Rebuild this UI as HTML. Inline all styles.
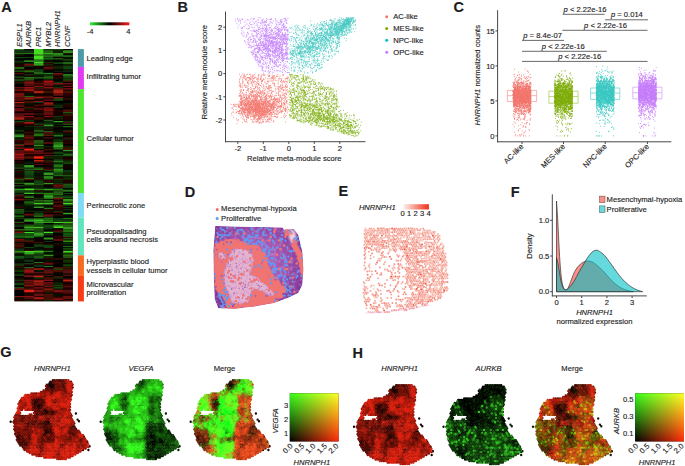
<!DOCTYPE html>
<html><head><meta charset="utf-8"><style>
html,body{margin:0;padding:0;background:#fff;}
svg{display:block;font-family:"Liberation Sans",sans-serif;font-size:7.6px;}
text{stroke:#222;stroke-width:.14px;fill:#1c1c1c}
</style></head><body>
<svg width="685" height="466" viewBox="0 0 685 466">
<text x="1.2" y="11.7" font-size="14.5" font-weight="bold">A</text>
<text x="177.6" y="11.7" font-size="14.5" font-weight="bold">B</text>
<text x="453.6" y="11.7" font-size="14.5" font-weight="bold">C</text>
<text x="184.8" y="196.6" font-size="14.5" font-weight="bold">D</text>
<text x="338.6" y="196.2" font-size="14.5" font-weight="bold">E</text>
<text x="510.8" y="196.6" font-size="14.5" font-weight="bold">F</text>
<text x="0.2" y="357.4" font-size="14.5" font-weight="bold">G</text>
<text x="352.4" y="358.2" font-size="14.5" font-weight="bold">H</text>
<rect x="14.5" y="49.1" width="58.3" height="252.1" fill="#000"/>
<path fill="#271" d="M14.5 49.1h9.77v1.31h-9.77zM24.22 52.88h9.77v1.31h-9.77zM24.22 76.82h9.77v1.31h-9.77zM53.37 99.5h9.77v1.31h-9.77zM33.93 134.78h9.77v1.31h-9.77zM53.37 134.78h9.77v1.31h-9.77zM53.37 143.6h9.77v1.31h-9.77zM53.37 165.02h9.77v2.57h-9.77zM33.93 168.8h9.77v1.31h-9.77zM53.37 170.06h9.77v1.31h-9.77zM24.22 171.32h9.77v1.31h-9.77zM53.37 171.32h9.77v1.31h-9.77zM53.37 175.1h9.77v1.31h-9.77zM24.22 177.62h9.77v1.31h-9.77zM43.65 177.62h9.77v1.31h-9.77zM24.22 183.92h9.77v1.31h-9.77zM14.5 185.18h9.77v1.31h-9.77zM24.22 187.7h9.77v1.31h-9.77zM33.93 188.96h9.77v1.31h-9.77zM53.37 188.96h9.77v1.31h-9.77zM33.93 192.74h9.77v1.31h-9.77zM53.37 194h9.77v1.31h-9.77zM63.08 196.52h9.77v1.31h-9.77zM43.65 197.78h9.77v1.31h-9.77zM43.65 207.86h9.77v1.31h-9.77zM14.5 210.38h9.77v1.31h-9.77zM63.08 217.94h9.77v1.31h-9.77zM43.65 219.2h9.77v2.57h-9.77zM43.65 225.5h9.77v1.31h-9.77zM33.93 229.28h9.77v1.31h-9.77zM24.22 235.58h9.77v1.31h-9.77zM33.93 235.58h9.77v1.31h-9.77zM43.65 250.7h9.77v1.31h-9.77zM33.93 262.04h9.77v1.31h-9.77zM43.65 265.82h9.77v1.31h-9.77zM53.37 268.34h9.77v1.31h-9.77zM14.5 283.46h9.77v1.31h-9.77z"/>
<path fill="#100" d="M24.22 49.1h9.77v1.31h-9.77zM24.22 54.14h9.77v1.31h-9.77zM53.37 56.66h9.77v1.31h-9.77zM33.93 65.48h9.77v1.31h-9.77zM33.93 66.74h9.77v2.57h-9.77zM14.5 71.78h9.77v1.31h-9.77zM24.22 73.04h9.77v1.31h-9.77zM53.37 75.56h9.77v1.31h-9.77zM14.5 78.08h9.77v1.31h-9.77zM43.65 79.34h9.77v1.31h-9.77zM63.08 84.38h9.77v1.31h-9.77zM14.5 85.64h9.77v1.31h-9.77zM63.08 86.9h9.77v1.31h-9.77zM43.65 89.42h9.77v1.31h-9.77zM33.93 93.2h9.77v2.57h-9.77zM43.65 93.2h9.77v2.57h-9.77zM63.08 99.5h9.77v1.31h-9.77zM14.5 107.06h9.77v1.31h-9.77zM63.08 107.06h9.77v1.31h-9.77zM33.93 109.58h9.77v1.31h-9.77zM24.22 112.1h9.77v1.31h-9.77zM53.37 112.1h9.77v1.31h-9.77zM53.37 113.36h9.77v1.31h-9.77zM24.22 114.62h9.77v1.31h-9.77zM33.93 114.62h9.77v1.31h-9.77zM43.65 117.14h9.77v2.57h-9.77zM63.08 119.66h9.77v1.31h-9.77zM33.93 120.92h9.77v1.31h-9.77zM14.5 124.7h9.77v1.31h-9.77zM24.22 129.74h9.77v1.31h-9.77zM43.65 138.56h9.77v1.31h-9.77zM43.65 139.82h9.77v2.57h-9.77zM24.22 144.86h9.77v1.31h-9.77zM63.08 144.86h9.77v1.31h-9.77zM43.65 151.16h9.77v1.31h-9.77zM63.08 151.16h9.77v1.31h-9.77zM43.65 153.68h9.77v1.31h-9.77zM63.08 156.2h9.77v2.57h-9.77zM43.65 158.72h9.77v1.31h-9.77zM14.5 159.98h9.77v1.31h-9.77zM14.5 162.5h9.77v1.31h-9.77zM43.65 165.02h9.77v2.57h-9.77zM63.08 165.02h9.77v2.57h-9.77zM63.08 167.54h9.77v1.31h-9.77zM14.5 168.8h9.77v1.31h-9.77zM14.5 176.36h9.77v1.31h-9.77zM14.5 183.92h9.77v1.31h-9.77zM43.65 186.44h9.77v1.31h-9.77zM43.65 191.48h9.77v1.31h-9.77zM53.37 200.3h9.77v1.31h-9.77zM14.5 202.82h9.77v1.31h-9.77zM53.37 202.82h9.77v1.31h-9.77zM63.08 207.86h9.77v1.31h-9.77zM63.08 215.42h9.77v1.31h-9.77zM24.22 216.68h9.77v1.31h-9.77zM24.22 222.98h9.77v1.31h-9.77zM14.5 226.76h9.77v1.31h-9.77zM43.65 230.54h9.77v1.31h-9.77zM14.5 238.1h9.77v1.31h-9.77zM24.22 243.14h9.77v1.31h-9.77zM53.37 251.96h9.77v1.31h-9.77zM53.37 254.48h9.77v1.31h-9.77zM24.22 258.26h9.77v1.31h-9.77zM63.08 258.26h9.77v1.31h-9.77zM14.5 262.04h9.77v1.31h-9.77zM53.37 262.04h9.77v1.31h-9.77zM53.37 263.3h9.77v1.31h-9.77zM53.37 272.12h9.77v1.31h-9.77zM33.93 273.38h9.77v1.31h-9.77zM63.08 277.16h9.77v1.31h-9.77zM24.22 278.42h9.77v1.31h-9.77zM33.93 278.42h9.77v1.31h-9.77zM53.37 278.42h9.77v1.31h-9.77zM43.65 280.94h9.77v1.31h-9.77zM14.5 298.58h9.77v1.31h-9.77zM63.08 298.58h9.77v1.31h-9.77z"/>
<path fill="#4d2" d="M33.93 49.1h9.77v1.31h-9.77zM33.93 50.36h9.77v2.57h-9.77zM33.93 52.88h9.77v1.31h-9.77zM33.93 55.4h9.77v1.31h-9.77zM33.93 56.66h9.77v1.31h-9.77zM33.93 57.92h9.77v1.31h-9.77zM33.93 61.7h9.77v1.31h-9.77zM33.93 64.22h9.77v1.31h-9.77zM24.22 188.96h9.77v1.31h-9.77zM24.22 196.52h9.77v1.31h-9.77zM63.08 202.82h9.77v1.31h-9.77zM53.37 221.72h9.77v1.31h-9.77zM53.37 226.76h9.77v1.31h-9.77zM24.22 231.8h9.77v1.31h-9.77zM43.65 231.8h9.77v1.31h-9.77zM24.22 250.7h9.77v1.31h-9.77zM63.08 250.7h9.77v1.31h-9.77zM24.22 253.22h9.77v1.31h-9.77z"/>
<path fill="#131" d="M43.65 49.1h9.77v1.31h-9.77zM14.5 50.36h9.77v2.57h-9.77zM24.22 50.36h9.77v2.57h-9.77zM53.37 59.18h9.77v1.31h-9.77zM53.37 61.7h9.77v1.31h-9.77zM53.37 70.52h9.77v1.31h-9.77zM14.5 75.56h9.77v1.31h-9.77zM33.93 78.08h9.77v1.31h-9.77zM53.37 81.86h9.77v1.31h-9.77zM53.37 86.9h9.77v1.31h-9.77zM33.93 98.24h9.77v1.31h-9.77zM33.93 102.02h9.77v1.31h-9.77zM53.37 107.06h9.77v1.31h-9.77zM53.37 115.88h9.77v1.31h-9.77zM24.22 119.66h9.77v1.31h-9.77zM63.08 120.92h9.77v1.31h-9.77zM43.65 122.18h9.77v1.31h-9.77zM33.93 125.96h9.77v1.31h-9.77zM43.65 125.96h9.77v1.31h-9.77zM14.5 129.74h9.77v1.31h-9.77zM53.37 133.52h9.77v1.31h-9.77zM53.37 138.56h9.77v1.31h-9.77zM63.08 138.56h9.77v1.31h-9.77zM53.37 151.16h9.77v1.31h-9.77zM63.08 152.42h9.77v1.31h-9.77zM53.37 158.72h9.77v1.31h-9.77zM24.22 170.06h9.77v1.31h-9.77zM63.08 170.06h9.77v1.31h-9.77zM63.08 171.32h9.77v1.31h-9.77zM24.22 175.1h9.77v1.31h-9.77zM24.22 176.36h9.77v1.31h-9.77zM33.93 176.36h9.77v1.31h-9.77zM43.65 178.88h9.77v1.31h-9.77zM53.37 182.66h9.77v1.31h-9.77zM14.5 187.7h9.77v1.31h-9.77zM33.93 187.7h9.77v1.31h-9.77zM43.65 187.7h9.77v1.31h-9.77zM53.37 187.7h9.77v1.31h-9.77zM14.5 194h9.77v1.31h-9.77zM33.93 197.78h9.77v1.31h-9.77zM24.22 199.04h9.77v1.31h-9.77zM43.65 204.08h9.77v1.31h-9.77zM63.08 206.6h9.77v1.31h-9.77zM63.08 209.12h9.77v1.31h-9.77zM33.93 210.38h9.77v1.31h-9.77zM43.65 216.68h9.77v1.31h-9.77zM53.37 217.94h9.77v1.31h-9.77zM63.08 219.2h9.77v2.57h-9.77zM14.5 224.24h9.77v1.31h-9.77zM43.65 228.02h9.77v1.31h-9.77zM43.65 233.06h9.77v2.57h-9.77zM43.65 240.62h9.77v1.31h-9.77zM33.93 245.66h9.77v1.31h-9.77zM14.5 248.18h9.77v1.31h-9.77zM14.5 249.44h9.77v1.31h-9.77zM33.93 249.44h9.77v1.31h-9.77zM63.08 249.44h9.77v1.31h-9.77zM24.22 255.74h9.77v2.57h-9.77zM24.22 259.52h9.77v2.57h-9.77zM14.5 263.3h9.77v1.31h-9.77zM33.93 265.82h9.77v1.31h-9.77zM14.5 279.68h9.77v1.31h-9.77zM14.5 282.2h9.77v1.31h-9.77z"/>
<path fill="#141" d="M53.37 49.1h9.77v1.31h-9.77zM14.5 56.66h9.77v1.31h-9.77zM24.22 56.66h9.77v1.31h-9.77zM43.65 56.66h9.77v1.31h-9.77zM43.65 59.18h9.77v1.31h-9.77zM14.5 60.44h9.77v1.31h-9.77zM53.37 62.96h9.77v1.31h-9.77zM43.65 64.22h9.77v1.31h-9.77zM24.22 65.48h9.77v1.31h-9.77zM63.08 65.48h9.77v1.31h-9.77zM63.08 66.74h9.77v2.57h-9.77zM33.93 69.26h9.77v1.31h-9.77zM33.93 70.52h9.77v1.31h-9.77zM63.08 70.52h9.77v1.31h-9.77zM24.22 74.3h9.77v1.31h-9.77zM14.5 76.82h9.77v1.31h-9.77zM63.08 76.82h9.77v1.31h-9.77zM43.65 78.08h9.77v1.31h-9.77zM53.37 104.54h9.77v1.31h-9.77zM14.5 120.92h9.77v1.31h-9.77zM43.65 123.44h9.77v1.31h-9.77zM53.37 123.44h9.77v1.31h-9.77zM53.37 136.04h9.77v1.31h-9.77zM14.5 138.56h9.77v1.31h-9.77zM14.5 143.6h9.77v1.31h-9.77zM53.37 148.64h9.77v1.31h-9.77zM53.37 154.94h9.77v1.31h-9.77zM53.37 159.98h9.77v1.31h-9.77zM63.08 161.24h9.77v1.31h-9.77zM24.22 162.5h9.77v1.31h-9.77zM24.22 167.54h9.77v1.31h-9.77zM53.37 167.54h9.77v1.31h-9.77zM43.65 170.06h9.77v1.31h-9.77zM33.93 171.32h9.77v1.31h-9.77zM24.22 172.58h9.77v2.57h-9.77zM53.37 172.58h9.77v2.57h-9.77zM33.93 180.14h9.77v2.57h-9.77zM33.93 182.66h9.77v1.31h-9.77zM14.5 190.22h9.77v1.31h-9.77zM24.22 191.48h9.77v1.31h-9.77zM33.93 191.48h9.77v1.31h-9.77zM63.08 192.74h9.77v1.31h-9.77zM24.22 195.26h9.77v1.31h-9.77zM63.08 195.26h9.77v1.31h-9.77zM43.65 201.56h9.77v1.31h-9.77zM24.22 202.82h9.77v1.31h-9.77zM24.22 210.38h9.77v1.31h-9.77zM53.37 210.38h9.77v1.31h-9.77zM14.5 211.64h9.77v1.31h-9.77zM14.5 212.9h9.77v1.31h-9.77zM33.93 212.9h9.77v1.31h-9.77zM33.93 214.16h9.77v1.31h-9.77zM24.22 217.94h9.77v1.31h-9.77zM53.37 219.2h9.77v2.57h-9.77zM24.22 224.24h9.77v1.31h-9.77zM43.65 224.24h9.77v1.31h-9.77zM14.5 225.5h9.77v1.31h-9.77zM33.93 225.5h9.77v1.31h-9.77zM14.5 233.06h9.77v2.57h-9.77zM43.65 236.84h9.77v1.31h-9.77zM24.22 239.36h9.77v1.31h-9.77zM63.08 243.14h9.77v1.31h-9.77zM43.65 244.4h9.77v1.31h-9.77zM43.65 245.66h9.77v1.31h-9.77zM24.22 246.92h9.77v1.31h-9.77zM43.65 246.92h9.77v1.31h-9.77zM24.22 254.48h9.77v1.31h-9.77zM33.93 254.48h9.77v1.31h-9.77zM14.5 258.26h9.77v1.31h-9.77zM33.93 258.26h9.77v1.31h-9.77zM33.93 264.56h9.77v1.31h-9.77zM14.5 274.64h9.77v1.31h-9.77zM33.93 277.16h9.77v1.31h-9.77zM53.37 277.16h9.77v1.31h-9.77zM53.37 284.72h9.77v1.31h-9.77z"/>
<path fill="#000" d="M63.08 49.1h9.77v1.31h-9.77zM63.08 54.14h9.77v1.31h-9.77zM14.5 55.4h9.77v1.31h-9.77zM24.22 55.4h9.77v1.31h-9.77zM24.22 57.92h9.77v1.31h-9.77zM14.5 59.18h9.77v1.31h-9.77zM43.65 60.44h9.77v1.31h-9.77zM53.37 60.44h9.77v1.31h-9.77zM24.22 61.7h9.77v1.31h-9.77zM53.37 64.22h9.77v1.31h-9.77zM24.22 66.74h9.77v2.57h-9.77zM14.5 69.26h9.77v1.31h-9.77zM53.37 69.26h9.77v1.31h-9.77zM43.65 70.52h9.77v1.31h-9.77zM53.37 71.78h9.77v1.31h-9.77zM63.08 73.04h9.77v1.31h-9.77zM14.5 74.3h9.77v1.31h-9.77zM33.93 75.56h9.77v1.31h-9.77zM33.93 79.34h9.77v1.31h-9.77zM53.37 79.34h9.77v1.31h-9.77zM63.08 81.86h9.77v1.31h-9.77zM14.5 84.38h9.77v1.31h-9.77zM53.37 95.72h9.77v1.31h-9.77zM63.08 96.98h9.77v1.31h-9.77zM24.22 99.5h9.77v1.31h-9.77zM33.93 99.5h9.77v1.31h-9.77zM43.65 100.76h9.77v1.31h-9.77zM53.37 100.76h9.77v1.31h-9.77zM63.08 100.76h9.77v1.31h-9.77zM53.37 102.02h9.77v1.31h-9.77zM63.08 102.02h9.77v1.31h-9.77zM33.93 103.28h9.77v1.31h-9.77zM43.65 105.8h9.77v1.31h-9.77zM53.37 108.32h9.77v1.31h-9.77zM63.08 108.32h9.77v1.31h-9.77zM14.5 112.1h9.77v1.31h-9.77zM33.93 112.1h9.77v1.31h-9.77zM33.93 115.88h9.77v1.31h-9.77zM33.93 119.66h9.77v1.31h-9.77zM53.37 119.66h9.77v1.31h-9.77zM53.37 122.18h9.77v1.31h-9.77zM53.37 124.7h9.77v1.31h-9.77zM63.08 124.7h9.77v1.31h-9.77zM14.5 125.96h9.77v1.31h-9.77zM53.37 127.22h9.77v2.57h-9.77zM63.08 127.22h9.77v2.57h-9.77zM53.37 131h9.77v1.31h-9.77zM24.22 133.52h9.77v1.31h-9.77zM43.65 136.04h9.77v1.31h-9.77zM63.08 136.04h9.77v1.31h-9.77zM43.65 143.6h9.77v1.31h-9.77zM63.08 143.6h9.77v1.31h-9.77zM43.65 144.86h9.77v1.31h-9.77zM24.22 146.12h9.77v1.31h-9.77zM43.65 147.38h9.77v1.31h-9.77zM33.93 148.64h9.77v1.31h-9.77zM53.37 149.9h9.77v1.31h-9.77zM24.22 154.94h9.77v1.31h-9.77zM24.22 158.72h9.77v1.31h-9.77zM24.22 159.98h9.77v1.31h-9.77zM33.93 162.5h9.77v1.31h-9.77zM24.22 163.76h9.77v1.31h-9.77zM33.93 165.02h9.77v2.57h-9.77zM63.08 168.8h9.77v1.31h-9.77zM43.65 175.1h9.77v1.31h-9.77zM24.22 180.14h9.77v2.57h-9.77zM43.65 185.18h9.77v1.31h-9.77zM14.5 186.44h9.77v1.31h-9.77zM63.08 191.48h9.77v1.31h-9.77zM24.22 194h9.77v1.31h-9.77zM63.08 194h9.77v1.31h-9.77zM33.93 195.26h9.77v1.31h-9.77zM14.5 201.56h9.77v1.31h-9.77zM63.08 205.34h9.77v1.31h-9.77zM33.93 207.86h9.77v1.31h-9.77zM24.22 209.12h9.77v1.31h-9.77zM33.93 209.12h9.77v1.31h-9.77zM63.08 210.38h9.77v1.31h-9.77zM24.22 211.64h9.77v1.31h-9.77zM43.65 212.9h9.77v1.31h-9.77zM53.37 212.9h9.77v1.31h-9.77zM63.08 214.16h9.77v1.31h-9.77zM53.37 216.68h9.77v1.31h-9.77zM14.5 219.2h9.77v2.57h-9.77zM24.22 221.72h9.77v1.31h-9.77zM43.65 222.98h9.77v1.31h-9.77zM14.5 228.02h9.77v1.31h-9.77zM53.37 233.06h9.77v2.57h-9.77zM43.65 235.58h9.77v1.31h-9.77zM24.22 238.1h9.77v1.31h-9.77zM33.93 238.1h9.77v1.31h-9.77zM43.65 239.36h9.77v1.31h-9.77zM33.93 240.62h9.77v1.31h-9.77zM53.37 240.62h9.77v1.31h-9.77zM43.65 241.88h9.77v1.31h-9.77zM53.37 241.88h9.77v1.31h-9.77zM24.22 244.4h9.77v1.31h-9.77zM24.22 245.66h9.77v1.31h-9.77zM53.37 245.66h9.77v1.31h-9.77zM53.37 246.92h9.77v1.31h-9.77zM53.37 248.18h9.77v1.31h-9.77zM53.37 249.44h9.77v1.31h-9.77zM53.37 250.7h9.77v1.31h-9.77zM14.5 254.48h9.77v1.31h-9.77zM53.37 255.74h9.77v2.57h-9.77zM33.93 259.52h9.77v2.57h-9.77zM53.37 259.52h9.77v2.57h-9.77zM24.22 262.04h9.77v1.31h-9.77zM63.08 263.3h9.77v1.31h-9.77zM53.37 264.56h9.77v1.31h-9.77zM24.22 265.82h9.77v1.31h-9.77zM53.37 265.82h9.77v1.31h-9.77zM33.93 267.08h9.77v1.31h-9.77zM43.65 267.08h9.77v1.31h-9.77zM14.5 268.34h9.77v1.31h-9.77zM14.5 272.12h9.77v1.31h-9.77zM24.22 273.38h9.77v1.31h-9.77zM53.37 274.64h9.77v1.31h-9.77zM14.5 275.9h9.77v1.31h-9.77zM43.65 275.9h9.77v1.31h-9.77zM63.08 275.9h9.77v1.31h-9.77zM24.22 277.16h9.77v1.31h-9.77zM53.37 280.94h9.77v1.31h-9.77zM63.08 282.2h9.77v1.31h-9.77zM14.5 285.98h9.77v1.31h-9.77zM14.5 289.76h9.77v2.57h-9.77zM14.5 292.28h9.77v1.31h-9.77zM14.5 293.54h9.77v2.57h-9.77z"/>
<path fill="#261" d="M43.65 50.36h9.77v2.57h-9.77zM14.5 52.88h9.77v1.31h-9.77zM43.65 54.14h9.77v1.31h-9.77zM53.37 55.4h9.77v1.31h-9.77zM43.65 57.92h9.77v1.31h-9.77zM63.08 61.7h9.77v1.31h-9.77zM63.08 62.96h9.77v1.31h-9.77zM14.5 66.74h9.77v2.57h-9.77zM14.5 70.52h9.77v1.31h-9.77zM33.93 71.78h9.77v1.31h-9.77zM33.93 73.04h9.77v1.31h-9.77zM63.08 75.56h9.77v1.31h-9.77zM43.65 76.82h9.77v1.31h-9.77zM63.08 79.34h9.77v1.31h-9.77zM24.22 95.72h9.77v1.31h-9.77zM63.08 112.1h9.77v1.31h-9.77zM63.08 123.44h9.77v1.31h-9.77zM63.08 125.96h9.77v1.31h-9.77zM14.5 133.52h9.77v1.31h-9.77zM33.93 147.38h9.77v1.31h-9.77zM53.37 152.42h9.77v1.31h-9.77zM63.08 153.68h9.77v1.31h-9.77zM33.93 167.54h9.77v1.31h-9.77zM63.08 185.18h9.77v1.31h-9.77zM14.5 191.48h9.77v1.31h-9.77zM43.65 194h9.77v1.31h-9.77zM63.08 204.08h9.77v1.31h-9.77zM43.65 217.94h9.77v1.31h-9.77zM33.93 224.24h9.77v1.31h-9.77zM63.08 224.24h9.77v1.31h-9.77zM63.08 225.5h9.77v1.31h-9.77zM24.22 228.02h9.77v1.31h-9.77zM33.93 231.8h9.77v1.31h-9.77zM14.5 235.58h9.77v1.31h-9.77zM63.08 235.58h9.77v1.31h-9.77zM24.22 236.84h9.77v1.31h-9.77zM63.08 238.1h9.77v1.31h-9.77zM63.08 245.66h9.77v1.31h-9.77zM14.5 251.96h9.77v1.31h-9.77zM63.08 264.56h9.77v1.31h-9.77zM24.22 267.08h9.77v1.31h-9.77zM14.5 287.24h9.77v1.31h-9.77z"/>
<path fill="#120" d="M53.37 50.36h9.77v2.57h-9.77zM63.08 52.88h9.77v1.31h-9.77zM14.5 54.14h9.77v1.31h-9.77zM14.5 61.7h9.77v1.31h-9.77zM24.22 62.96h9.77v1.31h-9.77zM63.08 64.22h9.77v1.31h-9.77zM53.37 65.48h9.77v1.31h-9.77zM53.37 66.74h9.77v2.57h-9.77zM63.08 69.26h9.77v1.31h-9.77zM24.22 71.78h9.77v1.31h-9.77zM53.37 84.38h9.77v1.31h-9.77zM33.93 86.9h9.77v1.31h-9.77zM63.08 103.28h9.77v1.31h-9.77zM53.37 105.8h9.77v1.31h-9.77zM24.22 108.32h9.77v1.31h-9.77zM63.08 113.36h9.77v1.31h-9.77zM53.37 117.14h9.77v2.57h-9.77zM24.22 120.92h9.77v1.31h-9.77zM24.22 125.96h9.77v1.31h-9.77zM53.37 125.96h9.77v1.31h-9.77zM33.93 127.22h9.77v2.57h-9.77zM43.65 127.22h9.77v2.57h-9.77zM63.08 129.74h9.77v1.31h-9.77zM14.5 131h9.77v1.31h-9.77zM53.37 132.26h9.77v1.31h-9.77zM63.08 133.52h9.77v1.31h-9.77zM33.93 136.04h9.77v1.31h-9.77zM33.93 143.6h9.77v1.31h-9.77zM43.65 146.12h9.77v1.31h-9.77zM63.08 146.12h9.77v1.31h-9.77zM43.65 156.2h9.77v2.57h-9.77zM53.37 156.2h9.77v2.57h-9.77zM43.65 159.98h9.77v1.31h-9.77zM63.08 159.98h9.77v1.31h-9.77zM14.5 163.76h9.77v1.31h-9.77zM14.5 165.02h9.77v2.57h-9.77zM14.5 170.06h9.77v1.31h-9.77zM63.08 172.58h9.77v2.57h-9.77zM33.93 178.88h9.77v1.31h-9.77zM63.08 178.88h9.77v1.31h-9.77zM14.5 180.14h9.77v2.57h-9.77zM53.37 180.14h9.77v2.57h-9.77zM63.08 182.66h9.77v1.31h-9.77zM43.65 183.92h9.77v1.31h-9.77zM33.93 185.18h9.77v1.31h-9.77zM63.08 188.96h9.77v1.31h-9.77zM43.65 190.22h9.77v1.31h-9.77zM63.08 197.78h9.77v1.31h-9.77zM33.93 199.04h9.77v1.31h-9.77zM24.22 200.3h9.77v1.31h-9.77zM33.93 201.56h9.77v1.31h-9.77zM14.5 205.34h9.77v1.31h-9.77zM43.65 206.6h9.77v1.31h-9.77zM43.65 210.38h9.77v1.31h-9.77zM33.93 211.64h9.77v1.31h-9.77zM63.08 211.64h9.77v1.31h-9.77zM14.5 216.68h9.77v1.31h-9.77zM53.37 222.98h9.77v1.31h-9.77zM53.37 231.8h9.77v1.31h-9.77zM63.08 239.36h9.77v1.31h-9.77zM53.37 243.14h9.77v1.31h-9.77zM43.65 249.44h9.77v1.31h-9.77zM14.5 253.22h9.77v1.31h-9.77zM63.08 253.22h9.77v1.31h-9.77zM43.65 255.74h9.77v2.57h-9.77zM63.08 262.04h9.77v1.31h-9.77zM63.08 265.82h9.77v1.31h-9.77zM14.5 267.08h9.77v1.31h-9.77zM63.08 268.34h9.77v1.31h-9.77zM14.5 278.42h9.77v1.31h-9.77zM53.37 282.2h9.77v1.31h-9.77zM53.37 283.46h9.77v1.31h-9.77zM53.37 285.98h9.77v1.31h-9.77zM24.22 299.84h9.77v1.41h-9.77zM43.65 299.84h9.77v1.41h-9.77z"/>
<path fill="#382" d="M63.08 50.36h9.77v2.57h-9.77zM53.37 52.88h9.77v1.31h-9.77zM43.65 55.4h9.77v1.31h-9.77zM14.5 134.78h9.77v1.31h-9.77zM33.93 144.86h9.77v1.31h-9.77zM53.37 191.48h9.77v1.31h-9.77zM53.37 196.52h9.77v1.31h-9.77z"/>
<path fill="#3a2" d="M43.65 52.88h9.77v1.31h-9.77zM53.37 54.14h9.77v1.31h-9.77zM63.08 55.4h9.77v1.31h-9.77zM33.93 59.18h9.77v1.31h-9.77zM63.08 74.3h9.77v1.31h-9.77zM53.37 120.92h9.77v1.31h-9.77zM53.37 146.12h9.77v1.31h-9.77zM43.65 176.36h9.77v1.31h-9.77zM43.65 188.96h9.77v1.31h-9.77zM43.65 195.26h9.77v1.31h-9.77zM43.65 196.52h9.77v1.31h-9.77zM63.08 212.9h9.77v1.31h-9.77zM24.22 226.76h9.77v1.31h-9.77zM24.22 251.96h9.77v1.31h-9.77z"/>
<path fill="#4b2" d="M33.93 54.14h9.77v1.31h-9.77zM63.08 200.3h9.77v1.31h-9.77zM43.65 202.82h9.77v1.31h-9.77zM63.08 221.72h9.77v1.31h-9.77zM33.93 226.76h9.77v1.31h-9.77zM33.93 250.7h9.77v1.31h-9.77zM43.65 254.48h9.77v1.31h-9.77z"/>
<path fill="#010" d="M63.08 56.66h9.77v1.31h-9.77zM14.5 57.92h9.77v1.31h-9.77zM63.08 57.92h9.77v1.31h-9.77zM24.22 59.18h9.77v1.31h-9.77zM63.08 60.44h9.77v1.31h-9.77zM14.5 62.96h9.77v1.31h-9.77zM43.65 71.78h9.77v1.31h-9.77zM63.08 71.78h9.77v1.31h-9.77zM43.65 74.3h9.77v1.31h-9.77zM53.37 78.08h9.77v1.31h-9.77zM14.5 80.6h9.77v1.31h-9.77zM53.37 80.6h9.77v1.31h-9.77zM14.5 83.12h9.77v1.31h-9.77zM53.37 85.64h9.77v1.31h-9.77zM24.22 93.2h9.77v2.57h-9.77zM14.5 103.28h9.77v1.31h-9.77zM24.22 103.28h9.77v1.31h-9.77zM53.37 103.28h9.77v1.31h-9.77zM24.22 104.54h9.77v1.31h-9.77zM14.5 119.66h9.77v1.31h-9.77zM33.93 122.18h9.77v1.31h-9.77zM14.5 127.22h9.77v2.57h-9.77zM24.22 127.22h9.77v2.57h-9.77zM53.37 129.74h9.77v1.31h-9.77zM14.5 132.26h9.77v1.31h-9.77zM33.93 132.26h9.77v1.31h-9.77zM63.08 134.78h9.77v1.31h-9.77zM14.5 137.3h9.77v1.31h-9.77zM33.93 137.3h9.77v1.31h-9.77zM53.37 137.3h9.77v1.31h-9.77zM14.5 146.12h9.77v1.31h-9.77zM14.5 148.64h9.77v1.31h-9.77zM53.37 153.68h9.77v1.31h-9.77zM24.22 161.24h9.77v1.31h-9.77zM63.08 163.76h9.77v1.31h-9.77zM43.65 171.32h9.77v1.31h-9.77zM14.5 172.58h9.77v2.57h-9.77zM33.93 172.58h9.77v2.57h-9.77zM33.93 175.1h9.77v1.31h-9.77zM53.37 176.36h9.77v1.31h-9.77zM63.08 176.36h9.77v1.31h-9.77zM24.22 186.44h9.77v1.31h-9.77zM63.08 187.7h9.77v1.31h-9.77zM14.5 192.74h9.77v1.31h-9.77zM33.93 196.52h9.77v1.31h-9.77zM43.65 199.04h9.77v1.31h-9.77zM14.5 204.08h9.77v1.31h-9.77zM24.22 205.34h9.77v1.31h-9.77zM33.93 205.34h9.77v1.31h-9.77zM43.65 205.34h9.77v1.31h-9.77zM24.22 206.6h9.77v1.31h-9.77zM14.5 207.86h9.77v1.31h-9.77zM24.22 207.86h9.77v1.31h-9.77zM14.5 214.16h9.77v1.31h-9.77zM24.22 215.42h9.77v1.31h-9.77zM53.37 215.42h9.77v1.31h-9.77zM33.93 216.68h9.77v1.31h-9.77zM63.08 216.68h9.77v1.31h-9.77zM53.37 228.02h9.77v1.31h-9.77zM43.65 229.28h9.77v1.31h-9.77zM24.22 230.54h9.77v1.31h-9.77zM33.93 236.84h9.77v1.31h-9.77zM14.5 241.88h9.77v1.31h-9.77zM33.93 243.14h9.77v1.31h-9.77zM63.08 244.4h9.77v1.31h-9.77zM33.93 246.92h9.77v1.31h-9.77zM63.08 246.92h9.77v1.31h-9.77zM24.22 248.18h9.77v1.31h-9.77zM33.93 248.18h9.77v1.31h-9.77zM43.65 251.96h9.77v1.31h-9.77zM43.65 253.22h9.77v1.31h-9.77zM53.37 253.22h9.77v1.31h-9.77zM14.5 259.52h9.77v2.57h-9.77zM43.65 259.52h9.77v2.57h-9.77zM43.65 264.56h9.77v1.31h-9.77zM33.93 269.6h9.77v2.57h-9.77zM43.65 273.38h9.77v1.31h-9.77zM53.37 273.38h9.77v1.31h-9.77zM63.08 273.38h9.77v1.31h-9.77zM53.37 279.68h9.77v1.31h-9.77zM14.5 284.72h9.77v1.31h-9.77zM43.65 287.24h9.77v1.31h-9.77zM53.37 288.5h9.77v1.31h-9.77zM43.65 292.28h9.77v1.31h-9.77zM53.37 293.54h9.77v2.57h-9.77zM14.5 297.32h9.77v1.31h-9.77z"/>
<path fill="#251" d="M53.37 57.92h9.77v1.31h-9.77zM63.08 59.18h9.77v1.31h-9.77zM43.65 75.56h9.77v1.31h-9.77zM33.93 76.82h9.77v1.31h-9.77zM24.22 78.08h9.77v1.31h-9.77zM14.5 79.34h9.77v1.31h-9.77zM24.22 79.34h9.77v1.31h-9.77zM53.37 98.24h9.77v1.31h-9.77zM43.65 119.66h9.77v1.31h-9.77zM33.93 123.44h9.77v1.31h-9.77zM33.93 129.74h9.77v1.31h-9.77zM33.93 131h9.77v1.31h-9.77zM43.65 131h9.77v1.31h-9.77zM33.93 139.82h9.77v2.57h-9.77zM33.93 142.34h9.77v1.31h-9.77zM63.08 154.94h9.77v1.31h-9.77zM63.08 162.5h9.77v1.31h-9.77zM14.5 167.54h9.77v1.31h-9.77zM24.22 168.8h9.77v1.31h-9.77zM63.08 175.1h9.77v1.31h-9.77zM14.5 182.66h9.77v1.31h-9.77zM33.93 183.92h9.77v1.31h-9.77zM63.08 183.92h9.77v1.31h-9.77zM63.08 186.44h9.77v1.31h-9.77zM24.22 190.22h9.77v1.31h-9.77zM53.37 190.22h9.77v1.31h-9.77zM53.37 192.74h9.77v1.31h-9.77zM63.08 201.56h9.77v1.31h-9.77zM14.5 209.12h9.77v1.31h-9.77zM33.93 217.94h9.77v1.31h-9.77zM14.5 221.72h9.77v1.31h-9.77zM63.08 222.98h9.77v1.31h-9.77zM53.37 224.24h9.77v1.31h-9.77zM33.93 228.02h9.77v1.31h-9.77zM63.08 229.28h9.77v1.31h-9.77zM33.93 230.54h9.77v1.31h-9.77zM33.93 244.4h9.77v1.31h-9.77zM63.08 248.18h9.77v1.31h-9.77zM33.93 253.22h9.77v1.31h-9.77zM33.93 255.74h9.77v2.57h-9.77zM63.08 255.74h9.77v2.57h-9.77zM24.22 263.3h9.77v1.31h-9.77zM14.5 264.56h9.77v1.31h-9.77zM53.37 287.24h9.77v1.31h-9.77z"/>
<path fill="#3b2" d="M24.22 60.44h9.77v1.31h-9.77zM33.93 219.2h9.77v2.57h-9.77zM63.08 230.54h9.77v1.31h-9.77z"/>
<path fill="#392" d="M33.93 60.44h9.77v1.31h-9.77zM33.93 62.96h9.77v1.31h-9.77zM43.65 124.7h9.77v1.31h-9.77zM14.5 136.04h9.77v1.31h-9.77zM53.37 144.86h9.77v1.31h-9.77zM63.08 149.9h9.77v1.31h-9.77zM53.37 161.24h9.77v1.31h-9.77zM24.22 165.02h9.77v2.57h-9.77zM53.37 168.8h9.77v1.31h-9.77zM43.65 172.58h9.77v2.57h-9.77zM24.22 182.66h9.77v1.31h-9.77zM43.65 182.66h9.77v1.31h-9.77zM14.5 188.96h9.77v1.31h-9.77zM63.08 190.22h9.77v1.31h-9.77zM63.08 199.04h9.77v1.31h-9.77zM43.65 200.3h9.77v1.31h-9.77zM33.93 206.6h9.77v1.31h-9.77zM24.22 219.2h9.77v2.57h-9.77zM33.93 221.72h9.77v1.31h-9.77zM43.65 221.72h9.77v1.31h-9.77zM63.08 226.76h9.77v1.31h-9.77zM63.08 228.02h9.77v1.31h-9.77zM24.22 229.28h9.77v1.31h-9.77zM33.93 233.06h9.77v2.57h-9.77zM43.65 238.1h9.77v1.31h-9.77z"/>
<path fill="#130" d="M43.65 61.7h9.77v1.31h-9.77zM33.93 74.3h9.77v1.31h-9.77zM63.08 78.08h9.77v1.31h-9.77zM43.65 133.52h9.77v1.31h-9.77zM53.37 139.82h9.77v2.57h-9.77zM33.93 146.12h9.77v1.31h-9.77zM63.08 177.62h9.77v1.31h-9.77zM53.37 178.88h9.77v1.31h-9.77zM24.22 185.18h9.77v1.31h-9.77zM33.93 186.44h9.77v1.31h-9.77zM53.37 195.26h9.77v1.31h-9.77zM24.22 204.08h9.77v1.31h-9.77zM33.93 204.08h9.77v1.31h-9.77zM14.5 217.94h9.77v1.31h-9.77zM43.65 226.76h9.77v1.31h-9.77zM63.08 231.8h9.77v1.31h-9.77zM63.08 259.52h9.77v2.57h-9.77zM14.5 269.6h9.77v2.57h-9.77zM14.5 273.38h9.77v1.31h-9.77z"/>
<path fill="#300" d="M43.65 62.96h9.77v1.31h-9.77zM14.5 65.48h9.77v1.31h-9.77zM43.65 65.48h9.77v1.31h-9.77zM24.22 69.26h9.77v1.31h-9.77zM53.37 76.82h9.77v1.31h-9.77zM33.93 81.86h9.77v1.31h-9.77zM43.65 85.64h9.77v1.31h-9.77zM24.22 90.68h9.77v2.57h-9.77zM63.08 93.2h9.77v2.57h-9.77zM63.08 104.54h9.77v1.31h-9.77zM14.5 110.84h9.77v1.31h-9.77zM24.22 110.84h9.77v1.31h-9.77zM43.65 114.62h9.77v1.31h-9.77zM24.22 117.14h9.77v2.57h-9.77zM14.5 123.44h9.77v1.31h-9.77zM33.93 124.7h9.77v1.31h-9.77zM24.22 138.56h9.77v1.31h-9.77zM14.5 139.82h9.77v2.57h-9.77zM63.08 142.34h9.77v1.31h-9.77zM24.22 153.68h9.77v1.31h-9.77zM33.93 154.94h9.77v1.31h-9.77zM63.08 158.72h9.77v1.31h-9.77zM14.5 161.24h9.77v1.31h-9.77zM43.65 163.76h9.77v1.31h-9.77zM43.65 167.54h9.77v1.31h-9.77zM14.5 171.32h9.77v1.31h-9.77zM53.37 177.62h9.77v1.31h-9.77zM43.65 180.14h9.77v2.57h-9.77zM14.5 197.78h9.77v1.31h-9.77zM53.37 204.08h9.77v1.31h-9.77zM14.5 206.6h9.77v1.31h-9.77zM53.37 206.6h9.77v1.31h-9.77zM53.37 207.86h9.77v1.31h-9.77zM43.65 209.12h9.77v1.31h-9.77zM43.65 211.64h9.77v1.31h-9.77zM53.37 235.58h9.77v1.31h-9.77zM63.08 236.84h9.77v1.31h-9.77zM14.5 246.92h9.77v1.31h-9.77zM24.22 249.44h9.77v1.31h-9.77zM43.65 258.26h9.77v1.31h-9.77zM43.65 262.04h9.77v1.31h-9.77zM33.93 263.3h9.77v1.31h-9.77zM14.5 265.82h9.77v1.31h-9.77zM43.65 268.34h9.77v1.31h-9.77zM63.08 283.46h9.77v1.31h-9.77zM63.08 284.72h9.77v1.31h-9.77zM24.22 287.24h9.77v1.31h-9.77zM63.08 287.24h9.77v1.31h-9.77zM33.93 288.5h9.77v1.31h-9.77zM24.22 292.28h9.77v1.31h-9.77zM53.37 292.28h9.77v1.31h-9.77zM14.5 299.84h9.77v1.41h-9.77z"/>
<path fill="#200" d="M14.5 64.22h9.77v1.31h-9.77zM43.65 69.26h9.77v1.31h-9.77zM24.22 75.56h9.77v1.31h-9.77zM33.93 80.6h9.77v1.31h-9.77zM33.93 84.38h9.77v1.31h-9.77zM24.22 85.64h9.77v1.31h-9.77zM33.93 89.42h9.77v1.31h-9.77zM63.08 89.42h9.77v1.31h-9.77zM14.5 90.68h9.77v2.57h-9.77zM63.08 95.72h9.77v1.31h-9.77zM43.65 98.24h9.77v1.31h-9.77zM14.5 100.76h9.77v1.31h-9.77zM24.22 105.8h9.77v1.31h-9.77zM33.93 105.8h9.77v1.31h-9.77zM63.08 105.8h9.77v1.31h-9.77zM33.93 107.06h9.77v1.31h-9.77zM24.22 109.58h9.77v1.31h-9.77zM53.37 109.58h9.77v1.31h-9.77zM33.93 110.84h9.77v1.31h-9.77zM53.37 110.84h9.77v1.31h-9.77zM53.37 114.62h9.77v1.31h-9.77zM63.08 115.88h9.77v1.31h-9.77zM63.08 117.14h9.77v2.57h-9.77zM24.22 123.44h9.77v1.31h-9.77zM24.22 124.7h9.77v1.31h-9.77zM43.65 129.74h9.77v1.31h-9.77zM24.22 131h9.77v1.31h-9.77zM63.08 132.26h9.77v1.31h-9.77zM33.93 138.56h9.77v1.31h-9.77zM63.08 139.82h9.77v2.57h-9.77zM14.5 142.34h9.77v1.31h-9.77zM43.65 149.9h9.77v1.31h-9.77zM33.93 153.68h9.77v1.31h-9.77zM33.93 158.72h9.77v1.31h-9.77zM43.65 162.5h9.77v1.31h-9.77zM33.93 170.06h9.77v1.31h-9.77zM14.5 175.1h9.77v1.31h-9.77zM33.93 177.62h9.77v1.31h-9.77zM63.08 180.14h9.77v2.57h-9.77zM33.93 194h9.77v1.31h-9.77zM14.5 196.52h9.77v1.31h-9.77zM24.22 197.78h9.77v1.31h-9.77zM14.5 200.3h9.77v1.31h-9.77zM53.37 209.12h9.77v1.31h-9.77zM24.22 212.9h9.77v1.31h-9.77zM14.5 222.98h9.77v1.31h-9.77zM53.37 229.28h9.77v1.31h-9.77zM53.37 236.84h9.77v1.31h-9.77zM53.37 238.1h9.77v1.31h-9.77zM33.93 239.36h9.77v1.31h-9.77zM24.22 241.88h9.77v1.31h-9.77zM43.65 243.14h9.77v1.31h-9.77zM53.37 244.4h9.77v1.31h-9.77zM43.65 248.18h9.77v1.31h-9.77zM24.22 264.56h9.77v1.31h-9.77zM14.5 277.16h9.77v1.31h-9.77zM14.5 280.94h9.77v1.31h-9.77zM33.93 285.98h9.77v1.31h-9.77zM63.08 288.5h9.77v1.31h-9.77zM33.93 292.28h9.77v1.31h-9.77zM24.22 293.54h9.77v2.57h-9.77zM63.08 293.54h9.77v2.57h-9.77zM33.93 296.06h9.77v1.31h-9.77zM53.37 296.06h9.77v1.31h-9.77zM24.22 298.58h9.77v1.31h-9.77zM33.93 299.84h9.77v1.41h-9.77zM53.37 299.84h9.77v1.41h-9.77z"/>
<path fill="#911" d="M24.22 64.22h9.77v1.31h-9.77zM24.22 86.9h9.77v1.31h-9.77zM43.65 109.58h9.77v1.31h-9.77zM14.5 147.38h9.77v1.31h-9.77zM14.5 156.2h9.77v2.57h-9.77zM14.5 239.36h9.77v1.31h-9.77zM24.22 269.6h9.77v2.57h-9.77zM33.93 287.24h9.77v1.31h-9.77z"/>
<path fill="#511" d="M43.65 66.74h9.77v2.57h-9.77zM33.93 88.16h9.77v1.31h-9.77zM14.5 105.8h9.77v1.31h-9.77zM43.65 107.06h9.77v1.31h-9.77zM63.08 109.58h9.77v1.31h-9.77zM43.65 112.1h9.77v1.31h-9.77zM14.5 114.62h9.77v1.31h-9.77zM63.08 122.18h9.77v1.31h-9.77zM63.08 131h9.77v1.31h-9.77zM43.65 137.3h9.77v1.31h-9.77zM24.22 147.38h9.77v1.31h-9.77zM14.5 149.9h9.77v1.31h-9.77zM43.65 154.94h9.77v1.31h-9.77zM14.5 158.72h9.77v1.31h-9.77zM43.65 161.24h9.77v1.31h-9.77zM33.93 163.76h9.77v1.31h-9.77zM53.37 186.44h9.77v1.31h-9.77zM14.5 243.14h9.77v1.31h-9.77zM43.65 269.6h9.77v2.57h-9.77zM63.08 269.6h9.77v2.57h-9.77zM33.93 272.12h9.77v1.31h-9.77zM63.08 272.12h9.77v1.31h-9.77zM24.22 274.64h9.77v1.31h-9.77zM63.08 274.64h9.77v1.31h-9.77zM63.08 278.42h9.77v1.31h-9.77zM63.08 285.98h9.77v1.31h-9.77zM63.08 289.76h9.77v2.57h-9.77zM43.65 297.32h9.77v1.31h-9.77z"/>
<path fill="#381" d="M24.22 70.52h9.77v1.31h-9.77zM33.93 133.52h9.77v1.31h-9.77zM53.37 147.38h9.77v1.31h-9.77zM33.93 200.3h9.77v1.31h-9.77zM33.93 215.42h9.77v1.31h-9.77zM24.22 225.5h9.77v1.31h-9.77zM14.5 229.28h9.77v1.31h-9.77zM63.08 240.62h9.77v1.31h-9.77zM14.5 250.7h9.77v1.31h-9.77zM63.08 251.96h9.77v1.31h-9.77zM63.08 254.48h9.77v1.31h-9.77z"/>
<path fill="#510" d="M14.5 73.04h9.77v1.31h-9.77zM53.37 74.3h9.77v1.31h-9.77zM33.93 83.12h9.77v1.31h-9.77zM33.93 104.54h9.77v1.31h-9.77zM24.22 156.2h9.77v2.57h-9.77zM24.22 178.88h9.77v1.31h-9.77z"/>
<path fill="#281" d="M43.65 73.04h9.77v1.31h-9.77zM53.37 142.34h9.77v1.31h-9.77zM43.65 192.74h9.77v1.31h-9.77zM24.22 201.56h9.77v1.31h-9.77zM14.5 215.42h9.77v1.31h-9.77zM33.93 251.96h9.77v1.31h-9.77z"/>
<path fill="#711" d="M53.37 73.04h9.77v1.31h-9.77zM43.65 81.86h9.77v1.31h-9.77zM43.65 83.12h9.77v1.31h-9.77zM24.22 84.38h9.77v1.31h-9.77zM43.65 84.38h9.77v1.31h-9.77zM63.08 85.64h9.77v1.31h-9.77zM53.37 88.16h9.77v1.31h-9.77zM14.5 95.72h9.77v1.31h-9.77zM24.22 96.98h9.77v1.31h-9.77zM14.5 99.5h9.77v1.31h-9.77zM43.65 99.5h9.77v1.31h-9.77zM43.65 102.02h9.77v1.31h-9.77zM24.22 113.36h9.77v1.31h-9.77zM43.65 113.36h9.77v1.31h-9.77zM14.5 115.88h9.77v1.31h-9.77zM43.65 115.88h9.77v1.31h-9.77zM43.65 132.26h9.77v1.31h-9.77zM14.5 151.16h9.77v1.31h-9.77zM24.22 152.42h9.77v1.31h-9.77zM14.5 154.94h9.77v1.31h-9.77zM53.37 197.78h9.77v1.31h-9.77zM14.5 199.04h9.77v1.31h-9.77zM14.5 231.8h9.77v1.31h-9.77zM53.37 239.36h9.77v1.31h-9.77zM24.22 272.12h9.77v1.31h-9.77zM24.22 275.9h9.77v1.31h-9.77zM24.22 279.68h9.77v1.31h-9.77zM33.93 289.76h9.77v2.57h-9.77zM53.37 289.76h9.77v2.57h-9.77z"/>
<path fill="#410" d="M24.22 80.6h9.77v1.31h-9.77zM63.08 80.6h9.77v1.31h-9.77zM43.65 88.16h9.77v1.31h-9.77zM43.65 90.68h9.77v2.57h-9.77zM63.08 90.68h9.77v2.57h-9.77zM33.93 95.72h9.77v1.31h-9.77zM43.65 95.72h9.77v1.31h-9.77zM14.5 96.98h9.77v1.31h-9.77zM63.08 98.24h9.77v1.31h-9.77zM24.22 100.76h9.77v1.31h-9.77zM24.22 102.02h9.77v1.31h-9.77zM24.22 107.06h9.77v1.31h-9.77zM43.65 110.84h9.77v1.31h-9.77zM63.08 110.84h9.77v1.31h-9.77zM33.93 113.36h9.77v1.31h-9.77zM63.08 114.62h9.77v1.31h-9.77zM33.93 117.14h9.77v2.57h-9.77zM14.5 122.18h9.77v1.31h-9.77zM24.22 132.26h9.77v1.31h-9.77zM24.22 134.78h9.77v1.31h-9.77zM24.22 136.04h9.77v1.31h-9.77zM63.08 137.3h9.77v1.31h-9.77zM24.22 139.82h9.77v2.57h-9.77zM63.08 147.38h9.77v1.31h-9.77zM43.65 148.64h9.77v1.31h-9.77zM63.08 148.64h9.77v1.31h-9.77zM24.22 151.16h9.77v1.31h-9.77zM43.65 168.8h9.77v1.31h-9.77zM14.5 177.62h9.77v1.31h-9.77zM53.37 183.92h9.77v1.31h-9.77zM53.37 211.64h9.77v1.31h-9.77zM14.5 230.54h9.77v1.31h-9.77zM14.5 240.62h9.77v1.31h-9.77zM24.22 240.62h9.77v1.31h-9.77zM33.93 241.88h9.77v1.31h-9.77zM14.5 244.4h9.77v1.31h-9.77zM14.5 245.66h9.77v1.31h-9.77zM53.37 258.26h9.77v1.31h-9.77zM53.37 267.08h9.77v1.31h-9.77zM63.08 267.08h9.77v1.31h-9.77zM53.37 269.6h9.77v2.57h-9.77zM43.65 274.64h9.77v1.31h-9.77zM53.37 275.9h9.77v1.31h-9.77zM43.65 277.16h9.77v1.31h-9.77zM43.65 278.42h9.77v1.31h-9.77zM24.22 280.94h9.77v1.31h-9.77zM24.22 283.46h9.77v1.31h-9.77zM43.65 284.72h9.77v1.31h-9.77zM24.22 285.98h9.77v1.31h-9.77zM43.65 289.76h9.77v2.57h-9.77zM43.65 293.54h9.77v2.57h-9.77zM43.65 296.06h9.77v1.31h-9.77zM53.37 297.32h9.77v1.31h-9.77zM33.93 298.58h9.77v1.31h-9.77zM43.65 298.58h9.77v1.31h-9.77zM63.08 299.84h9.77v1.41h-9.77z"/>
<path fill="#a11" d="M43.65 80.6h9.77v1.31h-9.77zM33.93 96.98h9.77v1.31h-9.77zM24.22 149.9h9.77v1.31h-9.77zM14.5 153.68h9.77v1.31h-9.77z"/>
<path fill="#310" d="M14.5 81.86h9.77v1.31h-9.77zM14.5 88.16h9.77v1.31h-9.77zM33.93 190.22h9.77v1.31h-9.77zM53.37 199.04h9.77v1.31h-9.77zM53.37 214.16h9.77v1.31h-9.77z"/>
<path fill="#811" d="M24.22 81.86h9.77v1.31h-9.77zM53.37 83.12h9.77v1.31h-9.77zM33.93 85.64h9.77v1.31h-9.77zM43.65 86.9h9.77v1.31h-9.77zM24.22 88.16h9.77v1.31h-9.77zM63.08 88.16h9.77v1.31h-9.77zM14.5 89.42h9.77v1.31h-9.77zM14.5 93.2h9.77v2.57h-9.77zM53.37 96.98h9.77v1.31h-9.77zM33.93 100.76h9.77v1.31h-9.77zM14.5 108.32h9.77v1.31h-9.77zM43.65 108.32h9.77v1.31h-9.77zM24.22 115.88h9.77v1.31h-9.77zM24.22 137.3h9.77v1.31h-9.77zM14.5 144.86h9.77v1.31h-9.77zM14.5 152.42h9.77v1.31h-9.77zM33.93 152.42h9.77v1.31h-9.77zM53.37 185.18h9.77v1.31h-9.77zM24.22 214.16h9.77v1.31h-9.77zM43.65 263.3h9.77v1.31h-9.77zM33.93 279.68h9.77v1.31h-9.77zM43.65 279.68h9.77v1.31h-9.77zM24.22 282.2h9.77v1.31h-9.77zM33.93 282.2h9.77v1.31h-9.77zM43.65 282.2h9.77v1.31h-9.77zM24.22 284.72h9.77v1.31h-9.77zM14.5 288.5h9.77v1.31h-9.77zM14.5 296.06h9.77v1.31h-9.77zM24.22 296.06h9.77v1.31h-9.77zM63.08 297.32h9.77v1.31h-9.77zM53.37 298.58h9.77v1.31h-9.77z"/>
<path fill="#611" d="M24.22 83.12h9.77v1.31h-9.77zM63.08 83.12h9.77v1.31h-9.77zM14.5 86.9h9.77v1.31h-9.77zM53.37 93.2h9.77v2.57h-9.77zM43.65 96.98h9.77v1.31h-9.77zM14.5 98.24h9.77v1.31h-9.77zM14.5 104.54h9.77v1.31h-9.77zM43.65 104.54h9.77v1.31h-9.77zM33.93 108.32h9.77v1.31h-9.77zM14.5 109.58h9.77v1.31h-9.77zM14.5 113.36h9.77v1.31h-9.77zM43.65 134.78h9.77v1.31h-9.77zM24.22 142.34h9.77v1.31h-9.77zM43.65 142.34h9.77v1.31h-9.77zM24.22 143.6h9.77v1.31h-9.77zM33.93 149.9h9.77v1.31h-9.77zM33.93 151.16h9.77v1.31h-9.77zM43.65 152.42h9.77v1.31h-9.77zM33.93 161.24h9.77v1.31h-9.77zM14.5 195.26h9.77v1.31h-9.77zM53.37 201.56h9.77v1.31h-9.77zM53.37 205.34h9.77v1.31h-9.77zM43.65 214.16h9.77v1.31h-9.77zM43.65 215.42h9.77v1.31h-9.77zM53.37 230.54h9.77v1.31h-9.77zM24.22 268.34h9.77v1.31h-9.77zM43.65 272.12h9.77v1.31h-9.77zM33.93 274.64h9.77v1.31h-9.77zM63.08 280.94h9.77v1.31h-9.77zM43.65 283.46h9.77v1.31h-9.77zM33.93 284.72h9.77v1.31h-9.77zM43.65 285.98h9.77v1.31h-9.77zM24.22 288.5h9.77v1.31h-9.77zM63.08 292.28h9.77v1.31h-9.77zM33.93 293.54h9.77v2.57h-9.77zM63.08 296.06h9.77v1.31h-9.77zM24.22 297.32h9.77v1.31h-9.77z"/>
<path fill="#c21" d="M24.22 89.42h9.77v1.31h-9.77zM33.93 297.32h9.77v1.31h-9.77z"/>
<path fill="#a21" d="M53.37 89.42h9.77v1.31h-9.77zM33.93 90.68h9.77v2.57h-9.77zM53.37 90.68h9.77v2.57h-9.77zM14.5 117.14h9.77v2.57h-9.77zM33.93 268.34h9.77v1.31h-9.77zM33.93 280.94h9.77v1.31h-9.77zM43.65 288.5h9.77v1.31h-9.77z"/>
<path fill="#b21" d="M24.22 98.24h9.77v1.31h-9.77zM14.5 102.02h9.77v1.31h-9.77zM43.65 103.28h9.77v1.31h-9.77zM33.93 159.98h9.77v1.31h-9.77zM33.93 275.9h9.77v1.31h-9.77zM63.08 279.68h9.77v1.31h-9.77zM33.93 283.46h9.77v1.31h-9.77z"/>
<path fill="#020" d="M43.65 120.92h9.77v1.31h-9.77zM53.37 162.5h9.77v1.31h-9.77zM63.08 241.88h9.77v1.31h-9.77z"/>
<path fill="#d21" d="M24.22 122.18h9.77v1.31h-9.77zM24.22 289.76h9.77v2.57h-9.77z"/>
<path fill="#e21" d="M24.22 148.64h9.77v1.31h-9.77zM33.93 156.2h9.77v2.57h-9.77z"/>
<path fill="#151" d="M53.37 163.76h9.77v1.31h-9.77zM14.5 178.88h9.77v1.31h-9.77zM33.93 222.98h9.77v1.31h-9.77zM24.22 233.06h9.77v2.57h-9.77zM63.08 233.06h9.77v2.57h-9.77zM14.5 236.84h9.77v1.31h-9.77zM14.5 255.74h9.77v2.57h-9.77z"/>
<path fill="#4c2" d="M24.22 192.74h9.77v1.31h-9.77zM33.93 202.82h9.77v1.31h-9.77zM53.37 225.5h9.77v1.31h-9.77z"/>
<text x="21.56" y="47.1" font-size="7.65" font-style="italic" transform="rotate(-90 21.56 47.1)">ESPL1</text>
<text x="31.27" y="47.1" font-size="7.65" font-style="italic" transform="rotate(-90 31.27 47.1)">AURKB</text>
<text x="40.99" y="47.1" font-size="7.65" font-style="italic" transform="rotate(-90 40.99 47.1)">PRC1</text>
<text x="50.71" y="47.1" font-size="7.65" font-style="italic" transform="rotate(-90 50.71 47.1)">MYBL2</text>
<text x="60.43" y="47.1" font-size="7.65" font-style="italic" transform="rotate(-90 60.43 47.1)">HNRNPH1</text>
<text x="70.14" y="47.1" font-size="7.65" font-style="italic" transform="rotate(-90 70.14 47.1)">CCNF</text>
<defs><linearGradient id="gk"><stop offset="0" stop-color="#2ef52e"/><stop offset=".5" stop-color="#000"/><stop offset="1" stop-color="#fa1e1e"/></linearGradient></defs>
<rect x="90" y="22.3" width="39.4" height="3" fill="url(#gk)"/>
<text x="90.2" y="33.6" text-anchor="middle">-4</text>
<text x="128.4" y="33.6" text-anchor="middle">4</text>
<rect x="77.9" y="49.1" width="6" height="17.82" fill="#4b9ba8"/>
<text x="86.6" y="60.5">Leading edge</text>
<rect x="77.9" y="66.9" width="6" height="22.22" fill="#e23cf2"/>
<text x="86.6" y="78.9">Infiltrating tumor</text>
<rect x="77.9" y="89.1" width="6" height="103.92" fill="#4ee431"/>
<text x="86.6" y="141.4">Cellular tumor</text>
<rect x="77.9" y="193" width="6" height="24.42" fill="#7fdaf5"/>
<text x="86.6" y="208.2">Perinecrotic zone</text>
<rect x="77.9" y="217.4" width="6" height="37.92" fill="#62e4bd"/>
<text x="86.6" y="233.8">Pseudopalisading</text>
<text x="86.6" y="242.4">cells around necrosis</text>
<rect x="77.9" y="255.3" width="6" height="20.62" fill="#f66a22"/>
<text x="86.6" y="264.2">Hyperplastic blood</text>
<text x="86.6" y="273.1">vessels in cellular tumor</text>
<rect x="77.9" y="275.9" width="6" height="25.52" fill="#f83c16"/>
<text x="86.6" y="286.8">Microvascular</text>
<text x="86.6" y="295.3">proliferation</text>
<path d="M225.5 11.5L225.5 142.2" stroke="#333" stroke-width="0.9"/>
<path d="M225 141.7L365.5 141.7" stroke="#333" stroke-width="0.9"/>
<path d="M223.3 120L225.5 120" stroke="#333" stroke-width="0.9"/>
<text x="222.3" y="122.7" text-anchor="end">-2</text>
<path d="M237.8 141.7L237.8 143.9" stroke="#333" stroke-width="0.9"/>
<text x="237.8" y="150.6" text-anchor="middle">-2</text>
<path d="M223.3 96.8L225.5 96.8" stroke="#333" stroke-width="0.9"/>
<text x="222.3" y="99.5" text-anchor="end">-1</text>
<path d="M263.3 141.7L263.3 143.9" stroke="#333" stroke-width="0.9"/>
<text x="263.3" y="150.6" text-anchor="middle">-1</text>
<path d="M223.3 73.6L225.5 73.6" stroke="#333" stroke-width="0.9"/>
<text x="222.3" y="76.3" text-anchor="end">0</text>
<path d="M288.8 141.7L288.8 143.9" stroke="#333" stroke-width="0.9"/>
<text x="288.8" y="150.6" text-anchor="middle">0</text>
<path d="M223.3 50.4L225.5 50.4" stroke="#333" stroke-width="0.9"/>
<text x="222.3" y="53.1" text-anchor="end">1</text>
<path d="M314.3 141.7L314.3 143.9" stroke="#333" stroke-width="0.9"/>
<text x="314.3" y="150.6" text-anchor="middle">1</text>
<path d="M223.3 27.2L225.5 27.2" stroke="#333" stroke-width="0.9"/>
<text x="222.3" y="29.9" text-anchor="end">2</text>
<path d="M339.8 141.7L339.8 143.9" stroke="#333" stroke-width="0.9"/>
<text x="339.8" y="150.6" text-anchor="middle">2</text>
<text x="294.3" y="160.8" text-anchor="middle">Relative meta-module score</text>
<text x="207.3" y="72.3" text-anchor="middle" transform="rotate(-90 207.3 72.3)">Relative meta-module score</text>
<path transform="scale(.1)" d="M2395 742h0m33 1h0m13-1h0m4 8h0m28-7h0m24 1h0m5-1h0m20 6h0m25-3h0m42-1h0m38 1h0m14-2h0m39 2h0m99-2h0m48 4h0m9 0h0m46 30h0m-2-8h0m-1 31h0m-1-31h0m0 15h0m-2 3h0m-12-7h0m0 4h0m-11 6h0m-1 18h0m-1-25h0m-17 24h0m-1-52h0m-12 26h0m-5 11h0m-2 13h0m-2 3h0m-3-21h0m-9-25h0m-2 19h0m-8 8h0m0-4h0m-9 16h0m-3-37h0m-10-6h0m-3 7h0m-3 41h0m-5-30h0m-5 24h0m-4-16h0m-2-31h0m-3 16h0m-2 19h0m-5-25h0m0 26h0m0-28h0m-3-1h0m0 41h0m-1-24h0m0-12h0m-3 36h0m0-31h0m-2 5h0m-4 9h0m-1-33h0m0 18h0m-8 6h0m-1 33h0m-2-20h0m-2-3h0m-9 22h0m-2-48h0m-5-7h0m-1 9h0m-1-4h0m0 31h0m-1-26h0m-5 2h0m-4 44h0m-4-22h0m-21-9h0m-7-24h0m-7 43h0m-3-46h0m-1 0h0m-1 45h0m-3-5h0m-9 13h0m-2 1h0m-2 0h0m-3-16h0m-1-37h0m-2 11h0m-1 39h0m-4-26h0m-3 9h0m-1 11h0m0-4h0m-1-31h0m-16 33h0m-2-8h0m-1-32h0m-3 20h0m0-14h0m-8 49h0m-3-26h0m-1 12h0m-3-2h0m-9-16h0m-1-5h0m-11 11h0m-3-9h0m-6-22h0m-4 37h0m-1-2h0m-1-21h0m-3 22h0m-1-28h0m-1 2h0m0 40h0m-2 2h0m-3-33h0m-2 9h0m-2-9h0m-6 23h0m-5-2h0m-1-31h0m-2 36h0m0-15h0m-5 25h0m0-23h0m-4-9h0m-1 15h0m-1-9h0m-1 0h0m-5-6h0m-1 27h0m-6-24h0m-3-3h0m-8 4h0m-2 12h0m-1-41h0m-4 54h0m-1-13h0m-6 5h0m0-31h0m-2 18h0m-7-22h0m-2 19h0m-3-17h0m-1 20h0m-2-26h0m-6 19h0m0-2h0m-6 27h0m-4-9h0m-9-32h0m-5 7h0m-4 12h0m-7 13h0m-3 8h0m-2 54h0m2-36h0m2 10h0m2 31h0m4-25h0m0 8h0m0 22h0m3-3h0m0 1h0m4-13h0m17-20h0m1 8h0m1 16h0m2-39h0m0-3h0m1 17h0m14 28h0m3-13h0m2 15h0m9 9h0m3-11h0m9 6h0m1-36h0m2 5h0m2-10h0m2-9h0m3 20h0m1 31h0m2-42h0m3 25h0m13-12h0m12-19h0m0 13h0m5 10h0m1-18h0m2 10h0m3 17h0m0 9h0m6 8h0m1-44h0m3-6h0m3 12h0m9 4h0m1-18h0m5 30h0m4 21h0m2 0h0m0-48h0m6 29h0m6 19h0m0-37h0m0 35h0m1-40h0m3 14h0m11 1h0m1 13h0m1-38h0m2 36h0m1-11h0m4 14h0m12 5h0m7-40h0m1 5h0m2 16h0m1 26h0m5-49h0m3-1h0m7 34h0m4 13h0m4 5h0m10-37h0m1-8h0m9 21h0m2 24h0m4 4h0m3-30h0m4 0h0m5-24h0m0 2h0m3 5h0m2 43h0m5-14h0m0-33h0m4 52h0m6-11h0m2-2h0m6-1h0m23-36h0m0 15h0m6 2h0m7-7h0m2 23h0m0-4h0m2 12h0m0-21h0m12 29h0m22-3h0m2-24h0m1-9h0m0-19h0m11 53h0m6 3h0m5-16h0m1 16h0m2-53h0m3 28h0m1-22h0m3 48h0m8-15h0m2 4h0m2-20h0m2-17h0m3-4h0m1-3h0m11 11h0m5-9h0m5 38h0m1 12h0m5 1h0m0-36h0m3 13h0m2-30h0m4 50h0m1-50h0m3 9h0m4 36h0m5 62h0m-1-2h0m-1-11h0m-7-12h0m-2-22h0m-2 2h0m-4 25h0m-5 5h0m-1 19h0m-5-37h0m-12-16h0m-1 1h0m-1 32h0m0 2h0m-1-11h0m-1 6h0m-8-10h0m-1-19h0m-4 1h0m-3 47h0m0-38h0m-3 9h0m-2-4h0m-11 22h0m0-24h0m-7-9h0m-1 33h0m-8-16h0m0 23h0m0-18h0m-2-29h0m-3 18h0m-1 29h0m-2 12h0m-2-51h0m-2 8h0m-17 10h0m-3-11h0m-5 22h0m-18 3h0m-6 5h0m0 3h0m-9-9h0m-2-32h0m-2 44h0m-2-20h0m-2-29h0m-5 34h0m-3-28h0m-4-8h0m-1 13h0m-3 16h0m-3 12h0m0-35h0m-5 4h0m-2 6h0m-1-8h0m-2 18h0m-2 23h0m-4-34h0m-3-3h0m-1 35h0m-10-42h0m-9 15h0m-1 10h0m-7 27h0m0-24h0m-3 21h0m-3-37h0m0-9h0m-2 38h0m-7-7h0m-5-9h0m-3 17h0m-1-40h0m-2 38h0m0 12h0m-12-14h0m-2 11h0m0-18h0m-1 14h0m-6-38h0m0 22h0m-2-11h0m-2-19h0m-2 54h0m-1-7h0m-5 4h0m-4-37h0m-1 29h0m-2 0h0m-1-19h0m0-18h0m-2-6h0m-9 52h0m-3-16h0m-4-6h0m-2-25h0m-2-4h0m-3-2h0m-2 49h0m-1-7h0m-3-30h0m-2 25h0m-4-9h0m-1-13h0m-4-5h0m-3 33h0m-3-7h0m-3 6h0m-1-7h0m-2 16h0m-1-15h0m-5-27h0m-2 38h0m0 2h0m0-1h0m-2 5h0m-3-32h0m-2 35h0m0-15h0m-1-17h0m0 22h0m-2-44h0m-17 8h0m-2 34h0m-3-30h0m-2 14h0m-2-2h0m0-4h0m0-11h0m-7 20h0m-2-29h0m-2 28h0m-6 18h0m-1 3h0m-8-51h0m-18 26h0m-1 5h0m-1-7h0m-2 8h0m-6-35h0m-5 51h0m-5-25h0m-5-25h0m-1 36h0m-1 0h0m-2-30h0m-2 50h0m-1-10h0m-4-18h0m-8 58h0m0 6h0m4-10h0m0-19h0m7 20h0m1-4h0m4 18h0m1 21h0m0-10h0m1-31h0m1 6h0m0 13h0m0-4h0m5 13h0m3-11h0m2 17h0m1-51h0m4-2h0m2 52h0m2 1h0m0-32h0m3-1h0m0 22h0m7-39h0m1 14h0m0 20h0m3 7h0m2 4h0m2-7h0m1-11h0m2-11h0m3 0h0m0 40h0m3-3h0m6-15h0m1-29h0m0 44h0m1-8h0m1-14h0m0 11h0m1-24h0m1 36h0m1-7h0m1 8h0m5 1h0m1 0h0m2-34h0m2 18h0m1 3h0m5-3h0m1-22h0m2 14h0m0 3h0m0 16h0m3 3h0m1-37h0m0 14h0m1-28h0m1 41h0m2-22h0m0 10h0m0 18h0m7 4h0m2-37h0m1 37h0m1-45h0m2 2h0m1-1h0m5 29h0m1-15h0m0 13h0m0-15h0m2 8h0m3-10h0m0-23h0m5 60h0m2-23h0m0-2h0m3-35h0m1 17h0m1 21h0m1-11h0m2 6h0m0 19h0m1-19h0m1-16h0m1 31h0m5 4h0m0-22h0m3 1h0m1-1h0m1-16h0m3 38h0m0-36h0m2 36h0m1-21h0m0 26h0m1-4h0m1-34h0m1 19h0m0 6h0m2-17h0m1 0h0m1-21h0m0 31h0m2 15h0m0-15h0m3 1h0m3-19h0m1 32h0m1-2h0m0-1h0m0-39h0m5 26h0m0-19h0m1-16h0m1 25h0m0 9h0m0-14h0m10-18h0m2 26h0m1 10h0m0-7h0m3 10h0m0-31h0m1 17h0m4-24h0m2 45h0m1-3h0m2-39h0m2 28h0m0 19h0m1-43h0m1 45h0m3-18h0m4-23h0m1 16h0m0 9h0m1-38h0m5 0h0m3 56h0m1-31h0m2 19h0m1-42h0m3 18h0m4-9h0m3 32h0m0-3h0m1-31h0m3-3h0m3 36h0m3 11h0m0-45h0m1 25h0m1 2h0m0 22h0m2-23h0m2 4h0m1-39h0m2 51h0m0-27h0m0 33h0m1-24h0m0-5h0m3 21h0m1-1h0m1-25h0m2-6h0m5-7h0m4 48h0m2-28h0m2-27h0m1 33h0m0 22h0m5-33h0m6 15h0m0 7h0m3-17h0m4-26h0m1 33h0m1 0h0m4-7h0m0-6h0m1 5h0m0-3h0m2-6h0m4 39h0m1-21h0m1 3h0m1-35h0m0 45h0m0-5h0m0-45h0m6 31h0m5-15h0m5 19h0m1 24h0m8-2h0m0-4h0m4 2h0m2-13h0m1 0h0m1-20h0m4 4h0m7-25h0m4 1h0m0 23h0m1 31h0m6 1h0m3-7h0m11-28h0m1-6h0m1-14h0m0 14h0m2 39h0m1 3h0m6-30h0m4 15h0m2 0h0m3-21h0m1 8h0m2 1h0m6 23h0m2-4h0m4-4h0m3-24h0m5-22h0m1 21h0m1 29h0m2-35h0m0 38h0m8-38h0m0 13h0m3 20h0m1-23h0m1-22h0m3 41h0m2-14h0m4-27h0m2 49h0m0-17h0m4 18h0m2-45h0m3 6h0m1-3h0m4 35h0m11-18h0m0 35h0m-1 46h0m-7-28h0m-4 21h0m-2-20h0m-2-8h0m-1 9h0m0 11h0m-11-28h0m-1 30h0m-1 16h0m-3-31h0m-2 23h0m-1 11h0m-2-7h0m-2-6h0m0-28h0m-3 21h0m-1 4h0m-7 2h0m-7-38h0m-4 52h0m0-1h0m-2-47h0m-1 11h0m0 10h0m-1 13h0m-1 3h0m-10-18h0m-4-13h0m-3 11h0m-1 22h0m0-32h0m-2-13h0m-1 21h0m-4-19h0m0 32h0m-3-2h0m-1-3h0m-4 6h0m-1-4h0m0-10h0m-2-11h0m-1 41h0m-1-43h0m-2 14h0m0-14h0m-5 34h0m-1-17h0m-3 25h0m0-21h0m-1-29h0m-1 9h0m0 14h0m-2-22h0m-2 56h0m-3-43h0m-1-11h0m-2-3h0m-1 7h0m0-7h0m-1 36h0m0-36h0m0 40h0m-2-21h0m0-12h0m0 49h0m-1-20h0m-1 5h0m-1 3h0m-1-27h0m-3 5h0m0 31h0m-3-4h0m0-23h0m-2-3h0m-1-21h0m-1 35h0m0-13h0m-1 22h0m-1-17h0m0-10h0m-1-16h0m0 40h0m-4 6h0m0 2h0m-1-8h0m0 10h0m-3 2h0m-1-23h0m0 1h0m-1-31h0m0 54h0m-1-2h0m0-43h0m-2 37h0m-1 9h0m0-8h0m-1-45h0m-1 53h0m-3-3h0m-2-1h0m-2-5h0m0-41h0m-1 40h0m-3-8h0m-2-39h0m-1 19h0m-1 32h0m-1-25h0m-1 25h0m0-36h0m-1-2h0m-1 42h0m-1-15h0m0-26h0m0 34h0m-1-3h0m-3-6h0m-2-19h0m0 11h0m-1 5h0m-2-18h0m-3 15h0m-1 6h0m-1 6h0m-1-13h0m-1-10h0m0 3h0m0 33h0m-2-25h0m0-4h0m-2-13h0m0 9h0m-1 31h0m-3-4h0m-1-3h0m-1-11h0m-1 11h0m-1-21h0m0 16h0m-2-40h0m0 39h0m-2-24h0m0-11h0m-2-10h0m-1 7h0m-1 40h0m0-25h0m-1 8h0m0 30h0m0-52h0m-1 48h0m-1-8h0m-2 10h0m-1-36h0m0 1h0m0-4h0m0 16h0m0 19h0m0-29h0m-1 3h0m0 19h0m-1-20h0m-1-1h0m0-23h0m-2 55h0m0-11h0m-2-17h0m0-6h0m0 16h0m-2-18h0m0-1h0m-2 11h0m0 12h0m0-41h0m-3 46h0m-1-18h0m0-25h0m-1 25h0m0 14h0m0-23h0m-2 36h0m0 1h0m-2-16h0m-2-13h0m0 6h0m0 4h0m-1 15h0m0-28h0m0 26h0m-1-20h0m0 19h0m0-43h0m-1 16h0m-1 30h0m-1 2h0m-5-12h0m-1-45h0m0 19h0m-1 8h0m0 20h0m0-37h0m-1 36h0m0 6h0m-2-24h0m0 18h0m0-45h0m-1 53h0m0-37h0m-1 2h0m-1 33h0m0-46h0m-3 34h0m-1 16h0m0-20h0m-3-25h0m0 36h0m0-5h0m-1-11h0m-2-26h0m-3 6h0m0 49h0m0-56h0m-1 20h0m0 23h0m0 6h0m-2-8h0m-1-24h0m-1-5h0m0 33h0m0 4h0m-2-19h0m-1 10h0m-1 5h0m0 6h0m0-7h0m-1 6h0m0-5h0m-2-28h0m0 9h0m0-4h0m0 25h0m-1-37h0m-1 23h0m-1-9h0m-3 30h0m-1-47h0m0 36h0m0 11h0m0-18h0m0-10h0m-1 27h0m-1-14h0m-1-26h0m-2 40h0m0-27h0m-1-28h0m-1 32h0m-1 7h0m0 19h0m0-28h0m0 16h0m-1 4h0m0-6h0m0 11h0m-1-3h0m-2 5h0m0-28h0m-1 22h0m-1-11h0m0-27h0m-1 0h0m0 27h0m-1-33h0m0 25h0m-1 18h0m0 4h0m0 0h0m0-30h0m0-8h0m-1 10h0m-2 25h0m0-48h0m-1 40h0m-1-24h0m0-11h0m-1-1h0m-1-5h0m0 25h0m-1-8h0m0-15h0m0 41h0m0-15h0m-1 19h0m0-30h0m0 27h0m-1-37h0m0 42h0m0-4h0m0 5h0m-1-48h0m0 40h0m0 9h0m-3-16h0m0 21h0m-1-11h0m0-43h0m-1 42h0m0-23h0m-1-14h0m0 48h0m-1-9h0m-2 2h0m-1-15h0m-1 18h0m0-53h0m0 17h0m-1 24h0m0 12h0m0-31h0m-1-3h0m0 30h0m-1-43h0m0 27h0m-1-16h0m0 1h0m0-2h0m-1 25h0m-1-16h0m0 7h0m0 22h0m-1-22h0m-1-12h0m-1 22h0m0-26h0m-1 40h0m-1-33h0m0 25h0m0 7h0m-3-45h0m-1 41h0m-1-18h0m0-9h0m0 2h0m-2-6h0m-1-4h0m0-4h0m-1 15h0m0-7h0m-1-10h0m0 8h0m-1 26h0m0-42h0m-2 50h0m0-38h0m-1-1h0m-1 32h0m-1-12h0m-2-14h0m0 14h0m-1 16h0m-1-18h0m0 18h0m0-12h0m-1 2h0m0 2h0m0-23h0m0 32h0m-2 7h0m0-5h0m-4-17h0m0 2h0m-1-30h0m-1 48h0m0-3h0m0-3h0m-1 2h0m0 1h0m0-1h0m0 4h0m-2-46h0m0 16h0m0 13h0m-1 20h0m0-23h0m-1-13h0m-1 31h0m-2-26h0m0 11h0m-3-20h0m-1 5h0m0 9h0m-1 1h0m-1 19h0m0 4h0m-1-48h0m0 19h0m0-16h0m-3 5h0m-1 7h0m0 12h0m-1 14h0m0-4h0m0-2h0m-3 4h0m-1-39h0m-1 34h0m0-29h0m-1 10h0m-2 3h0m0 12h0m-1-7h0m-1 22h0m-2 5h0m0-13h0m-1 0h0m-1 12h0m0-58h0m-1 22h0m-2 31h0m-2-46h0m-1 43h0m0-13h0m-1 1h0m0-29h0m0 9h0m-4-14h0m-1 22h0m0 19h0m-1-2h0m-1 14h0m-1-6h0m-1-33h0m-2-2h0m-1 11h0m0 21h0m-1-35h0m-1 22h0m-1-29h0m-1 26h0m-1 25h0m-2-8h0m-2-27h0m0-13h0m-2 35h0m-4 2h0m0-29h0m0 36h0m-3-18h0m-1 6h0m0 13h0m-1-42h0m-1 6h0m-2 8h0m-1 6h0m0 8h0m0-16h0m-1-13h0m-4 43h0m-3-18h0m-1-33h0m0 13h0m-1 21h0m0-14h0m0 23h0m-2 9h0m0-11h0m-1-25h0m0 35h0m-2 0h0m0-23h0m-1-32h0m0 38h0m-1-37h0m-2 37h0m0-3h0m-1 1h0m-1-34h0m0 25h0m0 14h0m-1 16h0m-1-19h0m-2-16h0m-3 19h0m-6 16h0m-1-34h0m-8 36h0m-2-8h0m-18 3h0m-8 5h0m-10-8h0m-8 5h0m-3 1h0m-22-3h0m0 36h0m13 2h0m4-10h0m5 24h0m6-38h0m4 3h0m12 2h0m5 34h0m2-29h0m16-15h0m5 15h0m1 3h0m1-7h0m2-9h0m3 22h0m3-4h0m1 31h0m0-1h0m1-38h0m4 41h0m1-51h0m2 26h0m1 20h0m0-16h0m2-31h0m1 30h0m1 0h0m1 26h0m1-2h0m0-28h0m3 4h0m0-32h0m1 8h0m3-9h0m0 31h0m0-27h0m2 41h0m1-1h0m0-9h0m1 8h0m1-24h0m0 24h0m1-12h0m1 19h0m1-15h0m1 17h0m1-40h0m1 14h0m0-10h0m2 34h0m2-7h0m1-18h0m2 9h0m0 9h0m3-3h0m0-31h0m2 38h0m1-2h0m0 9h0m1-33h0m1-21h0m0 54h0m1-53h0m1 2h0m0 13h0m0-17h0m1 41h0m0 19h0m2-9h0m0-11h0m0-37h0m1 5h0m0-5h0m1-2h0m0 45h0m2-9h0m1 1h0m0 11h0m0-14h0m1-1h0m2 22h0m0-35h0m1-16h0m0 15h0m1 33h0m0-43h0m0 21h0m1-27h0m0 28h0m1 11h0m0-35h0m0-5h0m1 10h0m0 16h0m2 29h0m0-11h0m1-4h0m1 1h0m0-28h0m1-12h0m0 32h0m1-1h0m0 8h0m1-38h0m2 20h0m1-3h0m2 32h0m1-53h0m0 59h0m1-14h0m1 1h0m0 5h0m0 7h0m1-33h0m0 18h0m2 5h0m0-35h0m0-5h0m1 15h0m0 27h0m0-15h0m0 5h0m2-11h0m1 10h0m1-36h0m1 34h0m1-14h0m1 30h0m0-10h0m1-21h0m0-11h0m1 18h0m1 13h0m0 5h0m0-12h0m1-27h0m0 0h0m0 3h0m3-5h0m0 36h0m0-9h0m1 12h0m0 11h0m1-21h0m0-9h0m0-1h0m1-1h0m2-20h0m1 7h0m0-8h0m1 17h0m0-15h0m0 40h0m1-16h0m0-10h0m0 3h0m1 20h0m0 13h0m1-29h0m4 21h0m0-26h0m1 1h0m0-13h0m1 2h0m0 8h0m1 30h0m0-15h0m1 17h0m0-24h0m0 25h0m0-31h0m1 13h0m1 4h0m0-3h0m0-22h0m0 17h0m2 1h0m0-1h0m1-11h0m1 11h0m1 10h0m0 3h0m2-29h0m0 14h0m1-22h0m0 50h0m0-10h0m0-27h0m1-8h0m0 20h0m1-4h0m1 12h0m0-33h0m0 18h0m1-10h0m0 29h0m4-21h0m0 25h0m1 5h0m0-8h0m0 9h0m0-53h0m1 39h0m1 3h0m1 5h0m1 11h0m1-47h0m0 23h0m1 19h0m1-36h0m0 37h0m0-43h0m2 48h0m0-53h0m1 32h0m1 13h0m0-25h0m0 22h0m1-30h0m1 30h0m0 9h0m0-21h0m1-10h0m0-26h0m1 27h0m1-2h0m1 14h0m1-21h0m0 28h0m0 8h0m1-3h0m1-37h0m0 18h0m1 4h0m0-34h0m0 49h0m2-22h0m0 13h0m0 16h0m0-56h0m1 49h0m0-31h0m0 27h0m1-42h0m0 27h0m0 26h0m0-11h0m0-44h0m0 33h0m1 3h0m1-23h0m1 36h0m0-47h0m1 15h0m1 35h0m0-32h0m0-10h0m0 0h0m0-1h0m1 28h0m0-18h0m0 29h0m0-39h0m0 2h0m1 14h0m0-1h0m0-21h0m1 38h0m1-6h0m0 8h0m0-10h0m1 21h0m1-32h0m1 22h0m1-19h0m0 8h0m1-27h0m0-3h0m1 49h0m1 0h0m0-8h0m0-8h0m0-2h0m1-29h0m1 44h0m0-7h0m1-34h0m0 41h0m0-15h0m1-19h0m0 11h0m0 11h0m1-11h0m2 5h0m0-30h0m1 33h0m0-28h0m0 14h0m0-15h0m0 9h0m1-2h0m0 23h0m1-6h0m0 3h0m1-22h0m0-5h0m0 26h0m0-31h0m1 21h0m2 16h0m0 3h0m1-38h0m0 3h0m0 46h0m0-34h0m1 30h0m0-40h0m0 2h0m1 39h0m0-25h0m0-3h0m1 7h0m2-3h0m1-25h0m0 9h0m2 42h0m0-1h0m0-33h0m1 36h0m0-31h0m1 5h0m1 17h0m0-10h0m0-5h0m0 17h0m1-13h0m0 10h0m0 8h0m1-43h0m0 15h0m0 16h0m1-16h0m0-11h0m0 18h0m0-25h0m0 9h0m0-4h0m1 18h0m0-7h0m0-15h0m1 9h0m1-13h0m0 28h0m2-7h0m1 31h0m0-16h0m1 6h0m0 9h0m1-38h0m1 40h0m1-39h0m0 16h0m2 5h0m1-8h0m0 1h0m0-33h0m1 41h0m0-2h0m3 14h0m1-46h0m0 22h0m1 14h0m0-16h0m0 25h0m0 1h0m3-3h0m0-7h0m1-16h0m0 6h0m0-23h0m1 32h0m0 4h0m1-2h0m0-41h0m0-1h0m1 25h0m0-22h0m0 46h0m0-37h0m1 22h0m1-4h0m0-3h0m1 1h0m1-10h0m0 8h0m0 1h0m0 9h0m1 5h0m1-39h0m1-1h0m0 53h0m1-39h0m3 25h0m0-20h0m3 33h0m1 3h0m1-18h0m1-16h0m0-3h0m0 23h0m1-20h0m0-2h0m1 33h0m0-21h0m0 10h0m1 6h0m0-38h0m0 20h0m0 19h0m0-27h0m0 2h0m1-2h0m2 25h0m0 4h0m0-48h0m1 1h0m0 42h0m2-11h0m2-20h0m1 36h0m1-48h0m2 16h0m0 8h0m1-19h0m1 23h0m0 11h0m1-10h0m1-1h0m1-19h0m0 7h0m0 22h0m0-42h0m2 35h0m0-23h0m2 20h0m0 13h0m2-9h0m1 21h0m0-43h0m0 28h0m0-32h0m1 42h0m1-2h0m0-2h0m0-20h0m1-5h0m0-11h0m1 40h0m0 3h0m1-15h0m0-14h0m2-4h0m3 15h0m1-21h0m0-16h0m1 46h0m0-1h0m0-39h0m0 52h0m2-51h0m1-5h0m1 40h0m0-32h0m0 25h0m1-23h0m1-2h0m2 3h0m2 30h0m1-36h0m1 39h0m1 5h0m1-35h0m2 3h0m0-6h0m2 22h0m0 23h0m1-9h0m1-26h0m0 26h0m2 6h0m1-33h0m0-16h0m0 50h0m1-49h0m0 25h0m1-9h0m0-11h0m3 23h0m1-8h0m0-14h0m0-11h0m1 26h0m0-14h0m1 0h0m0 40h0m0-31h0m1 16h0m2-7h0m1-21h0m2 15h0m0 28h0m0-48h0m0 33h0m0-17h0m3-13h0m0 32h0m1-29h0m1-5h0m3 47h0m1-38h0m2 22h0m0 8h0m1-5h0m0-23h0m0 8h0m0 5h0m1-9h0m3 5h0m2-7h0m0-18h0m1 1h0m0 34h0m1 10h0m0-10h0m0-12h0m1-10h0m1 44h0m2-34h0m2-3h0m3-16h0m1 17h0m0-1h0m1 0h0m3-23h0m2 58h0m3-51h0m4 42h0m0-43h0m3 42h0m0-14h0m3 14h0m3-30h0m3-2h0m3 15h0m0-18h0m0 7h0m1 15h0m5-18h0m1-2h0m1 0h0m1-3h0m1 44h0m2-55h0m2 23h0m1-10h0m6 14h0m1 16h0m0-30h0m2 45h0m1-52h0m2 2h0m1 5h0m2-7h0m0 29h0m1-15h0m2-11h0m1 2h0m0 43h0m1-33h0m4 38h0m0-43h0m0-9h0m3 1h0m7 40h0m6-22h0m3-5h0m1 10h0m0-31h0m4 41h0m2-2h0m5-40h0m1 54h0m1-18h0m2-24h0m3 44h0m1-8h0m0-15h0m1 11h0m0-15h0m1 28h0m9-11h0m2-17h0m8-17h0m1 14h0m0 33h0m5-14h0m-11 34h0m-12 28h0m-3-40h0m-2 47h0m-1-52h0m-6 39h0m-4-15h0m-8 23h0m-6-45h0m-4 0h0m-5 2h0m-3-5h0m-6 16h0m0-1h0m-3-12h0m-11 13h0m-4-4h0m-8 14h0m-4-16h0m-4 41h0m-1-44h0m-3-8h0m-1 35h0m-2-9h0m-3 32h0m-3-50h0m-4 21h0m0 4h0m-5 25h0m-5-4h0m-1-30h0m-1-1h0m-1 32h0m-3-19h0m-3 17h0m-1-43h0m-1 46h0m-2-45h0m-4 4h0m-2-7h0m-4 2h0m-1 20h0m-2 4h0m-4 22h0m-3-41h0m-2 5h0m-2 10h0m0 18h0m-1-34h0m-1 26h0m-1-25h0m0 40h0m-1-18h0m-3-14h0m-1-9h0m-2-4h0m0 21h0m-1-16h0m-3 13h0m-1-25h0m-1 0h0m-1 30h0m-1 3h0m0-11h0m0-25h0m-1 8h0m-4 50h0m0-13h0m-1-16h0m0 2h0m-2-29h0m-2 1h0m0 7h0m-3 12h0m-4-17h0m-1 9h0m-1 2h0m-3-16h0m-1 57h0m0-34h0m0 34h0m-1-51h0m0 42h0m0-40h0m-1 9h0m-1-7h0m0 13h0m0 16h0m0-3h0m0-34h0m-1 7h0m-2-7h0m0 8h0m-1 26h0m-1-15h0m-2-17h0m-2 7h0m-1 31h0m-1 11h0m0-34h0m-1-10h0m-1 30h0m0-6h0m0 2h0m-1-19h0m0 3h0m0-11h0m-1 44h0m-3-39h0m0-5h0m-1-6h0m0 28h0m0-2h0m-3-17h0m-2 33h0m0-15h0m-1-15h0m0 44h0m-1-19h0m-2-35h0m0-2h0m0 25h0m-1 13h0m0-38h0m-1 11h0m0 3h0m0 25h0m-1-41h0m0 2h0m0 18h0m-1-8h0m-1-3h0m0 22h0m-2-28h0m0 44h0m-1-34h0m-1 27h0m0-7h0m-1-23h0m0 13h0m-1-2h0m0-20h0m0 49h0m-1-44h0m-1 22h0m0 2h0m-1-10h0m0 23h0m0-35h0m-1 12h0m-1 16h0m-1-31h0m0 27h0m-1 13h0m-1-17h0m-1 2h0m0-25h0m-2 38h0m-1 10h0m-2-30h0m0-9h0m0 2h0m-1 24h0m0 18h0m0-51h0m0 12h0m-1 16h0m0 4h0m-1-37h0m-1 36h0m-1-37h0m0 24h0m-1 31h0m-2-26h0m0-25h0m-2 37h0m0-9h0m-1 14h0m-1-6h0m0-35h0m-1 41h0m0-10h0m-1 13h0m-1-31h0m0-18h0m0 28h0m0-19h0m0-4h0m-1 7h0m-1 16h0m0-18h0m-2 40h0m-1-44h0m0 35h0m-1-12h0m-1 0h0m0 24h0m-1-30h0m0-17h0m0-3h0m-1 26h0m-1 29h0m0-35h0m-1-11h0m-2 45h0m0-2h0m0-40h0m-1 38h0m-1-49h0m-1 12h0m0 26h0m0-39h0m0 39h0m-1-31h0m0 32h0m0-39h0m-2 18h0m0 1h0m-1-22h0m0 45h0m0-5h0m-1 14h0m-1-14h0m0-25h0m-1 13h0m0 0h0m-1-26h0m-1 9h0m0 2h0m-1-8h0m-1 33h0m-2-10h0m0-16h0m-2-1h0m-1 24h0m0-31h0m0 18h0m-2-16h0m-1 27h0m-1-16h0m0 20h0m0 13h0m-1-48h0m-1-3h0m0 44h0m-3-23h0m-1-8h0m0 2h0m-1 30h0m0-19h0m-1 4h0m0 10h0m-1-21h0m0 38h0m0-33h0m-1-6h0m-1 7h0m-1-22h0m0 13h0m0-14h0m-1 29h0m-1-13h0m-1 13h0m0 10h0m-1 1h0m0 9h0m0-48h0m-2-3h0m-4 54h0m-2-14h0m-1-31h0m-2-6h0m-1 43h0m0-43h0m-1 47h0m0-29h0m0 26h0m0-30h0m-1 17h0m0-32h0m-1 52h0m-2-40h0m-1 38h0m-2-43h0m0 33h0m-3-27h0m-1 8h0m-1-21h0m-1 49h0m-1-17h0m0-30h0m-3 49h0m-1-40h0m-3-13h0m-3 26h0m-1 7h0m-3 13h0m-1-25h0m0-9h0m-1 6h0m-1 38h0m-2-39h0m-2-12h0m0-6h0m-1 13h0m0 35h0m0-44h0m-1 30h0m-2-13h0m-1-3h0m-1-13h0m0 23h0m-1-27h0m-1 15h0m0-3h0m-1 2h0m0-4h0m-1 10h0m-1 5h0m0-11h0m0 21h0m-2 8h0m-2-41h0m0 7h0m0 38h0m-3-39h0m0 1h0m-2 15h0m-1-23h0m-1 41h0m0-25h0m-1 29h0m-1-19h0m0-19h0m-1 11h0m-1 32h0m-1-13h0m0 0h0m-3 3h0m-1-32h0m-2 7h0m-2 19h0m-4 17h0m-6-39h0m0 38h0m0-33h0m-2 31h0m-2-37h0m0 23h0m-1 9h0m-4-27h0m0-13h0m-1 14h0m-1 3h0m-3-9h0m0 21h0m-3-20h0m-1-1h0m-1-9h0m-1-3h0m-2 10h0m-2 45h0m-2-28h0m0-21h0m-3 25h0m-2 0h0m0-24h0m-3 41h0m-1-11h0m-1-20h0m-6-11h0m-1 8h0m-1 13h0m-1-6h0m-8 5h0m-4 13h0m-4-15h0m-2-17h0m-2-2h0m0 2h0m-1-3h0m-4 2h0m0 18h0m-3-18h0m0 18h0m-8-23h0m-7 11h0m-5-1h0m-4 8h0m-29-8h0m-2-1h0m-10 33h0m-6-21h0m23 39h0m29 17h0m7 13h0m9 8h0m2-13h0m27-26h0m13 52h0m6-34h0m10-9h0m0 18h0m7 2h0m1 13h0m10 5h0m6-4h0m3-17h0m0-20h0m0 22h0m2-26h0m0 4h0m2 45h0m6-49h0m3 10h0m5-2h0m2-10h0m1 6h0m20-5h0m3 25h0m2-4h0m10 27h0m3-10h0m7-16h0m4 30h0m4-50h0m0 9h0m1 36h0m0-21h0m1-18h0m3-4h0m0 0h0m3 11h0m3-15h0m0 18h0m6 22h0m1-38h0m5 48h0m2-26h0m0 18h0m6-24h0m2-2h0m1 20h0m1-18h0m0 21h0m3-21h0m0 26h0m2-4h0m2-27h0m3 16h0m0-12h0m0 0h0m2-4h0m2-10h0m1 2h0m0 9h0m2-14h0m1 52h0m2 6h0m1-37h0m0-1h0m3-1h0m1 31h0m2-37h0m0-11h0m2 7h0m1 30h0m4-21h0m0 34h0m1-49h0m5 10h0m3-12h0m5 0h0m2 38h0m1-15h0m3 28h0m2-8h0m3 2h0m3-19h0m1-25h0m1 6h0m6-8h0m3 6h0m4 17h0m7 14h0m2 15h0m4-53h0m4 41h0m2 3h0m5-20h0m2-24h0m0 38h0m2-16h0m5 18h0m3 7h0m0-29h0m0 0h0m5 2h0m3-8h0m4 15h0m0-5h0m1 32h0m0-46h0m1 2h0m9 9h0m4 13h0m4-21h0m14 21h0m0 13h0m6 2h0m29-43h0m9 2h0m34-3h0m32 1h0m13 43h0m-240 14h0m-32-1h0m-214 3h0" stroke="#f47c74" stroke-width="9.5" stroke-linecap="round" fill="none"/>
<path transform="scale(.1)" d="M2897 747h0m1 1h0m10-3h0m3 0h0m1-2h0m14 6h0m82-3h0m24-1h0m118 55h0m-21-5h0m-1 8h0m-10 6h0m-10-22h0m-16-6h0m-3-11h0m-2 13h0m-9-10h0m-3-10h0m-5 20h0m-1 1h0m-1 7h0m-1 7h0m-3-21h0m-1 23h0m-1-27h0m-1 28h0m-2-31h0m-3 18h0m-3 7h0m-1-34h0m-10 43h0m-4-22h0m-2 6h0m-1-26h0m0 13h0m-1 21h0m-1-12h0m-1 9h0m-1 6h0m0-33h0m-1 17h0m0-29h0m-3 48h0m-6-20h0m-7 4h0m-17 12h0m-1 4h0m-7-11h0m-1-29h0m-6 9h0m-1 25h0m-5-39h0m-2 1h0m-2 4h0m-3 3h0m-1 42h0m-2-52h0m-5 20h0m0 22h0m-3-1h0m-4-43h0m-3 32h0m-2-9h0m-2-19h0m-2 15h0m-2 7h0m-7 2h0m-6-29h0m-1 16h0m-1 2h0m-9 15h0m-1 10h0m-7-37h0m-2 13h0m-1 37h0m-1-39h0m-2-9h0m-7 46h0m-1-15h0m0 33h0m2-7h0m10 46h0m7-18h0m1-20h0m2 17h0m4-9h0m4 26h0m4-5h0m2 6h0m1-24h0m2-8h0m8 11h0m4-23h0m21 36h0m1-3h0m2 16h0m4-9h0m1-30h0m2 7h0m0 28h0m2 3h0m5-11h0m1-22h0m4 0h0m0-3h0m2 5h0m8 36h0m1-52h0m1 11h0m12-5h0m1-4h0m0 41h0m10-47h0m7 37h0m3-21h0m2-14h0m3 43h0m1 12h0m0-5h0m5-48h0m1-6h0m7 18h0m3 4h0m2 33h0m8-47h0m2 42h0m3-34h0m8-5h0m5 48h0m1-23h0m10-31h0m1 3h0m2 3h0m0 38h0m0 3h0m8-25h0m1-25h0m1 32h0m0-7h0m6-19h0m17 20h0m3-24h0m0 23h0m4-22h0m3 29h0m6-19h0m4 9h0m1 10h0m3-15h0m2 36h0m4-13h0m7 8h0m14-19h0m4-18h0m2 0h0m1 12h0m8 31h0m7-19h0m6 13h0m0-29h0m4 36h0m10-30h0m11 30h0m126 43h0m-1-2h0m-23 2h0m-4-20h0m-2 39h0m-6-33h0m-4 24h0m-5-23h0m0-13h0m-4 32h0m-7-20h0m-1-14h0m-1-2h0m-3 37h0m0 10h0m-1-31h0m-8-5h0m-1 29h0m-3-24h0m-3-23h0m-7 42h0m0-33h0m-6-10h0m-6 21h0m-3 31h0m0-46h0m-1 15h0m-3 35h0m-7-48h0m-3-1h0m-2 28h0m-3-31h0m-1 18h0m-1-4h0m-1 15h0m-7 21h0m-4-40h0m-1 8h0m-5-12h0m0-9h0m-4 7h0m-5 5h0m-1 3h0m-8 9h0m-1-14h0m-2 30h0m-2-41h0m-12 55h0m-2-48h0m0 8h0m-2 2h0m-2 14h0m-1-12h0m-3 14h0m-2-23h0m-13 4h0m-3 30h0m0-6h0m-4-5h0m0-24h0m-13-3h0m-1 36h0m-4 11h0m0 2h0m-4-54h0m-1 39h0m0 4h0m-8 5h0m-5-26h0m-17-2h0m-4-19h0m-3 3h0m0 45h0m-5-45h0m0 26h0m-6 5h0m-2-18h0m-2-15h0m-7-4h0m-3 56h0m-1-16h0m-10-4h0m-5-36h0m-1 50h0m-2-48h0m-5 50h0m-3 3h0m0-20h0m-1-25h0m-1 39h0m-2-6h0m-1-41h0m0 38h0m-1 4h0m-1-14h0m-2-3h0m-1 6h0m-1-5h0m-8 4h0m0-1h0m-1 6h0m-5-33h0m0 49h0m-1-35h0m-1 18h0m-2 20h0m-3-17h0m-2-7h0m0-13h0m-4 38h0m-4-41h0m0 7h0m-6 5h0m0-29h0m-7 43h0m-1 8h0m-10-40h0m-1 48h0m-1-31h0m-1-13h0m-3-6h0m-7 38h0m-1-5h0m0-40h0m-1 39h0m-9-4h0m-8-8h0m-5 13h0m-1 5h0m-1 7h0m0-44h0m-2 6h0m-2 15h0m-2-3h0m-4 25h0m0-33h0m0 31h0m-2-18h0m-4 21h0m-1-32h0m-8 26h0m-5-7h0m-2-19h0m-5 33h0m0-3h0m-5-15h0m-4-21h0m-1 26h0m1 29h0m5 30h0m0 2h0m2-32h0m1-8h0m1 39h0m1-39h0m8 50h0m1-33h0m2 0h0m0 31h0m2-34h0m1 21h0m0 17h0m8 2h0m5-4h0m2-3h0m4 9h0m5-41h0m2-8h0m2-7h0m5 25h0m0 17h0m0 14h0m5-14h0m1 0h0m4-3h0m4-6h0m2-5h0m2 12h0m1-17h0m1 21h0m1-5h0m6-7h0m0 16h0m2 1h0m0-5h0m1-39h0m0 42h0m2-32h0m1-12h0m4 30h0m6 4h0m2-38h0m1 25h0m3 15h0m1-7h0m2-4h0m5 25h0m1-44h0m1-6h0m2 53h0m6-30h0m0 7h0m6 12h0m3-21h0m4 20h0m2-48h0m2 51h0m1-33h0m0 17h0m3 20h0m0-39h0m1-14h0m0 2h0m2 21h0m1 18h0m5-21h0m0 8h0m3 0h0m0 27h0m0-50h0m0-7h0m2 31h0m2-16h0m3-10h0m0 13h0m3 16h0m2-19h0m5 32h0m7-38h0m9 51h0m2-51h0m6 41h0m2-17h0m6-33h0m1 34h0m11-28h0m1 30h0m8-10h0m2 28h0m0-12h0m2-38h0m2 36h0m2-3h0m6-7h0m2-16h0m2 17h0m1-28h0m2 46h0m12-34h0m2 10h0m6 30h0m4-32h0m0 32h0m1-7h0m17-29h0m0-16h0m1 4h0m4 42h0m2-26h0m2-10h0m7 24h0m1-23h0m4-1h0m0-7h0m3 7h0m8 5h0m5 15h0m0-27h0m5 7h0m13 33h0m4 6h0m6-23h0m3-6h0m0 19h0m0-7h0m1 16h0m1 3h0m7-43h0m3 4h0m0-8h0m0 2h0m0 38h0m1-15h0m0 16h0m6-12h0m7 14h0m3-3h0m10-31h0m1-11h0m1 45h0m1-33h0m5-14h0m0 31h0m9-4h0m6-20h0m1 18h0m1 28h0m4-53h0m3 51h0m8-35h0m0 13h0m3 5h0m1-9h0m0 21h0m1-16h0m3 7h0m0-4h0m0-7h0m4 13h0m0-19h0m0-6h0m5 7h0m3 33h0m2 2h0m6-26h0m2 25h0m2-48h0m4 21h0m4 23h0m9 43h0m-9-26h0m-3 46h0m0-51h0m0 21h0m-4-15h0m0-2h0m0 1h0m-1 33h0m-2 4h0m-2-17h0m-5 17h0m-4-41h0m-3 49h0m-4-48h0m-1 35h0m-4 3h0m-1 4h0m-1-38h0m-4-10h0m-1 39h0m-3-27h0m-2 42h0m-7-53h0m0 31h0m-1-17h0m-2 2h0m-4 20h0m-11 18h0m-4-28h0m-4 16h0m-2-43h0m-4 54h0m-1-8h0m-2-48h0m-5 5h0m-1 35h0m0-3h0m-1 19h0m0-2h0m-3-29h0m0 26h0m-4-5h0m-1-30h0m-5-9h0m-2 37h0m-2 4h0m-3 3h0m0-38h0m-3 8h0m-2 36h0m-3-12h0m-1-44h0m-9 55h0m-2-13h0m-7-28h0m-1-13h0m-2 41h0m-6-5h0m0 15h0m-1-29h0m0-10h0m-9 32h0m-2-16h0m-8-28h0m-1 20h0m0 4h0m-1-21h0m-2-3h0m-1 51h0m-2-52h0m-5 42h0m-15-11h0m0-5h0m-4 21h0m-2 9h0m-1-43h0m0 4h0m-1-8h0m-3 11h0m-2 28h0m-1 6h0m0-12h0m0-19h0m-1 5h0m-3 4h0m-6-31h0m0 3h0m-6-1h0m0 35h0m-2 19h0m-14-53h0m-4 44h0m-2-35h0m-4-11h0m0 46h0m-9-34h0m-2 3h0m-3 11h0m-1 14h0m-1 12h0m-3 0h0m-2-2h0m0-31h0m0-8h0m-1-13h0m-2 39h0m-1 14h0m-5-46h0m-8 8h0m-2 4h0m-1 27h0m0 13h0m-4-34h0m0 18h0m-3-31h0m-2-3h0m-1 39h0m-1 2h0m-1 7h0m-6-2h0m-3-16h0m0-32h0m0 45h0m-3-45h0m-6 34h0m-1 0h0m-4 0h0m-1-36h0m-1 25h0m-1-23h0m-4-1h0m-4 11h0m-1 23h0m-4 1h0m-2 14h0m-1-2h0m-3 3h0m-3-1h0m0-11h0m-3-11h0m-2-10h0m-12-10h0m-1 41h0m0-16h0m0-25h0m-1 35h0m0-14h0m-1-9h0m-9-17h0m-4 13h0m0-11h0m-2-7h0m0 1h0m0 38h0m-4-30h0m-2-3h0m-2 27h0m-5 12h0m0-9h0m-3-23h0m-2 30h0m-1-19h0m-2-4h0m0-9h0m-1 1h0m-1 12h0m-1-7h0m-1-1h0m-1-16h0m-1 53h0m-2-26h0m0-8h0m-1 33h0m-2-35h0m-1-3h0m-1 37h0m-1 0h0m-2-21h0m-1-24h0m-6 27h0m-5 10h0m-2 8h0m-2-13h0m0-20h0m-1-2h0m-2 38h0m0-47h0m-1 10h0m0 2h0m0 13h0m0-2h0m-2 7h0m-2-11h0m-6-1h0m0-8h0m-1-6h0m-1-10h0m-2 11h0m-3-2h0m0 35h0m0-38h0m-1 24h0m-10-29h0m0 48h0m-2-19h0m4 71h0m1-43h0m6 27h0m0 19h0m0 9h0m9-26h0m1-15h0m3-13h0m2 1h0m2 47h0m1-3h0m0 4h0m0-36h0m1 20h0m4 14h0m1-48h0m0 23h0m2-7h0m0 26h0m5 3h0m1 4h0m2-17h0m1 22h0m6-20h0m4-24h0m1-7h0m1 32h0m5-9h0m3 7h0m5-21h0m2 2h0m5 10h0m2 1h0m1-11h0m2 19h0m6 18h0m2 4h0m3-56h0m1 9h0m0 39h0m5 9h0m5-6h0m1-18h0m1-11h0m3-24h0m4 58h0m1-51h0m1 16h0m0 19h0m1-29h0m2-12h0m1 21h0m0 31h0m1-47h0m0 38h0m0 7h0m0-36h0m1 35h0m0-24h0m0-20h0m2 45h0m6-36h0m3-13h0m3 18h0m5-13h0m0-1h0m2 29h0m0 15h0m0-31h0m1 10h0m2-26h0m0 42h0m1 10h0m3-38h0m1-5h0m0 47h0m0-31h0m2 1h0m2 28h0m1-32h0m1-12h0m4-7h0m0 12h0m1 8h0m1-26h0m2 51h0m2-51h0m0 14h0m1 19h0m0 23h0m1-48h0m7 14h0m0-18h0m2 3h0m1 40h0m1-8h0m1 5h0m0-8h0m1-15h0m0 38h0m3-57h0m3 54h0m2-47h0m2 21h0m1-16h0m2 23h0m1 12h0m0-22h0m2-25h0m0 42h0m1-17h0m1 16h0m3-21h0m2 3h0m1 34h0m1-41h0m3 31h0m0-11h0m2-35h0m3 35h0m4-3h0m0-32h0m3-3h0m4 18h0m0 4h0m1 28h0m1 0h0m3-42h0m0 46h0m2-52h0m0 10h0m2 44h0m1 3h0m0-31h0m1-24h0m1 48h0m0 0h0m1-50h0m1 42h0m1 8h0m0-8h0m1-32h0m2-9h0m4 0h0m1 9h0m0 18h0m4-10h0m0 18h0m0-16h0m1-8h0m1 28h0m5-36h0m0 43h0m0-30h0m4 6h0m3-23h0m0 57h0m1-17h0m1-20h0m2 3h0m0-6h0m5 26h0m1-25h0m0 37h0m3-54h0m1 23h0m1-5h0m3 18h0m1 4h0m1 0h0m1 5h0m4-36h0m1 45h0m1-3h0m1-9h0m0-3h0m0-22h0m4 22h0m3 6h0m0-44h0m1 31h0m1-33h0m2 49h0m1-31h0m3-15h0m0 42h0m0-24h0m2 19h0m4-38h0m2 49h0m1-15h0m0 4h0m0-17h0m1 35h0m0-18h0m1-5h0m8 23h0m4-29h0m4 20h0m0 2h0m2-33h0m5 9h0m6 9h0m2-37h0m4 38h0m3-34h0m1 49h0m3-4h0m11-32h0m2 41h0m1-15h0m1 10h0m2 3h0m4-53h0m2 22h0m3 16h0m1-24h0m1 33h0m1-30h0m1 10h0m1 12h0m0 12h0m0-25h0m7 6h0m6-24h0m1 47h0m2-21h0m4-23h0m3-1h0m0-11h0m1 17h0m3 1h0m2-7h0m2 38h0m1 2h0m8-32h0m2 37h0m1-22h0m4 5h0m1-15h0m0 7h0m1-8h0m7 26h0m5-30h0m1 14h0m7-10h0m1 21h0m3-32h0m2 30h0m1-4h0m0-23h0m1 21h0m2-28h0m0-3h0m8 9h0m7 4h0m9-5h0m14 39h0m27-3h0m111 58h0m-6-16h0m-5 12h0m-22 0h0m-17-2h0m-23-31h0m-3 35h0m-2 6h0m-2-12h0m-6-16h0m-8 10h0m-2-6h0m-1 23h0m-29-2h0m-1-9h0m-6-8h0m-1 21h0m-2-30h0m0 13h0m-4 14h0m-7-30h0m-4-16h0m-9 0h0m-4 35h0m-2 7h0m-2-9h0m-6 19h0m-3-20h0m-2 0h0m-1-7h0m0 14h0m-6 6h0m-2-7h0m-2 3h0m0-9h0m-5-6h0m-1-19h0m-5-12h0m0 26h0m-1 0h0m-3 23h0m-3 2h0m-2-15h0m-1 3h0m-1 15h0m0-46h0m-4 3h0m-6-5h0m-1 49h0m-5-27h0m-3-27h0m-2 56h0m-2-18h0m-1-16h0m-1 31h0m-1-19h0m-2-24h0m0 32h0m-1 4h0m-1-17h0m0-5h0m-1 0h0m-1 8h0m-2-16h0m-3 30h0m-1 6h0m0-32h0m-3 27h0m-3-46h0m-1 0h0m-1 37h0m0-4h0m0-23h0m-2 25h0m-1 5h0m0-8h0m0 4h0m-1-11h0m-1 12h0m0-15h0m-1 16h0m-2-18h0m-3 0h0m-1 36h0m-1-53h0m0-2h0m-1 16h0m-2 0h0m0-17h0m-1 46h0m0-34h0m-1-4h0m-1 35h0m-6-44h0m-2 18h0m0-14h0m-4 52h0m-2-36h0m-2-20h0m0 6h0m-8 47h0m-1-18h0m0 10h0m-1-14h0m-1 5h0m-3 4h0m-2 15h0m-2-1h0m-1-21h0m0-3h0m-1 9h0m0 3h0m-1-16h0m-1-20h0m-1 32h0m-3-15h0m-2-14h0m-2-10h0m-5 44h0m-1-45h0m-1 41h0m-1 13h0m0-47h0m-3 11h0m-3 30h0m-2 9h0m0-37h0m-3 13h0m-1-10h0m0 36h0m-2-18h0m-1 19h0m-1-18h0m0-17h0m-1 26h0m0-32h0m-1 16h0m0-24h0m-2 12h0m-4 19h0m-1 11h0m-2-11h0m0-30h0m0 6h0m-2-15h0m-1 45h0m0-23h0m-1 32h0m-2 2h0m0-23h0m0 22h0m-1-5h0m0-27h0m0-7h0m-2 27h0m-2-25h0m-1 34h0m-2-11h0m-3-6h0m-1-21h0m-1 13h0m-5 30h0m0-42h0m-1 23h0m-1-19h0m-1 19h0m-6-14h0m0 17h0m-1-3h0m-2 19h0m0-7h0m-1-39h0m-1 4h0m-1 19h0m0-22h0m-2 11h0m0 7h0m-2-23h0m-1 50h0m-1-24h0m-3-32h0m0 21h0m-2 5h0m0-16h0m0 29h0m0-40h0m-2 43h0m-1-45h0m-2 46h0m-1-2h0m-2-25h0m-2 8h0m0-14h0m-1-14h0m-2 11h0m-1 23h0m-3 1h0m0-10h0m0-18h0m-1 21h0m-5 23h0m-3-41h0m-2 20h0m0 1h0m-3 10h0m-2-16h0m-1 26h0m0-19h0m-2 22h0m-3-49h0m-7 51h0m-1-12h0m-3-19h0m0 4h0m-5 1h0m-1 5h0m-1-22h0m-7 0h0m-3 39h0m-1-26h0m-6 1h0m-5-12h0m-1-4h0m-1 39h0m-6-19h0m-2-2h0m-2 14h0m-1-15h0m-2 25h0m-1-31h0m-1 13h0m-2 6h0m-1-28h0m-1 15h0m-2 2h0m-5-13h0m-10 34h0m0-4h0m-1-38h0m0 4h0m-1 29h0m-1 3h0m0-29h0m-1 14h0m-3-27h0m0 13h0m0-6h0m-1 27h0m-1-17h0m-3-6h0m-2 37h0m-5-13h0m-3 11h0m-9 2h0m-2-18h0m-6-23h0m-4 38h0m-2-39h0m-1 14h0m-2 10h0m0 14h0m-1-16h0m-2-25h0m-2 18h0m-1-17h0m-2-5h0m-1-2h0m-2 33h0m-3-11h0m-1 17h0m-3 12h0m-5-3h0m-6-5h0m0-16h0m-6-7h0m-1 10h0m-1-12h0m0 33h0m-1 8h0m-4-47h0m-5 16h0m-3-20h0m-3 15h0m-2 27h0m-3-47h0m-2 39h0m0-37h0m-6 39h0m-1 15h0m-3-15h0m-5 0h0m-2-10h0m-1-34h0m6 61h0m21 10h0m8 0h0m1-1h0m4-1h0m3-9h0m4 19h0m1-7h0m4-8h0m11-4h0m3 6h0m1-2h0m6 14h0m5 18h0m1 1h0m0 0h0m3-4h0m3-21h0m0 19h0m3 6h0m5-3h0m7 0h0m5-8h0m1 16h0m1-8h0m3 15h0m2-38h0m6 11h0m0 20h0m2 8h0m6-22h0m2-24h0m6 44h0m7-11h0m1-30h0m2 47h0m1-24h0m0 28h0m0-43h0m8 28h0m6-12h0m3-9h0m0 27h0m0-36h0m2-3h0m5-1h0m0 35h0m1-5h0m2-16h0m3-6h0m6 21h0m3 0h0m1-1h0m3-37h0m4 15h0m0-7h0m0 23h0m0 19h0m1 5h0m3-18h0m1-32h0m0 4h0m3 35h0m0-23h0m1 18h0m0 10h0m2-34h0m5 15h0m1-20h0m2 0h0m0 8h0m1 19h0m2-32h0m3 54h0m0-10h0m4-18h0m2-30h0m0 31h0m5 0h0m2-10h0m2 16h0m1-12h0m0-4h0m1-13h0m1 41h0m2-39h0m2 10h0m5-9h0m0-9h0m2 43h0m1-1h0m2 3h0m1-6h0m2-22h0m2-17h0m2 35h0m1-5h0m1 2h0m2 0h0m2 21h0m2-17h0m1-13h0m0 22h0m0 6h0m2-35h0m0-1h0m0 34h0m1-33h0m3 18h0m2-13h0m2 28h0m0-27h0m0 27h0m5-20h0m0-23h0m1 10h0m1 6h0m1 27h0m2-29h0m2 13h0m0 11h0m1 9h0m1-41h0m1 28h0m2-31h0m0 1h0m3 21h0m2-33h0m1 27h0m0-21h0m2 1h0m0 12h0m2 0h0m6 5h0m0-13h0m1-5h0m1 32h0m1-3h0m2-12h0m4-2h0m2-8h0m0-13h0m2 26h0m0-3h0m3-7h0m5 14h0m1-19h0m1 21h0m2 10h0m0-3h0m4-31h0m1-9h0m0 19h0m2-18h0m0 16h0m3 13h0m1 2h0m0-5h0m2 21h0m0-42h0m1 31h0m1-12h0m0 17h0m1-40h0m0 30h0m0-20h0m1 25h0m1 3h0m2 0h0m0 2h0m3-39h0m5 7h0m0 11h0m1-12h0m2 8h0m2-1h0m0 36h0m0-36h0m2 3h0m0 25h0m1 5h0m1-26h0m1 22h0m1-42h0m0 0h0m1 20h0m3 22h0m1-30h0m2-12h0m0 5h0m0 39h0m0-6h0m1-9h0m2-10h0m1 29h0m0-42h0m0 10h0m2 1h0m0 39h0m0-33h0m1 20h0m2-22h0m1 26h0m2-46h0m1 6h0m4 5h0m1 35h0m0-3h0m2-37h0m0-7h0m0 44h0m0-2h0m3-9h0m1 13h0m0-8h0m1-25h0m1 31h0m1 10h0m1-32h0m0 2h0m1 18h0m0-1h0m0-29h0m2 35h0m2-3h0m2-11h0m1-31h0m2 22h0m0-10h0m0 7h0m4 11h0m4-3h0m1-3h0m0 20h0m4-1h0m2-5h0m2-29h0m0-8h0m0 33h0m2-30h0m0 16h0m0 8h0m0-9h0m1 27h0m0-47h0m1 36h0m2-18h0m0-4h0m2 16h0m0-30h0m1 37h0m2-19h0m1 21h0m1-17h0m0 26h0m1 4h0m2-10h0m0-21h0m1 26h0m1-49h0m2 2h0m0 15h0m0 2h0m1-14h0m0-4h0m2 35h0m1-19h0m0 26h0m2 15h0m2-20h0m1-1h0m6-9h0m1-23h0m1 31h0m1-34h0m1 31h0m1 21h0m1-42h0m1 25h0m1-8h0m6 15h0m2-15h0m1-10h0m0 24h0m3-3h0m2-31h0m6-3h0m2 32h0m1-13h0m1-13h0m1 12h0m3 5h0m0-11h0m3 4h0m2 9h0m3-13h0m3 13h0m1-12h0m3 7h0m2 2h0m0-6h0m4 21h0m1-39h0m6 36h0m1-5h0m5 21h0m5-3h0m4-17h0m0-2h0m0 17h0m5-30h0m4-11h0m0 32h0m1 5h0m4-15h0m4-20h0m0 46h0m1-20h0m3-2h0m10 9h0m0-8h0m2 9h0m5-5h0m1-1h0m0-6h0m1 21h0m4-28h0m4-20h0m4 37h0m0 3h0m3 5h0m3-2h0m2-28h0m4 32h0m5-2h0m2 4h0m6-28h0m9 6h0m5 12h0m1-10h0m5-22h0m2 28h0m5-3h0m4 4h0m3 6h0m15-21h0m9 2h0m18-10h0m16 28h0m-6 36h0m-13 21h0m-7-31h0m-9 12h0m-7 3h0m-6-3h0m0-24h0m-5 3h0m-2 25h0m-3 14h0m0-40h0m-2 39h0m-4-8h0m-2 10h0m-4-15h0m-5 21h0m-3-41h0m-7 23h0m-3 11h0m-4-23h0m-1 2h0m-2-5h0m-1 3h0m-2-5h0m-1 21h0m-3 14h0m0-28h0m-2-7h0m-1 33h0m0-20h0m0-12h0m-1-5h0m0 30h0m-4 0h0m-3-21h0m-1 11h0m-6 0h0m-3 16h0m0-20h0m-1 7h0m0 17h0m-1 2h0m0-1h0m0-31h0m-2 35h0m-1-22h0m0-16h0m-1-10h0m-4-5h0m0 22h0m0 2h0m-1 7h0m-1 21h0m-1-54h0m0 10h0m0 41h0m-1-28h0m-1-7h0m-2 29h0m0-32h0m-6 0h0m-1-5h0m-1 38h0m0-35h0m-1 17h0m-4 6h0m-5-20h0m-2 36h0m-2-28h0m-1 2h0m0-18h0m-2 33h0m-2-41h0m-8 39h0m-1 5h0m0-40h0m0 25h0m-1 9h0m0-40h0m0 0h0m-2 47h0m-1-33h0m-3 21h0m-1 13h0m-2-28h0m-4 30h0m-1-4h0m-2-1h0m-2 12h0m-3-44h0m-1 1h0m-4 30h0m-2 11h0m-1-22h0m0 19h0m0-27h0m-1 25h0m-2-46h0m-1-2h0m-1 57h0m0-28h0m-1-30h0m-2 35h0m-1-6h0m0-17h0m-1-11h0m-3 27h0m-2 0h0m-1-17h0m-2 18h0m0 10h0m-5-37h0m0 16h0m-3 7h0m-3 1h0m-3-8h0m-3-15h0m-1 20h0m-3 24h0m-4 0h0m-2-25h0m-2 25h0m-1-26h0m0 0h0m-1-3h0m-1 39h0m0-47h0m0 26h0m-2-22h0m-4 27h0m-7-22h0m-1 9h0m-3-25h0m0 35h0m-1-14h0m-6-24h0m-1 27h0m-3 12h0m-7 10h0m0-48h0m-1 12h0m-5 15h0m-4 19h0m-1-46h0m-3 24h0m-5-4h0m-2 30h0m-5-44h0m-2 14h0m-3 27h0m-2-42h0m-2 37h0m0-2h0m-1-6h0m-2 20h0m-2-4h0m0-4h0m-2-13h0m-3-2h0m0-3h0m-1-28h0m-2 53h0m0-40h0m-2 29h0m-2-30h0m0-8h0m-9 29h0m-3-26h0m-3 5h0m0-1h0m-3 25h0m-3-25h0m-3 15h0m-7-7h0m-4 9h0m-4-24h0m-2-4h0m-7 5h0m0 25h0m-1 2h0m-2-9h0m-2-24h0m-2 39h0m-3-36h0m-4 32h0m-7 5h0m-2-18h0m-4-22h0m-2 23h0m-10 10h0m-2-12h0m-4-13h0m-7-7h0m-5 14h0m-1-14h0m-1 22h0m-11 2h0m-27-19h0m-7 13h0m-6-14h0m-8 9h0m202 47h0m2 8h0m13-2h0m7 1h0m4-5h0m1-1h0m4 9h0m17-11h0m16 5h0m5 17h0m7 0h0m11-14h0m0 1h0m3-9h0m2 4h0m1 6h0m2 17h0m11-1h0m2-8h0m2-9h0m1 19h0m2-5h0m0 3h0m1 12h0m1-14h0m9-7h0m2-7h0m1 35h0m0-11h0m4-16h0m3-14h0m0 40h0m0-6h0m1-19h0m1 6h0m0-17h0m1 29h0m1-21h0m5 32h0m2-36h0m1 9h0m2 3h0m4 5h0m2-17h0m3 31h0m5-13h0m0 6h0m1 9h0m2-4h0m5-6h0m0-23h0m6 46h0m1-7h0m4-13h0m2 13h0m1-23h0m0-16h0m1 12h0m1-4h0m2 21h0m3-23h0m4 35h0m1-53h0m1 32h0m1-18h0m3-14h0m2 22h0m2-7h0m2 6h0m3 17h0m1-10h0m1-18h0m1 15h0m1 12h0m2 4h0m3 1h0m2-10h0m0-13h0m2-3h0m1 5h0m3 4h0m2 15h0m4-3h0m4-3h0m1-15h0m4-2h0m3 29h0m1-15h0m3-1h0m1 15h0m5-9h0m6-19h0m6 15h0m3-16h0m0 20h0m2-1h0m6-32h0m3 25h0m0 16h0m1 6h0m8-14h0m13-19h0m-29 49h0m-17 1h0m-2-7h0m-9 10h0m-8 4h0m-9-12h0m-11 3h0m-11 1h0" stroke="#85b31a" stroke-width="9.5" stroke-linecap="round" fill="none"/>
<path transform="scale(.1)" d="M3554 198h0m-4 7h0m-10-28h0m-2 26h0m-5-2h0m-2-11h0m-1 19h0m0-21h0m0-13h0m-6 9h0m-3 6h0m0 19h0m0-33h0m0 4h0m-2 4h0m-2 12h0m-1-2h0m0-11h0m-1 15h0m-1 8h0m-3-22h0m0 24h0m-1-20h0m-3 21h0m-2-2h0m0-17h0m-1-11h0m-2 13h0m-3 3h0m-2 0h0m-3 6h0m-1 2h0m-2-27h0m0 5h0m0 6h0m-1 8h0m-1 10h0m-1 4h0m-3 1h0m-1-10h0m-1-16h0m0 4h0m-1 18h0m-1-27h0m-1 20h0m-1-11h0m0 9h0m-1-6h0m0 13h0m-1-11h0m-2 3h0m-2-9h0m-1 17h0m-2 5h0m0-9h0m-1-7h0m0-16h0m-2 31h0m0 0h0m0-11h0m-3-18h0m0-3h0m-1 7h0m-2 24h0m-4-15h0m0 14h0m-2-6h0m0 1h0m0 4h0m-2-4h0m-1 2h0m0 0h0m-2 1h0m0-8h0m-9 7h0m-1-9h0m-5 3h0m-1-9h0m-9 9h0m-8-15h0m-2 9h0m-5 14h0m-2-2h0m-11-26h0m0 18h0m-5 10h0m-2-3h0m-10 4h0m0-10h0m-27-6h0m-12 1h0m-9 17h0m-11-3h0m-5-3h0m-4 7h0m-5-6h0m-3 1h0m-2-11h0m-8 14h0m-27 0h0m-322 61h0m9-10h0m14-8h0m9 18h0m4-13h0m58 2h0m9-3h0m9 8h0m46-1h0m1-50h0m5 31h0m7 14h0m2-11h0m16 15h0m1 5h0m6-23h0m1 25h0m20 2h0m5-18h0m9-16h0m3 15h0m13 0h0m5 1h0m7-25h0m3 5h0m2 19h0m1-1h0m9-32h0m1 36h0m1-12h0m1-2h0m1 8h0m0 6h0m2-3h0m7 20h0m1-6h0m4 5h0m0-14h0m2-41h0m1 9h0m2 31h0m6-39h0m0 23h0m2 30h0m0-34h0m3 23h0m6-25h0m4 9h0m0-4h0m0 8h0m3-22h0m3 23h0m3 11h0m1 0h0m6-2h0m4-1h0m1-26h0m3 21h0m2 18h0m0 1h0m7-26h0m1 7h0m5 1h0m2 12h0m3-15h0m1 22h0m2-7h0m3-20h0m1-4h0m0 25h0m2-20h0m0-11h0m0 13h0m1-17h0m1 36h0m1-30h0m3-21h0m2 18h0m1 14h0m0 15h0m1-7h0m1-26h0m3 32h0m0-21h0m6-18h0m3 47h0m0-44h0m2 18h0m0 1h0m3-29h0m0 34h0m1 22h0m4-10h0m0-9h0m0-11h0m1 22h0m0 5h0m1-29h0m0 8h0m0 7h0m2 2h0m1-26h0m2 16h0m2 3h0m0-3h0m2 2h0m2 14h0m1-23h0m0 26h0m2-34h0m1 25h0m0-17h0m1-3h0m1-12h0m1 3h0m0 43h0m0-22h0m1-12h0m2 28h0m3 6h0m1-25h0m0-2h0m1 28h0m1-47h0m2 35h0m1-20h0m2-16h0m0-1h0m1 44h0m0-13h0m0 18h0m5-23h0m2 19h0m1-37h0m2-11h0m1 43h0m0 8h0m3-36h0m0-4h0m1 36h0m0-45h0m1 27h0m1-34h0m2 57h0m1-8h0m0-29h0m1 29h0m1-11h0m1-18h0m0 24h0m2 0h0m1 4h0m2-27h0m0 24h0m1-21h0m1 31h0m0-28h0m0 19h0m3 8h0m0 4h0m2-7h0m1-36h0m0 4h0m0 24h0m1-7h0m1 22h0m0-55h0m1 43h0m1-2h0m0-2h0m1-14h0m0 21h0m0-6h0m0-11h0m1 4h0m2 3h0m1 9h0m0-9h0m0-34h0m1 33h0m0 1h0m1 2h0m0-3h0m0 2h0m1 10h0m0-28h0m1 21h0m1-29h0m1 32h0m0 2h0m0-45h0m1 34h0m0-2h0m1-6h0m0 16h0m0 6h0m0-18h0m1 10h0m0-26h0m0 17h0m0-12h0m1 14h0m1 1h0m0-10h0m0 0h0m1 12h0m0-15h0m0 5h0m0-21h0m0 34h0m0-4h0m1-17h0m0 31h0m0-34h0m1 2h0m0 37h0m0-11h0m1 1h0m0-4h0m0-6h0m1-11h0m0-9h0m0 8h0m0-24h0m1 3h0m0 25h0m1-2h0m0 12h0m1-33h0m0 0h0m1 31h0m0 2h0m0-6h0m0 7h0m1-24h0m0 38h0m0-53h0m0 0h0m1 28h0m0 10h0m0 6h0m1-13h0m0 4h0m1 19h0m1-5h0m0-19h0m0-5h0m0 28h0m0-11h0m1-18h0m0 18h0m1-17h0m0 7h0m0 7h0m1-16h0m1 9h0m0 0h0m0-14h0m1 32h0m0-10h0m0-36h0m1 25h0m0-3h0m2 6h0m0 6h0m1-32h0m0 46h0m0-46h0m1 22h0m0-22h0m0 33h0m0-40h0m1 0h0m0 17h0m0 13h0m1-11h0m0 2h0m0-14h0m1 15h0m1-5h0m1-2h0m0-9h0m0 20h0m1 28h0m1-33h0m1 9h0m0-26h0m1 26h0m0-4h0m0 12h0m1-28h0m0-4h0m1 30h0m2-10h0m0-9h0m0-19h0m2 20h0m1-7h0m0 13h0m1-2h0m0-13h0m1-10h0m0 20h0m0-18h0m0 29h0m1-15h0m0-11h0m1 3h0m1 23h0m0-12h0m2-5h0m0 20h0m0-26h0m1 36h0m0-33h0m0 33h0m2-43h0m0 40h0m0 10h0m1-37h0m0 18h0m0 23h0m0-38h0m0 5h0m1-14h0m0-4h0m2 17h0m0-14h0m2 45h0m0-50h0m1 22h0m0-16h0m1 30h0m1 1h0m0-17h0m0-20h0m1 7h0m1 9h0m0 3h0m0 5h0m1-16h0m1-2h0m1 34h0m2-3h0m0 12h0m1-46h0m4 41h0m5-42h0m2 32h0m6-17h0m1 5h0m1 1h0m1-1h0m3-15h0m4 4h0m1-7h0m2-5h0m0 41h0m3-38h0m2-1h0m6 11h0m4 21h0m3 14h0m0-13h0m2-36h0m2 75h0m-10 30h0m-13-32h0m-5 9h0m-12 26h0m-6-28h0m-1-11h0m-1 45h0m-4-25h0m-1-26h0m-3 37h0m-4 3h0m-1-22h0m-1 13h0m-2-33h0m-2 17h0m-1 18h0m0 17h0m0 4h0m-2-25h0m-1-22h0m-1-4h0m-1 16h0m-7-21h0m-4 19h0m-1-20h0m-2 29h0m-1 22h0m-3-19h0m-3-3h0m0 12h0m0-32h0m-1-7h0m-1 10h0m-1-6h0m-1 22h0m-1 28h0m-2-20h0m-3-28h0m0 22h0m-6 28h0m0-47h0m0 1h0m-1 32h0m-3-44h0m-2 45h0m0 7h0m-2-46h0m-2 23h0m-1-16h0m-1 1h0m-2-12h0m0 11h0m-1-10h0m0 6h0m0 5h0m0-6h0m-1 3h0m-1 33h0m-1-34h0m0 35h0m0-16h0m-1 0h0m0-30h0m-1 17h0m-2-4h0m-3 11h0m0 22h0m0-41h0m0 30h0m-1-28h0m0 9h0m0 26h0m0 12h0m-1-25h0m-1-3h0m0 24h0m-1-31h0m-2 8h0m-1-2h0m0 26h0m-1-15h0m-1-24h0m0 1h0m-1 6h0m0-18h0m-1 1h0m0 56h0m0-27h0m0-18h0m-2 39h0m0-15h0m0-9h0m-1-8h0m0 24h0m-1-11h0m0-18h0m-1 26h0m-1-19h0m-1-8h0m0 11h0m0 14h0m-1-37h0m-1 35h0m-1-6h0m0-4h0m-1-1h0m0 5h0m-1-20h0m-1 45h0m-1-47h0m-1 8h0m-1 5h0m-1 31h0m-1-2h0m-1-34h0m0 9h0m-1 0h0m0 23h0m-1-34h0m0 27h0m0-3h0m-1 2h0m-1-32h0m-1 8h0m0 40h0m0-20h0m-2-15h0m0 4h0m0-18h0m-1 46h0m-1-34h0m0-14h0m-3 4h0m-1 37h0m0-40h0m-2 45h0m0-18h0m-1 13h0m-1-7h0m-1-10h0m0-6h0m-2 0h0m-1 18h0m0 10h0m0 6h0m-1-14h0m-1-33h0m0 16h0m0-27h0m-1 38h0m-1-1h0m0 0h0m-1-18h0m0 19h0m0-32h0m-1 27h0m-3 9h0m-1 12h0m0-21h0m0-18h0m0 44h0m0-4h0m-1-44h0m0 30h0m0-5h0m-1-8h0m0-21h0m0 12h0m0-11h0m-2 4h0m-1 37h0m-1-31h0m0 35h0m-1 7h0m-1-15h0m0 14h0m0-26h0m-1 12h0m0-29h0m-1 10h0m-2 1h0m-1 13h0m0 11h0m-1-43h0m0 13h0m-1-6h0m-2 34h0m-1-25h0m-1-20h0m-1 5h0m-2 39h0m-1-34h0m0 12h0m0 6h0m-1-15h0m-1 12h0m0-6h0m-1-9h0m-4 12h0m0-8h0m-1-3h0m-3 36h0m-1-8h0m0-12h0m0 10h0m0-38h0m-4 51h0m0-41h0m-1 23h0m-4-35h0m0 55h0m-3-49h0m-1 14h0m0-7h0m0 39h0m0-20h0m-1-27h0m0 50h0m0-7h0m-4-28h0m0-12h0m-2 47h0m0-51h0m0 39h0m-1-38h0m-1 36h0m0-27h0m-2 37h0m-1-27h0m-1 18h0m-1-18h0m-2 17h0m0-13h0m-1 13h0m-2-29h0m-1 18h0m-2-11h0m0 5h0m-2 31h0m-1-39h0m-1-3h0m0 13h0m-1-24h0m-3-1h0m-7 20h0m0 15h0m-1 15h0m-2-30h0m-3 12h0m0 4h0m-1 10h0m0-9h0m-2 20h0m0-7h0m0 1h0m-1-12h0m-2 12h0m-2-3h0m-3 10h0m-2-36h0m0-8h0m-1 10h0m-3 29h0m0-31h0m-4-1h0m-2 30h0m0 6h0m-1-47h0m0 34h0m-5 11h0m-2-36h0m-1 25h0m0-6h0m-4-13h0m-8 4h0m-4-16h0m-2 28h0m-1-19h0m0 10h0m-1-27h0m-5 8h0m0 38h0m0-29h0m-2 0h0m-1 32h0m-1-1h0m0-48h0m0-2h0m-2 51h0m-1-32h0m-2-6h0m0 12h0m-3-7h0m-5-9h0m-1-14h0m0 59h0m-1-43h0m-3 15h0m-6-4h0m-11 0h0m-3-26h0m-2 58h0m-2-56h0m-1 41h0m-1-19h0m-1-10h0m-7 39h0m-2-34h0m-2-2h0m-2-4h0m0 39h0m-1-21h0m-7 11h0m-2-11h0m0 11h0m-10-18h0m-5-15h0m-9 36h0m-4 13h0m-3-3h0m-3 1h0m-5-17h0m-11 4h0m-1-29h0m-3 36h0m-6-16h0m-1 13h0m0 9h0m-4-47h0m-3 36h0m-2-20h0m-3 30h0m-2-36h0m-11-10h0m-9-1h0m-2 28h0m-7 17h0m-1-47h0m-8 30h0m-1-36h0m-4 23h0m-4 20h0m-1 13h0m-2-27h0m-9 25h0m-7-21h0m-3-13h0m-3 8h0m-11-19h0m-6 27h0m-5-36h0m-5 28h0m-2-16h0m-9 37h0m-1-10h0m0-32h0m-1 47h0m-4-29h0m-21 2h0m-11-16h0m-5-9h0m-4 50h0m-8-40h0m-8-3h0m-2 43h0m13 45h0m5 19h0m2-1h0m4-19h0m0-3h0m10 4h0m6 7h0m1-43h0m4 4h0m4 40h0m4 10h0m12 0h0m2-38h0m3 31h0m1-41h0m4 37h0m1-29h0m2 35h0m13-26h0m2-5h0m2 25h0m1-23h0m12 27h0m11-17h0m9-25h0m0 46h0m15-22h0m2-12h0m6 4h0m2 35h0m1-42h0m11 24h0m1 18h0m0-53h0m1 53h0m0-4h0m1-3h0m1 6h0m3-6h0m1-8h0m6-14h0m0-22h0m4 18h0m2-3h0m0 17h0m0 19h0m1-16h0m7 5h0m1-25h0m1 29h0m1-18h0m13-28h0m1-3h0m2 51h0m1-24h0m0 24h0m1-1h0m1-1h0m2-25h0m1-26h0m0 41h0m0-32h0m0 6h0m3-8h0m6 39h0m0-28h0m2 0h0m0-14h0m2 53h0m2-49h0m1 45h0m1 1h0m0-46h0m2 40h0m1-10h0m2 14h0m0-19h0m3-9h0m0 19h0m3 4h0m4 0h0m1-6h0m0 11h0m2-11h0m3-17h0m1 6h0m1-23h0m2-1h0m1 16h0m1-10h0m0-7h0m3 50h0m1-40h0m1 42h0m3-11h0m1-11h0m1-17h0m1 40h0m3-32h0m0 11h0m3-24h0m0 11h0m0 26h0m1-21h0m3 4h0m2-7h0m3 15h0m2 9h0m2-36h0m0 2h0m2 11h0m1 27h0m0-34h0m1-14h0m0 48h0m2-48h0m1-2h0m3 20h0m0-19h0m1 39h0m2 9h0m1-8h0m0-40h0m0 39h0m1 5h0m0-16h0m1 1h0m3-9h0m2-3h0m2-1h0m2-18h0m2 16h0m1-7h0m1 14h0m0 32h0m1-53h0m1 23h0m1 20h0m2-2h0m2-24h0m0 31h0m1-8h0m0-44h0m1 40h0m5-34h0m0 48h0m1-29h0m0-5h0m1 33h0m2-16h0m1-4h0m1-13h0m1 18h0m1-7h0m0 27h0m1-26h0m0 0h0m2 2h0m2-17h0m1-4h0m3 23h0m1-1h0m1-27h0m0 38h0m0-36h0m3 29h0m1 14h0m0-10h0m2 1h0m0-38h0m2 20h0m1 15h0m0-13h0m2-4h0m0 29h0m0 0h0m1-4h0m0-29h0m1 35h0m0-3h0m5-17h0m0-32h0m1 41h0m0 6h0m0-36h0m1-5h0m1 46h0m1-7h0m4-47h0m1 9h0m0 10h0m2-15h0m4 21h0m0 1h0m0-17h0m3-2h0m2 11h0m3 7h0m0 14h0m1 2h0m0-31h0m3 13h0m0 22h0m4-42h0m0 5h0m0 14h0m2 23h0m0 11h0m2-6h0m1-40h0m1 10h0m0 3h0m0-10h0m2 37h0m0-18h0m0-24h0m3-9h0m0 30h0m0 23h0m1-40h0m1 26h0m1-3h0m0-12h0m2 3h0m1 7h0m0-25h0m1 15h0m1-23h0m3 16h0m0-17h0m1 1h0m5 21h0m0-12h0m1 9h0m0 6h0m1 16h0m0 13h0m1 4h0m0-37h0m2-19h0m1 8h0m0 12h0m1-8h0m2 5h0m4-1h0m1 3h0m1-17h0m1 22h0m1 29h0m4-54h0m0 15h0m2-16h0m2 30h0m4-19h0m2 6h0m2 7h0m1-18h0m5-4h0m0 11h0m0-2h0m2-7h0m0 23h0m1-17h0m1-4h0m2 8h0m0 32h0m0 11h0m1-35h0m0 23h0m2-9h0m0 14h0m1-22h0m3 17h0m0-1h0m0-5h0m0 8h0m1-36h0m1 1h0m0-13h0m1 17h0m1-14h0m1 19h0m0 37h0m1-50h0m0 11h0m1-1h0m0-14h0m1 39h0m0-1h0m0 1h0m3-17h0m1 18h0m1-2h0m2 14h0m0-2h0m1-16h0m2-33h0m1 47h0m4-35h0m2-4h0m8 21h0m2-17h0m4-4h0m2-1h0m0 18h0m5-23h0m1 1h0m0-6h0m2 25h0m5-2h0m8-5h0m0-9h0m8 39h0m1-28h0m1-8h0m3-2h0m6 0h0m3 6h0m3 36h0m1-34h0m12-18h0m1-2h0m-16 76h0m-65 16h0m0 0h0m-2-23h0m-1 49h0m-6-36h0m0 20h0m-2-37h0m-2 28h0m0 13h0m-1-39h0m-9 12h0m-1 18h0m0 10h0m0-2h0m-7-1h0m-3 7h0m-4-1h0m-2-22h0m0 2h0m-2 6h0m-2-17h0m-14 9h0m-3 6h0m0-35h0m-2 25h0m-1-14h0m-2 13h0m-4 6h0m-1-10h0m-5 39h0m-2-14h0m-5-2h0m-2-24h0m0 18h0m-3 3h0m0-26h0m-8-8h0m-6 45h0m0-25h0m-1-10h0m-2 18h0m-1-16h0m0 7h0m0 21h0m-2 3h0m-2-32h0m0-16h0m-1 9h0m-3-1h0m-1 13h0m-5-12h0m0 10h0m-1-16h0m-3 45h0m-1-29h0m-1 7h0m0-24h0m0 6h0m-1-7h0m-4 0h0m-1 46h0m-1-10h0m-2 6h0m0-31h0m-1-10h0m-6 55h0m0-49h0m-1 18h0m-1 1h0m0 19h0m-2 4h0m0-27h0m-2 11h0m0-15h0m-1-15h0m-1 51h0m0-38h0m-3 31h0m-3-39h0m-1-8h0m-2 33h0m-1-1h0m-3-12h0m-1-8h0m-4-6h0m-1 40h0m-3 8h0m0-46h0m-3 31h0m0 16h0m-1-3h0m-1-47h0m0 23h0m-1-12h0m0-11h0m-1 2h0m-1 33h0m-1-22h0m0-17h0m-1 19h0m-2-15h0m-2-1h0m-3 23h0m-2 3h0m-1-14h0m0 20h0m0 7h0m0 13h0m-1-9h0m-1-35h0m-1 4h0m-1-9h0m-3 12h0m-1-17h0m-5 51h0m-1-6h0m-2-22h0m-2 17h0m-4-19h0m0 7h0m-2 11h0m-1-18h0m0-21h0m-1 9h0m-1 20h0m-2-31h0m-1 4h0m-1-4h0m-1 5h0m0 17h0m-3 13h0m0-31h0m-3-1h0m0 6h0m-1 11h0m-1-7h0m0 27h0m-5 1h0m0-29h0m-1 2h0m0-4h0m-2-6h0m0 3h0m0-3h0m0 35h0m-1-19h0m-2 28h0m-1 6h0m0-47h0m-1 32h0m-4-37h0m0 33h0m-1-28h0m-1 8h0m0 30h0m-3-33h0m-1 22h0m-2 16h0m-1 6h0m-1-44h0m0 28h0m-3 2h0m-1 11h0m0-15h0m0 5h0m-1-4h0m0 2h0m-2-42h0m-2 6h0m-1 32h0m0-16h0m-1 11h0m0 11h0m-2 3h0m0 7h0m-4-51h0m-1 34h0m-1-37h0m-2 21h0m-1 17h0m-1 4h0m0-12h0m-4-30h0m0 19h0m-2 20h0m0-33h0m-2 19h0m0-23h0m-1 15h0m0-11h0m-2 13h0m-2 3h0m-2 22h0m-2-26h0m0 3h0m-2 34h0m0-30h0m-1 10h0m0-9h0m-1 2h0m-1-12h0m-2-12h0m-1 31h0m0 11h0m-2-33h0m-6 33h0m-1-6h0m-1-16h0m-1 17h0m-2-17h0m-2-4h0m-3-8h0m-2 14h0m-2-1h0m-2 23h0m0-12h0m-1 14h0m-2-43h0m0 48h0m-1 1h0m-1-36h0m-4 27h0m-1-41h0m-2 40h0m-1-29h0m-1 28h0m-4-18h0m-4 31h0m-3-1h0m-2-27h0m-1-3h0m-2-5h0m0 30h0m-1-8h0m-2 1h0m-3-17h0m-8 28h0m-2-37h0m-1-6h0m-2-1h0m-1 26h0m-4-28h0m-1 34h0m-2-16h0m-2 14h0m-1 14h0m-3-12h0m-4-33h0m-2-8h0m-2 33h0m-9 22h0m-2-46h0m-3 40h0m-6-2h0m-7-17h0m-2-4h0m-4 1h0m-2-11h0m-2-3h0m-3-11h0m-2 42h0m-2-28h0m-17 37h0m-1-30h0m-1-21h0m-17 9h0m-7 15h0m-6 24h0m-7-38h0m0-10h0m3 95h0m10 11h0m4-40h0m7 22h0m9 19h0m2-42h0m0 43h0m4-40h0m0-1h0m5 43h0m5-42h0m1 41h0m4-21h0m2 16h0m0-8h0m1-21h0m7-12h0m2 43h0m3-23h0m4-5h0m1 0h0m3 9h0m1 10h0m0-25h0m1 6h0m1 30h0m2-22h0m3 0h0m1-16h0m2 6h0m2-15h0m1 28h0m0 3h0m1-13h0m3-12h0m1 8h0m0-6h0m3 14h0m2-20h0m4 41h0m0-11h0m1 9h0m1-31h0m0 8h0m0 31h0m4-48h0m1 29h0m0-21h0m1 5h0m1 39h0m3-57h0m1 38h0m3 7h0m2-16h0m1-16h0m0-3h0m0 1h0m1 12h0m0-7h0m2 13h0m5-11h0m2 18h0m1 3h0m1-20h0m4 9h0m1-4h0m6-6h0m1-5h0m0-8h0m1 3h0m0-3h0m3-3h0m1 16h0m1-3h0m1 38h0m3-53h0m0 53h0m3-28h0m3 5h0m0-13h0m2-3h0m5 32h0m0-43h0m1 35h0m0-27h0m3 21h0m1-15h0m1 20h0m1-11h0m1 14h0m0-20h0m0 13h0m0-28h0m5-3h0m0 1h0m2 12h0m1 29h0m1-36h0m1 28h0m1 21h0m2-4h0m0-24h0m0-22h0m0 19h0m2-6h0m1-6h0m1 14h0m0 2h0m0-9h0m2 13h0m1-17h0m1 25h0m0 2h0m4-18h0m0 1h0m2 15h0m0-19h0m0-6h0m1 9h0m2 10h0m1-8h0m1 0h0m0-13h0m0 16h0m2-24h0m1-8h0m1 54h0m0-26h0m1-12h0m1-4h0m1 33h0m0 2h0m0-23h0m6 34h0m2-20h0m0-19h0m1 22h0m1-42h0m0 3h0m0 4h0m1-4h0m0 15h0m1 0h0m1 21h0m3 13h0m0 2h0m2-34h0m0-8h0m0 0h0m1-2h0m0 16h0m0-4h0m1-9h0m2 18h0m2 25h0m3-44h0m2 7h0m0 7h0m6-15h0m2 30h0m0-4h0m0 18h0m1-41h0m1 40h0m2-27h0m4-22h0m1 17h0m1 9h0m2-11h0m1 11h0m0-7h0m2 13h0m0 4h0m1 3h0m3-7h0m2-29h0m4 34h0m0-18h0m1 8h0m0 7h0m8-29h0m0 1h0m2 18h0m0-17h0m1-5h0m1 13h0m1-3h0m0 15h0m1-5h0m4 24h0m1-38h0m2 23h0m8-4h0m2-25h0m0 47h0m0-10h0m4-22h0m1 35h0m1-57h0m0 30h0m2-4h0m3 9h0m1-27h0m1 4h0m6-9h0m2 42h0m6 13h0m1-29h0m0 29h0m1-4h0m1-36h0m1-18h0m2 6h0m1-6h0m2 40h0m0-19h0m2 31h0m0-52h0m4 9h0m0 27h0m1 22h0m3-21h0m2-4h0m2-7h0m2 22h0m1-18h0m2-30h0m0 19h0m3-7h0m0-1h0m9-8h0m2 22h0m1 7h0m5-14h0m11-17h0m4 43h0m3-36h0m2 2h0m4 6h0m2 32h0m0-23h0m1-17h0m2 8h0m3 27h0m2-9h0m3 1h0m1 21h0m1-1h0m9-7h0m5-28h0m9 35h0m14-14h0m2-12h0m4 2h0m3-23h0m0 30h0m2-16h0m3-2h0m0-4h0m2-10h0m2 1h0m18 7h0m-9 47h0m-1 8h0m-11-7h0m-9 0h0m-8 27h0m-5-28h0m-3 28h0m-7 11h0m-17 15h0m-3-54h0m-1 2h0m-3 40h0m-12-25h0m-10 28h0m-6 7h0m-3-46h0m-2 19h0m0-23h0m-1 51h0m-1-41h0m-18-7h0m-3 43h0m-3-46h0m-8 28h0m-6 21h0m-6 6h0m-7-8h0m0-15h0m-2-3h0m-4-12h0m-13-18h0m-13 4h0m0 35h0m-1-17h0m-2 2h0m-3 27h0m-1-35h0m-5 34h0m-4-30h0m-5 13h0m-3-24h0m-4 13h0m-3-19h0m0 25h0m-1 5h0m-4 19h0m-1-35h0m-1-15h0m-6-5h0m-1 38h0m-3 9h0m-4 11h0m-1-2h0m0-42h0m-1 32h0m-1-8h0m-5-19h0m-2 28h0m-4 6h0m-2-49h0m-1 55h0m-4-35h0m-3 5h0m0 21h0m-1-31h0m-9 33h0m-3-20h0m-1 9h0m-2-38h0m-1 11h0m-1 26h0m-2-26h0m-1-14h0m-1 34h0m-1-23h0m-1-8h0m-3 6h0m-1-2h0m-2 22h0m-1-10h0m0-4h0m-2 20h0m-2-30h0m-1 54h0m-3-23h0m-1-30h0m-3 16h0m-2-3h0m-1-16h0m-3 11h0m-3 4h0m-1-4h0m-1-13h0m-1 52h0m-5-12h0m-4-29h0m-2 2h0m-1-14h0m0 6h0m0 13h0m-6 39h0m0-52h0m-1 25h0m-1 17h0m-2-36h0m0-9h0m-1 5h0m-2-6h0m-1 20h0m0-13h0m-6 46h0m0-51h0m-2 47h0m-2-12h0m0-17h0m-1 9h0m-1 23h0m-3-31h0m0-8h0m-1 28h0m-3 12h0m0-3h0m0-49h0m-4 4h0m-1 33h0m-2 20h0m-1-45h0m0 10h0m-1 24h0m-4-46h0m-2-1h0m0 16h0m0 36h0m0-1h0m-2-43h0m-1-4h0m0 43h0m-1-25h0m0-4h0m0 26h0m-1-10h0m-1-28h0m0 12h0m-2-7h0m-1 14h0m-2-24h0m0 33h0m-2-8h0m0-14h0m-1-6h0m-2 16h0m-1-1h0m0-1h0m-1-1h0m-3 26h0m-1-31h0m0 7h0m-2 4h0m-1-9h0m-3 19h0m-3-14h0m-4-20h0m-2 34h0m0-13h0m-4 24h0m-1-12h0m0-4h0m-3 17h0m-4-45h0m-1 20h0m-4 9h0m-3-4h0m0-15h0m0 5h0m-1 31h0m-1-47h0m-3 51h0m-6-53h0m-2 44h0m-2-21h0m0-15h0m0 43h0m-1-50h0m-1 19h0m-3 21h0m-1-3h0m-3-9h0m0 10h0m-2-39h0m-1 13h0m0 27h0m0-7h0m-2-13h0m-2-20h0m-2 33h0m-3-9h0m-1 8h0m-2 4h0m0 23h0m-1-35h0m-3-8h0m-3 0h0m-2-15h0m0 36h0m-1-29h0m0 8h0m-6 4h0m-3 61h0m9-8h0m2-1h0m2-2h0m6 34h0m0-38h0m1 13h0m1 32h0m5 8h0m4-35h0m3-18h0m0 38h0m4-37h0m8 47h0m8-32h0m4 31h0m16-53h0m1 50h0m3-9h0m0-23h0m1-11h0m1 24h0m1 27h0m8-18h0m0 7h0m3-10h0m6-23h0m1 34h0m9-19h0m1-10h0m9-19h0m1 24h0m0-20h0m0 19h0m1 32h0m1 0h0m2-18h0m3-13h0m1 0h0m1-2h0m10-15h0m1 27h0m1 22h0m5-17h0m4 9h0m1-38h0m5 29h0m1-8h0m2-30h0m4 49h0m3 5h0m3-11h0m5 4h0m6-43h0m1 40h0m9 13h0m0-14h0m3-44h0m4 42h0m1-15h0m4-6h0m2-19h0m2 42h0m3-44h0m19 12h0m3 24h0m10-9h0m2 9h0m2 16h0m1-49h0m6 44h0m2-30h0m1 14h0m1 2h0m9 6h0m6 16h0m2-18h0m7-21h0m3 10h0m1-27h0m1 44h0m1-10h0m3-5h0m9 7h0m22 17h0m2-19h0m3 19h0m6-35h0m10 0h0m1-11h0m1 32h0m7 17h0m9-38h0m19 9h0m8 8h0m3-5h0m5 0h0m11-30h0m23 15h0m-96 89h0m-3-31h0m-3 4h0m-2 25h0m-6 11h0m-6-2h0m-5-44h0m-2 13h0m-2 4h0m-1 33h0m0-33h0m-1 4h0m-3 31h0m-1-31h0m0-18h0m-3-4h0m-9 17h0m-1 21h0m0-35h0m-1 13h0m-1-3h0m-1 2h0m-12 8h0m-1-27h0m-7 25h0m-3 0h0m0-26h0m-2 22h0m-6 19h0m-4 7h0m-11 9h0m-4-47h0m-5-6h0m0 48h0m-8-4h0m0-29h0m-2 26h0m-1-22h0m-4 5h0m-4-13h0m0-4h0m-16 23h0m-3 9h0m-4-41h0m-4 15h0m-5-3h0m-3 18h0m-4-31h0m-2 25h0m-2-17h0m-8 14h0m-4 23h0m-7-46h0m0 44h0m-7-11h0m-2-4h0m0 25h0m-1-23h0m-1-6h0m-7-6h0m-19 27h0m-1-30h0m-2 26h0m-4-34h0m-1 45h0m-1-50h0m0 25h0m0 20h0m-2-36h0m-12 24h0m-19-28h0m-5 34h0m-1-1h0m-12-34h0m-5 30h0m-10-30h0m-7 46h0m-1-34h0m-2 24h0m-3-25h0m-14-13h0m-4 50h0m3 41h0m17-20h0m23 2h0m5-18h0m1 12h0m4 14h0m4-6h0m24 16h0m13-20h0m17-3h0m6 10h0m2-2h0m9-21h0m22 28h0m1 11h0m31-1h0m5 0h0m29-20h0m15 10h0m1 7h0m2 3h0m27-16h0m4-1h0m7-11h0m1 6h0m1-8h0" stroke="#4fcbc6" stroke-width="9.5" stroke-linecap="round" fill="none"/>
<path transform="scale(.1)" d="M2880 184h0m-11 14h0m-2 7h0m-12-7h0m0-12h0m-2-3h0m-11 8h0m-1-8h0m-19 12h0m-8 7h0m-10-5h0m-2 8h0m-43 3h0m-1-20h0m-5 1h0m-40 6h0m-1-11h0m-1 10h0m-8 3h0m-11-4h0m-21 2h0m-6-8h0m-1 20h0m-32-16h0m-4 19h0m-3-9h0m0 8h0m-10-6h0m-14-23h0m-11-3h0m-4 23h0m-12 0h0m-31-14h0m-5 8h0m-8-9h0m-20 4h0m-11 12h0m-19 1h0m-7-8h0m-46-2h0m-5 2h0m-2-2h0m-16 13h0m-6-12h0m-9 10h0m-12-18h0m-2 12h0m-23-6h0m1 22h0m16 24h0m19-24h0m3 39h0m11-33h0m3 13h0m32 34h0m5-43h0m6 46h0m3-19h0m7-39h0m12 29h0m16 14h0m10-21h0m3 32h0m4-42h0m3 23h0m8 1h0m9-36h0m7 32h0m10-16h0m4 10h0m9-20h0m8 37h0m1-40h0m8 16h0m3 13h0m5 15h0m1 11h0m5-43h0m16-5h0m2 36h0m3-25h0m6-2h0m4 1h0m4 19h0m9-28h0m1-2h0m0 39h0m1-20h0m3-12h0m11-4h0m3-10h0m1-2h0m0 44h0m1 1h0m1-24h0m1 15h0m1-2h0m2-32h0m5 8h0m1-4h0m2 42h0m5 10h0m0-8h0m1-36h0m6 21h0m10 9h0m3-12h0m10 8h0m2-15h0m1-17h0m4 1h0m13 6h0m0 32h0m8-27h0m8-20h0m22 52h0m5-26h0m1-16h0m3 28h0m3 0h0m5-37h0m9 50h0m1-14h0m0-22h0m6 0h0m7 20h0m4-14h0m4 10h0m1-27h0m6 11h0m3 2h0m3 31h0m0-34h0m0-9h0m5 34h0m4 1h0m3-32h0m3 51h0m3-35h0m0 11h0m1 22h0m1-5h0m1-15h0m1-9h0m6 29h0m3-55h0m2 40h0m0 10h0m8-51h0m6 12h0m5 11h0m1-5h0m11 62h0m-1 20h0m0-2h0m-1-12h0m0 23h0m-3-14h0m-5-12h0m-4 8h0m-1-29h0m-3 3h0m-2 27h0m-5-10h0m-2 31h0m-1-50h0m0 3h0m-6 25h0m-1-3h0m-2-9h0m-6-10h0m-1-6h0m-6 3h0m-3 13h0m-6 34h0m-3-28h0m0 6h0m-1 6h0m-3-30h0m0 27h0m-3-12h0m-5 2h0m-1 29h0m-2-8h0m-4-10h0m-1-21h0m-2 27h0m-6-9h0m0-17h0m-2 7h0m0 28h0m0-32h0m-1 16h0m0 10h0m0-3h0m-1 5h0m-1-24h0m-3 12h0m-4-29h0m-3 0h0m0 53h0m-1-35h0m-3 12h0m-1 17h0m0 0h0m-5-34h0m-2-8h0m-4 1h0m0-13h0m-7 47h0m-3-6h0m0-25h0m-1 37h0m-2-48h0m-6 55h0m-4-3h0m-3-38h0m-5 17h0m-6 2h0m-1-9h0m0 19h0m0-13h0m-5-4h0m0 10h0m-4-19h0m-4 14h0m-1 14h0m-5-44h0m-3 46h0m0-41h0m-1-7h0m-1 19h0m-3 34h0m-3-4h0m-7-19h0m-5-24h0m-1 49h0m-3-37h0m-2 21h0m-3-4h0m-1-14h0m-3-17h0m0 29h0m-4 21h0m-1-43h0m-1 25h0m0 12h0m-1-7h0m0-16h0m-1-7h0m0-7h0m-3 32h0m-1-29h0m-1 9h0m-5-20h0m-2 30h0m-6-12h0m-8-10h0m-1-1h0m0 44h0m-1-28h0m-3-27h0m0 39h0m-1-23h0m-5 22h0m-3-4h0m-6-20h0m-4-4h0m0 34h0m-5 11h0m-2-34h0m-2 27h0m-2-47h0m-1 20h0m-6-16h0m-4 21h0m0-3h0m-1 21h0m0-36h0m-9 28h0m-5 7h0m-3-16h0m-3 26h0m-2-23h0m-2 2h0m-7 9h0m-1 5h0m-8-6h0m0-37h0m-1 40h0m-1-10h0m-1 12h0m-2-26h0m-7 18h0m-2-3h0m-9-32h0m-2-4h0m-1 38h0m-16-1h0m-7-26h0m-10 4h0m-8 3h0m-2 34h0m-3 4h0m-10-43h0m-22 46h0m-9-11h0m-6-42h0m0 4h0m-7 22h0m-3-17h0m-6-10h0m-30 0h0m37 57h0m1 0h0m5 18h0m14 15h0m4-15h0m21 18h0m3-2h0m3-11h0m1-16h0m12 4h0m3 42h0m0-53h0m8 44h0m9 2h0m4-12h0m11-28h0m4 17h0m3-17h0m5 24h0m4 23h0m2-20h0m0-12h0m0 27h0m6 7h0m7 1h0m1-28h0m12-10h0m1 11h0m3-3h0m0-1h0m4-24h0m2 40h0m2-34h0m3 9h0m1-3h0m2 23h0m7-34h0m0 0h0m7 10h0m2 36h0m5-15h0m6 9h0m4-26h0m1 19h0m4-6h0m0 22h0m1-46h0m1 24h0m0-11h0m4 8h0m0-1h0m10 31h0m0-48h0m3 48h0m0-20h0m2-36h0m2 28h0m1-13h0m5 2h0m1 7h0m1-3h0m1 11h0m2 5h0m1-24h0m1 40h0m1-27h0m0 2h0m1 18h0m2-20h0m1 0h0m1-25h0m0 52h0m2-35h0m2 29h0m1-23h0m0-3h0m2-4h0m0 22h0m2-25h0m0 19h0m3-35h0m0 37h0m2-17h0m2 33h0m1-24h0m5 22h0m0-29h0m1 7h0m0-21h0m2 41h0m2-15h0m1-11h0m2 22h0m3-10h0m1-11h0m3 24h0m2-5h0m1-17h0m0-10h0m5 11h0m2-18h0m3 37h0m0 4h0m2 0h0m2-11h0m1-20h0m0-8h0m0 0h0m0 37h0m1-1h0m1 6h0m0-20h0m4-32h0m4 13h0m2 34h0m1-19h0m3 13h0m1 17h0m0-12h0m3-9h0m0 9h0m1-30h0m1 39h0m0-16h0m1 6h0m0 5h0m2-42h0m7 26h0m0 20h0m4-8h0m1-32h0m2 31h0m1 1h0m0-3h0m3 12h0m0-50h0m3 42h0m0-15h0m0-25h0m3 46h0m1-50h0m0 27h0m4-14h0m1 39h0m0-29h0m0 0h0m0-23h0m6 52h0m0-55h0m1 21h0m4 5h0m1 17h0m1-34h0m0 10h0m1-6h0m2 0h0m4 20h0m0 0h0m0-13h0m0 33h0m1 0h0m2-52h0m2 4h0m0 52h0m1-43h0m1 7h0m0-15h0m4 48h0m1-2h0m0-14h0m0-8h0m5-5h0m1 9h0m2 9h0m3 14h0m2-4h0m1-39h0m1 30h0m4-4h0m0-14h0m4 7h0m1-1h0m0-16h0m1-15h0m1 52h0m1-41h0m0-10h0m0 17h0m7 21h0m1 6h0m3-26h0m0 6h0m1-11h0m1 15h0m0 21h0m1 5h0m0-1h0m1-35h0m2 35h0m3-20h0m0-23h0m1 20h0m0-15h0m4 28h0m0-27h0m2 24h0m0 12h0m0-51h0m2 48h0m2-32h0m0 13h0m2 0h0m1-15h0m1-10h0m4 46h0m3-9h0m4 4h0m0-20h0m0-16h0m1 7h0m0 39h0m7-43h0m1 21h0m1 12h0m0-34h0m1-4h0m1 50h0m-4 39h0m-2-25h0m-1 43h0m-3-52h0m-1-6h0m-2 45h0m0-4h0m-2-38h0m-1 49h0m0 1h0m-2-27h0m0 5h0m0-10h0m-3 8h0m-1-25h0m-3 4h0m-4 9h0m-1 33h0m0-9h0m-1-37h0m-1 15h0m0 25h0m-2 1h0m-4 0h0m-1-6h0m-1-4h0m0 14h0m-3-44h0m-1 14h0m-1-15h0m0 3h0m-1 39h0m0-20h0m-2-5h0m-1 18h0m-4-2h0m0-34h0m-1 35h0m-1 10h0m-1-39h0m-1 4h0m0 35h0m-2 1h0m-1-37h0m-3 5h0m-1 11h0m-1 26h0m0-24h0m-1-24h0m-2 16h0m0 32h0m-4-50h0m-1 0h0m-2 30h0m-3 5h0m-1 1h0m0 19h0m-1-6h0m0-45h0m0 49h0m-1-15h0m-1-31h0m-1 25h0m-1 14h0m-5-17h0m-1-9h0m-2 24h0m-1-25h0m-2 13h0m-7-2h0m0 12h0m0 12h0m-2-28h0m-5-28h0m0 50h0m0-7h0m-1-14h0m-2-16h0m0 10h0m-1-9h0m-2 15h0m0 24h0m-1-11h0m0 8h0m0 6h0m-1-8h0m-3 1h0m-1-14h0m-1 9h0m-1 8h0m0-36h0m0 8h0m-1 15h0m0 2h0m-3-16h0m-4 30h0m0-55h0m-1-2h0m0 3h0m-5 32h0m-1-3h0m-2-7h0m-2 14h0m0-33h0m-3 20h0m-1 28h0m-3-4h0m-1-5h0m0 8h0m0-44h0m-2 26h0m0-10h0m-1 10h0m-1-8h0m-3-6h0m-1 24h0m0-9h0m-2 17h0m0-42h0m-4 21h0m0-5h0m-1 5h0m-1-11h0m0 25h0m-2-5h0m0-28h0m-1 5h0m-1 6h0m-1 1h0m-2 23h0m-2-7h0m-1-7h0m0 9h0m0-25h0m-2 14h0m-3 5h0m-1 10h0m-1-7h0m0 13h0m0-4h0m-1-40h0m-1 19h0m0-4h0m-4-12h0m0 6h0m-1-15h0m0 17h0m0-19h0m-1 8h0m-4 24h0m-3-9h0m-1 28h0m-1-5h0m-1-36h0m0 34h0m0-7h0m-3-26h0m-1 10h0m-1 37h0m-2-46h0m-1 9h0m-2 9h0m-1-23h0m-5 3h0m0 7h0m-2 26h0m0 12h0m-1-7h0m-1-1h0m-1-36h0m-1-9h0m-1 1h0m0 24h0m-2-16h0m-1 21h0m-1-6h0m-1 20h0m0 6h0m0 3h0m-5-17h0m-2 16h0m-1-54h0m-3 49h0m-2-34h0m-3 30h0m-2-5h0m-1-19h0m-1 35h0m-5-28h0m-1 6h0m0-1h0m-2-7h0m-1 22h0m0-12h0m-11 10h0m0-21h0m-2 32h0m-2 0h0m0-8h0m-1-8h0m-2-16h0m-2-7h0m-1-17h0m0 3h0m-1 32h0m0-3h0m-1 3h0m-3 4h0m-4-27h0m-2-11h0m-1 35h0m-3-29h0m-2-10h0m0 59h0m-3-9h0m0 1h0m-1-51h0m-10 23h0m-3 36h0m-5-6h0m-1-12h0m-4-9h0m-1-10h0m0-1h0m-6-18h0m-1 31h0m-1-2h0m0-18h0m-12 42h0m-1-39h0m-2 0h0m-1 6h0m0 8h0m-10 0h0m-7 6h0m-4-35h0m-1 3h0m-6 16h0m-3-16h0m-9 28h0m-3 25h0m-4-50h0m0 28h0m-2 21h0m-1-40h0m-5 26h0m-4-36h0m-5 20h0m-3 29h0m-12-20h0m-8-18h0m-2 2h0m37 66h0m10-26h0m3 21h0m4-20h0m0 19h0m10 11h0m0-28h0m4 19h0m3-4h0m3 1h0m5 39h0m5-43h0m2-3h0m7 47h0m2-6h0m1-4h0m2-16h0m0-22h0m4 32h0m0 6h0m2-13h0m4 4h0m1-34h0m2 25h0m6 2h0m2-29h0m1 30h0m3-12h0m4-11h0m1 28h0m2-9h0m1-25h0m1 11h0m2-8h0m1-3h0m2 36h0m1-41h0m1 28h0m1 21h0m1-3h0m1-18h0m1 26h0m5-30h0m0 11h0m1-30h0m0 18h0m1 2h0m0 11h0m0-9h0m0 15h0m0-1h0m1-33h0m0 49h0m1-11h0m3-16h0m0 1h0m5 17h0m2-41h0m1 34h0m0-36h0m1-1h0m1 52h0m0-4h0m6-3h0m0-42h0m3 20h0m5-21h0m1 17h0m2 0h0m2-21h0m0 40h0m2 2h0m1 3h0m2-30h0m0-11h0m1-5h0m2-1h0m0 44h0m0-14h0m1 24h0m1-8h0m0-29h0m2-1h0m0 22h0m1-23h0m0-8h0m2-4h0m3 47h0m0-29h0m1 16h0m3 1h0m0-12h0m1-5h0m1 13h0m1-27h0m0 24h0m1 13h0m4-27h0m1-12h0m0 27h0m5 17h0m0-11h0m1 12h0m1-35h0m0 15h0m0-16h0m2 10h0m0 27h0m0-8h0m2-15h0m1 6h0m3-17h0m1 21h0m0-5h0m3-1h0m0 26h0m1-37h0m0-19h0m2 1h0m0 45h0m2-30h0m0 32h0m2-38h0m0 6h0m2 26h0m1-7h0m0 7h0m0-39h0m1-1h0m0 51h0m3-20h0m2-34h0m3 56h0m1-51h0m0 46h0m0-1h0m3-22h0m0-12h0m2 43h0m1-58h0m0 45h0m5-29h0m1 41h0m2-53h0m4 30h0m1-11h0m1-14h0m3 41h0m1-38h0m1 25h0m2-6h0m0-32h0m1 15h0m0-9h0m0 9h0m2 39h0m2-39h0m1-13h0m2 35h0m2-9h0m2-21h0m1-6h0m4 51h0m1-50h0m1 47h0m0-29h0m0 27h0m4 3h0m0-46h0m2 24h0m1-11h0m1 32h0m1-5h0m0-22h0m1 12h0m1 22h0m2-14h0m1-5h0m0-31h0m1 42h0m1-20h0m1-24h0m0 40h0m0-21h0m2-12h0m2 22h0m1 23h0m3-37h0m2 10h0m1 25h0m3-2h0m0-24h0m0 9h0m1-7h0m0 3h0m3-29h0m2 12h0m0 20h0m1 1h0m2-26h0m1 45h0m3-9h0m1-5h0m1-28h0m0-4h0m0 12h0m2 8h0m0 26h0m1-23h0m0-18h0m1 24h0m1-38h0m2 3h0m1 23h0m2 19h0m2-25h0m0 22h0m4 16h0m1-39h0m3-6h0m1 18h0m1-6h0m0 3h0m1 16h0m2 13h0m0-4h0m1-1h0m0-18h0m0 6h0m2 17h0m0-56h0m2 26h0m0 16h0m1-10h0m0-33h0m0 18h0m5-7h0m3 41h0m0-8h0m1 10h0m8-13h0m14 8h0m0-7h0m0-26h0m2 26h0m5-26h0m0-2h0m4-6h0m3 45h0m0-15h0m0 20h0m2-33h0m1 5h0m0 18h0m4-10h0m5-15h0m3 15h0m-1 53h0m-6-22h0m0 40h0m-1-22h0m-1-2h0m-1-8h0m-4 10h0m-5-11h0m-2 26h0m0-22h0m0 21h0m-1-30h0m0-5h0m0 13h0m-1 5h0m-1 9h0m0 2h0m0-7h0m-2-13h0m-5 5h0m-1 17h0m-2 12h0m-6-1h0m-2-24h0m-1 12h0m-2-16h0m-2 30h0m0-20h0m-7 3h0m0-17h0m-2 35h0m0-11h0m0-7h0m-4 2h0m0 15h0m0-38h0m-1 28h0m-2-24h0m0 24h0m-1-12h0m-1-22h0m-1 13h0m-1-17h0m-1 6h0m0 38h0m-1-27h0m-1 21h0m-1 17h0m-1-48h0m-3 7h0m-2-8h0m-1 16h0m-1-1h0m-6-9h0m0 28h0m-2 11h0m-2-44h0m0 24h0m-1 21h0m-1-27h0m0-3h0m0 26h0m-7-43h0m-3 41h0m0-8h0m-1-40h0m-1 42h0m-1-12h0m0 6h0m0 1h0m-2 5h0m-1-20h0m-4-24h0m-1 50h0m0-42h0m-1 5h0m-2 5h0m-1 31h0m-1-4h0m-6 4h0m-2-2h0m-1-42h0m0-2h0m-1 30h0m0-13h0m-1 31h0m-3-42h0m-1-6h0m0 8h0m0 5h0m-1-10h0m-4-4h0m-1 23h0m0 34h0m-1-20h0m-6-17h0m0-2h0m0 38h0m-1-42h0m-1 31h0m0-42h0m-4 1h0m-1 40h0m-1-24h0m-1 31h0m-4-6h0m0-39h0m-1-4h0m0 6h0m-1 6h0m0-2h0m-1 22h0m-2-4h0m-10-26h0m-2 45h0m-1-48h0m-4 43h0m-1 5h0m0-15h0m-3-9h0m0 23h0m-2-16h0m-7-26h0m-1 46h0m0-52h0m0 45h0m0 3h0m0-18h0m-1 4h0m-1-11h0m-3 13h0m-1-2h0m0-26h0m-1-8h0m-3 16h0m-1-12h0m-2 39h0m0-17h0m-1-12h0m-2 34h0m0 8h0m-4-9h0m-2 0h0m-1-14h0m-2-9h0m-2-24h0m-4 7h0m-1 48h0m-1-54h0m-2 24h0m-2 18h0m-4 1h0m0-20h0m-5-4h0m-10-4h0m-3 31h0m0-34h0m-4-13h0m-2 21h0m-3-18h0m-1 50h0m-3-34h0m-8 37h0m-2-29h0m-4 19h0m-2-2h0m-5-13h0m-3-32h0m-6 8h0m-1 7h0m-2 6h0m0-9h0m-5-8h0m0 0h0m-3 52h0m-1-39h0m-2-10h0m-1 4h0m-2 39h0m-5-14h0m-2 16h0m0-9h0m0-26h0m-5 28h0m0 13h0m0 0h0m-2-21h0m-1-3h0m-1-18h0m-2 37h0m0-45h0m0 44h0m-2-17h0m-11-11h0m0-6h0m-4 10h0m-1-20h0m-5 26h0m-5 3h0m-1-23h0m-2 12h0m-4-17h0m-2 6h0m-13-7h0m35 51h0m11 8h0m3 20h0m4-11h0m1 12h0m11 5h0m2-6h0m2-22h0m0 46h0m2-30h0m5 10h0m0-23h0m3 30h0m2 10h0m3-46h0m3 49h0m2-11h0m4-23h0m2 28h0m0-13h0m3 22h0m2 1h0m1-13h0m0 8h0m3-41h0m1 26h0m5-34h0m2 1h0m1 20h0m1-16h0m5-5h0m1 9h0m5 8h0m3-16h0m0 2h0m0 16h0m1 13h0m1 1h0m1 24h0m7-20h0m9-34h0m2 17h0m0-11h0m0 40h0m2-48h0m2 53h0m1-41h0m12 1h0m2 21h0m6-23h0m4-7h0m12 52h0m2-47h0m2-12h0m4 42h0m0-32h0m0 40h0m0-24h0m3-5h0m0 8h0m0-14h0m3 4h0m0 27h0m2-21h0m1 13h0m10-8h0m2-15h0m0 10h0m2 21h0m1 9h0m3-20h0m0 15h0m1-11h0m1 7h0m12-38h0m1 24h0m0 16h0m1 10h0m4-49h0m2 43h0m1-4h0m2 3h0m0-14h0m7-34h0m0 49h0m3-47h0m1 25h0m3 25h0m2-34h0m0 10h0m1-2h0m0 27h0m0-22h0m8 6h0m2-24h0m3 9h0m1 27h0m1-46h0m4 22h0m1 21h0m3-45h0m1-3h0m1 12h0m8-7h0m1 19h0m1 29h0m8 5h0m4-45h0m2 21h0m2-17h0m2-10h0m1 0h0m1 1h0m1 20h0m1 16h0m0-11h0m1-2h0m4 2h0m3 1h0m1-23h0m1 8h0m0 32h0m1-40h0m0 16h0m4-26h0m4 17h0m4 0h0m10 26h0m0-30h0m6 6h0m1-16h0m0 12h0m6-5h0m2-4h0m1 39h0m1 2h0m2-28h0m5-1h0m-2 80h0m-3 8h0m-15-20h0m0 20h0m-4-8h0m-2-11h0m-5-25h0m-3 34h0m-5 17h0m-1-34h0m-3 30h0m0-39h0m-5 18h0m-3-1h0m-7 13h0m-17-23h0m-2 1h0m-1 32h0m-8-34h0m-4 3h0m-10 7h0m-1 10h0m-1 0h0m-8-5h0m-5-14h0m-3 11h0m-3-24h0m-1 12h0m-2 13h0m-1-15h0m-10-11h0m-1 7h0m-2 22h0m-4-30h0m0 52h0m0-53h0m-2 35h0m-8-7h0m-13 12h0m0 0h0m-16-29h0m-1-12h0m-11 38h0m-2 14h0m-1-30h0m-1 0h0m-2 26h0m-1-1h0m-2-20h0m-9-29h0m-2 49h0m0-12h0m-6-26h0m-3 41h0m-1-18h0m-6-27h0m-14 4h0m-1 4h0m-8 26h0m-3 9h0m0-7h0m-3-2h0m-1 18h0m0-55h0m-1 15h0m-6 33h0m-6-23h0m0 4h0m-2 0h0m-8-31h0m-10 36h0m-1-20h0m-7 2h0m-3-11h0m39 64h0m9 4h0m0-7h0m7 31h0m5-19h0m16-1h0m0-2h0m22 10h0m7-13h0m6 12h0m1 13h0m1-3h0m12-12h0m2-26h0m16 2h0m1 3h0m5 35h0m1-9h0m15-14h0m14 2h0m10-5h0m6 5h0m11-6h0m14 8h0m0 3h0m21 4h0m3-20h0m1 26h0m13-27h0m8 7h0m8 11h0m17 12h0m1-24h0m2 23h0m9-1h0" stroke="#c684fb" stroke-width="9.5" stroke-linecap="round" fill="none"/>
<circle cx="386.7" cy="16.7" r="1.5" fill="#F8766D"/>
<text x="393.3" y="19.4">AC-like</text>
<circle cx="386.7" cy="28.53" r="1.5" fill="#7CAE00"/>
<text x="393.3" y="31.23">MES-like</text>
<circle cx="386.7" cy="40.36" r="1.5" fill="#00BFC4"/>
<text x="393.3" y="43.06">NPC-like</text>
<circle cx="386.7" cy="52.19" r="1.5" fill="#C77CFF"/>
<text x="393.3" y="54.89">OPC-like</text>
<path d="M497.6 10.2L497.6 142.3" stroke="#333" stroke-width="0.9"/>
<path d="M497.1 141.8L671.3 141.8" stroke="#333" stroke-width="0.9"/>
<path d="M495.4 135.9L497.6 135.9" stroke="#333" stroke-width="0.9"/>
<text x="494.6" y="138.6" text-anchor="end">0</text>
<path d="M495.4 100.9L497.6 100.9" stroke="#333" stroke-width="0.9"/>
<text x="494.6" y="103.6" text-anchor="end">5</text>
<path d="M495.4 65.9L497.6 65.9" stroke="#333" stroke-width="0.9"/>
<text x="494.6" y="68.6" text-anchor="end">10</text>
<path d="M495.4 30.9L497.6 30.9" stroke="#333" stroke-width="0.9"/>
<text x="494.6" y="33.6" text-anchor="end">15</text>
<path d="M522 141.8L522 144" stroke="#333" stroke-width="0.9"/>
<text x="524" y="147" text-anchor="end" transform="rotate(-45 524 147)">AC-like</text>
<path d="M563.5 141.8L563.5 144" stroke="#333" stroke-width="0.9"/>
<text x="565.5" y="147" text-anchor="end" transform="rotate(-45 565.5 147)">MES-like</text>
<path d="M605.2 141.8L605.2 144" stroke="#333" stroke-width="0.9"/>
<text x="607.2" y="147" text-anchor="end" transform="rotate(-45 607.2 147)">NPC-like</text>
<path d="M647.4 141.8L647.4 144" stroke="#333" stroke-width="0.9"/>
<text x="649.4" y="147" text-anchor="end" transform="rotate(-45 649.4 147)">OPC-like</text>
<text x="480.1" y="75.2" text-anchor="middle" transform="rotate(-90 480.1 75.2)"><tspan font-style="italic">HNRNPH1</tspan> normalized counts</text>
<path d="M507.4 90.4h29.2v11.2h-29.2zM507.4 95.65h29.2" fill="none" stroke="#f4a39c" stroke-width="0.8"/>
<path transform="scale(.1)" d="M5251 689h0m-111 57h0m2-2h0m2-52h0m42 29h0m9 26h0m43 2h0m33-40h0m7 3h0m7 10h0m16 22h0m8 33h0m-6-4h0m-12 4h0m0 21h0m-5-33h0m-3 41h0m-1 0h0m-4 1h0m-5-23h0m-3-17h0m-4 8h0m-3 23h0m-6-13h0m-3 0h0m-3-2h0m-3-16h0m-8 42h0m0-33h0m-23 20h0m-1-46h0m-1 11h0m0 25h0m-3 16h0m-6-19h0m-9-11h0m-2 26h0m-3-12h0m-4-10h0m-2 25h0m-3 4h0m-1-7h0m-2-48h0m-6 4h0m-3 48h0m-8-29h0m-10 12h0m-1 14h0m-1 0h0m-5-32h0m-16 99h0m1-40h0m0 31h0m3-7h0m1 1h0m1-15h0m2-15h0m1 28h0m1-20h0m0 22h0m2-23h0m1 3h0m0 16h0m1 18h0m1-43h0m4 5h0m2 22h0m0-5h0m0 2h0m3-1h0m1 17h0m0-10h0m2-40h0m1 55h0m1-8h0m0-15h0m1 17h0m4-41h0m0 8h0m5 29h0m1 7h0m0-46h0m0-1h0m1 0h0m1 27h0m2 6h0m0-7h0m0 25h0m1-35h0m0 5h0m0 19h0m1-3h0m1 7h0m0 5h0m0 1h0m1-45h0m0 25h0m1 7h0m0 14h0m1-3h0m0-40h0m2 44h0m1-46h0m0 37h0m1-32h0m0 2h0m3 18h0m3-12h0m1 3h0m0-1h0m1-8h0m1 21h0m2-18h0m0 34h0m5-11h0m0 12h0m1 0h0m0-31h0m2 25h0m1-39h0m1 46h0m0-5h0m1-39h0m0 41h0m1-22h0m3 20h0m0-6h0m2-30h0m3 14h0m0 4h0m0-15h0m0-11h0m4 2h0m0 44h0m1-34h0m1-1h0m0 1h0m1 5h0m0-14h0m0 26h0m4 20h0m1-7h0m0-8h0m4-20h0m1-10h0m2-12h0m1 29h0m1 26h0m0-13h0m1-17h0m2 26h0m1-15h0m0 15h0m0-29h0m1-4h0m3 35h0m2 0h0m1-4h0m1 2h0m4-47h0m2 25h0m0 26h0m0 2h0m3 1h0m1-3h0m1-48h0m0 33h0m2 0h0m0-4h0m2 20h0m0-16h0m1 12h0m1-21h0m0 17h0m0 4h0m0-8h0m1-20h0m1 12h0m1-38h0m1 52h0m0-45h0m1 39h0m2 7h0m0-19h0m1-9h0m1 20h0m2-19h0m1 5h0m1 27h0m1-27h0m0 28h0m0-5h0m2 5h0m1-4h0m2-1h0m0-1h0m0-3h0m6 1h0m1-12h0m2 11h0m1-2h0m1-17h0m1-14h0m1 36h0m1-40h0m3 46h0m1-34h0m2-8h0m1 39h0m2-34h0m1-3h0m0 32h0m1-15h0m1-6h0m0 86h0m-1-2h0m-1-45h0m0 32h0m0 1h0m-1-11h0m0 28h0m0-26h0m-1 15h0m-1-8h0m0-14h0m0 2h0m0-5h0m0-20h0m0 50h0m-1-9h0m0-11h0m-1-26h0m0 32h0m0 11h0m-1-18h0m-1 23h0m0-10h0m-1-43h0m0 48h0m0-19h0m-1-26h0m0 11h0m0 38h0m-1-40h0m0 34h0m0 1h0m-1 4h0m0-30h0m-1 28h0m0-6h0m-1-6h0m0-3h0m0 12h0m-1-38h0m0 33h0m0-7h0m0 5h0m-1-30h0m0 36h0m-1-46h0m0 45h0m0-22h0m0-14h0m-1 12h0m0 32h0m0-37h0m-1 12h0m-1-3h0m0 24h0m-2-32h0m0 28h0m0-19h0m0-22h0m-1 35h0m0-20h0m0 23h0m0-31h0m0 36h0m-1-42h0m-1 12h0m0 39h0m0-10h0m0 12h0m-1-58h0m0 18h0m-2 22h0m-1 3h0m0-42h0m-2 8h0m0 40h0m0-15h0m-1-2h0m0 26h0m-1-5h0m-1-6h0m-1-21h0m0-12h0m-1 29h0m0-3h0m0 7h0m-1-4h0m0-27h0m-1 1h0m0 18h0m0 11h0m-1 4h0m0-3h0m0-2h0m0 14h0m-1-40h0m-1 24h0m-1-32h0m0 8h0m0 38h0m-1-4h0m0-48h0m0 40h0m-1-27h0m0 26h0m-1 15h0m0-9h0m0-38h0m0 22h0m-1 1h0m0-12h0m0 19h0m0-1h0m-1 11h0m0 2h0m-1-4h0m0-44h0m0 35h0m-1-8h0m0-2h0m-1-1h0m0-1h0m-3-2h0m0 25h0m0-36h0m-1 13h0m-1 4h0m0 3h0m-1-22h0m0 36h0m0-1h0m0-23h0m-1-17h0m0 1h0m0 2h0m-2 36h0m0-28h0m0 10h0m0 26h0m0-11h0m-1-7h0m0-4h0m-1-4h0m0 23h0m0-7h0m-1-32h0m0 3h0m-1 10h0m0 16h0m-1-32h0m0 18h0m0 26h0m0-27h0m0 14h0m-2 15h0m0-23h0m-1-11h0m-1 7h0m0 26h0m-1-44h0m0 13h0m0 21h0m0-41h0m-1 18h0m0-14h0m-1 34h0m-1-4h0m-1-12h0m0 6h0m0-4h0m0 25h0m0-13h0m-1-2h0m0-2h0m0-21h0m0 38h0m-1-11h0m-1-33h0m0 43h0m-1-2h0m0 4h0m-1-8h0m-2-17h0m-1 6h0m0-17h0m0 18h0m0 10h0m-1 12h0m0-44h0m-1 10h0m-1-3h0m-1 4h0m0-13h0m-1 46h0m0-57h0m-2-1h0m0 52h0m0-9h0m0-18h0m0 3h0m-1 18h0m-1-37h0m0-6h0m0 10h0m-1 6h0m-1 28h0m0-1h0m0 8h0m0-16h0m-1-10h0m0 0h0m0 9h0m-2 9h0m-1 9h0m0-17h0m0 6h0m0 13h0m-1-43h0m0-4h0m0 40h0m-1-23h0m0-8h0m-1 33h0m-1-13h0m0 13h0m-1-14h0m-1-38h0m0 20h0m-1 14h0m0-31h0m0 52h0m-1-23h0m0-26h0m0 43h0m0-20h0m-1 24h0m-3-1h0m-1-52h0m-1 43h0m0-13h0m0-31h0m0 56h0m0-24h0m-1 8h0m0-1h0m0 10h0m0-44h0m0 14h0m-1-12h0m-2 22h0m-1-6h0m-1 19h0m0 16h0m0 0h0m0-49h0m-1 16h0m0-26h0m0 12h0m-1 29h0m0 7h0m0-23h0m0 31h0m0-10h0m0-6h0m0 17h0m0-27h0m-1-25h0m0 45h0m0-16h0m-1-19h0m0-8h0m0 42h0m0 3h0m-1-5h0m-1 8h0m-1-42h0m0-8h0m0 47h0m0-7h0m0-2h0m-1-12h0m0-6h0m-1 21h0m0 11h0m-1-19h0m-1-12h0m-1 8h0m-2-17h0m-1 36h0m0-16h0m0-22h0m0 30h0m-1 4h0m0-6h0m0 16h0m0-46h0m0 31h0m0 5h0m0 9h0m-1-35h0m0-15h0m0 7h0m0 16h0m0-8h0m-1-19h0m0 15h0m0 32h0m0 5h0m-1-3h0m0-16h0m0 14h0m-1-39h0m0-2h0m-2 28h0m0 20h0m0-57h0m-1 27h0m0-26h0m0 57h0m0-11h0m-1-8h0m0-7h0m-1 25h0m0-46h0m0 11h0m-1 13h0m0 10h0m-2-8h0m0-22h0m0 14h0m-2 1h0m0-12h0m-1 6h0m-1 31h0m-1-53h0m0 25h0m-1-1h0m0 15h0m-2-20h0m0 30h0m-1-14h0m0 22h0m-1-29h0m-1-27h0m-1 28h0m0-16h0m0 43h0m0-12h0m0-32h0m0 11h0m0 12h0m0-37h0m-1 14h0m0 34h0m-1-11h0m0-32h0m-1 6h0m0-6h0m0 22h0m-1 3h0m0 22h0m0-46h0m-1 31h0m0-6h0m0 9h0m-1-11h0m0-3h0m-1 4h0m0 4h0m0-10h0m0 11h0m-1-35h0m0 4h0m0 10h0m0 24h0m-1 2h0m0-34h0m0 41h0m0-11h0m-1-14h0m0 21h0m0-24h0m-1 29h0m0-36h0m0 43h0m0-11h0m0 12h0m-2-54h0m0 41h0m-1 10h0m0-23h0m0-26h0m-1 43h0m-1-1h0m0-5h0m0 7h0m0-45h0m-1 45h0m0-4h0m0-12h0m0 21h0m0-53h0m-1 56h0m-1 2h0m0-8h0m-1-18h0m-2 13h0m0 4h0m0-5h0m0-3h0m-1 4h0m0 62h0m0-27h0m0 36h0m1-39h0m0-3h0m1-1h0m0 1h0m0 33h0m1-1h0m0-9h0m0-11h0m1 28h0m0-14h0m1 14h0m0-27h0m0 22h0m0-18h0m0-27h0m0 0h0m1 21h0m0-7h0m0 17h0m0 15h0m0-27h0m0 1h0m0-20h0m1 30h0m0-11h0m0-10h0m1 11h0m0 19h0m0 11h0m0 2h0m0-57h0m1 19h0m0 10h0m0 29h0m0-50h0m1 2h0m0 44h0m0-14h0m0-22h0m1 3h0m0 17h0m0-17h0m0 16h0m0-25h0m1 31h0m0-34h0m1 20h0m1 17h0m0-32h0m0 30h0m1-44h0m2 1h0m1 38h0m0-25h0m1 1h0m0 1h0m0 42h0m0-7h0m0-45h0m1-2h0m0 10h0m0-7h0m0 9h0m0 1h0m0 33h0m1-43h0m0 53h0m1-53h0m0 34h0m0 13h0m1-24h0m0-11h0m1 33h0m0-36h0m0 30h0m0-42h0m0 30h0m0-11h0m1-22h0m0 47h0m0 9h0m1 1h0m0-1h0m0-21h0m0 11h0m1 5h0m0-9h0m0 13h0m1-49h0m1 24h0m0 3h0m0 23h0m0-8h0m0-23h0m0-12h0m1 32h0m0-27h0m0-18h0m1 8h0m0 42h0m0-22h0m0-3h0m0-17h0m1 35h0m0-3h0m0-39h0m1 0h0m1 23h0m1 3h0m0-18h0m0 31h0m0 4h0m0-20h0m1 22h0m0-2h0m1-40h0m0 45h0m1-6h0m0 10h0m0-23h0m0-2h0m0 28h0m0-38h0m1 8h0m0 16h0m0 9h0m0-50h0m2 18h0m0 3h0m0 13h0m2 7h0m0 13h0m0-20h0m0-18h0m1-3h0m0 13h0m0 11h0m1 5h0m0 1h0m1 7h0m1-26h0m0-23h0m0 34h0m0 3h0m1-28h0m0 19h0m0 15h0m0-3h0m1-34h0m1-1h0m0 26h0m1 0h0m0 2h0m0 3h0m0-32h0m1 5h0m0 23h0m0 5h0m1-39h0m0 36h0m0-11h0m1-14h0m0 22h0m0-17h0m0 4h0m1-13h0m1 34h0m0-19h0m0-4h0m1 5h0m0 14h0m0 17h0m1-46h0m1 13h0m0 13h0m0 19h0m1-14h0m0-1h0m0-23h0m0 24h0m0-25h0m1 41h0m0-42h0m0 37h0m1 8h0m0-31h0m0-23h0m1 50h0m1-7h0m1-1h0m1-11h0m0 15h0m0-10h0m1-28h0m0 37h0m0-27h0m0-19h0m1 11h0m0-12h0m1 14h0m1 16h0m0-5h0m0 11h0m2-10h0m0-15h0m0 29h0m0 4h0m1-39h0m1 35h0m0-7h0m0 22h0m0-15h0m1-14h0m0 10h0m0 16h0m1-34h0m0-5h0m1 22h0m0-9h0m1 14h0m0-34h0m1 38h0m0-33h0m0 4h0m0 31h0m1-1h0m0-28h0m0 9h0m0 4h0m0-23h0m1 33h0m0-2h0m1-32h0m0 18h0m1 22h0m1-5h0m1 7h0m0-22h0m0 11h0m1-12h0m0-9h0m0 17h0m0-1h0m0-13h0m0 24h0m1-39h0m0 25h0m1-10h0m0 26h0m1-23h0m0 32h0m1 1h0m0-46h0m0 47h0m0-27h0m0-24h0m0 9h0m0 2h0m0-9h0m1 9h0m0 17h0m0 14h0m0-44h0m0 39h0m1 7h0m0-16h0m0 18h0m0-51h0m0 23h0m1-11h0m0 19h0m1-33h0m1 54h0m1-49h0m0 41h0m1-3h0m1-18h0m0-17h0m0 24h0m1 5h0m0-19h0m1-1h0m1 25h0m0 1h0m1-39h0m0 27h0m0 10h0m0-7h0m1 8h0m0 9h0m0-16h0m1-6h0m0 8h0m1-17h0m0 12h0m0-13h0m0 35h0m1-2h0m1-2h0m0 1h0m0-48h0m0 16h0m1-16h0m0 8h0m0-10h0m1 26h0m0 19h0m0 0h0m0-36h0m1-10h0m1 32h0m1-27h0m0 42h0m0-4h0m0-12h0m0 12h0m1 11h0m1-51h0m0 41h0m0-9h0m0 5h0m0-11h0m1 0h0m0 4h0m0 13h0m0-9h0m0-25h0m0 16h0m0 8h0m0 22h0m0-33h0m1-14h0m0-7h0m0 1h0m0 32h0m2-34h0m0 25h0m0 26h0m1-24h0m0-27h0m0-1h0m1 16h0m0-5h0m0 0h0m1 39h0m0-13h0m2-12h0m0 29h0m0-53h0m0 43h0m0-42h0m2 29h0m1 26h0m0-11h0m0-42h0m1 15h0m0 18h0m1-23h0m0-4h0m0 13h0m0-13h0m0 20h0m1-26h0m1 46h0m1-3h0m0-7h0m0-25h0m0-3h0m0 1h0m0 6h0m0 31h0m1-33h0m1-8h0m0 44h0m0-25h0m1 2h0m0 2h0m0-33h0m0 43h0m0 11h0m0-33h0m1-9h0m0-7h0m0 25h0m0-1h0m0-22h0m0 3h0m1 21h0m1-14h0m0 21h0m1 7h0m0-4h0m0 16h0m0-47h0m1 33h0m0-16h0m0 22h0m1 0h0m0-12h0m1-29h0m0 44h0m0 0h0m0-24h0m0-1h0m0-20h0m1 22h0m0-23h0m0 39h0m0-46h0m1 47h0m0-3h0m1-22h0m0-12h0m0 19h0m1-13h0m0 20h0m0-9h0m1 26h0m0-31h0m0 15h0m1-30h0m0 36h0m0-20h0m1 27h0m0-22h0m0 11h0m0-10h0m0-1h0m1 14h0m0 14h0m0-36h0m0 23h0m0-39h0m1 17h0m0 15h0m0 1h0m0 18h0m1-21h0m0-28h0m1-5h0m0 11h0m0 6h0m1 28h0m0-25h0m0 32h0m0-33h0m1 38h0m0-53h0m2 26h0m0 3h0m0 23h0m1-1h0m0-8h0m0-3h0m1 11h0m0-20h0m2-30h0m1 20h0m0 23h0m0-38h0m1 16h0m0-13h0m1 35h0m2-22h0m0 22h0m0-12h0m0-38h0m0 10h0m0-7h0m1 8h0m0 13h0m0-6h0m1 10h0m0-8h0m1 12h0m0-10h0m0 23h0m0-9h0m1 18h0m0-42h0m0 20h0m0 4h0m0 9h0m1-22h0m0 11h0m0 20h0m0-11h0m0 7h0m0-43h0m1 25h0m0 14h0m0-41h0m1 30h0m0 21h0m0-34h0m0 12h0m1 16h0m0-7h0m1 0h0m0 4h0m0-36h0m1 3h0m0 35h0m2-26h0m1 31h0m0-4h0m0-44h0m0 5h0m0 11h0m0 13h0m0-21h0m2 45h0m0-21h0m0 23h0m0 39h0m-1 5h0m0-17h0m0-18h0m-1 14h0m-1 23h0m0-38h0m-1 25h0m0-8h0m0 19h0m-1-30h0m0 22h0m0 10h0m-2-26h0m0 18h0m0 8h0m-1-25h0m0 18h0m0-32h0m-1 40h0m0-41h0m-1 6h0m0-3h0m0 10h0m-1-7h0m0 43h0m0-13h0m0-33h0m-1 34h0m0 11h0m0 5h0m0-10h0m-1-19h0m0 26h0m0-24h0m0 6h0m-1 14h0m-1-3h0m-1-23h0m0 3h0m-1-17h0m0 35h0m0-37h0m0 5h0m0-2h0m-2 18h0m0-16h0m-1-6h0m0 30h0m0 19h0m-1-6h0m-1-15h0m-1-26h0m0 8h0m0 6h0m-1-23h0m0 36h0m-1-18h0m-1 19h0m0 0h0m-1 9h0m-1-43h0m0 2h0m-1 1h0m0 27h0m0-26h0m0 36h0m0-34h0m0 1h0m0 0h0m-1 0h0m0-12h0m0 30h0m0 1h0m-1-10h0m0 4h0m0 10h0m0-10h0m-1-20h0m-2 50h0m-1-55h0m-2 35h0m-1-32h0m-1-3h0m0 11h0m0 20h0m0-6h0m-1 7h0m0 0h0m-1 1h0m0 0h0m0 17h0m0-39h0m-3 34h0m0-23h0m-1-23h0m0 35h0m0-11h0m0 21h0m0-30h0m-1 3h0m0 5h0m0 11h0m0-25h0m-1 15h0m0 16h0m-1-10h0m-1 14h0m-1-5h0m0 10h0m-1-17h0m0 1h0m0-24h0m0-5h0m-1 33h0m0-32h0m0 34h0m-1 14h0m0-50h0m-1 24h0m0 7h0m0 7h0m0-5h0m-1-14h0m0-10h0m-1 1h0m0 10h0m-1 22h0m0-41h0m0 44h0m-1-32h0m-1-15h0m0 20h0m0 18h0m-1-37h0m0 29h0m0-20h0m0 9h0m-2-15h0m-1 45h0m-1-19h0m0-26h0m-1-5h0m0 15h0m0 10h0m0-9h0m-1 7h0m0-10h0m0 14h0m0-7h0m0 33h0m-1-23h0m-1-26h0m0 31h0m-1 20h0m0-47h0m0 19h0m0 24h0m-2-24h0m0 4h0m0 4h0m-1-15h0m-1-18h0m0 6h0m0 9h0m0 6h0m0-17h0m-1 16h0m0-14h0m0 27h0m-1-3h0m0-4h0m0 19h0m-1-3h0m0-6h0m0-8h0m-2-9h0m0 15h0m-1-10h0m0 10h0m0-6h0m-1 4h0m0 25h0m-1-6h0m-1-41h0m0-4h0m0 12h0m0 2h0m0 3h0m0-22h0m0 33h0m-1-1h0m0-15h0m0 29h0m0-41h0m-2 22h0m0 5h0m0-34h0m0 31h0m0-22h0m-1 37h0m0-41h0m-3 52h0m0-27h0m0 17h0m0-32h0m-1 2h0m0-5h0m-1 20h0m0-12h0m0-5h0m0-15h0m-1 45h0m0 11h0m0-18h0m-1 2h0m0-4h0m0-16h0m0-17h0m-1-1h0m0 16h0m0 1h0m-1 5h0m0-20h0m0 17h0m-1-15h0m0 28h0m0-22h0m0 27h0m0-2h0m-1 7h0m0-31h0m0 17h0m-1 10h0m0 9h0m0 6h0m0-33h0m-1 8h0m-1-24h0m0 12h0m-1-15h0m0 5h0m-1 43h0m0-40h0m-1 7h0m-1-14h0m-1 2h0m0-4h0m0 26h0m-1-5h0m0 19h0m0-25h0m-3 17h0m0-28h0m0-5h0m0 16h0m0 15h0m-1-17h0m0-10h0m0 35h0m0-16h0m-1 12h0m0-23h0m0-5h0m-1 23h0m-1-21h0m0 34h0m-1-20h0m0 25h0m0-11h0m-1-18h0m0-2h0m-1 4h0m0-21h0m0 19h0m0 32h0m0-20h0m-1-16h0m0-10h0m0 14h0m-1 15h0m0-32h0m-1 32h0m0-5h0m0-17h0m-1 28h0m0 13h0m-1-4h0m0-1h0m-1-11h0m-1-19h0m0 12h0m0-23h0m-3 36h0m0-3h0m-1-14h0m-1-10h0m0-14h0m0 45h0m-1-41h0m0 11h0m-2 7h0m0 22h0m0-28h0m-1 12h0m0-7h0m0-3h0m-1-15h0m-1 52h0m0-23h0m0 1h0m0 13h0m-1-36h0m-2-7h0m0 46h0m0-9h0m0 1h0m0-43h0m-1 21h0m0-22h0m-1 27h0m0-2h0m0 13h0m-1 7h0m0-22h0m0 19h0m-1-21h0m0 38h0m-3-54h0m0 41h0m0 12h0m0-3h0m-1-33h0m-1 33h0m0-42h0m0 4h0m-1-13h0m-1 50h0m0-20h0m0-32h0m0 46h0m0-38h0m0 44h0m0-5h0m-1-1h0m0-4h0m-1-22h0m0 1h0m-1 9h0m-1 9h0m0-40h0m-1 12h0m0 43h0m0-16h0m-1-21h0m0 35h0m0 3h0m0-44h0m-1 5h0m0-8h0m0 30h0m0-39h0m-1 28h0m-1 2h0m0-21h0m0 5h0m-1-3h0m0-5h0m0 16h0m0 14h0m-1-10h0m-1 21h0m0-23h0m0 8h0m0-21h0m0 39h0m-1-34h0m0 15h0m0-25h0m-1 28h0m0 10h0m-1-28h0m0 8h0m0 7h0m0-13h0m-2 26h0m0-23h0m0-2h0m0-10h0m0 14h0m-1 30h0m0-34h0m0-12h0m-1 26h0m0-17h0m-1-1h0m-1-4h0m0 39h0m0-3h0m0-26h0m-1 28h0m0-12h0m-2-7h0m0 13h0m0-30h0m-1-9h0m0 11h0m-1 25h0m0-41h0m-1 54h0m0-43h0m0 35h0m-1-29h0m0-1h0m-1 0h0m-1 18h0m0-29h0m0 16h0m1 56h0m1-17h0m1 15h0m2-8h0m0-1h0m2 44h0m0-41h0m1-8h0m2 11h0m1 32h0m1-27h0m2-13h0m1 40h0m0-42h0m2 38h0m1-15h0m0 4h0m1 25h0m0-13h0m0-32h0m3 0h0m0 23h0m1-27h0m0 0h0m1 51h0m1-23h0m2-28h0m0-3h0m4 6h0m0-3h0m1 29h0m0 23h0m1-56h0m0 13h0m1 17h0m1-17h0m1 31h0m1-32h0m1 36h0m1-43h0m1 22h0m2-12h0m0 35h0m0-36h0m2 17h0m1-20h0m1 2h0m3-7h0m1 40h0m0-4h0m2 0h0m0-38h0m0 11h0m0 39h0m2-22h0m1 9h0m3 14h0m1-7h0m1-32h0m2 14h0m1-28h0m0 12h0m1 43h0m1-40h0m0-6h0m1-5h0m0 1h0m0-4h0m0 28h0m1-5h0m1 17h0m0-41h0m1 18h0m1 6h0m1-27h0m2 11h0m2-11h0m0 54h0m1-34h0m1 33h0m0-13h0m3-34h0m0 14h0m1 11h0m0 21h0m0 5h0m1-2h0m0-46h0m3-4h0m1 37h0m1-41h0m1 9h0m0-1h0m1-1h0m2 12h0m2 19h0m3-16h0m1 10h0m2-12h0m0-16h0m4 26h0m1-20h0m0 7h0m0 40h0m1-48h0m3 7h0m0-12h0m1 25h0m0-28h0m0-3h0m2 24h0m0 9h0m0-13h0m0 34h0m1-27h0m1 27h0m0-27h0m1 23h0m1-19h0m1-22h0m1 25h0m2 24h0m0-6h0m2-49h0m1 1h0m2 11h0m1 2h0m1 19h0m1-13h0m0-19h0m1 1h0m3-1h0m0 54h0m1-30h0m1-12h0m0 1h0m2 23h0m0-32h0m1 23h0m1-6h0m0-22h0m2 11h0m1 14h0m2-28h0m1 55h0m0-31h0m1-18h0m0-2h0m1 18h0m1-10h0m0 35h0m1 0h0m1-22h0m1-15h0m0 19h0m4-10h0m0 5h0m1-21h0m0 31h0m0-9h0m0 30h0m3-10h0m0-41h0m0 37h0m0 13h0m2-46h0m0 1h0m1-8h0m1 8h0m0 42h0m0-36h0m1 40h0m0-46h0m0-6h0m0 30h0m0-28h0m0-1h0m2 43h0m0 10h0m0-9h0m1-12h0m1 16h0m1-23h0m0 6h0m1-34h0m1 53h0m1-49h0m0 34h0m1 7h0m0-19h0m1-5h0m0-19h0m0 8h0m2 28h0m1 0h0m0-26h0m0 10h0m1 10h0m2-24h0m0 23h0m-3 68h0m-1-5h0m-1-34h0m0 3h0m-6 27h0m-1-16h0m0-12h0m-2 7h0m0-4h0m-6-3h0m-3 17h0m-3-2h0m-2-15h0m-1 14h0m-15-15h0m-1 9h0m-4 8h0m-2 30h0m-2-45h0m-1 55h0m0-24h0m-5-32h0m-2 5h0m-2 18h0m-2 30h0m-2-13h0m0-37h0m-1 18h0m-2 5h0m-1-25h0m-2 26h0m0-21h0m-1 27h0m-6-14h0m0-11h0m-1 18h0m-7-5h0m-1-16h0m-1-5h0m0 26h0m-2-9h0m-3 12h0m-1-16h0m0-8h0m-3 24h0m-2-12h0m-6-19h0m-2 7h0m-2 18h0m-2 6h0m-1 22h0m-6-10h0m0-37h0m-1 20h0m-2-19h0m-1 35h0m-2 4h0m-5-19h0m-2-3h0m-4-2h0m-8-19h0m0 7h0m-5-9h0m-3 10h0m-1 3h0m-1 24h0m-5-36h0m0 4h0m-1 12h0m-3 18h0m-4-33h0m-3 53h0m-3-53h0m0 23h0m-5 14h0m8 21h0m2 48h0m4-35h0m1 8h0m3-13h0m15 19h0m11-4h0m4-13h0m3-7h0m6 4h0m0 25h0m9-27h0m9 13h0m4 9h0m12 28h0m10-38h0m1 1h0m7-1h0m4-13h0m1 22h0m3-15h0m18 47h0m4-26h0m2 21h0m26-26h0m8-16h0m1 17h0m-10 46h0m-4-9h0m-26-7h0m-6 40h0m0-30h0m-5 32h0m-3-5h0m-6-30h0m-15 21h0m0 2h0m-1 12h0m-23-23h0m-8 38h0m-13-29h0m-34-27h0m-9 37h0m-13-22h0m18 77h0m5 22h0m29-36h0m2-8h0m8 47h0m19-7h0m7 3h0m3-35h0m11 21h0m13-7h0m9-12h0m35-14h0m4 6h0m-2 56h0m-37 0h0m-19 0h0m-1 0h0m-32 0h0m-3 0h0m-23 0h0m-25 0h0" stroke="#f3766e" stroke-width="9.5" stroke-linecap="round" fill="none"/>
<path d="M548.9 91.17h29.2v12.04h-29.2zM548.9 96.49h29.2" fill="none" stroke="#afcf6c" stroke-width="0.8"/>
<path transform="scale(.1)" d="M5568 750h0m20-11h0m6-5h0m22-23h0m4 30h0m22-32h0m14-1h0m44 27h0m2-7h0m22 53h0m-13 20h0m-1-49h0m-2 48h0m-3-11h0m-3 13h0m-5-19h0m-3 0h0m-2-5h0m-1 29h0m-6-8h0m-9-8h0m-4-12h0m-1 14h0m-5-27h0m-3-10h0m-1 40h0m-15 14h0m-3-2h0m-12-46h0m-1 34h0m-6-9h0m-2 15h0m-7-50h0m0 35h0m-1 18h0m-1-10h0m-5-5h0m-6 19h0m-2-24h0m-1-19h0m-1-5h0m-3 11h0m-4 36h0m-1-16h0m-1 13h0m-4-6h0m-2-37h0m-2-5h0m0-2h0m-8 45h0m-17-33h0m-3 39h0m0-33h0m-2-1h0m-6 29h0m-1 67h0m2-7h0m0-27h0m0-5h0m0 15h0m1 9h0m1 3h0m0-41h0m1 29h0m3-1h0m0-12h0m2 9h0m0 14h0m1-1h0m1 6h0m3 8h0m2-51h0m2 42h0m3-11h0m0 7h0m2-41h0m5 55h0m0-19h0m0 21h0m0-50h0m2 27h0m0-1h0m0 19h0m1-50h0m1 28h0m1-25h0m1 50h0m0-11h0m3 4h0m0 1h0m1-13h0m0-1h0m0-35h0m1 3h0m0 18h0m1 34h0m1-4h0m2-45h0m0 22h0m0 28h0m1-11h0m0-12h0m1-5h0m1-9h0m0 19h0m1-20h0m0 24h0m1 3h0m3-26h0m0-18h0m1 35h0m0-18h0m1 38h0m0-2h0m1-32h0m0 28h0m1-10h0m1 2h0m0 7h0m1-47h0m0 18h0m1-2h0m0-1h0m1 39h0m0-12h0m0-18h0m0 14h0m2-17h0m1 0h0m1 24h0m5 4h0m0-6h0m1-5h0m0-1h0m3 9h0m0-10h0m1 11h0m0-34h0m2 7h0m2-1h0m3 9h0m1-6h0m1 20h0m0 5h0m1-24h0m1 4h0m2 26h0m1-17h0m0-24h0m2 15h0m0-13h0m2 6h0m0 17h0m1-32h0m0 20h0m0 17h0m1-11h0m0 23h0m1-26h0m0 20h0m0-1h0m2-28h0m1 2h0m1-25h0m2 56h0m0-28h0m1 8h0m0-28h0m1 10h0m1 13h0m1 22h0m1 2h0m0-44h0m1 38h0m1-23h0m0 32h0m1-7h0m1 1h0m1-5h0m0 9h0m2-1h0m1-2h0m0-43h0m0 12h0m1 33h0m0-54h0m0 39h0m1 9h0m2 10h0m0-6h0m0-6h0m2 3h0m3-14h0m2 22h0m1-18h0m2-19h0m0 8h0m1 24h0m1 4h0m2-15h0m0-2h0m0-10h0m0-10h0m1 29h0m5-9h0m0 7h0m1-1h0m0-8h0m2-1h0m0 18h0m1-17h0m0-4h0m1-1h0m0-17h0m1-15h0m0 44h0m0-19h0m1 21h0m1-4h0m0-20h0m0 16h0m2-10h0m0 29h0m1-45h0m2 5h0m0 8h0m1-24h0m0 10h0m0 28h0m5 10h0m1 2h0m1-18h0m0 23h0m1-17h0m4-12h0m2 28h0m0-50h0m1 20h0m2-13h0m1 25h0m0-32h0m1 52h0m1-35h0m1 35h0m1-4h0m0-8h0m0-3h0m0 9h0m1-51h0m3 43h0m0-34h0m0-9h0m0 54h0m1-42h0m1 86h0m-2-23h0m0 19h0m0-28h0m0-7h0m-1 52h0m0 1h0m0-4h0m-1-48h0m0 28h0m0 12h0m0 4h0m-1-5h0m0 15h0m-1-29h0m-1-6h0m0-13h0m-1 10h0m0-8h0m-2 29h0m0-38h0m0 47h0m-1-17h0m0-12h0m0 33h0m-1 6h0m0-44h0m0 23h0m0-36h0m0 3h0m-2 48h0m0-30h0m-1-21h0m0 21h0m0 22h0m-1 0h0m-1-22h0m0 23h0m-2-28h0m0 2h0m0-1h0m-1 13h0m-1 1h0m0 3h0m-2-20h0m0 43h0m0-34h0m0-4h0m-1 1h0m0 5h0m-2 3h0m-1 18h0m-1 1h0m0-3h0m-1-15h0m0-16h0m0-2h0m-1 18h0m0-18h0m0 4h0m-2 10h0m0-17h0m-1 31h0m0 6h0m-2-36h0m0 2h0m-1 5h0m0 10h0m-1 27h0m0-21h0m0-19h0m0 12h0m-1 33h0m0-1h0m-1-13h0m-1-35h0m-1 31h0m0 9h0m-1-16h0m-1 12h0m0-30h0m-1 41h0m-2-55h0m-1 28h0m0 23h0m-2-1h0m-1 0h0m0-43h0m-1 35h0m0 12h0m0-15h0m-1 6h0m0-4h0m0-16h0m0 24h0m-2-27h0m0 19h0m-2-23h0m0 27h0m-1-42h0m0 44h0m0-22h0m0-3h0m0 19h0m-1-14h0m0 19h0m0-8h0m-1-31h0m0 30h0m0 10h0m-1 6h0m-1-5h0m0-48h0m0 55h0m-1-23h0m-1-22h0m0 35h0m-1-24h0m0 7h0m0-7h0m-1 34h0m0-13h0m0 0h0m0-36h0m0 36h0m-1 6h0m0-27h0m0 19h0m-1-38h0m0 27h0m0-3h0m-1 3h0m0-5h0m0-3h0m0 11h0m-1 8h0m0-31h0m0 27h0m0 5h0m-1-36h0m-2 9h0m-1 30h0m0-43h0m0 54h0m0-22h0m-1-17h0m0 21h0m0 16h0m-1-45h0m0 33h0m-2-15h0m0 22h0m-1-14h0m0 12h0m0-43h0m0 49h0m0-8h0m0 2h0m-2-48h0m0 51h0m0-23h0m0 1h0m-1-7h0m0 21h0m0-5h0m-1-3h0m-2 9h0m-2-35h0m-1-3h0m-1 40h0m-1-32h0m0 45h0m-1-54h0m0 33h0m-1 17h0m0-20h0m0 4h0m-1-9h0m0 17h0m-1-17h0m0-9h0m0-19h0m-1 34h0m0 23h0m0-38h0m-3 11h0m0 8h0m0-37h0m-1 29h0m0-19h0m0 4h0m-1 33h0m0-48h0m0 46h0m-1-31h0m-1 18h0m0 11h0m-1-25h0m0-9h0m0 37h0m0-12h0m-2 11h0m0-45h0m-1 0h0m0 29h0m0 24h0m-1-8h0m-1-20h0m0 10h0m0-2h0m0-35h0m0 58h0m0-50h0m-1 37h0m-2 8h0m0-5h0m0-28h0m-2 19h0m0 7h0m-1-18h0m-1 7h0m0 4h0m0-11h0m-1 9h0m-1-9h0m0 23h0m0-31h0m-1-6h0m0 19h0m-1-6h0m-1 17h0m0-40h0m0 41h0m-1-16h0m0 0h0m-1 10h0m-3-21h0m-1-9h0m-1 0h0m-1 21h0m0 5h0m0 22h0m-1-9h0m0-13h0m-1 7h0m-1 17h0m0-58h0m0 37h0m0-10h0m-1 18h0m0 11h0m-1-55h0m-1 12h0m-1 22h0m0 6h0m0-29h0m-1 36h0m0-16h0m0-31h0m-1 9h0m-1 38h0m-1-26h0m0 5h0m-1-25h0m-1-1h0m0-2h0m-1 19h0m0 35h0m-1-30h0m0-23h0m0 2h0m-2 55h0m-1-37h0m0 29h0m0-27h0m-1 14h0m0 5h0m0-37h0m0 10h0m-1 33h0m-1-48h0m-2 53h0m0-7h0m0-10h0m-1 5h0m0 3h0m-1-23h0m0-5h0m-1 2h0m-1 41h0m0-33h0m0 8h0m-1 2h0m0 0h0m-1 17h0m0-50h0m0 25h0m-1-5h0m0 13h0m0-8h0m-1 20h0m0-8h0m0-20h0m0 20h0m-1-10h0m0-5h0m-1-10h0m0-12h0m-1-3h0m-1 9h0m0 5h0m-1-1h0m0 34h0m0 12h0m-1-7h0m0-32h0m-2 31h0m0-34h0m0-12h0m0 31h0m-1-32h0m0 54h0m-1-48h0m-2 17h0m0-23h0m-1 32h0m0 1h0m-2-22h0m0 27h0m0-28h0m-1 28h0m0-17h0m-1 6h0m0-5h0m-1-15h0m0 9h0m0 38h0m-1-28h0m0 10h0m0-36h0m-1 38h0m0 13h0m-2 55h0m0-14h0m0 12h0m0-41h0m1 33h0m1-39h0m0 20h0m0 8h0m1-5h0m0 11h0m0-6h0m1-6h0m0 13h0m1-33h0m0 45h0m0-6h0m1 8h0m0-14h0m0-35h0m1 1h0m0 45h0m0 8h0m1-30h0m0 21h0m0-13h0m0-17h0m1 18h0m0-18h0m1-9h0m0 1h0m0 42h0m0-9h0m0-33h0m1 5h0m1 37h0m0-35h0m0 4h0m1 7h0m0-24h0m0 46h0m0 3h0m0 6h0m1-23h0m0-3h0m0-4h0m0 15h0m1-13h0m0-8h0m0-13h0m0 43h0m1-45h0m0 32h0m0-3h0m0-2h0m0 4h0m1-10h0m0-6h0m0 11h0m1-26h0m0 12h0m0 37h0m1-1h0m0-7h0m1-22h0m0 10h0m1-14h0m0-1h0m1 20h0m0-32h0m1 3h0m0-2h0m0 31h0m0 9h0m1-40h0m1 46h0m0-28h0m0-7h0m1 26h0m0-20h0m1 0h0m2-25h0m0 36h0m0-9h0m0-19h0m0 28h0m0-36h0m1 56h0m1-8h0m0-44h0m1 0h0m0 11h0m0 24h0m0-25h0m1 29h0m0-34h0m1 18h0m0-3h0m1-18h0m0 18h0m0 5h0m0 11h0m1-1h0m1 10h0m0-42h0m0 35h0m0-10h0m1 6h0m0-36h0m1 39h0m0-3h0m0 0h0m1-6h0m0 4h0m2-19h0m1 9h0m1 16h0m0-6h0m0-11h0m0 22h0m1-33h0m0-1h0m0 41h0m0-33h0m1 28h0m0-17h0m1 16h0m0-18h0m0-9h0m0-18h0m0 1h0m0 44h0m1-4h0m0-20h0m0-19h0m0 29h0m0 11h0m0-19h0m1 31h0m1-10h0m1-4h0m1-35h0m0 50h0m1-18h0m0 0h0m0-21h0m0-21h0m1 1h0m0 14h0m0 13h0m0-6h0m1 29h0m0 0h0m0-9h0m0 16h0m1 1h0m0-5h0m1-9h0m0-9h0m0-6h0m1-6h0m0 10h0m0-20h0m1 43h0m0 2h0m0-51h0m0 23h0m1 12h0m0-14h0m0-28h0m1 26h0m0-26h0m1 21h0m0 17h0m0 11h0m0-10h0m0-25h0m0 24h0m0-24h0m1 10h0m0-12h0m1 18h0m0 24h0m0-40h0m1 42h0m0 2h0m0-43h0m1-6h0m0 17h0m0 25h0m1-11h0m0-8h0m1-24h0m1 44h0m0-38h0m1 36h0m0 4h0m0-8h0m1-8h0m0 7h0m0 8h0m1-20h0m0 2h0m0-6h0m2-2h0m0 25h0m1-8h0m0-13h0m0 22h0m0 2h0m2-9h0m0-29h0m0 41h0m3 0h0m0-32h0m0-13h0m0 2h0m0 16h0m0-19h0m0 41h0m1-11h0m0-42h0m0 56h0m0-49h0m0 48h0m0-14h0m1 9h0m1-24h0m0-10h0m0-8h0m1 5h0m1 41h0m0 4h0m0-13h0m1-11h0m1 2h0m0-8h0m1 8h0m0-28h0m0 39h0m1 2h0m0-21h0m1 11h0m0-40h0m0 31h0m1-9h0m0-17h0m1-5h0m0 42h0m0 13h0m0-1h0m0-47h0m0 21h0m1-26h0m1 16h0m0-7h0m1 37h0m0-24h0m0-18h0m0 48h0m1 6h0m1-41h0m1-4h0m0 42h0m1-52h0m0 45h0m0-33h0m2-4h0m0 25h0m1 17h0m1-5h0m0-29h0m0-13h0m3-3h0m0 53h0m0-54h0m0 45h0m1-21h0m0 24h0m0-39h0m0 29h0m0-10h0m2-27h0m0 21h0m1-16h0m0 13h0m0-1h0m0-14h0m0-6h0m0 47h0m1-27h0m0 0h0m1 24h0m0-46h0m0 35h0m0 15h0m0-44h0m1 16h0m0 27h0m0-24h0m0 21h0m0 11h0m1-33h0m0-1h0m0 24h0m1-3h0m0 7h0m0-38h0m1 12h0m0 34h0m0-53h0m1 22h0m0 5h0m0 23h0m0-27h0m1 8h0m0 11h0m0 8h0m1-17h0m0 6h0m1 13h0m0-40h0m1 23h0m0-1h0m1-26h0m0-9h0m1 42h0m1-11h0m1-17h0m0-17h0m1 54h0m0-2h0m0-8h0m0-32h0m1 43h0m0 0h0m1-56h0m0 52h0m0-39h0m0-13h0m0 58h0m1-59h0m1 27h0m0 21h0m0 5h0m2-9h0m1-14h0m0 20h0m0-31h0m1 13h0m1-31h0m0 21h0m0 19h0m0-27h0m1-10h0m0 13h0m0-3h0m0 41h0m1-25h0m0-3h0m0 5h0m0-31h0m0 44h0m1-32h0m0 44h0m0-19h0m1-11h0m0-10h0m1 25h0m0-8h0m1-32h0m0 8h0m0 16h0m1-4h0m0 29h0m0-5h0m1 12h0m0-19h0m0 15h0m0-8h0m0-19h0m1-1h0m0 1h0m0 15h0m0 4h0m0-5h0m1 15h0m1-8h0m0-5h0m0-17h0m1 6h0m0 23h0m1-31h0m0 24h0m0-6h0m0-33h0m1 3h0m0 36h0m0 3h0m0-35h0m1 21h0m0 1h0m0 7h0m0-29h0m1-4h0m0 41h0m1-52h0m0 3h0m1 29h0m0 10h0m0-32h0m0 31h0m1 6h0m0-17h0m0-21h0m0 28h0m0-38h0m0 26h0m0-24h0m1 53h0m0-44h0m0 18h0m0-4h0m1-13h0m0 5h0m0 14h0m0-19h0m1-9h0m0 56h0m0-39h0m0 1h0m0 0h0m0 15h0m0-17h0m0 4h0m1 18h0m0 3h0m0-31h0m1 22h0m0-31h0m1 9h0m0 24h0m0 20h0m0-28h0m1 25h0m0-34h0m0 3h0m1 26h0m1-27h0m0-7h0m0 6h0m1 25h0m0 12h0m0-48h0m0 49h0m1-39h0m0 35h0m1-49h0m0 46h0m1-32h0m0 35h0m0-47h0m0 32h0m1-16h0m0-19h0m0 6h0m1 7h0m0-15h0m1 34h0m0 8h0m1-22h0m0 3h0m0-10h0m1-8h0m1 14h0m0-15h0m0 36h0m1-37h0m0 20h0m0 7h0m2-24h0m0 47h0m0-4h0m0-1h0m0 1h0m0-48h0m0 9h0m0 36h0m0-38h0m1 45h0m0-54h0m0 38h0m0-19h0m1-8h0m0-8h0m0 19h0m0 13h0m1-30h0m0 30h0m0-20h0m0 15h0m1-28h0m0 43h0m0 51h0m-1 5h0m0-34h0m0 22h0m-1 10h0m-1-14h0m0 5h0m-1-15h0m-1 43h0m-1-59h0m0 0h0m0 54h0m0-31h0m0 26h0m0-40h0m-1 10h0m0 2h0m0-22h0m0 52h0m-1 0h0m0-48h0m-1 20h0m0 5h0m0-1h0m-1-5h0m0-20h0m0 42h0m0-16h0m-1 8h0m0-27h0m0 22h0m-1-18h0m0 12h0m0-4h0m0 9h0m-1-2h0m0-21h0m0-7h0m0 11h0m0-8h0m0 39h0m-1-36h0m0 11h0m-1 17h0m0-34h0m-1 43h0m0 1h0m0-6h0m-1-21h0m-3 5h0m0-1h0m0 13h0m-1-3h0m-1-15h0m0-15h0m-1 29h0m-1 7h0m0-8h0m0 25h0m-1-22h0m0 1h0m0 6h0m0-16h0m0 22h0m0-32h0m-1 33h0m0-47h0m0 52h0m-1-28h0m0-6h0m-1 27h0m0-15h0m0-13h0m-1-16h0m0 19h0m-1-10h0m0 7h0m0 18h0m-1-33h0m-1 14h0m0 28h0m0-39h0m0 18h0m-1-19h0m0 24h0m0-2h0m0 25h0m-2-33h0m0-16h0m0 19h0m-1 2h0m0-18h0m0 4h0m0 25h0m0 6h0m-1 18h0m-2-35h0m-1 22h0m0-39h0m-1 17h0m0 29h0m-1-31h0m0 22h0m0-28h0m0 17h0m0 12h0m0-28h0m0 19h0m-2 21h0m0-39h0m-1 14h0m0-26h0m-2 23h0m0 25h0m-1-33h0m0 15h0m-1-34h0m0 5h0m0 6h0m-1 17h0m0-1h0m-2 0h0m0 29h0m-1-29h0m0 7h0m-1 1h0m0-21h0m0 32h0m-2-12h0m-1-19h0m0-2h0m-1 43h0m0-26h0m0-10h0m-1 21h0m0-5h0m-1-14h0m-1 6h0m-2 7h0m0-17h0m0 3h0m0 15h0m0-13h0m0 6h0m-1 3h0m0 13h0m0-28h0m-1 35h0m-1-36h0m0-5h0m0 44h0m0-48h0m-1 16h0m0 23h0m0 11h0m0-48h0m-1 14h0m-1-17h0m0 11h0m0 8h0m0 13h0m-1-21h0m-1 22h0m0-23h0m0 22h0m0-34h0m-1 39h0m0 4h0m0-25h0m-1 10h0m0-1h0m0 16h0m0-43h0m0 21h0m-1 21h0m0-10h0m0-3h0m0-9h0m-1 16h0m0-34h0m0 36h0m0-9h0m0-15h0m-1-5h0m-1 15h0m0 25h0m0-43h0m0 14h0m-1 33h0m0-46h0m-1 36h0m-1-30h0m0 39h0m-1-25h0m0-1h0m0-14h0m0 15h0m-1 2h0m0-26h0m-2 31h0m-1-1h0m0-33h0m0 14h0m-2-11h0m0 24h0m-1-25h0m0 2h0m-1-7h0m0 8h0m0 32h0m0 18h0m0-33h0m-2-23h0m0 22h0m0 19h0m-1-29h0m0 24h0m0-11h0m-4 0h0m0-7h0m0 19h0m-1-1h0m0 12h0m-1 2h0m0-54h0m-1 30h0m0 17h0m0-27h0m0-7h0m-1-4h0m0 50h0m0-16h0m0 7h0m0-15h0m0-11h0m0-4h0m-1 10h0m0-7h0m0-19h0m0-1h0m0 28h0m-1-23h0m0 28h0m0-20h0m0 14h0m-1 26h0m0-40h0m-1-11h0m0 1h0m0 32h0m-1 2h0m0-4h0m0 13h0m0 1h0m-1-4h0m-1 13h0m-1-34h0m0-23h0m0-1h0m0 46h0m-1 10h0m0-45h0m0 10h0m-2-7h0m0 25h0m-1-27h0m0 26h0m0-6h0m-1 3h0m0-27h0m0 20h0m0 21h0m-1-26h0m0 19h0m0-15h0m0-17h0m0-5h0m-2 38h0m-1-6h0m0-11h0m0 5h0m0 9h0m0 3h0m0-14h0m-1 27h0m-1-8h0m-1-35h0m0 13h0m-1-1h0m0-14h0m0 16h0m0 26h0m-1-53h0m0 41h0m0-20h0m-1-4h0m0 27h0m0-30h0m-1 44h0m0-47h0m0 8h0m-1 25h0m0 13h0m0-33h0m0 2h0m-1-1h0m0 0h0m0 19h0m-1-15h0m-2 15h0m-1-5h0m-1-15h0m0-25h0m0 48h0m0 0h0m0-39h0m-1 38h0m0-36h0m0 47h0m-1-57h0m0 53h0m-1-25h0m0-5h0m-1-2h0m-1 34h0m0-40h0m0 28h0m-1-8h0m0 4h0m0 7h0m-1-26h0m-1 35h0m0-7h0m0-30h0m0-7h0m-1 1h0m0 14h0m0 30h0m0-7h0m0-21h0m-1-24h0m0 6h0m0 32h0m-1-20h0m-1 29h0m0-9h0m0-16h0m0 28h0m-2-42h0m-1 27h0m0-34h0m0 8h0m0-12h0m-1 33h0m0 15h0m0 8h0m0-43h0m-1-8h0m-1 5h0m0 45h0m0 0h0m-1-29h0m-1-14h0m0 14h0m-1 8h0m0-22h0m-1 5h0m0 41h0m0-42h0m-1 35h0m0-44h0m0 34h0m0-42h0m0 57h0m0-34h0m-1-16h0m-1 25h0m0-8h0m0 17h0m0-5h0m-2 22h0m-1-28h0m0 5h0m0 3h0m0 21h0m-1-5h0m0-21h0m-2-4h0m0 5h0m0-24h0m-1-5h0m0 2h0m0-6h0m-1 37h0m0-30h0m0 14h0m-1-19h0m0 37h0m0-31h0m-1 13h0m0 1h0m-1-11h0m-1 40h0m0-51h0m0 42h0m-1-12h0m-1-29h0m0 56h0m0-35h0m0-2h0m0-10h0m-1 10h0m0 22h0m0-7h0m0 20h0m-1-28h0m0 27h0m0-43h0m0 34h0m-1-21h0m0-6h0m0-1h0m-1 13h0m0-2h0m-1 13h0m0 14h0m0-44h0m-1 21h0m0-16h0m-1 16h0m0-1h0m0-29h0m0 20h0m-1 16h0m-1-21h0m0 17h0m-1-21h0m0 11h0m1 72h0m0-25h0m0-9h0m4 10h0m2 11h0m1-12h0m0 9h0m0 37h0m1-38h0m3-5h0m0-9h0m0 5h0m1 25h0m1 17h0m1-11h0m0 0h0m0-18h0m0-16h0m0 26h0m2-21h0m1-13h0m0 45h0m0 4h0m4-35h0m3 1h0m1 2h0m1 39h0m0-54h0m0 34h0m2-3h0m0 25h0m0-1h0m1-32h0m2 18h0m0 14h0m1-55h0m0 29h0m1-9h0m1-1h0m1-20h0m1 45h0m1-43h0m1 52h0m1-14h0m1-18h0m1-23h0m0 7h0m0 30h0m2-16h0m1-21h0m0 13h0m3 10h0m3-21h0m1 16h0m0 28h0m1-46h0m0 52h0m1-30h0m3-23h0m0 38h0m0-26h0m0 18h0m0-13h0m1-1h0m0-3h0m1 21h0m3-23h0m0 0h0m0 17h0m1-15h0m0 1h0m1 14h0m0-14h0m0 31h0m2 4h0m2-25h0m1 31h0m2-53h0m3 2h0m1 21h0m0-24h0m1 13h0m0 19h0m1-13h0m2 10h0m2 12h0m0 0h0m5 9h0m1-20h0m0 23h0m1-2h0m0-46h0m2 24h0m0-2h0m1-26h0m1 47h0m1-7h0m1-22h0m2-10h0m0 13h0m0 27h0m0-20h0m0-8h0m2-3h0m0 11h0m0-25h0m0 37h0m2-19h0m0 21h0m1-31h0m0 23h0m0 12h0m1 7h0m1-30h0m0-24h0m1 33h0m1 5h0m0 0h0m1-28h0m0 21h0m2 9h0m0-36h0m1 38h0m1-6h0m2 2h0m1 12h0m1-32h0m0-15h0m1 24h0m1 14h0m0-38h0m0 6h0m0 30h0m1-11h0m1-1h0m2-14h0m0 29h0m2-27h0m0 36h0m0-35h0m2-13h0m0 36h0m0-13h0m1-16h0m1 0h0m1 0h0m0 13h0m3-21h0m5 11h0m2 31h0m0-11h0m1 12h0m0 10h0m0-32h0m1-9h0m1 21h0m2-2h0m2-5h0m1-13h0m0 4h0m1 22h0m1 3h0m1 0h0m2-4h0m1-11h0m2 13h0m0-15h0m1 14h0m1-3h0m0-1h0m0-20h0m1-3h0m0-9h0m1 40h0m0-27h0m1 14h0m1-29h0m1 26h0m0-13h0m0 19h0m1-26h0m0 7h0m0-16h0m0 26h0m2-23h0m0 24h0m1-21h0m1 4h0m0 29h0m0-30h0m0 31h0m1-5h0m1 3h0m4-14h0m0 3h0m0 6h0m2-15h0m0 5h0m0-16h0m1 44h0m2-16h0m1 23h0m0-21h0m0-24h0m1 17h0m0-2h0m1-25h0m0 24h0m0 35h0m-1-1h0m0 29h0m-1 19h0m-1 1h0m-3-26h0m-1 4h0m-4 0h0m0-28h0m-2 3h0m0 52h0m-1-26h0m-2 21h0m-2-12h0m-3-18h0m-2 17h0m0-5h0m-1-10h0m-3 22h0m0 7h0m0 2h0m-2-29h0m0-1h0m-4-17h0m-2 6h0m-3 4h0m0 28h0m-6-39h0m-3 14h0m-1-14h0m-1-6h0m-2 20h0m0 16h0m-5-9h0m-2-14h0m-2 12h0m-1-17h0m-2-2h0m-4-1h0m-1-5h0m0 58h0m-1-46h0m-2-4h0m-1 2h0m-4-7h0m0 12h0m-1-7h0m0 6h0m-1 30h0m-1 7h0m-1-45h0m-3 33h0m-3-8h0m-1-22h0m-5 41h0m-3-47h0m-2 53h0m-2-20h0m-2-11h0m-1-15h0m-2 9h0m-1-10h0m0 31h0m0-15h0m-1-3h0m-4 4h0m-3 6h0m-1 19h0m-1 4h0m-1-23h0m-1-19h0m-1-11h0m-3 1h0m-4 30h0m-6-17h0m-9 41h0m-1-19h0m-2-35h0m-1-1h0m0 13h0m-2 36h0m-1-16h0m-3-28h0m-3 5h0m-1-4h0m-2 2h0m-1 6h0m-5 32h0m-3-15h0m0 19h0m-2-25h0m-1 7h0m-3-26h0m0-7h0m-2 31h0m0-29h0m-1 17h0m-1 9h0m-2-5h0m8 52h0m8 24h0m3 20h0m7-2h0m2-24h0m9 15h0m3-45h0m0 42h0m10-15h0m8-26h0m6-4h0m5 15h0m0 35h0m3-34h0m4 18h0m4-32h0m2 17h0m4-12h0m14 2h0m6 10h0m7-1h0m25-9h0m22 6h0m5-1h0m2-13h0m4 60h0m-5 54h0m-8-43h0m-9-1h0m-2-6h0m-5 0h0m-5 54h0m-5-1h0m-6-58h0m-1 16h0m-5 32h0m-9-39h0m-1 33h0m-30-31h0m-1 11h0m-7-17h0m-41 33h0m-18-9h0m16 37h0m27 19h0m8 7h0m6-21h0m7 12h0m44-16h0m16 11h0m22 11h0m-27 39h0m-3 0h0m-29 0h0m-5 0h0m-41 0h0m-32 0h0" stroke="#7fae0c" stroke-width="9.5" stroke-linecap="round" fill="none"/>
<path d="M590.6 88.02h29.2v11.41h-29.2zM590.6 92.99h29.2" fill="none" stroke="#74d8da" stroke-width="0.8"/>
<path transform="scale(.1)" d="M6073 671h0m-45-10h0m-61 5h0m-3 64h0m0 3h0m12-11h0m4 15h0m12 2h0m5-23h0m7 30h0m7-22h0m7-26h0m7 14h0m5 22h0m19-25h0m10-2h0m11-14h0m6 24h0m6 4h0m9 7h0m7-11h0m16 11h0m5-14h0m6 16h0m14-21h0m3 98h0m-5-41h0m-1 34h0m0-27h0m-1 33h0m-1-11h0m-7-25h0m-4 29h0m0 7h0m0-3h0m-1-8h0m-3-40h0m-1 25h0m-3 5h0m-7 2h0m0-12h0m-2 24h0m-3-13h0m0-15h0m-2-6h0m0 12h0m-4 17h0m0 3h0m0 12h0m-1-2h0m-7 0h0m-11-20h0m0 23h0m-2-18h0m-2-39h0m-3 51h0m0-12h0m-4 17h0m-1-36h0m0 23h0m-1 1h0m0-3h0m-1-9h0m-2 10h0m-3-16h0m-2 29h0m-2-50h0m-4 50h0m-1 0h0m-5-27h0m0 15h0m-1-5h0m-1-4h0m-1 10h0m-1 2h0m0 6h0m0-43h0m-1 38h0m-1 7h0m-4-9h0m0 11h0m-3-28h0m-7-1h0m-2-8h0m-1-7h0m-3 1h0m-3 11h0m-2 13h0m0-3h0m-1 23h0m0-2h0m-1-1h0m0-1h0m0-52h0m-1 21h0m0-8h0m-3 1h0m-1-3h0m0 23h0m-4-14h0m0 32h0m-13-41h0m-3 38h0m-5-10h0m0-32h0m-1 22h0m0-27h0m-1 44h0m0 6h0m-1-29h0m-1 22h0m-3-7h0m-3-1h0m-2-14h0m-2-10h0m-2 41h0m-4-31h0m0 25h0m0 67h0m1-23h0m1 0h0m1-8h0m1 23h0m1-17h0m0 1h0m1 3h0m0 2h0m0 15h0m0-5h0m1-46h0m1 25h0m1-2h0m1-19h0m1 45h0m0-22h0m0 25h0m0-15h0m1 4h0m0 6h0m1-11h0m0-36h0m0 14h0m1 24h0m0-15h0m0 11h0m2 15h0m1-47h0m1-4h0m0 38h0m3 1h0m1-13h0m1 16h0m0-42h0m0 51h0m0-1h0m0 0h0m1-5h0m1-12h0m1 21h0m1-55h0m0 10h0m0 40h0m0-28h0m0 24h0m1-26h0m1 3h0m1 33h0m0-1h0m0-31h0m1-19h0m2 1h0m0 17h0m0-7h0m0 24h0m1-11h0m0 25h0m1-37h0m1 24h0m0 8h0m0-28h0m0 9h0m1 28h0m0-48h0m0 30h0m1 4h0m1 3h0m1-15h0m0 16h0m1 7h0m0-53h0m0 23h0m1 14h0m0-23h0m0-10h0m1 46h0m0-12h0m0-10h0m1-23h0m1-4h0m1 7h0m0 25h0m1-1h0m1-33h0m0 42h0m1-25h0m0 39h0m1-13h0m0-19h0m1 29h0m1-15h0m0 19h0m0 1h0m1-20h0m2-13h0m0-16h0m0 40h0m1-8h0m2-16h0m1-23h0m1-1h0m0 52h0m1-16h0m1-11h0m0-10h0m1 12h0m2 2h0m0-9h0m0-2h0m1 4h0m0-15h0m0-4h0m1 34h0m1 4h0m0 13h0m0-14h0m0-36h0m0 46h0m0-25h0m1 10h0m0 0h0m1 18h0m0-24h0m0-13h0m0 26h0m1 13h0m2-50h0m0 16h0m2 36h0m0-4h0m1-10h0m0 10h0m0-5h0m1-33h0m0-1h0m1 40h0m0-5h0m0-49h0m0 2h0m1 20h0m1-1h0m3 24h0m0 2h0m1 0h0m1 6h0m0-19h0m0-18h0m1 13h0m0-25h0m1 49h0m0 3h0m0-18h0m1-23h0m1 3h0m1-2h0m1-7h0m0 38h0m1 3h0m0-49h0m0 41h0m3 11h0m1 3h0m0-39h0m1 27h0m0 6h0m0-18h0m1 16h0m0-46h0m0 5h0m1 18h0m0 18h0m1-16h0m2-25h0m1 55h0m0-52h0m0 21h0m0 15h0m0 14h0m2-36h0m0 17h0m1 13h0m0-38h0m0 21h0m1 20h0m1-10h0m1-17h0m0 13h0m0-16h0m0 7h0m1 25h0m0-29h0m1 4h0m0-2h0m0 18h0m1-27h0m1 5h0m1 9h0m1-25h0m0 38h0m1-5h0m0-22h0m1 0h0m1-21h0m1 50h0m0-35h0m0 9h0m2 24h0m1-41h0m1 13h0m0 34h0m1 2h0m0 0h0m0-51h0m1 30h0m1-3h0m1 3h0m0 4h0m0 17h0m0-50h0m0 29h0m2-33h0m0 36h0m1 3h0m0 2h0m0 3h0m1-4h0m1-3h0m1-21h0m1 32h0m1-47h0m0 31h0m0-20h0m0 12h0m2-22h0m0 2h0m0 23h0m2 18h0m1-28h0m0 19h0m0 10h0m1 0h0m0 9h0m1-49h0m1 0h0m0 41h0m0 0h0m2 8h0m0-18h0m0 21h0m1-18h0m2 0h0m2-41h0m0 41h0m1-15h0m0 31h0m0-53h0m2 18h0m0 30h0m1-42h0m1 2h0m0 12h0m1-3h0m0 2h0m1-18h0m0 52h0m0-28h0m2-23h0m2 45h0m1-46h0m1 15h0m2 4h0m2-18h0m0 52h0m2-13h0m1-9h0m0 6h0m2 4h0m1-8h0m1 9h0m0 5h0m1-20h0m1 24h0m0-53h0m0 52h0m2-9h0m0 9h0m0 1h0m1-35h0m0-7h0m0 24h0m1 50h0m-1-22h0m0 51h0m0-25h0m0 13h0m-1-6h0m0-18h0m0 8h0m0 14h0m-1-38h0m0 4h0m0-9h0m0 50h0m0 6h0m0 3h0m-1-48h0m0 2h0m-1-10h0m0 13h0m-1 38h0m0 0h0m0-48h0m-1 33h0m0 12h0m0 3h0m-1-8h0m0-13h0m0 17h0m0 4h0m-1-44h0m0 40h0m-1-20h0m0 20h0m0-42h0m0 33h0m0-8h0m-1-8h0m0-6h0m0-9h0m0 26h0m-1-9h0m0 15h0m0-26h0m0 1h0m-1 9h0m0 25h0m0-38h0m0 14h0m-1-20h0m0 1h0m0 33h0m-1-23h0m-1 12h0m0 15h0m0-35h0m0-7h0m0 24h0m0-22h0m-1 2h0m0 8h0m0 37h0m0-13h0m-1 9h0m0 2h0m0 1h0m-1-8h0m0-10h0m0-22h0m-1 30h0m0-32h0m-1 48h0m-1-20h0m0-30h0m0 31h0m-1 3h0m0-7h0m0-8h0m-1-24h0m0 38h0m0-18h0m0-18h0m-1 41h0m0-8h0m0-27h0m-1 28h0m0 5h0m0-4h0m0 13h0m0-24h0m0 5h0m0 0h0m0-11h0m0 4h0m-1 27h0m0 3h0m-1-48h0m0 10h0m-1 10h0m-1 13h0m0-21h0m-1 6h0m0 1h0m0 10h0m0-10h0m-1 3h0m0 22h0m0-26h0m0-22h0m-1 36h0m0 13h0m0-38h0m-1-13h0m-1 48h0m0-4h0m-1 11h0m-1-21h0m0-31h0m0 52h0m0-1h0m0-24h0m-1-23h0m0 25h0m0 20h0m0-51h0m-1 24h0m-1 27h0m-1-27h0m0-15h0m0 46h0m0-6h0m-1-30h0m0 23h0m-2-14h0m0-28h0m0 43h0m0-17h0m0 14h0m-1-43h0m0 45h0m-1-18h0m0 13h0m-1-7h0m0-21h0m-1 39h0m0-21h0m-1 11h0m0-28h0m0 23h0m0 16h0m-1 0h0m0 0h0m0-19h0m-1-5h0m0-12h0m0-16h0m-1 23h0m0-14h0m0 17h0m-2 22h0m0-34h0m-1 33h0m0-19h0m0 10h0m-1 16h0m0-53h0m0 27h0m-2 15h0m0-3h0m-1-22h0m0-1h0m0 11h0m0 21h0m-1-43h0m0 14h0m-1 28h0m-1-7h0m0-39h0m0 55h0m-1-1h0m-2-47h0m-1 36h0m-2-2h0m0-26h0m0 38h0m-1 3h0m-1-52h0m0 34h0m0-27h0m-1 22h0m0 7h0m0-29h0m0 21h0m-2 5h0m0-34h0m-1 34h0m0-15h0m0 10h0m0-26h0m-1 45h0m0 1h0m-1-54h0m-1 55h0m-1-25h0m0-30h0m0 15h0m0 18h0m-1 12h0m0-12h0m0 23h0m0-23h0m-1-22h0m0 8h0m0 27h0m0-17h0m-1 5h0m0-30h0m0 46h0m-1-37h0m0 44h0m0-10h0m0-19h0m-1-28h0m-1 52h0m0-32h0m0-8h0m0 42h0m0-30h0m0 9h0m0-33h0m0 38h0m-1-33h0m-1 41h0m-1-8h0m0-20h0m0 20h0m0-5h0m0 18h0m-1-41h0m0-5h0m0 18h0m-1 8h0m0-27h0m-1 28h0m-1-17h0m0-8h0m-2 37h0m0-41h0m0 41h0m0-11h0m0 17h0m-1-24h0m-1 17h0m-1 4h0m0-18h0m0 19h0m0-3h0m0-33h0m-1 16h0m0 11h0m-1 12h0m0 1h0m0-40h0m0 33h0m-2 11h0m0-55h0m-1 51h0m0-6h0m-1 3h0m-1-24h0m0-13h0m0 15h0m0 24h0m0-15h0m-1-35h0m-1 11h0m-3 37h0m-1 5h0m0-48h0m0 10h0m0-9h0m-1 38h0m0-3h0m0-4h0m0-22h0m0-8h0m-1-3h0m0 34h0m0-29h0m0 28h0m0-17h0m-1 28h0m0 1h0m-1-4h0m0 8h0m0-43h0m-1-3h0m0 42h0m0-11h0m0-26h0m0 10h0m0 19h0m0-4h0m-1 17h0m0-38h0m-1 3h0m0-2h0m0 24h0m0-8h0m0-9h0m0 25h0m-1-18h0m0-29h0m0 12h0m0 31h0m-1-32h0m0 43h0m-1-33h0m-1 10h0m0 20h0m0 4h0m-1-19h0m0 14h0m-1-21h0m0-6h0m-1-22h0m0 45h0m0-43h0m-1 33h0m0 8h0m0-33h0m0 30h0m-1 3h0m0 2h0m0-36h0m0 17h0m-1 22h0m0-9h0m0-16h0m0 17h0m-2 13h0m-2-23h0m0 9h0m0-16h0m0 12h0m0 7h0m0-30h0m0 25h0m-1 17h0m0-28h0m-1 17h0m0-25h0m-1 24h0m0-24h0m-1-18h0m0 36h0m-1-40h0m0 32h0m-1 1h0m0 21h0m0-17h0m-1-12h0m-1 25h0m-1-49h0m0 24h0m-1-2h0m0-7h0m0-7h0m0 7h0m-1 24h0m0 18h0m0-15h0m-1-36h0m0 31h0m-1-32h0m-1 4h0m0 33h0m-1-43h0m0 31h0m0-5h0m0-26h0m-1 9h0m0 30h0m-1 17h0m-1-23h0m0-26h0m0 44h0m-1-36h0m0 19h0m0-7h0m0 3h0m-1-20h0m0 17h0m0 18h0m-1-17h0m0 24h0m0-7h0m0-43h0m0 14h0m0 13h0m-1 9h0m0-13h0m-1-21h0m0 24h0m0 21h0m0-13h0m-1 6h0m0-38h0m0 46h0m-1-48h0m-1 24h0m0 25h0m-1 3h0m0-46h0m0 28h0m0 18h0m-1-54h0m0 49h0m-1-11h0m0-27h0m0 31h0m0-10h0m-1 9h0m0 12h0m0-39h0m-1 36h0m0-17h0m0 22h0m-1-25h0m0-19h0m0 4h0m-1-9h0m0 13h0m0-15h0m-1 28h0m-1-32h0m0 32h0m0-2h0m0 27h0m0-43h0m-1-11h0m-1 42h0m0 8h0m0-10h0m0-26h0m0-11h0m-1 23h0m0-14h0m-1 34h0m0 5h0m-2-42h0m0 6h0m0 19h0m0-14h0m0 26h0m-1 3h0m0-27h0m0 13h0m0-31h0m0 51h0m0-39h0m-1 34h0m0-48h0m-1 13h0m-1 0h0m-1 15h0m0-28h0m0 30h0m0 17h0m0-30h0m-1-14h0m0 15h0m0 27h0m0-38h0m-1 4h0m0-7h0m0 48h0m-1-4h0m0-14h0m0-38h0m-1 49h0m0 0h0m0 33h0m0 0h0m1 20h0m1-1h0m0-40h0m0 28h0m0 21h0m1-37h0m1 35h0m0-47h0m0 38h0m0 17h0m0-36h0m0 32h0m1-23h0m0-10h0m0 19h0m1-32h0m0 37h0m0-3h0m1 18h0m0-44h0m0 39h0m1 4h0m0-48h0m0 9h0m0 1h0m1 7h0m0-6h0m0-17h0m1 32h0m0 19h0m0-6h0m0-47h0m0 51h0m0-46h0m0 34h0m1-22h0m0 19h0m0 17h0m0-11h0m2-22h0m1-19h0m0 14h0m0 31h0m1-37h0m1 35h0m1-2h0m0-21h0m0 5h0m1-3h0m0-7h0m1 35h0m0-27h0m0 21h0m1-15h0m0-10h0m0 16h0m0 5h0m1 2h0m0-19h0m0-2h0m0-19h0m1 8h0m0-4h0m0 20h0m1-22h0m0 2h0m0 19h0m0 16h0m0-28h0m1 15h0m0 24h0m1 2h0m0-50h0m1 15h0m1-9h0m0 13h0m1-1h0m0 10h0m0 13h0m0-45h0m2 19h0m0-6h0m0 9h0m1 24h0m1-20h0m1 18h0m0-14h0m0-24h0m2 20h0m1 17h0m1-26h0m1 25h0m0-25h0m0-12h0m0 21h0m0 0h0m1-14h0m0 5h0m0 19h0m1-25h0m0 12h0m0 31h0m1-31h0m0 32h0m1-14h0m0 15h0m1-21h0m0 8h0m0-38h0m0 1h0m0 11h0m0 34h0m1-12h0m0-23h0m0 28h0m1-23h0m0-14h0m0 29h0m0-37h0m1 9h0m1 28h0m1-2h0m0-13h0m0-4h0m0-8h0m1 14h0m0-7h0m1-7h0m0 16h0m1 27h0m0-36h0m0-17h0m1 6h0m0 29h0m0-36h0m0 6h0m1 31h0m0 13h0m1-50h0m0 49h0m1 7h0m1-16h0m0-26h0m1 13h0m2 18h0m0-38h0m0 42h0m0 6h0m0-1h0m0-7h0m0-41h0m1 45h0m1-7h0m1-34h0m0 14h0m0 32h0m1-1h0m0-18h0m0-3h0m0 18h0m0-8h0m1-15h0m0 12h0m0-12h0m1-20h0m0 7h0m0 16h0m1-30h0m0 14h0m1 36h0m0-20h0m0-28h0m0 13h0m1 1h0m1-13h0m0 44h0m0 3h0m1-44h0m0 7h0m0 24h0m1-20h0m1 24h0m0-42h0m0 44h0m0-42h0m1-3h0m0 57h0m0-35h0m1-21h0m0-1h0m1 20h0m0-9h0m0 8h0m0 19h0m0-3h0m0-35h0m0 31h0m0-11h0m1-4h0m0 8h0m0 1h0m0 15h0m1-39h0m0 0h0m0 47h0m1-17h0m0-25h0m1 3h0m1 2h0m0-11h0m1 15h0m0-9h0m0 24h0m0-20h0m1 47h0m0-4h0m0-22h0m0 8h0m0-35h0m1 52h0m0-2h0m0-17h0m0-23h0m0 40h0m1-51h0m0 27h0m0 2h0m1 0h0m1-23h0m1 20h0m0 18h0m0-44h0m0 41h0m1-32h0m0 26h0m0 7h0m0-1h0m0-20h0m1 16h0m0-33h0m0 4h0m0 28h0m0-31h0m1 41h0m1-16h0m0-33h0m1-1h0m0 5h0m0 16h0m0 37h0m0-22h0m0-36h0m0 26h0m1 6h0m0 22h0m2-52h0m0 33h0m0-22h0m1 32h0m0 12h0m1-6h0m0-42h0m0 24h0m1 19h0m1-50h0m0 16h0m0-11h0m0 22h0m0 5h0m1-16h0m0 16h0m0 7h0m0-11h0m1-25h0m1 37h0m2-9h0m0-13h0m1-1h0m0 23h0m0-38h0m0 16h0m0-16h0m1 17h0m0 13h0m1-28h0m0 9h0m0 1h0m1 40h0m0-42h0m1 34h0m0-20h0m0-19h0m0 48h0m1-15h0m0-7h0m0-10h0m0-7h0m1 0h0m0 5h0m0 22h0m1-7h0m0-22h0m1-3h0m0-4h0m0 5h0m1 7h0m0-17h0m1 6h0m1 18h0m0-15h0m2-5h0m0 11h0m1-13h0m0 32h0m0-15h0m0-2h0m1 33h0m0-37h0m0-1h0m0 5h0m1-3h0m0 28h0m0-4h0m1-42h0m0 19h0m1 29h0m0-22h0m0 14h0m0-14h0m0 17h0m1-18h0m0 28h0m1-38h0m0 41h0m0-37h0m1 20h0m1 8h0m0-16h0m1 0h0m1 17h0m0-47h0m1 13h0m0-1h0m1 6h0m0 39h0m0-29h0m0-29h0m1 46h0m0 3h0m0-26h0m1-1h0m0 1h0m1 12h0m0 2h0m1-12h0m1 30h0m0-30h0m1 13h0m1 9h0m0-10h0m1-22h0m0-7h0m0 34h0m0 13h0m1-17h0m0-33h0m1 34h0m0-18h0m0-5h0m0 20h0m1-23h0m0-14h0m0 3h0m0 55h0m0-23h0m1 17h0m1-14h0m1-9h0m0 6h0m0-22h0m1 8h0m0 31h0m0-35h0m0 33h0m1-40h0m0 33h0m0-9h0m1 25h0m0-29h0m0-16h0m1 9h0m0-17h0m0 42h0m0-40h0m0 2h0m1 35h0m0 12h0m1-10h0m0-3h0m0-31h0m0-11h0m1-1h0m0 13h0m0 15h0m0-22h0m1 16h0m0 15h0m1-2h0m0-15h0m0 20h0m1 1h0m0-2h0m0-11h0m0 28h0m0-50h0m1-7h0m1 51h0m1-14h0m0 23h0m0-11h0m0-31h0m1 24h0m0-3h0m0-3h0m0-2h0m1-18h0m0 11h0m0 5h0m0-21h0m1 30h0m0-16h0m0-13h0m0 9h0m0-5h0m1 0h0m0 19h0m0-31h0m1 28h0m0-8h0m0 1h0m0-24h0m0 32h0m1 18h0m0-29h0m0-17h0m0 28h0m0-10h0m1-11h0m0 7h0m0-10h0m1 32h0m0-12h0m1-25h0m0 50h0m0-39h0m0 18h0m0 26h0m0-19h0m1-5h0m0 18h0m0-48h0m1 42h0m0-9h0m1-22h0m0-6h0m0 8h0m0-12h0m2 21h0m0-3h0m0 9h0m2 0h0m0-19h0m0-3h0m1 40h0m0-35h0m1 30h0m0-4h0m1-15h0m1-14h0m0 46h0m1-9h0m0-3h0m0 12h0m0-40h0m1-1h0m0 21h0m0 32h0m-1 21h0m0 8h0m-1-25h0m0 30h0m-1 6h0m0-6h0m0-36h0m-1 0h0m-1 14h0m0-10h0m-1 7h0m-1 38h0m-1-13h0m-1-6h0m0-18h0m0-20h0m-1 15h0m0-13h0m-1 39h0m0-19h0m0 11h0m0 22h0m-1-46h0m0 16h0m0-16h0m-1 24h0m0 20h0m0-31h0m-2-14h0m-1-4h0m0 32h0m-3-1h0m0-14h0m-1 2h0m0-18h0m0-4h0m0 55h0m-1-57h0m0 11h0m-1-9h0m-2 1h0m0 6h0m0 42h0m0-35h0m-2 34h0m0-34h0m-1-11h0m0 16h0m0 8h0m0 22h0m0-33h0m-1-8h0m-1 31h0m-2-35h0m0 0h0m0 45h0m-1 8h0m0-15h0m0-44h0m-1 55h0m0-43h0m0 4h0m-1 38h0m0-35h0m-1 19h0m-2-26h0m0 40h0m0-31h0m0 14h0m0 21h0m0-49h0m-2 36h0m0-25h0m-1-9h0m0-8h0m0 19h0m-1-8h0m-2 14h0m-1-2h0m0-8h0m-1 9h0m0-17h0m-1 28h0m-1-2h0m0-22h0m-1 34h0m-1 3h0m0-13h0m0 3h0m-1 0h0m-1-20h0m0-7h0m-1-2h0m-1 24h0m-1 13h0m0-38h0m0 16h0m-1 11h0m0-33h0m0 40h0m-1-7h0m0-13h0m-1-5h0m0 12h0m-1-27h0m0 44h0m0-37h0m0 3h0m-1 19h0m-1-9h0m0 8h0m0-24h0m-1 52h0m0-52h0m0 24h0m0 26h0m0-20h0m-2-11h0m0-6h0m-2 20h0m0-36h0m-1 12h0m0 20h0m-2 22h0m0-40h0m0 1h0m0-7h0m-1 15h0m0-18h0m0 36h0m-1-5h0m-1 6h0m-1-20h0m0-7h0m-1 37h0m-1-32h0m-1 12h0m0-21h0m-1 18h0m-1 1h0m0-33h0m0 7h0m-2 18h0m0 20h0m0-32h0m-1 10h0m0-13h0m-1 26h0m0-1h0m-2-24h0m0 8h0m-1 28h0m-1-47h0m0 5h0m0-5h0m-2 5h0m0 9h0m-1-3h0m0 8h0m-1 40h0m-1-38h0m0 12h0m0-12h0m0-4h0m0 10h0m0 16h0m-1-40h0m-1 35h0m0-35h0m0 10h0m-1-12h0m0 0h0m-2 5h0m-1 8h0m0 26h0m-1-20h0m-1 24h0m0-43h0m-2 32h0m0-30h0m-1 34h0m0-6h0m-1-9h0m-1-18h0m-1-2h0m0 37h0m-1-38h0m0 54h0m0-14h0m0 1h0m0-39h0m-3 20h0m0-11h0m-1 42h0m-2 1h0m0-22h0m-1-15h0m-2 12h0m0-8h0m-1 10h0m-1-4h0m-1 18h0m0-47h0m-1 27h0m0 6h0m0-13h0m-1-13h0m-1 18h0m-1 8h0m0-15h0m-1 15h0m-1-20h0m0-12h0m-1 18h0m-1-6h0m-1 18h0m-1-24h0m-1 42h0m0-44h0m-1-2h0m-1 45h0m0-18h0m0 25h0m0-30h0m-1 15h0m0 19h0m0-17h0m-1 3h0m-1 3h0m0-1h0m0-20h0m-1-26h0m0 29h0m0 26h0m0-25h0m-1 15h0m0-4h0m-1-23h0m0 39h0m0-10h0m-1 0h0m-1-12h0m0 14h0m0 0h0m-1 3h0m0-37h0m0-6h0m-2 35h0m-1-35h0m0 16h0m-1-6h0m0 28h0m0 1h0m0-42h0m-1 23h0m0 0h0m-1-10h0m-1 7h0m0-25h0m-1 4h0m0 25h0m0-1h0m0-18h0m0 2h0m-1 6h0m0 34h0m-2 2h0m0-16h0m-1-37h0m0 54h0m0-50h0m-1 13h0m0-15h0m0 7h0m-1 3h0m0 29h0m-1-28h0m-1 0h0m-1 16h0m0 10h0m-2-17h0m-1 30h0m0-42h0m-1 12h0m0-6h0m0-12h0m0 30h0m-2 1h0m-2-32h0m-1 8h0m-2-12h0m0-1h0m0 1h0m0 7h0m-1 10h0m0 15h0m-1-23h0m0 15h0m0-25h0m0 42h0m-1-34h0m-1-8h0m0 6h0m0-2h0m-1 53h0m0-26h0m-1-19h0m0 10h0m0-11h0m-1 45h0m-1-32h0m0 18h0m-1-6h0m0 14h0m-1-43h0m0 43h0m0-45h0m-1 0h0m-2 37h0m3 49h0m0-29h0m1 14h0m2 11h0m2 9h0m1 15h0m0-38h0m3-9h0m1-1h0m0 42h0m1-16h0m5-26h0m1 23h0m2 29h0m2-51h0m4-3h0m0 44h0m0-34h0m2 7h0m0-8h0m0 49h0m3-39h0m1-14h0m1 3h0m2 12h0m2-13h0m0-6h0m1 42h0m3-39h0m1 13h0m0-13h0m0-4h0m0 15h0m0-5h0m2 16h0m0-7h0m0 14h0m1-2h0m1-28h0m2 44h0m1-17h0m1 19h0m2-8h0m0-29h0m1 28h0m3-15h0m2-19h0m0 32h0m0-40h0m1 32h0m1-22h0m0 1h0m0 3h0m3 3h0m3-13h0m4 13h0m3-10h0m2 4h0m5 16h0m1-11h0m0-7h0m0 35h0m1-37h0m1 15h0m5-7h0m0 8h0m1-7h0m0 21h0m5 21h0m2-8h0m2-36h0m1 12h0m1 20h0m0-19h0m2-8h0m0 40h0m1-34h0m1-12h0m1 1h0m1 0h0m1 23h0m7-17h0m1-19h0m1 6h0m3 41h0m1 8h0m1-6h0m3-17h0m1-16h0m2 24h0m2-33h0m3 49h0m1-22h0m0-7h0m2 21h0m1-34h0m2 38h0m1 4h0m8-53h0m2-3h0m3 30h0m0 0h0m1-10h0m6-14h0m1 39h0m1 13h0m4-52h0m0 11h0m0 37h0m0-7h0m2-41h0m1-3h0m1 42h0m2-5h0m1-32h0m0 22h0m1 11h0m3 17h0m2-28h0m-1 52h0m-9-17h0m-1 32h0m-13 15h0m-4-49h0m-20 38h0m-8 4h0m0-16h0m-4 10h0m-10-15h0m-6-9h0m-7 8h0m-5 1h0m-3 31h0m0-21h0m-2 16h0m-3-6h0m-3-30h0m-1 43h0m-2-39h0m-4 21h0m-6-6h0m0-33h0m-1 22h0m-3 20h0m-5-32h0m-1 5h0m-3-16h0m-5 25h0m-1 0h0m-2-14h0m-2-4h0m-5 8h0m0 4h0m-2 17h0m0 18h0m-4-20h0m-11-31h0m-2 57h0m-2-24h0m-7 2h0m-8-35h0m-3 50h0m0-31h0m22 46h0m10 28h0m9-3h0m24-3h0m5 2h0m15-1h0m3 18h0m0 9h0m3-43h0m17 13h0m1 28h0m6-27h0m0-8h0m9 15h0m2 22h0m8-10h0m1 1h0m5-46h0m35 108h0m-12-13h0m-9 7h0m-4-41h0m-60 4h0m-7 2h0m-4 25h0m-37-3h0m-13-26h0m-29-5h0m1 82h0m30 11h0m91-11h0m5 0h0m49-19h0m-3 65h0m-121 0h0m-21 0h0m-5 0h0m-14 0h0m-11 0h0" stroke="#3cc9c4" stroke-width="9.5" stroke-linecap="round" fill="none"/>
<path d="M632.8 87.18h29.2v11.62h-29.2zM632.8 92.71h29.2" fill="none" stroke="#d6a6fb" stroke-width="0.8"/>
<path transform="scale(.1)" d="M6562 677h0m-147 5h0m-19-8h0m-10 74h0m2-3h0m5-48h0m7 40h0m6-18h0m5 23h0m1-8h0m2 14h0m2-7h0m25-37h0m3 25h0m11 3h0m3 15h0m2-46h0m9 45h0m20-4h0m1-14h0m8-4h0m31 12h0m5-27h0m1-9h0m0 38h0m9-26h0m7-5h0m7 2h0m5 85h0m-4-11h0m0 8h0m0 5h0m-1-17h0m-1-28h0m-1 33h0m-3-33h0m-1 26h0m-1 15h0m0-4h0m-1-9h0m-1 5h0m-1-11h0m-2 20h0m0 3h0m-2 13h0m-2 0h0m-5 0h0m-1-12h0m-1-46h0m-1 53h0m0-36h0m0 30h0m-1-7h0m-2 8h0m-1-3h0m-2-21h0m0-5h0m-1 23h0m-1-10h0m0 10h0m-1-28h0m-1 10h0m0-14h0m-2 32h0m0 15h0m-3-58h0m-1 40h0m-1 6h0m0-15h0m-2-22h0m0 51h0m-3-7h0m-1-30h0m-1 28h0m-2-19h0m-1-1h0m-1 26h0m-1-49h0m-1 16h0m-2 29h0m0 2h0m-2-50h0m-1 55h0m-1-24h0m0-11h0m-2-5h0m-2 8h0m-5 32h0m-3-34h0m-1 21h0m-1-24h0m-3 32h0m-1-17h0m0 18h0m-2-1h0m-1-46h0m-1 50h0m-8-27h0m0 24h0m-3-3h0m-4-25h0m0 27h0m-2-9h0m-1-43h0m-1 14h0m0 40h0m-1-6h0m-1-1h0m0-31h0m-3 15h0m-1-24h0m-1 13h0m-5 27h0m-1-16h0m-1-8h0m-1-12h0m-6-3h0m-3 5h0m-3-4h0m-1-5h0m-1 16h0m0 14h0m-1-9h0m0 25h0m-3-23h0m-2 18h0m0 3h0m-2 8h0m0-57h0m0 46h0m-3 1h0m-3-6h0m-2-4h0m-3 0h0m0-10h0m-2 8h0m-1 21h0m0-52h0m-5 50h0m-3-29h0m-1 7h0m0 17h0m-3-2h0m0-16h0m-1-14h0m0-5h0m-1 39h0m0 7h0m0-37h0m-7 84h0m0-16h0m0-22h0m0 44h0m4-34h0m0 12h0m1-2h0m1-10h0m0 38h0m1-55h0m1 50h0m0-23h0m0-16h0m1 44h0m0-23h0m1-18h0m1 10h0m1 30h0m0-29h0m1 19h0m0-11h0m2-20h0m1 5h0m0 32h0m1-12h0m0 17h0m1-12h0m0-43h0m1 33h0m1 0h0m0-25h0m1 18h0m0 8h0m0 6h0m1 7h0m1-2h0m0 10h0m0 2h0m1-47h0m1 47h0m0-39h0m0 9h0m1 2h0m1 28h0m2-32h0m0 1h0m0 10h0m1-4h0m1 13h0m1 4h0m0-21h0m1 26h0m1 1h0m0-11h0m0-12h0m1-14h0m1 30h0m0 2h0m1-22h0m2-7h0m0 7h0m1-26h0m0 4h0m3 5h0m0 31h0m1-27h0m1 28h0m2 3h0m1 6h0m0-38h0m1 27h0m1 6h0m0 3h0m0-17h0m1 13h0m0-36h0m0 11h0m1 28h0m0-8h0m0-18h0m0 19h0m0-3h0m1-6h0m2-24h0m0 43h0m1 3h0m0-4h0m0-39h0m0 41h0m1-32h0m0 31h0m0 4h0m2-21h0m1-37h0m0 51h0m0-31h0m1 29h0m0-26h0m1 31h0m1 4h0m0-25h0m1-32h0m1 55h0m0-39h0m1 17h0m0-18h0m0 9h0m2-23h0m0 41h0m0-34h0m1 40h0m0-6h0m0 13h0m1 0h0m1-25h0m0 6h0m1 18h0m0-8h0m0 7h0m2-8h0m0 9h0m1-25h0m0 17h0m2-33h0m1 31h0m0 13h0m0-32h0m1 34h0m0-60h0m1 41h0m0-8h0m0 4h0m0 1h0m1-23h0m0 9h0m0 7h0m1 26h0m1-50h0m0 19h0m1 15h0m0-5h0m1 15h0m0-37h0m1 45h0m0-15h0m1-38h0m1 23h0m0 26h0m0-1h0m0-3h0m1-15h0m2-6h0m0-7h0m1 21h0m0 6h0m0-44h0m0 18h0m1 1h0m0-8h0m1 38h0m1-12h0m0 5h0m1 10h0m1-18h0m0-29h0m2 32h0m0-22h0m0 29h0m1-49h0m0 41h0m2 15h0m0-15h0m0 0h0m1-19h0m1 16h0m0 19h0m1-23h0m0 15h0m0-41h0m2-4h0m0 36h0m0-23h0m1 37h0m0-32h0m1-23h0m1 56h0m0-27h0m1-12h0m1 28h0m1 2h0m0-3h0m0 0h0m1 6h0m0-25h0m0 31h0m1-18h0m1 1h0m2 15h0m1 1h0m1 3h0m0-15h0m1-10h0m1-7h0m0-7h0m1-10h0m1 49h0m1-17h0m1-36h0m0 46h0m0-9h0m0-21h0m1 24h0m0-45h0m0 58h0m0-12h0m0-20h0m1-2h0m0 22h0m0 1h0m1 6h0m2 6h0m0-25h0m1-1h0m0-9h0m0-23h0m0 31h0m1 9h0m1 0h0m1 7h0m0-40h0m0 1h0m2 6h0m1-2h0m0-2h0m0 39h0m1 8h0m0-3h0m0-28h0m1-24h0m2 9h0m0 28h0m2 0h0m0 19h0m1-59h0m0 22h0m0 6h0m1-26h0m0 2h0m1 54h0m1-58h0m0 17h0m0 24h0m1 1h0m0-25h0m0 9h0m0 7h0m1 1h0m0-19h0m1 4h0m0-2h0m2 7h0m0 34h0m0 2h0m1-17h0m0 6h0m0-36h0m0 13h0m1 33h0m0-13h0m1 6h0m1-47h0m0 44h0m1-3h0m1-44h0m0 20h0m1-13h0m3 36h0m0-1h0m1 14h0m1-14h0m0 15h0m1-3h0m0-3h0m2-33h0m0 20h0m0-12h0m0 3h0m0 26h0m2-17h0m0 2h0m0-5h0m1 17h0m1-10h0m0-14h0m0-28h0m0 34h0m1-8h0m0 17h0m0-15h0m1 9h0m0-8h0m0-4h0m1 22h0m0-15h0m1-3h0m0-14h0m1 32h0m0-22h0m1-21h0m0 54h0m0 31h0m0-11h0m0 5h0m0 16h0m-2-8h0m-1 20h0m0-51h0m0 48h0m0-44h0m-1 29h0m0-4h0m0 3h0m-1-3h0m0-30h0m0 48h0m0-25h0m0 11h0m0-28h0m-2 48h0m0 0h0m0-22h0m-1-9h0m0-3h0m0 38h0m0-22h0m0 18h0m-1-25h0m0-24h0m-1 1h0m0 29h0m0-11h0m0-21h0m-1 30h0m0 20h0m-1 5h0m-1-42h0m0-16h0m0 31h0m0 23h0m0-40h0m0 20h0m-1-2h0m0 20h0m-1 2h0m0 0h0m-1 1h0m-2 4h0m0-39h0m0 13h0m-1 2h0m0 12h0m0 4h0m-1 5h0m0-32h0m0 6h0m0 3h0m0 1h0m-1 11h0m0 1h0m-1-2h0m0 10h0m-1-5h0m0-42h0m0 25h0m-1-15h0m0 28h0m0-12h0m0 7h0m0-36h0m-1 2h0m0 15h0m-2-20h0m-1 9h0m0 6h0m0 37h0m0-32h0m0 35h0m-1-46h0m0 38h0m0-25h0m0-5h0m-1-8h0m0 27h0m0 13h0m0-16h0m-1-30h0m0 5h0m-1 21h0m-1-18h0m-1-3h0m0 11h0m0-14h0m0 4h0m-1 48h0m0-45h0m0 21h0m-1 13h0m-1 8h0m0-11h0m-1-13h0m0 13h0m0-14h0m0-9h0m-1 13h0m0 13h0m-1-46h0m0 12h0m0 44h0m0-12h0m-1-44h0m0 53h0m0-52h0m0 5h0m-1 0h0m0 5h0m0 43h0m-1-14h0m0-18h0m0 31h0m0-41h0m-1 38h0m0-26h0m0 33h0m0-54h0m-1 25h0m0 9h0m0-24h0m0 27h0m0 15h0m-1-20h0m0-35h0m0 44h0m-1-45h0m-1 15h0m-1 41h0m0-56h0m0 18h0m-1 37h0m0-16h0m0-4h0m0 16h0m0 0h0m-1-39h0m0 1h0m0-13h0m0 2h0m0 17h0m0 6h0m-1 5h0m0 10h0m-1 15h0m0-3h0m0-11h0m0 3h0m-1-43h0m-1 17h0m-2 26h0m-1-29h0m0-15h0m0 26h0m-1-2h0m0 23h0m0-40h0m-1 40h0m-1-28h0m0-9h0m0 8h0m-1 27h0m0-4h0m-1 5h0m0-14h0m-1 2h0m-1-16h0m-2 4h0m0 21h0m0-15h0m0 22h0m-1-20h0m0-31h0m0 57h0m-1-8h0m0-35h0m-2 30h0m0-25h0m0 25h0m0-13h0m0-25h0m-1 21h0m0 14h0m0-28h0m0 38h0m-1 7h0m0-8h0m0-34h0m0 5h0m0 0h0m0 20h0m0-6h0m-1 0h0m0-4h0m-1-7h0m0 36h0m0-41h0m-1-5h0m0 33h0m0-21h0m-1 7h0m0-7h0m-1-10h0m-1-13h0m0 40h0m-1-29h0m-1-1h0m0 1h0m0-9h0m0 17h0m-2 14h0m0 13h0m-3-41h0m0 26h0m0-5h0m0-20h0m-1-1h0m-1 46h0m0-1h0m-1-30h0m0-21h0m-1 1h0m0 51h0m-1-13h0m0-14h0m-1 6h0m0-11h0m0 9h0m0-26h0m-1 47h0m0-41h0m0 12h0m-1 4h0m0 6h0m0-11h0m-1 31h0m0 7h0m0-23h0m0 8h0m0-38h0m-2 46h0m0-21h0m-1 0h0m-2-17h0m0-6h0m0 17h0m0 9h0m0 19h0m-1 6h0m0-11h0m-1 10h0m0-27h0m-1-29h0m0 10h0m0-8h0m-1 12h0m0 23h0m-1 11h0m-1-38h0m0 23h0m0 17h0m-1-30h0m0 13h0m0-13h0m-1 31h0m-1-30h0m0-11h0m0 9h0m0 25h0m-1-46h0m0 24h0m0 6h0m-1-12h0m0 20h0m0 14h0m0-10h0m-1-14h0m0 27h0m-1-22h0m0 13h0m0 13h0m-1-12h0m0 6h0m-2-37h0m0 8h0m0 2h0m0-13h0m-1 24h0m0-24h0m0-8h0m-1 48h0m0-22h0m0-7h0m-2 24h0m0-13h0m0-15h0m0 33h0m0-39h0m0 24h0m-1-36h0m0 44h0m0-15h0m0 10h0m-1 16h0m0-30h0m-1 17h0m-1-40h0m0 2h0m0-1h0m0 21h0m0-27h0m-1 55h0m-1-21h0m0 0h0m0 14h0m0 8h0m0-46h0m0-6h0m-1-1h0m0 45h0m0 1h0m0 9h0m-1-36h0m0 26h0m0-19h0m0 31h0m-1-48h0m0 31h0m0-35h0m-1 15h0m0 10h0m0-6h0m-1-9h0m-1 35h0m0-50h0m0 33h0m0-9h0m0-6h0m-1 34h0m0-40h0m0-13h0m0 56h0m-1-32h0m0-10h0m0 11h0m0-21h0m0 44h0m-1-15h0m0 24h0m-2-36h0m0-22h0m-1 42h0m0-20h0m-2 18h0m0 10h0m0-34h0m0 40h0m0-21h0m-4 10h0m0-27h0m0 7h0m-1-7h0m-2-2h0m0 16h0m0 18h0m0-48h0m-1 56h0m0-9h0m-1-19h0m0 6h0m0 5h0m0-27h0m-1-8h0m0 20h0m-1-21h0m0 10h0m0 37h0m0-23h0m-1-17h0m0 3h0m0 7h0m0-5h0m-1 33h0m0 1h0m0-39h0m0 9h0m-1-3h0m0 15h0m0-12h0m0 36h0m-1-53h0m0 42h0m-1 3h0m0 6h0m0-34h0m-1 21h0m0 15h0m-1 2h0m-1-11h0m-1-11h0m0-20h0m-1 14h0m0 5h0m0 2h0m0-14h0m-2 22h0m0-12h0m0 20h0m-1-12h0m0-41h0m-1 57h0m0-18h0m0-18h0m0-4h0m-1 15h0m0-18h0m0 25h0m-1-38h0m-1 22h0m-1 22h0m-1-6h0m0-16h0m-1-13h0m-1 23h0m-1-1h0m0-21h0m0 38h0m-1-42h0m0 24h0m0-25h0m-1 21h0m-1 13h0m0 1h0m0-29h0m0 16h0m-1 27h0m0-30h0m-1-7h0m-1 31h0m0 20h0m1 35h0m0-14h0m0-22h0m1-6h0m0 2h0m0 35h0m0-32h0m0-4h0m1 22h0m0 13h0m0-29h0m1 43h0m0-14h0m0-17h0m1 6h0m0 12h0m0-5h0m0-34h0m1 25h0m0-14h0m2 15h0m0 12h0m1-9h0m0-19h0m1 18h0m0-18h0m1 33h0m0 4h0m0 9h0m0-7h0m1 6h0m0-29h0m0-14h0m1 17h0m0-2h0m0-28h0m0 38h0m0-8h0m0-19h0m0 46h0m1-35h0m0-13h0m0-4h0m0 30h0m1-30h0m1 41h0m1-43h0m0 40h0m0-2h0m2-2h0m0-1h0m0-23h0m0-8h0m0 30h0m0-3h0m1-26h0m0-3h0m0 38h0m0 4h0m0-29h0m1 29h0m0-28h0m0-12h0m0 5h0m1-13h0m0 25h0m1 1h0m0-15h0m0 22h0m0-14h0m0 37h0m1-55h0m0 10h0m1 23h0m0-15h0m0 24h0m0-19h0m1-1h0m0 24h0m0-7h0m0 18h0m1-52h0m0 17h0m2 20h0m0-27h0m1 12h0m0 22h0m0-7h0m0-26h0m3 13h0m0 8h0m1 1h0m0 15h0m0-31h0m1-7h0m0 21h0m1-7h0m0 24h0m0-42h0m1 37h0m1 1h0m0-15h0m1-32h0m0 35h0m0 22h0m0-9h0m1-49h0m0 31h0m1-11h0m0 13h0m0-11h0m0-1h0m0 29h0m0-1h0m2 2h0m0-44h0m0 39h0m0-4h0m0-17h0m1 15h0m1 17h0m0-33h0m0-16h0m0-5h0m0 8h0m0 36h0m1-36h0m0 3h0m0-3h0m1 3h0m0 16h0m0-3h0m0-28h0m1 33h0m0 1h0m0-9h0m0-2h0m1-21h0m0 11h0m3 7h0m0 38h0m1-56h0m1 37h0m0-26h0m0 29h0m2 9h0m1-27h0m0 32h0m0-47h0m0 29h0m1 11h0m0-7h0m1-16h0m0 2h0m1-2h0m0-6h0m0 9h0m1 13h0m0-3h0m0-12h0m2-24h0m0 47h0m0-17h0m0 6h0m0-32h0m0 11h0m1 6h0m1 21h0m0-33h0m0-3h0m0-8h0m1 9h0m1 7h0m0-7h0m0 26h0m1 14h0m0-30h0m0 31h0m0-27h0m0 7h0m0-21h0m1-5h0m0-4h0m0 7h0m0 19h0m0 25h0m1-1h0m0-17h0m1-2h0m1 3h0m0-33h0m0 30h0m0-23h0m0 27h0m0-8h0m0-21h0m0 26h0m0 24h0m1 1h0m0-54h0m0 5h0m0 27h0m0-22h0m1-1h0m0 29h0m0-19h0m0 22h0m1-34h0m0 27h0m1-37h0m0 9h0m0 20h0m0 0h0m0-30h0m1 51h0m1-42h0m1 28h0m1 6h0m1-30h0m0-12h0m0 7h0m0 38h0m0-45h0m1 13h0m0 40h0m0-43h0m1-8h0m0 3h0m0-1h0m0 11h0m0-16h0m1 26h0m0-1h0m0 25h0m1-12h0m0-33h0m0 18h0m2-8h0m0 14h0m0 25h0m0-5h0m0-18h0m1 20h0m1 1h0m0-39h0m0 2h0m0-7h0m0-8h0m1 20h0m0-15h0m1 3h0m0 30h0m2-9h0m0 19h0m0-28h0m0-10h0m1-3h0m1 46h0m0-38h0m1 37h0m0 5h0m1-17h0m0-15h0m0 31h0m0-38h0m0 38h0m1-38h0m0-17h0m1 49h0m1-30h0m1 28h0m0 8h0m0-26h0m0-13h0m1 32h0m1-24h0m0-7h0m0 5h0m1-5h0m1 23h0m0-28h0m0 40h0m1-39h0m2 37h0m1-1h0m1-17h0m0 9h0m0 13h0m0-50h0m1 11h0m1 14h0m1-28h0m0 41h0m0-42h0m1 16h0m0 18h0m0 1h0m0-14h0m1 15h0m0 0h0m1-16h0m0-18h0m2 10h0m0-11h0m1 49h0m0-31h0m0 35h0m0-4h0m0-6h0m1-12h0m0-19h0m1-6h0m0-5h0m0 10h0m0 29h0m0 8h0m0 3h0m0-47h0m0 29h0m1 22h0m0 2h0m0-30h0m0-8h0m1 26h0m0-23h0m0-7h0m0 15h0m0-6h0m0-8h0m1 18h0m0-28h0m0 29h0m0-37h0m2 52h0m0-35h0m0 12h0m1 11h0m0-5h0m0-21h0m1 19h0m0-6h0m0-6h0m0 32h0m1 1h0m0 4h0m0-12h0m0 12h0m1-38h0m0 19h0m0 4h0m1 14h0m0-37h0m0 6h0m0 31h0m1-53h0m1 38h0m0 7h0m1-14h0m0 2h0m0-22h0m0 41h0m0-15h0m0-6h0m0-30h0m1-2h0m0 48h0m0-48h0m0 38h0m0-26h0m1 44h0m0-1h0m0-56h0m1 49h0m0-31h0m1-17h0m0 24h0m1 30h0m0-21h0m0-3h0m0-27h0m0 21h0m0 25h0m1-39h0m0 0h0m1-4h0m1 10h0m0 17h0m0-19h0m1 17h0m0-9h0m0 14h0m0 17h0m1 1h0m0-51h0m0 23h0m0 28h0m1 2h0m0-45h0m0 38h0m0-35h0m1 40h0m0-16h0m2-5h0m0-5h0m0-18h0m1-3h0m0 25h0m1 14h0m0-14h0m0 6h0m0-30h0m1 31h0m0-26h0m1 40h0m0-43h0m0 9h0m0 10h0m1-8h0m1 15h0m0 3h0m0-5h0m1 8h0m0 11h0m2-32h0m0 7h0m0 21h0m0 5h0m0-22h0m0 15h0m1-46h0m0 6h0m1 18h0m0 24h0m0-23h0m0 9h0m0 20h0m1-29h0m0-8h0m0 34h0m0-7h0m1-6h0m0-33h0m0-2h0m0 1h0m1 4h0m0-2h0m1 48h0m0-11h0m0-36h0m0 33h0m1-1h0m0-42h0m0 54h0m0-38h0m1-5h0m0 41h0m0-14h0m1-18h0m0 9h0m0-21h0m0 6h0m0 35h0m1-2h0m1-32h0m0-9h0m1 40h0m1-19h0m0-24h0m1 15h0m0-9h0m1-6h0m0 1h0m0 37h0m1-39h0m0 10h0m0 46h0m0-14h0m0-3h0m1-13h0m0-6h0m0 32h0m0-32h0m2-20h0m0 38h0m0-10h0m0 26h0m1-9h0m0 11h0m0-56h0m0 55h0m1-46h0m0 14h0m0 20h0m0-3h0m1-6h0m0-30h0m0 6h0m1-4h0m-1 59h0m-2 6h0m-1 13h0m0-26h0m0 13h0m-1-2h0m-2 36h0m0-25h0m-1-20h0m-1 14h0m-1 4h0m0-10h0m-1-1h0m0 43h0m-1-23h0m0-28h0m-1 56h0m0-30h0m0-21h0m0 7h0m-1 1h0m0 26h0m-2-9h0m0 16h0m-1-19h0m0 8h0m0-31h0m0 46h0m-1-41h0m0 47h0m0-17h0m-1 10h0m-1-15h0m0-20h0m-1 33h0m-1-8h0m-2-16h0m-1 12h0m-1-12h0m-1 28h0m-1-4h0m-1-44h0m-1-2h0m-1 39h0m-1-29h0m-2-10h0m0 29h0m0 11h0m-2-10h0m0 8h0m-1-9h0m0-31h0m0 46h0m-1-36h0m-1 36h0m0-29h0m0 36h0m-1-49h0m0 1h0m-1 1h0m-1 45h0m0-1h0m0-13h0m-1-19h0m-3 36h0m0-13h0m-1-39h0m-1 33h0m0-10h0m-1 4h0m-1 24h0m0 5h0m0-54h0m0 39h0m-1-35h0m-1 44h0m0-28h0m0-21h0m-1 39h0m0-41h0m-1 19h0m0-17h0m-1 9h0m0-13h0m0 9h0m-1 13h0m-1-9h0m0-9h0m-1 33h0m-1-6h0m-1 16h0m0-47h0m0 23h0m-1 13h0m-1-20h0m0 42h0m-1-38h0m-1-2h0m-2-11h0m0 14h0m-1 22h0m0 0h0m0-24h0m-1 11h0m0-9h0m-1 33h0m0-26h0m-3-17h0m0 37h0m-2-22h0m-1 21h0m0-24h0m0-23h0m0 35h0m-1-18h0m-2 15h0m0-18h0m-1-2h0m0 17h0m-1 21h0m-1-17h0m-1-13h0m0 6h0m-1 5h0m0 18h0m-1-3h0m-1-20h0m-1-25h0m0 1h0m-1 17h0m0-9h0m-1-6h0m0 25h0m-1-24h0m0 7h0m0 18h0m-1-20h0m0 28h0m0-20h0m-1-10h0m-1 12h0m0-11h0m-1 11h0m0-8h0m0-8h0m0 7h0m0-9h0m-1 8h0m-1-6h0m-2 53h0m0-50h0m0 7h0m-1-5h0m-1 48h0m0-20h0m0-10h0m-2 9h0m0 10h0m-1-37h0m0 25h0m-1 13h0m0-41h0m0 34h0m0-24h0m-1 17h0m-2 6h0m-2 13h0m0-42h0m-1 5h0m-2 18h0m0-33h0m-1 55h0m0-34h0m-1 26h0m-1-9h0m-1-20h0m-1-4h0m0 18h0m-1 1h0m0-8h0m-1-1h0m0-14h0m-2-4h0m-1-5h0m-1 23h0m0 26h0m-1-45h0m-2 27h0m0-28h0m0 15h0m0 17h0m0-29h0m-1 40h0m0-40h0m-1 48h0m0-27h0m0-28h0m0 19h0m0 27h0m0-28h0m-3-8h0m-1 3h0m0 1h0m-1-7h0m0 41h0m0-44h0m-1 26h0m0 7h0m-1-37h0m0 40h0m0-36h0m-1 3h0m-1 47h0m0-50h0m0 53h0m-1-44h0m0 41h0m0-55h0m-1 29h0m-1 8h0m-1 9h0m-1 6h0m-1 5h0m-1-11h0m0-4h0m-1 2h0m-1-40h0m-1-3h0m0 7h0m-1 4h0m-2-11h0m0 12h0m0 14h0m-1-13h0m0 23h0m-1-25h0m-2 10h0m-2 18h0m0-38h0m0 29h0m0-12h0m-1 7h0m0 4h0m-2-9h0m0 32h0m0-38h0m0 0h0m-1 11h0m-3 33h0m0-33h0m-1 17h0m-1-19h0m0 16h0m-2-37h0m-1 12h0m-1 15h0m0-13h0m0-13h0m-1-1h0m0 15h0m-2 19h0m0-10h0m0 30h0m-1-51h0m0-1h0m-1 40h0m0 8h0m0-47h0m0-4h0m-1 7h0m0-2h0m0-3h0m0 10h0m0 0h0m-1 13h0m-3-22h0m0 32h0m-1 21h0m-1-40h0m1 69h0m0 2h0m4-6h0m1-22h0m0 39h0m2 17h0m1-37h0m1 38h0m0-46h0m1 28h0m0-34h0m2 0h0m1-3h0m1 56h0m0-51h0m4 52h0m2-4h0m2-32h0m2 12h0m1-30h0m3 12h0m1-2h0m0 24h0m1 14h0m0-16h0m0-22h0m1 31h0m3 4h0m0 5h0m1-33h0m3 6h0m3-15h0m0 7h0m1 4h0m1-10h0m1 30h0m1-44h0m0-1h0m2 13h0m2-12h0m0 18h0m0 32h0m3-50h0m2 1h0m2 28h0m2-30h0m1 3h0m3 56h0m4-55h0m1 42h0m1 13h0m2-44h0m2 19h0m1-12h0m1 31h0m0-4h0m5-9h0m4-2h0m4-31h0m1 16h0m0 0h0m1-17h0m0 3h0m0 11h0m3 20h0m1-22h0m0 21h0m1-4h0m0 13h0m2-37h0m1 26h0m4 21h0m4-47h0m1-7h0m3 26h0m2-5h0m1-18h0m1-7h0m5 25h0m1 34h0m3-45h0m0-3h0m1 0h0m5 32h0m0 12h0m2-29h0m1-20h0m7 21h0m0-4h0m1 5h0m0 28h0m3-52h0m3 43h0m2-36h0m1-9h0m0 31h0m0 11h0m2-19h0m1-23h0m0 11h0m1-8h0m0 21h0m2-21h0m0 0h0m1 34h0m2-30h0m5 39h0m0-39h0m0 3h0m1 22h0m1-25h0m4 6h0m0 1h0m2-5h0m0-6h0m3 13h0m1-3h0m4 14h0m1-24h0m-10 55h0m-2 36h0m0 7h0m0-31h0m-1 44h0m-3-34h0m-1 14h0m-19-12h0m-3 30h0m0-47h0m-2 7h0m-5 1h0m-6-5h0m-1-5h0m-4 39h0m-5-13h0m-1-23h0m0-3h0m-1 11h0m-4 25h0m-3-15h0m-3-14h0m-4-1h0m-1-7h0m-1 4h0m-1 48h0m-18-14h0m-11-8h0m-8 14h0m-5-38h0m0 26h0m-2-5h0m0 11h0m-1-42h0m-2 23h0m0 14h0m-10-29h0m-6 10h0m-2 8h0m-3-21h0m-1 24h0m0 11h0m-2-21h0m-1 25h0m-1-25h0m-2 8h0m-6 15h0m-1-24h0m-3 27h0m0 0h0m-8-39h0m-1 38h0m0 10h0m16 12h0m6 13h0m5 23h0m26-34h0m8 17h0m1-8h0m14-8h0m13 11h0m4 36h0m5-53h0m2-1h0m7 21h0m1-10h0m9 6h0m26 6h0m1-20h0m16 36h0m-4 70h0m-55-32h0m-2 8h0m-28-12h0m-5 10h0m-9-10h0m-4-5h0m-5 7h0m-3 32h0m-9-20h0m-6 7h0m-5-6h0m-2 9h0m-6-34h0m-2 49h0m-5-15h0m-13-31h0m8 87h0m145 6h0m3-9h0m16 19h0m-4 18h0m-11 0h0m-20 0h0m-63 0h0m-23 0h0m0 0h0m-2 0h0m-3 0h0" stroke="#c77dfb" stroke-width="9.5" stroke-linecap="round" fill="none"/>
<path d="M562.7 14.3L604.6 14.3" stroke="#444" stroke-width="0.8"/>
<text x="585" y="11.9" text-anchor="middle"><tspan font-style="italic">p</tspan> < 2.22e-16</text>
<path d="M605.1 19.8L648 19.8" stroke="#444" stroke-width="0.8"/>
<text x="626.9" y="17.4" text-anchor="middle"><tspan font-style="italic">p</tspan> = 0.014</text>
<path d="M562.3 30.3L647.5 30.3" stroke="#444" stroke-width="0.8"/>
<text x="605.5" y="27.9" text-anchor="middle"><tspan font-style="italic">p</tspan> < 2.22e-16</text>
<path d="M522 40.4L564 40.4" stroke="#444" stroke-width="0.8"/>
<text x="542.6" y="38" text-anchor="middle"><tspan font-style="italic">p</tspan> = 8.4e-07</text>
<path d="M522 51.3L606.8 51.3" stroke="#444" stroke-width="0.8"/>
<text x="563.3" y="48.9" text-anchor="middle"><tspan font-style="italic">p</tspan> < 2.22e-16</text>
<path d="M522 61.4L647.5 61.4" stroke="#444" stroke-width="0.8"/>
<text x="579.7" y="59" text-anchor="middle"><tspan font-style="italic">p</tspan> < 2.22e-16</text>
<circle cx="217.2" cy="209.4" r="1.5" fill="#f06c6c"/>
<circle cx="217.2" cy="218.5" r="1.5" fill="#5b9bf2"/>
<text x="221.1" y="211.4">Mesenchymal-hypoxia</text>
<text x="221.1" y="221.3">Proliferative</text>
<defs><clipPath id="tD"><path d="M215.2 225.9L283 227.6L284 230L285.5 229.5L293.8 228.9L298.3 234.8L302.4 251.6L303.4 269.3L302.4 285.1L298.3 293L287.9 298L274 302.9L254.3 306.5L234.6 308.8L218.3 308.2L214.6 299L213.8 279.2L213.4 249.6Z"/></clipPath><filter id="nz" x="0" y="0" width="1" height="1"><feTurbulence type="fractalNoise" baseFrequency="0.3" numOctaves="3" seed="4"/><feColorMatrix values="0 0 0 0 0.93  0 0 0 0 0.7  0 0 0 0 0.92  0 0 0 -2.2 1.25"/></filter><filter id="nz2" x="0" y="0" width="1" height="1"><feTurbulence type="fractalNoise" baseFrequency="0.5" numOctaves="2" seed="9"/><feColorMatrix values="0 0 0 0 0.45  0 0 0 0 0.1  0 0 0 0 0.5  0 0 0 2.4 -1.2"/></filter><filter id="bl1"><feGaussianBlur stdDeviation="0.8"/></filter><filter id="nz3" x="0" y="0" width="1" height="1"><feTurbulence type="fractalNoise" baseFrequency="0.6" numOctaves="2" seed="2"/><feColorMatrix values="0 0 0 0 0.72  0 0 0 0 0.35  0 0 0 0 0.66  0 0 0 2.6 -1.15"/></filter><radialGradient id="pg" cx="0.45" cy="0.45" r="0.65"><stop offset="0.35" stop-color="#a95fb7"/><stop offset="1" stop-color="#7a2e92"/></radialGradient></defs>
<g clip-path="url(#tD)">
<path d="M215.2 225.9L283 227.6L284 230L285.5 229.5L293.8 228.9L298.3 234.8L302.4 251.6L303.4 269.3L302.4 285.1L298.3 293L287.9 298L274 302.9L254.3 306.5L234.6 308.8L218.3 308.2L214.6 299L213.8 279.2L213.4 249.6Z" fill="url(#pg)"/>
<rect x="212" y="224" width="93" height="88" filter="url(#nz)" opacity="0.35"/>
<rect x="212" y="224" width="93" height="88" filter="url(#nz2)" opacity="0.5"/>
<path d="M232 249L240 247.5L248 250L253 254L254 262L252 268L251 275L256 276L262 281L270 288L276 294L272 297L262 292L254 289L251 295L249 303L240 304.5L231 303L229 296L226 290L223.5 282L223.5 272L226 264L229 256ZM218 252L222 251.6L226 254L225.8 259.5L221 260L217.9 257Z" fill="#e4b5d0" filter="url(#bl1)"/>
<clipPath id="lD"><path d="M232 249L240 247.5L248 250L253 254L254 262L252 268L251 275L256 276L262 281L270 288L276 294L272 297L262 292L254 289L251 295L249 303L240 304.5L231 303L229 296L226 290L223.5 282L223.5 272L226 264L229 256ZM218 252L222 251.6L226 254L225.8 259.5L221 260L217.9 257Z"/></clipPath>
<rect x="212" y="224" width="93" height="88" filter="url(#nz3)" clip-path="url(#lD)" opacity="0.55"/>
<path d="M289 230L293.5 229.5L296 234L295.5 241L292 243.5L289 238Z" fill="#ecd0de" filter="url(#bl1)"/>
<path transform="scale(.1)" d="M2392 2485h0m-29-1h0m-15 1h0m-10 4h0m-103 47h0m72-14h0m12 6h0m5-32h0m12 28h0m6 3h0m0-27h0m0 11h0m26-16h0m14 43h0m7-16h0m1 23h0m6-24h0m9 8h0m19 12h0m3-35h0m5 36h0m3 5h0m20-53h0m28 16h0m11 19h0m20 0h0m16 17h0m-6 49h0m-10 14h0m-16-7h0m-6-10h0m-21 10h0m-1-9h0m-7 6h0m-9-19h0m-3-18h0m-10 33h0m-14-17h0m0 30h0m-4-32h0m-5 21h0m-17-1h0m-27-31h0m-15 25h0m-10-19h0m-9 13h0m-1-30h0m-6 7h0m-2 43h0m-3-8h0m-5-45h0m-4 11h0m-8 8h0m-11 37h0m-6-24h0m-6 21h0m-3-22h0m-42-23h0m-6 30h0m-1-2h0m21 74h0m1 2h0m4-18h0m8-21h0m0 31h0m2-10h0m8 10h0m4-19h0m0 33h0m8 0h0m2-2h0m8-22h0m8 20h0m2 3h0m11-29h0m22-13h0m17 8h0m6 25h0m19-1h0m5-11h0m0-30h0m5 26h0m3 14h0m8-22h0m13 33h0m4-42h0m1 39h0m0-55h0m0 18h0m6-5h0m2 23h0m20-27h0m5 12h0m18 0h0m3-8h0m4 32h0m0-40h0m5 4h0m18 20h0m1-29h0m6 16h0m2 29h0m23-33h0m-34 99h0m0-27h0m-3 20h0m-11-4h0m-4-20h0m-19 1h0m-2-16h0m-9 12h0m-12-8h0m-2 40h0m-27-21h0m-5 28h0m-1-42h0m-21 37h0m-5-30h0m-1 37h0m-10-41h0m-5-15h0m-11 0h0m-7 46h0m-27-16h0m-4-20h0m-6 16h0m-1-1h0m-4 10h0m-22 21h0m-9-58h0m-11 33h0m-2-16h0m-11-10h0m-6 43h0m-8 39h0m0 10h0m1-12h0m3-18h0m0 10h0m14 18h0m8-9h0m2-10h0m1 6h0m8 22h0m5-10h0m3 14h0m3-34h0m10 42h0m13-10h0m2 11h0m6-5h0m11-27h0m4 11h0m25-17h0m34-3h0m15 42h0m2-39h0m5 29h0m0 2h0m3-23h0m5-26h0m10 19h0m32 8h0m7 8h0m22-13h0m2-18h0m2 53h0m10-49h0m25 39h0m19-15h0m15 13h0m69 63h0m-16-24h0m-34-8h0m-11 28h0m-4 4h0m0-3h0m-7-2h0m-10-31h0m-4 14h0m-6-9h0m-8-17h0m-9 41h0m-3-20h0m-12 13h0m0 15h0m-2-46h0m-8-3h0m-11 34h0m0-1h0m-8 23h0m-13-58h0m-9 39h0m-6-21h0m-1 36h0m0-37h0m-7 39h0m-7-14h0m-5 4h0m-2-8h0m-11-10h0m-5 13h0m-2-4h0m-3-10h0m-7 27h0m0 5h0m-16-5h0m-4-9h0m-12-46h0m-19 30h0m-11 5h0m-12-6h0m-3 11h0m-5-18h0m-7 5h0m-31 5h0m-13-12h0m-8 38h0m-4-19h0m-12 13h0m-5-17h0m25 64h0m15-32h0m9-2h0m2 16h0m11-2h0m7 5h0m2 18h0m3-5h0m1 0h0m13 12h0m2-19h0m8-8h0m14-13h0m2 24h0m3-5h0m6-15h0m26 17h0m2 3h0m16-20h0m15 33h0m2-30h0m2 20h0m2-34h0m5 45h0m4-43h0m6 21h0m3-23h0m3 18h0m3 5h0m3-17h0m3 19h0m2 33h0m12-34h0m5-12h0m4-12h0m8 38h0m3-2h0m12-30h0m3 39h0m7-19h0m0-26h0m7 57h0m26-33h0m25-21h0m11-1h0m2 39h0m3-12h0m4-29h0m2 14h0m8 4h0m13-6h0m8 35h0m22 5h0m20-11h0m3 1h0m20 14h0m6-15h0m21 57h0m-6 4h0m-1-31h0m0 5h0m-3 16h0m-1-3h0m-5-4h0m-5-26h0m-15 26h0m-12-20h0m-13-5h0m-12-1h0m-9 7h0m-4-2h0m-117-4h0m-6 22h0m-2 0h0m-20 13h0m-5-17h0m-1-7h0m-10-5h0m-24 38h0m-3-39h0m-5 18h0m-4 6h0m-10 15h0m-5-23h0m-2-2h0m-13 7h0m-31-8h0m-6 7h0m-4-8h0m-3 38h0m-15-44h0m-2 11h0m-4 2h0m-1-4h0m-4 20h0m-13 17h0m-10-30h0m-6 12h0m-19-8h0m-3-25h0m14 62h0m12-9h0m14 37h0m20 5h0m3-1h0m9-2h0m6-31h0m25 47h0m7-47h0m2 29h0m6-13h0m7 32h0m4-11h0m14-37h0m32 6h0m12 12h0m18 9h0m2-4h0m-40 31h0m-7 2h0m-1 3h0m-83-3h0" stroke="#c886c4" stroke-width="10" stroke-linecap="round" fill="none" opacity="0.75"/>
<path transform="scale(.1)" d="M2392 2485h0m-157 51h0m72-14h0m17-26h0m18 31h0m0-27h0m0 11h0m82 30h0m11 6h0m59-18h0m20 0h0m-155 61h0m-10-19h0m-21 25h0m-85-37h0m-6 30h0m-1-2h0m22 76h0m12-39h0m14 12h0m10 31h0m8-22h0m60-11h0m6 25h0m91-28h0m49-21h0m-3 111h0m-62-2h0m-33-35h0m-21 37h0m-21-49h0m-45 30h0m-70-25h0m-13 80h0m3-8h0m38 17h0m37 18h0m11-27h0m29-6h0m34-3h0m22 32h0m81-43h0m2 53h0m122 27h0m-34-8h0m-32-4h0m-63 21h0m-8 23h0m-29-4h0m-21-16h0m-18-1h0m-10 17h0m-51-25h0m-23-1h0m-15-2h0m-73 8h0m40 32h0m31 35h0m3-5h0m16-7h0m61 3h0m33-17h0m2 20h0m7 11h0m10-22h0m9 0h0m3-17h0m37 30h0m91-34h0m5 27h0m6-15h0m21-2h0m50 29h0m29 0h0m11 51h0m-1-3h0m-192-29h0m-80 29h0m-91-7h0m-5-2h0m-52 11h0m-3-25h0m78 61h0m25 47h0m7-47h0m33 0h0m32 6h0m-15 50h0" stroke="#a0509e" stroke-width="11" stroke-linecap="round" fill="none" opacity="0.8"/>
<path transform="scale(.1)" d="M2752 2298h0m102 0h0m21-1h0m40 37h0m-30 16h0m-2-34h0m-11 18h0m-9-18h0m-1 35h0m-8-17h0m-1 33h0m-111-49h0m-299 17h0m-82 0h0m-186 34h0m31 52h0m22 1h0m21 0h0m9-17h0m20-2h0m9 19h0m13-19h0m21 0h0m9 18h0m9-16h0m10 16h0m11-15h0m10 18h0m12-21h0m11 18h0m17 1h0m24 2h0m193-18h0m61-1h0m20-35h0m84 35h0m142-2h0m10 20h0m21-1h0m10 55h0m-11-20h0m-8-15h0m-1 35h0m-11-18h0m-8 16h0m-3-33h0m-10 15h0m-81-1h0m-255 19h0m-20 1h0m-13-16h0m-9 17h0m-9-18h0m-10 16h0m-10-18h0m-11 19h0m-11-18h0m-11 18h0m-10-19h0m-9-17h0m-2 36h0m-8-18h0m-9-18h0m-3 34h0m-10-16h0m-10 18h0m0-37h0m-12 20h0m-7 17h0m-3-37h0m-8 20h0m-10 17h0m-1-35h0m-8 19h0m-12 16h0m-2-35h0m-9 15h0m-9 19h0m-3-33h0m-6 17h0m-10-18h0m-1 33h0m-11-14h0m-10 15h0m-1-36h0m-12 21h0m-8 17h0m-1-38h0m-9 20h0m-12 16h0m0-36h0m-9 18h0m-8 19h0m-11-19h0m-10-17h0m-4 36h0m-8-20h0m-9-16h0m-1 34h0m-12-18h0m-8-15h0m-2 36h0m-7-17h0m-11-18h0m-1 32h0m-11 19h0m2 38h0m9-19h0m11 18h0m11-19h0m0 34h0m10-51h0m10 19h0m7-18h0m11 16h0m11-16h0m10 18h0m12-18h0m0 33h0m7-17h0m11 18h0m2-34h0m11 16h0m8-17h0m1 33h0m12-18h0m7-16h0m126-1h0m39 3h0m20-3h0m3 36h0m9-16h0m20-1h0m10 19h0m1-38h0m9 19h0m1 35h0m9-16h0m1-38h0m9 21h0m3 33h0m6-17h0m13 19h0m0-37h0m8-18h0m1 35h0m9 19h0m3-36h0m7 18h0m12 19h0m9-18h0m13 18h0m122 0h0m32-56h0m141 2h0m10 15h0m12 21h0m1-38h0m9 54h0m0-36h0m10-16h0m1 35h0m10-18h0m1 34h0m8-17h0m11 17h0m8 53h0m-8-16h0m-10 20h0m0-37h0m-10 17h0m-11 17h0m0-36h0m-9 19h0m-61 2h0m-248-1h0m-11 16h0m-9-16h0m-11-19h0m0 36h0m-11-18h0m-8 16h0m0-33h0m-13 16h0m-7 19h0m-3-34h0m-7 17h0m-11 17h0m-2-35h0m-8 19h0m-11-21h0m-2 35h0m-10-17h0m-10-16h0m-32 19h0m-132-21h0m-51 18h0m-9 20h0m-10-18h0m-21-1h0m-10-19h0m-1 36h0m-19 3h0m-20 0h0m-20-37h0m-3 36h0m-21 1h0m-9-20h0m-10 17h0m-1-36h0m-9 20h0m-10-20h0m-2 36h0m0 71h0m3-34h0m7-18h0m2 35h0m10-16h0m9 18h0m1-37h0m9 19h0m1 33h0m12-53h0m0 37h0m7 16h0m1-34h0m12 16h0m11-16h0m8 17h0m1-36h0m10 19h0m10-19h0m19 1h0m167-1h0m59 37h0m31-18h0m10 18h0m2-35h0m9 51h0m1-36h0m8-15h0m3 36h0m8-20h0m9 19h0m2-35h0m10 17h0m11 17h0m1-34h0m21 34h0m7-18h0m11 20h0m0-35h0m13 15h0m9 18h0m1-34h0m10 51h0m214-50h0m73 15h0m28-17h0m3 34h0m7-15h0m10-20h0m2 35h0m9-15h0m1 34h0m0 37h0m-12 15h0m0-33h0m-7-18h0m-2 34h0m-132-16h0m-21 1h0m-62-1h0m-83 33h0m-8-16h0m-12 16h0m-1-34h0m-8 16h0m-12-15h0m0 34h0m-7-54h0m-1 37h0m-10-20h0m-1 36h0m-11-16h0m0-37h0m-8 53h0m-1-33h0m-9 16h0m-3-33h0m-9 53h0m-2-37h0m-9-19h0m-1 35h0m-8 19h0m-2-34h0m-10-17h0m-1 35h0m-7 17h0m-2-35h0m-9 16h0m-10-17h0m-1 35h0m-11-16h0m0-36h0m-9 18h0m-1 36h0m-51-20h0m-184 2h0m-9 16h0m-33-53h0m-11 18h0m-7 18h0m-2-36h0m-9 52h0m-1-35h0m-10 17h0m-12 17h0m0-31h0m-9 14h0m-8-14h0m-2 32h0m-12-16h0m0-35h0m-7 15h0m-2 38h0m-9-19h0m8 53h0m11-18h0m2 38h0m10-20h0m10 17h0m1-35h0m9 21h0m8-18h0m2 34h0m19-1h0m1-37h0m64 38h0m19-34h0m30 15h0m11 17h0m39 1h0m22-35h0m22 2h0m82-2h0m21 0h0m17 1h0m13 16h0m8-17h0m13 19h0m9 16h0m1-34h0m10 15h0m8 21h0m2-38h0m10 20h0m10 17h0m1-37h0m7 18h0m14-15h0m0 32h0m8-16h0m9-16h0m1 32h0m20-32h0m2 32h0m7-16h0m13 18h0m1-34h0m7 17h0m14 15h0m19 3h0m165-2h0m90-18h0m11-18h0m-194 92h0m-33 14h0m-8-15h0m-9 16h0m0-35h0m-12 18h0m-10-17h0m-1 35h0m-9-19h0m-9 17h0m-2-33h0m-9-17h0m-2 33h0m-8-18h0m-2 38h0m-10-18h0m0-37h0m-11 53h0m-1-36h0m-7 19h0m-3-34h0m-7 50h0m-1-32h0m-9-19h0m-3 35h0m-8-20h0m-9 19h0m-1-34h0m-11 16h0m-11-15h0m-12 15h0m-9-16h0m-39-1h0m-23-1h0m-8 18h0m-23 2h0m-113 19h0m-17-36h0m-52 15h0m-21 0h0m-72 19h0m-1-34h0m-8 17h0m0 33h0m-10-53h0m-4 38h0m-7-20h0m-1 36h0m-9-52h0m-2 36h0m-10 18h0m-1-36h0m-8 18h0m-1-37h0m-9 52h0m-1-34h0m-9-17h0m-1 34h0m-11 20h0m21 36h0m10 16h0m1-34h0m9 16h0m12-19h0m1 37h0m9-19h0m9-16h0m1 34h0m11-18h0m9-19h0m1 37h0m11-18h0m10 19h0m256-19h0m31 18h0m19 2h0m121-1h0m3-35h0m8 18h0m11-17h0m11 16h0m11 19h0m1-36h0m9 16h0m9-18h0m0 35h0m11-14h0m10 16h0m1-36h0m10 16h0m10-16h0m0 34h0m11-17h0m8 20h0m2-36h0m10 16h0m8-17h0m2 35h0m11-15h0m9 17h0m62-38h0m29 54h0m-103 0h0m-17 38h0m-2-39h0m-12 19h0m-8-18h0m0 35h0m-10-18h0m-10 20h0m-1-37h0m-11 20h0m-9-19h0m0 34h0m-19 0h0m-4-36h0m-92 19h0m-7 19h0m-13-18h0m-8-20h0m-2 37h0m-11-17h0m-9 16h0m-1-33h0m-7 16h0m-12-17h0m-2 36h0m-8-17h0m-11-20h0m-11 20h0m-7 15h0m-3-33h0m-9 17h0m-12 17h0m-79 0h0m-165-34h0m0 33h0m-12-18h0m-10-18h0m-10 19h0m-9-16h0m0 33h0m-12-18h0m-10-16h0m-9 17h0m-10-17h0m52 52h0m7 18h0m12 18h0m1-35h0m9 54h0m2-38h0m8-14h0m1 32h0m9 18h0m0-35h0m13 20h0m59-1h0m21-37h0m73 55h0m20-37h0m9-18h0m10 56h0m11-21h0m9 17h0m3-35h0m10 21h0m0-38h0m8 54h0m3-37h0m7-15h0m3 36h0m7-20h0m3 35h0m8-18h0m2-33h0m7 54h0m3-37h0m10-18h0m1 36h0m8 17h0m2-36h0m8-16h0m0 36h0m10 17h0m2-37h0m11 18h0m0-37h0m10 56h0m0-36h0m7-17h0m2 34h0m8-18h0m1 37h0m10-53h0m1 34h0m9 19h0m0-35h0m10 15h0m3-36h0m8 18h0m2 39h0m9-57h0m0 38h0m11 17h0m1-36h0m7-17h0m4 37h0m10 16h0m0-37h0m9 18h0m1-36h0m17 3h0m3 36h0m21-35h0m20-2h0m-165 72h0m-20 0h0m-22-1h0m-19-2h0m-22 3h0m-11 18h0m-9-18h0m-11 18h0m-8-21h0m-12 21h0m-10-19h0m-12 17h0m-7-18h0m-10 20h0m-10-17h0m-11 16h0m-9-19h0m-14 18h0m-8-16h0m-12 15h0m-11 18h0m-8-18h0m-11 19h0m-1-33h0m-8 16h0m-9-19h0m-3 37h0m-11-20h0m-7 20h0m-21-1h0m-3-36h0m-9 17h0m-10-16h0m-1 34h0m-10-15h0m-8 15h0m-1-32h0m-11 16h0m-29 16h0" stroke="#f07472" stroke-width="25.5" stroke-linecap="round" fill="none"/>
<path transform="scale(.1)" d="M2205 2282h0m14 15h0m17 2h0m34-20h0m79 1h0m33 20h0m21 0h0m18-2h0m93-19h0m9 20h0m62-2h0m30-15h0m62-2h0m11 18h0m20-1h0m267 73h0m-71-53h0m-63 0h0m-18 33h0m-83 1h0m-31-19h0m-51 21h0m-20-35h0m-2 34h0m-7-20h0m-54-14h0m-1 33h0m-8 19h0m-10-19h0m-30 17h0m0-35h0m-22 35h0m-9-17h0m-12 18h0m-50-51h0m-1 32h0m-9 18h0m-40-34h0m-11-19h0m-73 19h0m-9 19h0m-20 0h0m-22-36h0m-1 34h0m-20 2h0m-9 17h0m-13-20h0m-20 2h0m-10-20h0m-30 56h0m20 36h0m40-39h0m239 19h0m9-16h0m1 35h0m8-19h0m11-16h0m12 15h0m8 19h0m12-16h0m20-1h0m49 18h0m11-17h0m13 17h0m18-2h0m84-35h0m29 19h0m9 19h0m13-53h0m52 16h0m9 19h0m12-17h0m29 17h0m91-20h0m21-1h0m12 20h0m29 54h0m-132 17h0m-105 2h0m-39-1h0m-63-2h0m-8-18h0m-34-18h0m-6 17h0m-54-16h0m-22 0h0m-19 0h0m-42 2h0m-183-3h0m-165 72h0m135-16h0m236 17h0m123-1h0m9-15h0m9 14h0m10 17h0m1-34h0m32 52h0m1-36h0m7 19h0m2-33h0m21 0h0m112 54h0m64-36h0m17-2h0m22-1h0m82 72h0m-133-17h0m-23 34h0m-17-34h0m-13 16h0m-19 2h0m-52 17h0m-29-18h0m-21 0h0m-31-19h0m-2 39h0m-20-37h0m-20 35h0m-82 70h0m29-16h0m106-36h0m10 17h0m9 18h0m11-19h0m18 1h0m11 18h0m102-34h0m2 35h0m19-36h0m2 37h0m110 53h0m-8 15h0m-122 0h0m-13-17h0m-31-17h0m-7 17h0m-33-19h0m-9 19h0m-9-18h0m-3 37h0m-17-37h0m-3 37h0m-8-18h0m-105-34h0m-472 68h0m2 35h0m596 0h0m40 0h0m10-17h0m10-16h0m12 18h0m28 16h0m9-16h0m51 18h0m21-35h0m41 32h0m11-15h0m41-2h0m-92 56h0m-53-19h0m-6 51h0m-13-16h0m-8-20h0m-12-14h0m-123 35h0m0-37h0m-471 36h0m-19-37h0m20 107h0m11-18h0m604-15h0m8 18h0m12 15h0m19 2h0m1-36h0m11 18h0m28-20h0m-27 90h0m-3-37h0m-20 36h0m-20-34h0m-20 37h0m-82-37h0m-248 35h0m-244-34h0m-22 33h0m0-36h0m-19 36h0m-23 2h0m-8-19h0m-10 19h0m-33 51h0m44-32h0m10 17h0m10 17h0m8 15h0m32-16h0m1-35h0m11 16h0m8-14h0m473 32h0m-433 36h0m-30 20h0m-28-19h0m-23 1h0m-10 15h0m-9 18h0m-9-15h0" stroke="#5f9cf5" stroke-width="22" stroke-linecap="round" fill="none"/>
</g>
<text x="358.9" y="209.5" font-style="italic">HNRNPH1</text>
<defs><linearGradient id="ge"><stop offset="0" stop-color="#fdf0ec"/><stop offset="1" stop-color="#ef2f1a"/></linearGradient></defs>
<rect x="403.3" y="204.2" width="25.6" height="5.3" fill="url(#ge)"/>
<text x="402.7" y="216.3" text-anchor="middle">0</text>
<text x="409.2" y="216.3" text-anchor="middle">1</text>
<text x="415.7" y="216.3" text-anchor="middle">2</text>
<text x="422.2" y="216.3" text-anchor="middle">3</text>
<text x="428.7" y="216.3" text-anchor="middle">4</text>
<path transform="scale(.1)" d="M4156 2303h0m135 16h0m-22 40h0m-235-22h0m-101 4h0m-32-19h0m-32 15h0m-29-18h0m-94 22h0m87 36h0m121 34h0m143-35h0m20-1h0m70 16h0m33 17h0m21-32h0m17 0h0m0 37h0m97-19h0m60 36h0m12 14h0m-62 0h0m-43 38h0m-21 1h0m-31-19h0m-337-19h0m-39 38h0m-114 16h0m139 0h0m114 20h0m204-5h0m36-16h0m10 52h0m8-51h0m59 33h0m0-30h0m65-5h0m-43 106h0m-18-31h0m-72 13h0m-33-15h0m-511-1h0m197 91h0m159-2h0m24 2h0m258-18h0m80 35h0m-349-3h0m-63 1h0m218 88h0m31 18h0m152 55h0m-102 0h0m-257-15h0m-449 33h0m69 16h0m29 17h0m4-33h0m387 34h0m218-19h0m7 22h0m-8 52h0m-23-33h0m-37 34h0m-136 15h0m-397 18h0m511-1h0m-13 58h0m-123 0h0m-61-3h0m-315 87h0" stroke="#f9cec3" stroke-width="20" stroke-linecap="round" fill="none"/>
<path transform="scale(.1)" d="M3648 2305h0m7-19h0m33 15h0m21 2h0m31-15h0m28 18h0m114-18h0m10 18h0m7-19h0m146-4h0m30 23h0m132-17h0m55 17h0m19-1h0m100 32h0m-8 17h0m-23-35h0m-8 19h0m-29-14h0m-9 12h0m-65 3h0m-37-1h0m-11 16h0m-3-30h0m-10 13h0m-11 18h0m-12-17h0m-7 17h0m-2-34h0m-58 37h0m-13-22h0m-28 22h0m-63-39h0m0 37h0m-83 1h0m-113-20h0m-20 1h0m-43 1h0m-10 15h0m-28-17h0m-13 17h0m-20-35h0m22 71h0m92-15h0m12 15h0m18 0h0m12-14h0m2 36h0m37-38h0m35 16h0m101 35h0m10-15h0m9 16h0m0-33h0m9-16h0m25-5h0m29 19h0m39 1h0m13 19h0m42-38h0m16 38h0m22-1h0m9-19h0m13-18h0m108 54h0m45-1h0m27 58h0m-117-39h0m-53 20h0m-42-2h0m-31 17h0m-80 0h0m-86-32h0m-1 34h0m-7-20h0m-12-15h0m-10 14h0m-50-17h0m-23-1h0m-21 36h0m-56 3h0m-12-21h0m-10 19h0m-13-14h0m-10 15h0m-47-51h0m-31 18h0m-15 17h0m61 36h0m159 16h0m183 1h0m155 18h0m131-18h0m19-2h0m20 2h0m32-16h0m23 33h0m-21 34h0m-30-18h0m-11 53h0m-19-35h0m-15 17h0m-7 17h0m-25-34h0m-7 17h0m-12 18h0m-18-33h0m-24 0h0m-9 15h0m-20 0h0m-31-18h0m-20 39h0m-10-54h0m-18 1h0m-25-2h0m-11 53h0m-66-54h0m-44 39h0m-21-35h0m-131 15h0m-40 0h0m-126 73h0m318 16h0m49-21h0m36-13h0m182 1h0m13 16h0m19-4h0m8-16h0m3 37h0m27-21h0m30-12h0m22 31h0m9-18h0m33-16h0m23 2h0m-4 69h0m-27-19h0m-32 22h0m-22-5h0m-7-15h0m-62-2h0m-3 37h0m-73-15h0m-17-5h0m-4 36h0m-20-36h0m-58 35h0m-208-30h0m-7-18h0m-227-1h0m120 72h0m236 16h0m44 2h0m10-19h0m121 1h0m24 32h0m18 0h0m9-17h0m45-32h0m7 17h0m35-19h0m7 49h0m9-48h0m2 31h0m69 21h0m13-20h0m0-32h0m-64 105h0m-16-3h0m-14-16h0m-9 19h0m-7-17h0m-78-19h0m-9 16h0m-18 3h0m-52-18h0m-20-3h0m-3 38h0m-18-36h0m-104 37h0m-40-4h0m-378-13h0m0 68h0m18 1h0m9-20h0m11 17h0m134 19h0m219-19h0m61-35h0m29 22h0m30 18h0m70-22h0m2 39h0m18-1h0m31-19h0m64-38h0m18 1h0m14 22h0m7 16h0m24-1h0m1-36h0m11 20h0m18 0h0m52 15h0m-84 71h0m-17-33h0m-1 37h0m-12-22h0m-11 18h0m-20-37h0m-2 37h0m-20-34h0m-16 37h0m-22-3h0m-20-33h0m-72 14h0m-14 23h0m-521-23h0m-8 21h0m131 15h0m317 21h0m30 18h0m87-38h0m37 38h0m33-22h0m-104 39h0m-23 32h0m-40 1h0m-49 19h0m-59 3h0m-12-22h0m-14-15h0m-5 16h0m-105 1h0m-61 2h0m-43-36h0m-93 49h0m21 36h0m22 5h0m19-1h0m83 0h0m82 0h0" stroke="#f7bcb1" stroke-width="20" stroke-linecap="round" fill="none"/>
<path transform="scale(.1)" d="M3667 2302h0m29-16h0m19-1h0m13 18h0m73-18h0m10 20h0m18-1h0m9-21h0m11 18h0m14-12h0m70 12h0m18 2h0m12-18h0m13 16h0m7-14h0m20-3h0m9 18h0m52-17h0m35 20h0m11-22h0m9 18h0m6-17h0m14 21h0m7-16h0m24-1h0m29 14h0m32-17h0m9 16h0m61 3h0m94 54h0m-41 1h0m-35-19h0m-30 19h0m-7-21h0m-24 0h0m-6 22h0m-3-38h0m-22 0h0m-113 19h0m-16-1h0m-33-17h0m-7 15h0m-15-18h0m-18 3h0m-10 16h0m-12 17h0m-12-18h0m-27-19h0m-42 41h0m-30-19h0m-11 17h0m-28-21h0m-31-17h0m-14 18h0m-8-15h0m-24-4h0m-37 2h0m-20-1h0m-21 0h0m-42 34h0m-13-14h0m5 70h0m5 17h0m2-38h0m13-17h0m11 57h0m17-1h0m3-34h0m6-19h0m2 34h0m29-15h0m23-1h0m1 34h0m29-16h0m7 17h0m24-37h0m21 35h0m31-18h0m1-36h0m10 58h0m7-17h0m4-37h0m11 17h0m18 1h0m38-4h0m15-15h0m9 16h0m79 36h0m20-34h0m24 35h0m28-18h0m9-16h0m16 18h0m7-17h0m12-19h0m17-2h0m35 20h0m16 35h0m3-38h0m18 35h0m4-34h0m8-20h0m8 54h0m5-34h0m7-19h0m11 19h0m22-1h0m19 36h0m20-37h0m24 0h0m-5 72h0m-51-18h0m-7 22h0m-71-18h0m-15 14h0m-29 19h0m-32-51h0m-6 49h0m-12-16h0m-8-15h0m-23 34h0m-19 0h0m-20-36h0m-42 33h0m-1-34h0m-18 34h0m-4-33h0m-7 18h0m-72 16h0m-24 3h0m-8-20h0m-75 19h0m-20-1h0m-50-50h0m-31 51h0m-79-38h0m-9 20h0m-15-16h0m3 68h0m6 20h0m35-18h0m81-2h0m31-18h0m100-1h0m157 20h0m27 16h0m3-35h0m11 17h0m47 22h0m6-41h0m26 21h0m42 1h0m44 32h0m8-13h0m20-5h0m9-15h0m32-18h0m1 36h0m59-1h0m4-38h0m39 37h0m21 72h0m-10-19h0m-2-34h0m-18 37h0m-9-19h0m-1 35h0m-23-34h0m-9-18h0m-3 32h0m-38 1h0m-11 22h0m-30-17h0m-11 13h0m-20 1h0m-30-53h0m-24 36h0m-21-35h0m-50 53h0m-11-19h0m-11-15h0m-5-20h0m-14 21h0m0 32h0m-39-2h0m-11-16h0m-18-33h0m-31 54h0m-34-58h0m-8 56h0m-134-53h0m-18-1h0m0 33h0m-12 23h0m-10-21h0m-12 21h0m-72-54h0m-1 31h0m-51-13h0m-11 84h0m44 4h0m72-18h0m80 0h0m11-19h0m141 38h0m113-23h0m22 3h0m12-16h0m8 16h0m14 20h0m79-40h0m9 19h0m10 21h0m2-40h0m11 20h0m30 20h0m1-36h0m29 14h0m9 17h0m23 5h0m2-40h0m17 35h0m12-12h0m40 0h0m10 14h0m22-2h0m-11 55h0m-38-32h0m-16 49h0m-40-35h0m-8-15h0m-3 34h0m-9-20h0m-51-14h0m-12 17h0m-25 15h0m-1-37h0m-43 38h0m-18-36h0m-3 38h0m-12-20h0m-8 16h0m-1-35h0m-12 53h0m-7-51h0m-2 36h0m-30-17h0m-11 18h0m-21 0h0m-8-18h0m-95 18h0m-35-35h0m-43 34h0m-30-18h0m-23 0h0m-131 21h0m-24-4h0m-47-15h0m46 88h0m26-38h0m61 36h0m19-35h0m104 35h0m17-37h0m1 37h0m12-17h0m18-34h0m24 37h0m56-3h0m32-17h0m12-17h0m9 49h0m29-15h0m11 17h0m45-34h0m27 20h0m9 12h0m12-17h0m14 20h0m16-33h0m13-18h0m32 13h0m8 20h0m2-33h0m11 15h0m18 35h0m22-35h0m0 37h0m8-21h0m32 22h0m3-36h0m6 14h0m11-13h0m29-17h0m4 33h0m11-20h0m17 37h0m-17 37h0m-34-18h0m-31 18h0m-8-21h0m-62 0h0m-103 37h0m-11-16h0m-22-3h0m-31 22h0m-8-23h0m-24 1h0m-9-14h0m-1 33h0m-39 2h0m-48-18h0m-76-19h0m-20 2h0m-59-3h0m-183 2h0m-23 0h0m-21 31h0m3 38h0m58 39h0m10-55h0m60 37h0m11 16h0m62-38h0m55-18h0m29 57h0m110-17h0m85-38h0m32 55h0m10-55h0m10 53h0m16 0h0m4-36h0m27 21h0m32-20h0m10-20h0m23-1h0m17 38h0m51 17h0m10-54h0m33 52h0m11-15h0m34-17h0m10 15h0m10 18h0m-56 57h0m-6-17h0m-82-3h0m-65 0h0m-10 17h0m-8-16h0m-11 17h0m-20-38h0m-20 4h0m-32 19h0m-32 14h0m-9-16h0m-131-17h0m-74 18h0m-102-4h0m-29 18h0m-30-13h0m-73-19h0m-14 14h0m-29-13h0m9 50h0m13 17h0m29-17h0m12 17h0m51 17h0m58 2h0m1-33h0m12 19h0m53-20h0m39 0h0m74 17h0m28 19h0m63-38h0m18 2h0m2 36h0m19-35h0m42-3h0m2 35h0m16 0h0m46-35h0m20 0h0m11 19h0m7 18h0m23-37h0m42 36h0m50-17h0m-104 38h0m-12 15h0m-122 37h0m-19-4h0m-4-35h0m-16 40h0m-1-37h0m-8-16h0m-74 54h0m0-36h0m-121-1h0m-10-19h0m-6 33h0m-8 17h0m-1-33h0m-19 2h0m-18 35h0m-13-53h0m-49 50h0m-53-18h0m-12 17h0m54 21h0m10 14h0m8-16h0m73 22h0m69-19h0m42-1h0m24-3h0m59 2h0" stroke="#f6ab9e" stroke-width="20" stroke-linecap="round" fill="none"/>
<path transform="scale(.1)" d="M3749 2306h0m38-3h0m207 0h0m32-14h0m7 15h0m22-1h0m123-1h0m156 18h0m-61 3h0m-40 35h0m-11-18h0m-86-3h0m-9-15h0m-60 33h0m-44-1h0m-18-31h0m-29 18h0m-14 18h0m-18-5h0m-65-35h0m-20 38h0m-1-38h0m-26 20h0m-53 19h0m-18-2h0m-52-15h0m-14 14h0m-17-33h0m-14 15h0m-17 37h0m69 16h0m12-14h0m1 36h0m11 13h0m31-12h0m49 13h0m90-16h0m24 3h0m0-39h0m9 56h0m23-4h0m9-16h0m40 3h0m8 14h0m13-16h0m9 14h0m29-52h0m1 39h0m11 18h0m39-40h0m4 36h0m10-52h0m10 55h0m162-2h0m30-51h0m4 33h0m37-36h0m3 35h0m50 57h0m-28-19h0m-26 35h0m-10-16h0m-5 14h0m-26 1h0m-16-34h0m-13 19h0m-53 14h0m-57 4h0m-3-40h0m-48 22h0m-13-17h0m-11 15h0m-12-17h0m-19 33h0m-22-32h0m-27 17h0m-32 14h0m-9-15h0m-51-17h0m-30-16h0m-103 31h0m-11-15h0m-22 1h0m-22 1h0m-15-3h0m-23 0h0m-23 39h0m-1-41h0m-51 54h0m62 2h0m5 35h0m41-36h0m29 20h0m39 1h0m53 16h0m82-38h0m42-1h0m18 0h0m24 35h0m15-32h0m46 33h0m16-1h0m5-33h0m8 16h0m29-13h0m19 35h0m14-17h0m10 13h0m72-18h0m30-16h0m31 16h0m29 22h0m3-35h0m40 33h0m38 36h0m-31-18h0m-62 2h0m-38 1h0m-9 13h0m-64 39h0m-22 0h0m-17 0h0m-42 1h0m-2-40h0m-8 17h0m-12-17h0m-50-16h0m-10 19h0m-1 36h0m-10-21h0m-8-16h0m-40-2h0m-44-1h0m-1 41h0m-139-39h0m-196 18h0m1 39h0m244 34h0m52-18h0m62 0h0m70-21h0m12 19h0m30-20h0m43 5h0m10 18h0m16-1h0m32 16h0m3-33h0m201 34h0m33-16h0m-32 87h0m0-38h0m-7 19h0m-26 2h0m-17 1h0m-40-35h0m-4 31h0m-10-14h0m-21 0h0m-28 19h0m-9-20h0m-29 14h0m-97-16h0m-8 21h0m-14 13h0m-17-35h0m-3 36h0m-27-17h0m0-35h0m-75 17h0m-9-14h0m-68 48h0m-33-16h0m-84-36h0m-124 39h0m-17-35h0m21 101h0m27-12h0m107-36h0m170 53h0m13-54h0m70 52h0m13-16h0m6-18h0m21 32h0m23-31h0m11 17h0m10 16h0m11-17h0m21-35h0m9 49h0m48-48h0m44 0h0m60 33h0m80 3h0m12 17h0m41-35h0m-134 50h0m-22 35h0m-26-16h0m-35-21h0m-27 20h0m-31 15h0m-32-17h0m-31-17h0m-2 38h0m-26-20h0m-10-18h0m-26 0h0m-5 20h0m-86-1h0m-6 17h0m-125 3h0m-64-3h0m33 20h0m52 54h0m18-3h0m64-35h0m10-15h0m135 15h0m10 19h0m36-39h0m63 3h0m19-2h0m36 53h0m17 3h0m13-19h0m7-19h0m3 40h0m30-21h0m84-34h0m20 37h0m31-20h0m-34 51h0m-22 3h0m-30 15h0m-29-16h0m-44 38h0m-80-40h0m-8 19h0m-12 19h0m-81-36h0m-70 18h0m-25 0h0m-57-33h0m-209 30h0m-7-18h0m-24 36h0m-11-16h0m-67-16h0m-10 89h0m29-20h0m11 21h0m272 13h0m67-35h0m27-15h0m51 16h0m3 34h0m17-30h0m15-22h0m7 18h0m22 4h0m12-19h0m5 13h0m11 21h0m9 16h0m4-33h0m20 0h0m69-21h0m5 37h0m21-33h0m26 17h0m32-17h0m-140 70h0m-15-17h0m-7 15h0m-52 21h0m-10-18h0m-11-20h0m-23 37h0m-41 1h0m-8-20h0m-8 16h0m-15-17h0m-26 18h0m-22-2h0m-9-13h0m-72-21h0m-23 37h0m-39-34h0m-84 37h0m-17-2h0m-15 19h0m-7-54h0m-2 32h0m-70-13h0m-10-18h0m216 86h0m69-19h0" stroke="#f4998c" stroke-width="20" stroke-linecap="round" fill="none"/>
<path transform="scale(.1)" d="M3779 2285h0m39 0h0m54 16h0m215-15h0m-143 33h0m-23 4h0m-181 34h0m-71 53h0m77 2h0m3-37h0m80 32h0m20 4h0m14 18h0m193-20h0m113 17h0m257 56h0m-217-21h0m-267 1h0m-58 2h0m-22-3h0m-24 5h0m-119-4h0m-53 16h0m-20 2h0m-2 70h0m174-17h0m122-34h0m14 17h0m113 19h0m37-36h0m55 18h0m7 15h0m82 3h0m94 15h0m85-31h0m9 85h0m-214-52h0m-46 37h0m-82 0h0m-181 1h0m70 49h0m154 20h0m61-38h0m2 37h0m142-38h0m80 1h0m-193 54h0m-31 53h0m-41-36h0m-70-13h0m-32 13h0m-30-15h0m-269 34h0m-80 36h0m95-15h0m222 32h0m195-16h0m52 15h0m82 1h0m94 19h0m18-38h0m41 75h0m-38-2h0m-15 20h0m-5-19h0m-83-3h0m-95 20h0m-1-36h0m-591 106h0m150-53h0m145 37h0m113-19h0m51-14h0m81-3h0m52 17h0m70-20h0m31 56h0m42 3h0m13 15h0m-122-2h0m-85 37h0m-53-18h0m-89-20h0m-61 40h0m-81-40h0m-149 36h0m-88 58h0m296-21h0m41 3h0m70 14h0m146 0h0m74-14h0m20-1h0m29-17h0m59 1h0m-366 105h0m-194-55h0m-51 20h0m-64 34h0m60 37h0m276-21h0" stroke="#f28879" stroke-width="20" stroke-linecap="round" fill="none"/>
<path transform="scale(.1)" d="M3945 2287h0m-125 70h0m-133 55h0m257-19h0m-111 52h0m-144 34h0m210 88h0m-128 57h0m407 250h0m20 67h0m-12 92h0m-479 14h0" stroke="#f17766" stroke-width="20" stroke-linecap="round" fill="none"/>
<path transform="scale(.1)" d="M3921 2284h0m372 181h0m-73-20h0m43 71h0m-84 104h0m-224 144h0m303 73h0m23 178h0m-146 35h0m-294 55h0" stroke="#ef6554" stroke-width="20" stroke-linecap="round" fill="none"/>
<path transform="scale(.1)" d="M4330 2357h0m-224-37h0m-39 144h0m-22 32h0m360 93h0m-331-34h0m-162 211h0m296-20h0m-42 143h0m45 3h0m232 15h0" stroke="#ee5441" stroke-width="20" stroke-linecap="round" fill="none"/>
<path d="M365 313.2Q400 312 430 305" stroke="#f0a0e8" stroke-width="0.6" fill="none" opacity="0.7"/>
<path d="M556.5 201.02C556.63 202.81 557 207.69 557.26 211.73C557.51 215.78 557.72 219.59 558.01 225.3C558.31 231.01 558.64 239.22 559.02 246C559.4 252.79 559.86 260.52 560.28 266C560.7 271.47 561.08 275.46 561.54 278.85C562 282.24 562.38 284.46 563.05 286.34C563.72 288.23 564.77 289.77 565.57 290.13C566.37 290.49 567.04 289.77 567.84 288.49C568.64 287.2 569.23 285.21 570.36 282.42C571.49 279.62 573.17 274.56 574.64 271.71C576.11 268.85 577.58 266.95 579.18 265.28C580.78 263.62 582.75 262.43 584.22 261.71C585.69 261 586.53 260.88 588 261C589.47 261.12 591.15 261.36 593.04 262.43C594.93 263.5 597.45 265.76 599.34 267.42C601.23 269.09 602.7 270.64 604.38 272.42C606.06 274.21 607.74 276.35 609.42 278.13C611.1 279.92 612.78 281.64 614.46 283.13C616.14 284.62 617.82 285.99 619.5 287.06C621.18 288.13 622.86 288.9 624.54 289.56C626.22 290.21 628.11 290.63 629.58 290.99C631.05 291.34 632.73 291.58 633.36 291.7L633.36 291.7L556.5 291.7Z" fill="#F8766D" fill-opacity="0.82" stroke="#2a2a2a" stroke-width="0.65"/>
<path d="M556.5 257.78C556.71 258.56 557.34 260.46 557.76 262.43C558.18 264.39 558.6 267.07 559.02 269.57C559.44 272.06 559.86 275.1 560.28 277.42C560.7 279.74 561.04 281.7 561.54 283.49C562.04 285.27 562.76 287.09 563.3 288.13C563.85 289.17 564.19 289.52 564.82 289.7C565.45 289.88 566.16 289.76 567.08 289.2C568.01 288.64 569.18 287.71 570.36 286.34C571.54 284.98 572.67 283.43 574.14 280.99C575.61 278.55 577.5 274.68 579.18 271.71C580.86 268.73 582.54 265.88 584.22 263.14C585.9 260.4 587.79 257.25 589.26 255.29C590.73 253.32 591.91 252.19 593.04 251.36C594.17 250.53 595.01 250.31 596.06 250.29C597.11 250.26 597.95 250.38 599.34 251.22C600.73 252.05 602.7 253.54 604.38 255.29C606.06 257.04 607.74 259.45 609.42 261.71C611.1 263.97 612.78 266.53 614.46 268.85C616.14 271.17 617.82 273.55 619.5 275.63C621.18 277.72 622.86 279.68 624.54 281.35C626.22 283.01 627.9 284.38 629.58 285.63C631.26 286.88 632.94 287.98 634.62 288.84C636.3 289.71 638.32 290.37 639.66 290.84C641 291.32 642.18 291.56 642.68 291.7L642.68 291.7L556.5 291.7Z" fill="#00BFC4" fill-opacity="0.6" stroke="#2a2a2a" stroke-width="0.65"/>
<path d="M552.3 194.3L552.3 296.4" stroke="#333" stroke-width="0.9"/>
<path d="M551.9 295.9L646.8 295.9" stroke="#333" stroke-width="0.9"/>
<path d="M550.1 291.7L552.3 291.7" stroke="#333" stroke-width="0.9"/>
<text x="549.3" y="294.4" text-anchor="end">0.0</text>
<path d="M550.1 256L552.3 256" stroke="#333" stroke-width="0.9"/>
<text x="549.3" y="258.7" text-anchor="end">0.5</text>
<path d="M550.1 220.3L552.3 220.3" stroke="#333" stroke-width="0.9"/>
<text x="549.3" y="223" text-anchor="end">1.0</text>
<path d="M556.5 295.9L556.5 298.1" stroke="#333" stroke-width="0.9"/>
<text x="556.5" y="305" text-anchor="middle">0</text>
<path d="M581.7 295.9L581.7 298.1" stroke="#333" stroke-width="0.9"/>
<text x="581.7" y="305" text-anchor="middle">1</text>
<path d="M606.9 295.9L606.9 298.1" stroke="#333" stroke-width="0.9"/>
<text x="606.9" y="305" text-anchor="middle">2</text>
<path d="M632.1 295.9L632.1 298.1" stroke="#333" stroke-width="0.9"/>
<text x="632.1" y="305" text-anchor="middle">3</text>
<text x="594.5" y="314.6" text-anchor="middle" font-style="italic">HNRNPH1</text>
<text x="594.5" y="323.6" text-anchor="middle">normalized expression</text>
<text x="531.8" y="246" text-anchor="middle" transform="rotate(-90 531.8 246)">Density</text>
<rect x="599.4" y="196.1" width="5.6" height="6.6" fill="#F8766D" fill-opacity="0.82" stroke="#333" stroke-width="0.4"/>
<rect x="599.4" y="205.9" width="5.6" height="6.6" fill="#00BFC4" fill-opacity="0.6" stroke="#333" stroke-width="0.4"/>
<text x="606.6" y="202">Mesenchymal-hypoxia</text>
<text x="606.6" y="211.8">Proliferative</text>
<defs><g id="mH"><path transform="scale(.1)" d="M495 3831h0m0 29h0m17 0h0m9 15h0m-138 120h0m0 59h0m9 15h0m51 30h0m35 30h0m0 89h0m17 0h0m-60 15h0m34 89h0m17 0h0m250 15h0m-301 15h0m-207 30h0m-26 44h0" stroke="#000000" stroke-width="23.5" stroke-linecap="round" fill="none"/><path transform="scale(.1)" d="M503 3846h0m-146 163h0m0 209h0m370 45h0" stroke="#0c0100" stroke-width="23.5" stroke-linecap="round" fill="none"/><path transform="scale(.1)" d="M512 3831h0m17 29h0m9-14h0m-189 178h0m-9 15h0m-17 0h0m77 15h0m359 81h0m-290-21h0m-17 0h0m-86 29h0m-259 74h0m669-21h0m14 16h0m-46 51h0m-258-30h0m-206 0h0m223 59h0m-318 75h0m60 74h0m627-25h0m24 46h0m-12 38h0" stroke="#180301" stroke-width="23.5" stroke-linecap="round" fill="none"/><path transform="scale(.1)" d="M486 3846h0m35 0h0m17 29h0m-26 15h0m43 134h0m-189-29h0m-17 59h0m25 15h0m9 15h0m77 15h0m0 30h0m-154 29h0m309 120h0m-155-30h0m-51 30h0m-9-45h0m-60 15h0m-17 59h0m129-15h0m0 30h0m8-15h0m0 30h0m43-15h0m9-15h0m-267 45h0m-68 30h0m86 59h0" stroke="#250502" stroke-width="23.5" stroke-linecap="round" fill="none"/><path transform="scale(.1)" d="M598 3801h0m-69 0h0m-26 15h0m18 0h0m86 0h0m-104 59h0m-17 30h0m-34 60h0m-35 30h0m-8 44h0m-17 0h0m-18-30h0m-34 0h0m0 60h0m95-15h0m94 75h0m-8-15h0m-69 29h0m-26-14h0m-9 14h0m-129 75h0m78-45h0m129 75h0m-215 15h0m163 74h0m26-45h0m9 15h0m240 30h0m121 30h0m-155 30h0m-198-15h0m-266-15h0m-18 30h0m-17 0h0m35 29h0m610 75h0m-602-30h0" stroke="#310703" stroke-width="23.5" stroke-linecap="round" fill="none"/><path transform="scale(.1)" d="M478 3860h0m68 0h0m78-14h0m8 14h0m18 30h0m-129 15h0m0 30h0m34 60h0m-103 29h0m-26 15h0m-43-15h0m-9 15h0m-8-15h0m-9 15h0m-8 45h0m17-30h0m26 45h0m8-15h0m17-30h0m121 60h0m-17 29h0m-35-29h0m-51 29h0m-95 15h0m-138 0h0m18 60h0m223 0h0m17 0h0m241 60h0m-223-30h0m0 30h0m-9-45h0m-17 30h0m-9-15h0m-8 15h0m-9 15h0m-138-30h0m-111 74h0m318-15h0m17 30h0m17 0h0m164-15h0m68-30h0m43 105h0m-103-30h0m-232 15h0m-17-30h0m-26 45h0m-129-15h0m-60 15h0m-43-45h0m-26 15h0m43 74h0m17-29h0m0 29h0m17-29h0m9 14h0m0 30h0m17-30h0m267-14h0m-103 89h0" stroke="#3d0803" stroke-width="23.5" stroke-linecap="round" fill="none"/><path transform="scale(.1)" d="M546 3801h0m-77 45h0m86-30h0m43 44h0m52 60h0m-9-45h0m-86 30h0m-9-15h0m-60-15h0m-26 15h0m-25 105h0m0 29h0m-18 0h0m-25-15h0m-69 0h0m0 60h0m34 0h0m17 30h0m35-30h0m17 0h0m120 60h0m-34 0h0m-9-15h0m-60 15h0m-8-15h0m-52 0h0m0 29h0m-9-14h0m0 29h0m-120 0h0m-17 30h0m8-15h0m78 45h0m352-45h0m-206 90h0m-17-30h0m-129 15h0m-9-15h0m-129 45h0m9 44h0m249-15h0m43-15h0m215 15h0m0 30h0m-206 60h0m-17 0h0m-18-30h0m-43 15h0m-25 15h0m-104 0h0m-8-45h0m-26 45h0m-60-15h0m-17-30h0m8 74h0m17 30h0m18 0h0m51 0h0m164-44h0m17 0h0m43 14h0m129 15h0m-17 30h0m-198 15h0m0 30h0" stroke="#4a0a04" stroke-width="23.5" stroke-linecap="round" fill="none"/><path transform="scale(.1)" d="M581 3801h0m-52 30h0m26 15h0m60-15h0m26-15h0m9 15h0m-26 44h0m-52 0h0m-43 15h0m0 30h0m-51-30h0m-35 119h0m-17 0h0m-17 0h0m-9-14h0m-51 0h0m-18 0h0m26 104h0m9-15h0m51 0h0m35 0h0m26-15h0m0 30h0m17 30h0m-9 14h0m-69-29h0m-8 15h0m-9-15h0m-34 0h0m-17 0h0m-129 44h0m-35 0h0m26 45h0m9-15h0m8-15h0m69 0h0m9 45h0m17-30h0m17 30h0m112-15h0m26-15h0m8 15h0m9-15h0m223 90h0m-206 0h0m-9-15h0m-8 15h0m-35 0h0m-17 0h0m-26-45h0m-25 15h0m-9-15h0m-138 30h0m-94 74h0m34 0h0m60-45h0m9 15h0m9-15h0m17 0h0m8 45h0m69-30h0m0 30h0m78-45h0m43 45h0m43-15h0m189-30h0m17 30h0m9-15h0m8-15h0m17 30h0m9-15h0m-26 45h0m-17 0h0m-17 30h0m-164 15h0m-17-30h0m-17 30h0m-9-45h0m0 30h0m-8-15h0m-60 15h0m-9-15h0m-120 30h0m-9-45h0m-34 30h0m-43 15h0m-9-45h0m-9 15h0m-8 45h0m0 29h0m43-15h0m180-14h0m190 29h0m-207 30h0m-34 0h0m34 60h0" stroke="#560c05" stroke-width="23.5" stroke-linecap="round" fill="none"/><path transform="scale(.1)" d="M632 3801h0m-17 0h0m-51 0h0m-26 15h0m34 30h0m17-30h0m35 0h0m8 15h0m9 15h0m9 14h0m60-44h0m17 59h0m-69 30h0m-51-30h0m0 30h0m-18 0h0m-8-15h0m-26-15h0m-17 30h0m-26 15h0m-17 0h0m-26-45h0m0 30h0m-34 0h0m-69 30h0m26 45h0m17 0h0m284-45h0m-293 89h0m-86-29h0m0 29h0m-120 60h0m137 0h0m95 15h0m232-15h0m-155 59h0m-34 0h0m-112-14h0m0 29h0m-180 45h0m60 15h0m112-45h0m8 15h0m9 15h0m8 15h0m35 0h0m17 0h0m43-15h0m284 75h0m-9-45h0m-223 30h0m-18-30h0m-17 30h0m-60-15h0m-17 0h0m-26 15h0m-9-15h0m0 30h0m-25-45h0m-18 0h0m-68 0h0m0 30h0m-9 15h0m-9-45h0m-43 45h0m0 59h0m9-45h0m17 0h0m60 15h0m9 15h0m9 15h0m120 0h0m69 0h0m43-15h0m172 0h0m17-30h0m26 45h0m8 15h0m-68 30h0m-147-15h0m-17 30h0m-17-30h0m-34 0h0m-35 30h0m-137-30h0m-18 0h0m-8 15h0m-112 15h0m9 15h0m34 0h0m26 44h0m26-44h0m146 14h0m8 15h0m9-15h0m9 15h0m34-29h0m34 0h0m18 0h0m292 0h0m60 14h0m-585 60h0m-43-15h0" stroke="#620e06" stroke-width="23.5" stroke-linecap="round" fill="none"/><path transform="scale(.1)" d="M546 3831h0m18 0h0m0 29h0m17-29h0m0 29h0m26-14h0m8 14h0m52-29h0m-35 59h0m-8 15h0m-35-30h0m-17 30h0m-77-15h0m-35 30h0m-146 45h0m26 15h0m95-15h0m223 0h0m-120 59h0m-95 15h0m-112-15h0m-8 75h0m8-45h0m104 30h0m17-30h0m43 45h0m17 0h0m60 15h0m-8 15h0m-9-15h0m0 29h0m-17 0h0m-26 15h0m-52 0h0m-51 0h0m-9-15h0m-8-14h0m-155 29h0m-69 0h0m-26 45h0m9-15h0m77 15h0m17 0h0m9-15h0m60 15h0m17 0h0m18 0h0m25-15h0m129-15h0m95 45h0m138 60h0m-224-30h0m-95 15h0m-51 0h0m-17 0h0m-35 0h0m-8 15h0m-9-45h0m0 30h0m-26-15h0m0 30h0m-94-45h0m-35 59h0m9 15h0m8-15h0m69 30h0m9-15h0m0 30h0m17 0h0m17-30h0m9 15h0m34 0h0m207-30h0m163 15h0m0 30h0m34-30h0m78 15h0m26 75h0m-86-30h0m-18 30h0m-17 0h0m-34-30h0m0 30h0m-60-15h0m-69-30h0m0 30h0m-17-30h0m-52 0h0m-52 0h0m-77 15h0m-95 15h0m-8-15h0m-9-15h0m-17 30h0m69 30h0m0 29h0m8-15h0m18 0h0m68 0h0m18 0h0m86 0h0m8-14h0m129 44h0m181-44h0m8 14h0m9 15h0m-17 30h0m-17 0h0m-233 45h0m-111-45h0m-18 0h0m-154 0h0m-9 15h0m-17 0h0" stroke="#6f1007" stroke-width="23.5" stroke-linecap="round" fill="none"/><path transform="scale(.1)" d="M572 3816h0m17 30h0m78 74h0m-9-45h0m-17 30h0m-26-15h0m-17 0h0m-34 0h0m0 30h0m-61-15h0m-60 15h0m-94 15h0m8 45h0m17 0h0m43-15h0m86-30h0m26 74h0m-275 30h0m-52-30h0m18 90h0m51 0h0m69 0h0m69 0h0m94-15h0m26 15h0m17 0h0m61-15h0m17 0h0m8 15h0m-25 44h0m-9-14h0m-69 29h0m-103 0h0m-77-15h0m-78 15h0m-120 0h0m-17 60h0m17 0h0m8-15h0m9-15h0m0 30h0m26-45h0m0 30h0m8 15h0m52 0h0m9-15h0m17-30h0m0 30h0m8-15h0m9 15h0m9-15h0m77-15h0m0 30h0m34 0h0m35-30h0m8 15h0m9-15h0m120 0h0m147 75h0m-26 15h0m-69 0h0m-241 0h0m-8 15h0m-26-45h0m-60 15h0m-147-15h0m0 30h0m-17-30h0m0 30h0m17 59h0m18-30h0m8 15h0m9-15h0m51 30h0m26 15h0m35-30h0m60 15h0m69 0h0m103-30h0m206 30h0m9-15h0m26 15h0m34 60h0m-26 15h0m-43-15h0m-51-30h0m-18 30h0m-17-30h0m0 30h0m-8 15h0m-18 0h0m-8-15h0m-60-15h0m-43 15h0m-61 15h0m-17-30h0m-34 0h0m0 30h0m-35 0h0m-60-15h0m-43-15h0m-8-15h0m-104 0h0m138 60h0m17 29h0m78 15h0m8-44h0m9 44h0m198-44h0m25 44h0m18-30h0m8 15h0m112 15h0m69 0h0m17 30h0m-430 0h0m-9 15h0m-172 0h0m155 60h0" stroke="#7b1107" stroke-width="23.5" stroke-linecap="round" fill="none"/><path transform="scale(.1)" d="M650 3801h0m-190 59h0m138-29h0m34 89h0m-86 0h0m-94-15h0m-86 60h0m34 0h0m26 15h0m17-30h0m9-15h0m60 15h0m95-15h0m51 0h0m17 0h0m-111 74h0m-43-14h0m-69 0h0m-232 14h0m-18 60h0m35 0h0m8-15h0m18 0h0m17 30h0m180-15h0m9 15h0m26-15h0m26 15h0m43-15h0m17 30h0m34 0h0m52 0h0m26-45h0m-112 75h0m-86 29h0m-103 0h0m-78-15h0m-26 15h0m-111-15h0m8 45h0m0 30h0m17-30h0m9-15h0m120 0h0m61 45h0m8-15h0m26-15h0m103 0h0m9-15h0m34 30h0m9 15h0m8-15h0m129 45h0m-34 30h0m-163-45h0m-164 15h0m0 30h0m-17 0h0m-52 0h0m-34-30h0m-17 30h0m-43-45h0m-17 30h0m-9 15h0m-17-30h0m0 30h0m17 29h0m0 30h0m34-30h0m9 15h0m9-15h0m0 30h0m43-15h0m34-30h0m17 0h0m17 30h0m43 15h0m9-45h0m43 15h0m120 30h0m121 0h0m8-15h0m18-30h0m86 90h0m-9-15h0m-17 0h0m-17 30h0m-18-30h0m-8-15h0m-26 15h0m-34 0h0m-18 0h0m-8-15h0m-43 15h0m-9 15h0m-172 0h0m-17 0h0m-69-30h0m-43 45h0m17 59h0m9-15h0m86-29h0m43 44h0m17-30h0m17 0h0m129-14h0m52 0h0m17 0h0m17 0h0m0 29h0m18-29h0m17 0h0m34 0h0m9 14h0m26-14h0m8 44h0m35 0h0m8 15h0m-206 0h0m-241 0h0m-120 30h0m60 45h0m34 0h0m17 0h0m18 0h0m172 0h0m17 0h0m8-15h0m0 30h0" stroke="#871308" stroke-width="23.5" stroke-linecap="round" fill="none"/><path transform="scale(.1)" d="M667 3801h0m-241 119h0m-17 0h0m-172 60h0m163-45h0m9 15h0m51 0h0m35 0h0m34 0h0m95-15h0m8 15h0m9-15h0m69 30h0m8-15h0m-51 59h0m-26 15h0m-95-15h0m-326 60h0m94-15h0m0 30h0m172 0h0m112 15h0m43-15h0m77 74h0m-8-15h0m-78-14h0m0 29h0m-8-44h0m-9 44h0m-137 0h0m-35 0h0m-284-15h0m104 30h0m8 15h0m43-15h0m26 15h0m95 15h0m51-30h0m43 45h0m17-30h0m18 30h0m34-30h0m9-15h0m103 0h0m17 30h0m-17 30h0m-43 15h0m-9 15h0m-26 15h0m-51-30h0m-9 15h0m-241 0h0m-8 15h0m-86-30h0m-9-15h0m0 30h0m-26-15h0m121 89h0m26-45h0m34 30h0m17-30h0m0 30h0m9-15h0m0 30h0m8-45h0m112 15h0m60-15h0m18 0h0m8 15h0m155 30h0m17-30h0m43 75h0m-43-15h0m-26 15h0m-120-30h0m-26 15h0m-8-15h0m-9 15h0m-112-15h0m-34 30h0m-52-30h0m-8 15h0m-69 59h0m51 30h0m9-15h0m17 0h0m43 15h0m69-30h0m34 0h0m78-14h0m17 29h0m9 15h0m17-30h0m34 30h0m95-15h0m8 15h0m26-15h0m26 15h0m9-44h0m-18 59h0m-197 15h0m-52 30h0m-198-15h0m-103-30h0m-17 0h0m51 60h0m52 30h0m146 14h0m9-14h0m60-15h0m17 29h0m-26 15h0" stroke="#941509" stroke-width="23.5" stroke-linecap="round" fill="none"/><path transform="scale(.1)" d="M658 3816h0m17 30h0m18-30h0m25 44h0m9-14h0m-9 74h0m-51-30h0m-52 30h0m-137 0h0m-172 60h0m8-45h0m9 15h0m8-15h0m0 30h0m26-15h0m26 15h0m34-30h0m18 0h0m43 15h0m77-15h0m60 15h0m0 30h0m17 0h0m18 0h0m43-15h0m8-15h0m-103 59h0m-26-14h0m0 29h0m-266-15h0m0 30h0m-43-15h0m-18-29h0m0 29h0m-8 15h0m-26-15h0m-17 0h0m17 60h0m17-30h0m0 30h0m215-15h0m69 0h0m52 30h0m34-30h0m52 30h0m34 0h0m9-15h0m8 15h0m0 59h0m-8-44h0m-9 44h0m-26-44h0m-43 15h0m-26 14h0m-249-14h0m-146 14h0m-35 30h0m18 0h0m94 45h0m121-30h0m17 0h0m26-15h0m8 15h0m60 15h0m18-30h0m51 0h0m86 0h0m43 15h0m0 60h0m-8 15h0m-18-30h0m0 30h0m-25 15h0m-43-45h0m-9 45h0m-52-30h0m-17 0h0m0 30h0m-309-30h0m-9-15h0m-43 15h0m172 59h0m26-15h0m26 45h0m25-15h0m233 15h0m197 45h0m-8 15h0m-35-30h0m-8 15h0m-17-30h0m-52 30h0m-86 0h0m-52 0h0m-34-30h0m-189 0h0m0 30h0m-43 15h0m-69-30h0m52 89h0m25-15h0m26 15h0m95-15h0m69 0h0m68 0h0m9 15h0m103-30h0m17 30h0m9-44h0m0 29h0m34-29h0m18 29h0m43-15h0m8-14h0m26 14h0m-17 60h0m-60 15h0m-9 15h0m-43-45h0m-86 0h0m-43 15h0m-9 15h0m-34 0h0m-60 15h0m-26-15h0m-9-15h0m0 30h0m-34 0h0m-52-30h0m-43-15h0m-25 15h0m-35 0h0m78 45h0m68 30h0m18-30h0m8 15h0m129-15h0m138 30h0m-103 29h0" stroke="#a0170a" stroke-width="23.5" stroke-linecap="round" fill="none"/><path transform="scale(.1)" d="M658 3846h0m9 14h0m17 60h0m-9-15h0m-94 15h0m-293 30h0m0 30h0m35 0h0m17-30h0m86 0h0m17 30h0m60-15h0m61 15h0m34 0h0m26-15h0m17 0h0m9-15h0m17 0h0m8 15h0m18 30h0m-18 0h0m-17 29h0m-17-29h0m-9 14h0m-25 15h0m-18-29h0m-8 14h0m-35 30h0m-25-15h0m-61 15h0m-232-15h0m-8 15h0m-9-44h0m-26 44h0m60 45h0m9-15h0m301-15h0m26 15h0m8-15h0m26 15h0m86 0h0m-17 60h0m-60 14h0m-17-29h0m-26 44h0m-17 0h0m-241 0h0m-26-15h0m-95-14h0m-60 44h0m396 30h0m8 15h0m9-15h0m26-15h0m26 15h0m8-15h0m9-15h0m60 15h0m9-15h0m25 15h0m0 30h0m18 0h0m-9 15h0m-43 15h0m-60-15h0m-17 30h0m-18 0h0m-17-30h0m-8 15h0m-9 15h0m-17 0h0m-318 15h0m-9-15h0m-17 0h0m-9-15h0m164 74h0m25-15h0m207 30h0m26-15h0m8 15h0m9-45h0m0 30h0m43-15h0m8-15h0m112 45h0m17 0h0m26 15h0m-77 45h0m-138 0h0m-17 0h0m-17 0h0m-26-15h0m-172-30h0m-9 15h0m-43 15h0m-17 30h0m35 29h0m17-29h0m0 29h0m163-15h0m155 0h0m0 30h0m26-15h0m8-15h0m18 0h0m25 15h0m9-15h0m17 0h0m60 15h0m18 0h0m17 30h0m-69 0h0m-9 15h0m0 30h0m-17-30h0m0 30h0m-17-30h0m-17 30h0m-60-45h0m-9 45h0m-60-15h0m-43-15h0m0 30h0m-52-30h0m-8-15h0m-129 15h0m-52 0h0m-34 30h0m-18 0h0m-17 0h0m26 15h0m43 15h0m43-15h0m26 15h0m17 0h0m17 29h0m17 0h0m86 0h0m18 0h0m8-14h0m9 14h0m17 0h0m43-44h0m34 30h0m9 14h0m17-29h0" stroke="#ac180a" stroke-width="23.5" stroke-linecap="round" fill="none"/><path transform="scale(.1)" d="M675 3816h0m9 15h0m9 44h0m-9 15h0m-413 90h0m26-15h0m52 0h0m34-30h0m77 45h0m9-45h0m17 0h0m52 0h0m8 15h0m9 15h0m52 0h0m60 15h0m17-30h0m0 30h0m26-45h0m0 60h0m-43 44h0m-17-30h0m-26-14h0m-9 14h0m-26 15h0m-8 15h0m-43-44h0m-26 14h0m-17 0h0m-26-14h0m-198 44h0m-17-30h0m-60 45h0m17 0h0m77 45h0m18 0h0m197-45h0m52 30h0m17-30h0m60 15h0m35 89h0m-17-29h0m-9-15h0m0 29h0m-52-29h0m-17 29h0m-26 15h0m-34 30h0m0 30h0m9-15h0m43-15h0m146 15h0m-17 30h0m-43 15h0m-9-15h0m-17 30h0m-26-15h0m-43-15h0m-17 0h0m8 74h0m86 0h0m9-15h0m34 60h0m-103 0h0m-232 45h0m0 59h0m120 0h0m9-15h0m26 15h0m8-15h0m95-15h0m34 0h0m61 15h0m154-29h0m18 59h0m-69 30h0m-43-15h0m-52 30h0m-51 0h0m-18-30h0m-43-15h0m-17 30h0m-8 15h0m-52 0h0m-43-45h0m-17 0h0m-9 15h0m-60 15h0m-52 0h0m-51 0h0m137 30h0m35 0h0m103 0h0m0 30h0m52 0h0m17 0h0m8 14h0m61-14h0m68-30h0m-103 59h0m-34 0h0" stroke="#b91a0b" stroke-width="23.5" stroke-linecap="round" fill="none"/><path transform="scale(.1)" d="M684 3801h0m17 30h0m0 29h0m17-29h0m-8 44h0m-9 45h0m-103 0h0m-327 30h0m198 15h0m43 15h0m9-15h0m60-15h0m0 30h0m120 59h0m-26-15h0m-68-29h0m-78 44h0m-17 0h0m-34 0h0m-18-30h0m-163 15h0m-60-15h0m-35 30h0m0 60h0m78-45h0m17 30h0m172-30h0m52 0h0m8 15h0m9-15h0m8 15h0m61-15h0m43 15h0m17 0h0m17 0h0m17 60h0m-8 14h0m-18-29h0m0 29h0m-17 0h0m-60 15h0m-413-29h0m-8-15h0m240 59h0m138 0h0m77 45h0m9-45h0m9 45h0m17-30h0m0 30h0m8-15h0m26 15h0m-34 60h0m-327 59h0m52-30h0m197 15h0m9 15h0m34 0h0m9-15h0m17 0h0m198 75h0m-86 0h0m-447-30h0m0 89h0m8-44h0m155 29h0m26 15h0m17 0h0m9-15h0m8 15h0m18-30h0m8 15h0m9-15h0m155 30h0m103-30h0m-17 60h0m-9 15h0m-52-30h0m0 30h0m-17 0h0m-26 15h0m-8-15h0m-9-15h0m-17 0h0m-43 15h0m-26-15h0m0 30h0m-8-15h0m-35-30h0m-17 0h0m-9 15h0m-8-15h0m-17 30h0m-18 0h0m-8-15h0m-9 15h0m-8-15h0m0 30h0m-26-15h0m-9 15h0m-69 0h0m-17 0h0m-34 0h0m43 15h0m0 30h0m94-15h0m86 0h0m61-15h0m8 15h0m112 15h0m52-30h0m-207 59h0" stroke="#c51c0c" stroke-width="23.5" stroke-linecap="round" fill="none"/><path transform="scale(.1)" d="M684 3860h0m9-14h0m17 0h0m8 44h0m-8 15h0m-17 0h0m-18-30h0m-395 90h0m26-15h0m68 0h0m18 0h0m86 30h0m8-15h0m9 15h0m43-15h0m8 15h0m18-30h0m8 15h0m17-30h0m9 15h0m103 30h0m-77 44h0m-26 15h0m-34 0h0m-61-44h0m-34 29h0m-172-29h0m-9 14h0m-25-14h0m-9 104h0m34-30h0m9-15h0m292 30h0m78 45h0m-52 89h0m9-15h0m8-15h0m9 15h0m9-15h0m43 15h0m-35 30h0m-26 15h0m-17 0h0m-34 30h0m-17 0h0m-18 0h0m-215 14h0m224 30h0m9 15h0m34-30h0m60-15h0m-69 60h0m-232 15h0m0 30h0m-8-45h0m0 30h0m-9 44h0m9-14h0m8 14h0m121 30h0m86 0h0m8-44h0m43 14h0m138 30h0m120 0h0m-129 15h0m-17 30h0m-17-30h0m-17 30h0m-18 0h0m-8 15h0m-129-15h0m-146 15h0m-26-15h0m-9-15h0m-34 0h0m-9-15h0m-17 30h0m138 60h0m103-30h0m86 0h0m17 30h0m9-15h0m0 29h0m8-44h0m9 15h0m0 29h0m26-44h0m8 44h0m43-44h0m9 15h0m-112 44h0" stroke="#d11e0d" stroke-width="23.5" stroke-linecap="round" fill="none"/><path transform="scale(.1)" d="M701 3890h0m-481 90h0m25-15h0m9-15h0m0 30h0m9-15h0m266 15h0m43-45h0m17 30h0m112 44h0m-8 15h0m-9-15h0m0 30h0m-26-44h0m-8 44h0m-18 0h0m-17 0h0m-112-15h0m-8 15h0m-9-44h0m0 29h0m-8-15h0m-190 30h0m-8-44h0m0 29h0m-9-15h0m-43-14h0m-51 89h0m8-15h0m0 30h0m78-15h0m8-15h0m35 0h0m180-15h0m52 30h0m34 0h0m52-30h0m17 0h0m17 0h0m17 0h0m0 30h0m-25 74h0m-456-44h0m-26 15h0m232 44h0m258 30h0m26 15h0m-95 15h0m-34 59h0m9 15h0m8-15h0m0 30h0m9-15h0m69 0h0m172 60h0m-9-15h0m-17 0h0m-232 45h0m-233-45h0m224 60h0m0 29h0m26 15h0m86 0h0m77-15h0m138 0h0m-146 45h0m0 30h0m-18-30h0m-43-15h0m-8 15h0m-9-15h0m0 30h0m-26 15h0m-68-30h0m-35 30h0m-17-30h0m-9-15h0m-17 0h0m-137 0h0m0 30h0m-9 15h0m-26-15h0m0 30h0m138 30h0m17-30h0m0 30h0m9-15h0m0 29h0m8-44h0m0 30h0m9-15h0m0 29h0m8-44h0m0 30h0m9-15h0m0 29h0m9-44h0m0 30h0m8-15h0m103 0h0m26 15h0m17-30h0m9 15h0m26-15h0m8 15h0m9-15h0m9 15h0" stroke="#de200e" stroke-width="23.5" stroke-linecap="round" fill="none"/></g><g id="mV"><path transform="scale(.1)" d="M787 4307h0m17 30h0m-86 60h0m-77-45h0m-17 30h0m-9-15h0m-43 15h0m-370 15h0m-43-45h0m413 89h0m17 0h0m9-15h0m26-14h0m0 29h0m17-29h0m0 29h0m60-15h0m9-14h0m17 0h0m0 29h0m-103 60h0m26 74h0m17-29h0m0 29h0m8-14h0" stroke="#000000" stroke-width="23.5" stroke-linecap="round" fill="none"/><path transform="scale(.1)" d="M650 4278h0m-26-15h0m-9 15h0m-17 0h0m-430 59h0m421-45h0m18 30h0m8 15h0m9-15h0m77-15h0m112 45h0m-120 30h0m-43 15h0m-9-15h0m-9-15h0m-8-15h0m-17 0h0m0 30h0m-9-15h0m-26-15h0m-361 30h0m-9-15h0m405 45h0m8 14h0m17 0h0m0 30h0m18-30h0m8-14h0m26 14h0m34 0h0m18 30h0m-52 60h0m-60-45h0m-17 30h0m-9-15h0m0 89h0m9-14h0m8 14h0m78-14h0m17 0h0m-52 29h0" stroke="#020e01" stroke-width="23.5" stroke-linecap="round" fill="none"/><path transform="scale(.1)" d="M512 3831h0m247 304h0m-652 82h0m669-21h0m14 16h0m-54 36h0m-551 89h0m17 0h0m430-30h0m18 0h0m60-15h0m17 0h0m69 30h0m43 45h0m-17 0h0m-112 15h0m-9 15h0m-17 0h0m-26-15h0m-8-15h0m-430 30h0m-26-15h0m-17-30h0m0 30h0m8 44h0m396 0h0m0 30h0m26-15h0m43 15h0m8-15h0m9-15h0m26-14h0m43 14h0m8-14h0m26 44h0m9-15h0m93-25h0m24 46h0m-12 38h0m-191 1h0m-9-15h0m-17 30h0m-17 0h0m-9-45h0m-9 15h0m-17 0h0m-26-15h0m-8 45h0m-9-45h0m-318 15h0m327 89h0m17-29h0m34 29h0m18-29h0m8 15h0m43-15h0m9-15h0m17 30h0m9-15h0" stroke="#051c03" stroke-width="23.5" stroke-linecap="round" fill="none"/><path transform="scale(.1)" d="M503 3816h0m9 44h0m17-29h0m86 178h0m-266-14h0m361 268h0m-9 15h0m-8-45h0m0 30h0m-9-15h0m-26 15h0m-43-15h0m-26 15h0m-412 29h0m17 30h0m387-15h0m8 15h0m9-15h0m0 30h0m52 0h0m17-30h0m17 0h0m9-15h0m0 30h0m17 0h0m8-15h0m9 15h0m9-15h0m34 30h0m9-15h0m8 15h0m0 60h0m-26-45h0m-8 45h0m-9-15h0m-77 15h0m-35 0h0m-34 0h0m-9-45h0m-8 15h0m-17 0h0m-293 30h0m-77-45h0m-9 15h0m0 30h0m-17-30h0m0 30h0m77 15h0m319 14h0m8-14h0m43 44h0m60-44h0m0 29h0m78 15h0m8-15h0m9-15h0m17 30h0m9-44h0m43 44h0m-43 15h0m-9 15h0m-8-15h0m-18 0h0m-8 15h0m-17 0h0m-26 15h0m-9-15h0m-26 15h0m-34 0h0m-26 15h0m-17 0h0m-9-15h0m-8-15h0m-9 75h0m9-15h0m8 15h0m35 0h0m51-30h0m9 15h0m0 29h0m17 0h0m43-44h0m-155 59h0" stroke="#082a04" stroke-width="23.5" stroke-linecap="round" fill="none"/><path transform="scale(.1)" d="M521 3846h0m17-30h0m-181 164h0m327 0h0m-353 15h0m18 59h0m275 30h0m8 45h0m-17 0h0m-17 89h0m129 15h0m-9 15h0m0 30h0m-8-45h0m-9 15h0m-17 30h0m-9-45h0m-34 30h0m-9 15h0m-25-15h0m-18-30h0m-17 30h0m-8 15h0m-405 44h0m95 15h0m310-30h0m8 15h0m35-30h0m8 15h0m9-15h0m8 45h0m26-45h0m0 30h0m112-15h0m77 75h0m-8 15h0m-9-15h0m-8 15h0m-9-15h0m-17 0h0m-78-15h0m-34 0h0m-17 0h0m-9-15h0m-43 45h0m-26-15h0m-8 15h0m-17 0h0m-9-15h0m-301-15h0m-17 0h0m-9 15h0m-26 44h0m26-14h0m17 29h0m344-29h0m9 44h0m95-15h0m17 0h0m34 0h0m9-15h0m34 0h0m17 30h0m9-44h0m9 44h0m8-15h0m52 30h0m-43 15h0m-35 0h0m-25 15h0m-26 15h0m-17 0h0m-9-45h0m0 30h0m-9-15h0m0 30h0m-17 0h0m-8-45h0m-26 15h0m-9-15h0m-26 45h0m-25-45h0m-35 30h0m-8-15h0m-276 0h0m-43-15h0m0 30h0m319 45h0m51 0h0m9-15h0m17 0h0m0 30h0m17-30h0m35 0h0m25 15h0m9-15h0m26 15h0m8-15h0" stroke="#0b3806" stroke-width="23.5" stroke-linecap="round" fill="none"/><path transform="scale(.1)" d="M529 3801h0m-43 45h0m9 14h0m26-44h0m-181 164h0m9-15h0m266 15h0m78 44h0m-9-15h0m-52 0h0m-8 15h0m-17 0h0m-241-29h0m-43 74h0m8-15h0m26 15h0m9-15h0m249 45h0m26-15h0m0 30h0m-17 29h0m-17-29h0m0 29h0m8 75h0m103-30h0m26 75h0m-8 15h0m-9-15h0m-52 0h0m-8 15h0m-17-30h0m-9-15h0m-17 0h0m-26 15h0m-447 89h0m26-15h0m25-15h0m9 15h0m60 15h0m293 0h0m8-45h0m9 45h0m60-45h0m0 30h0m34-30h0m26 45h0m17 0h0m18 0h0m8-15h0m9 15h0m103 60h0m-26-45h0m-26 15h0m0 30h0m-8-45h0m-26 15h0m0 30h0m-9-15h0m-8-15h0m-17 0h0m0 30h0m-9-15h0m-52-30h0m0 30h0m-137 0h0m-258 0h0m-35 0h0m-8 15h0m-9-45h0m-8 15h0m-43 45h0m17 29h0m17-29h0m26 14h0m0 30h0m17-30h0m413 30h0m17 0h0m17 0h0m17 0h0m61-44h0m17 29h0m8-15h0m9 15h0m17-29h0m17 0h0m0 29h0m9 15h0m17-30h0m-26 45h0m-17 30h0m-17 0h0m-17 0h0m-26-15h0m0 30h0m-26-15h0m-34-30h0m-35 0h0m-111 45h0m-9-45h0m-249 15h0m-9 15h0m-17-30h0m292 60h0m35 0h0m25 15h0m-25 44h0" stroke="#0e4607" stroke-width="23.5" stroke-linecap="round" fill="none"/><path transform="scale(.1)" d="M495 3831h0m8 15h0m35 0h0m17-30h0m69 149h0m8 15h0m61-15h0m8 15h0m0 59h0m-26-44h0m-17 0h0m-34 0h0m-17 0h0m-9 14h0m-224 30h0m-17-30h0m-17 30h0m-26-44h0m-8 44h0m8 15h0m17 30h0m267 15h0m17-30h0m17 0h0m0 30h0m52-30h0m17 0h0m0 30h0m17 59h0m-86 0h0m-8-44h0m-26 15h0m-9-15h0m43 104h0m78-45h0m8 45h0m9-15h0m-69 30h0m-26 15h0m-25-15h0m-26 15h0m-9-15h0m-404 74h0m52 30h0m43-15h0m412 0h0m78-15h0m8-15h0m0 30h0m26 45h0m-8-15h0m0 30h0m-52-30h0m-17 0h0m-9 15h0m-155 0h0m0 30h0m-266-45h0m-9 15h0m-8 15h0m-52-30h0m-17 60h0m26 14h0m8 15h0m26 15h0m9-44h0m17 0h0m275 29h0m9 15h0m197-44h0m112 44h0m-8 15h0m-9 15h0m-26-15h0m-8 15h0m-9-15h0m-9 45h0m-43-15h0m-17-30h0m-86 30h0m-8-15h0m-379 0h0m0 30h0m-34-30h0m318 45h0m34 0h0m190 0h0m-138 59h0m-17 0h0m-52 0h0" stroke="#115409" stroke-width="23.5" stroke-linecap="round" fill="none"/><path transform="scale(.1)" d="M469 3846h0m9 14h0m68-29h0m-8 44h0m-35 0h0m-8 15h0m-9-15h0m-163 105h0m34-30h0m9 15h0m301 15h0m8-15h0m35 30h0m-26 44h0m-17-30h0m-9 15h0m-17 0h0m-52 0h0m-223 0h0m-9 15h0m-26-15h0m-8-15h0m0 30h0m17 30h0m9 15h0m8 15h0m9-15h0m223 0h0m35-30h0m69 30h0m17 59h0m-9-14h0m-51 29h0m-448 30h0m9-15h0m17 0h0m52 0h0m335 15h0m60-15h0m9 15h0m9-15h0m8 15h0m0 30h0m52 60h0m-9-45h0m-77 15h0m-86 30h0m-422 14h0m26 15h0m60 15h0m18-30h0m8 15h0m396 30h0m17 0h0m60-45h0m0 60h0m-51 0h0m-138 0h0m-258 30h0m-43 15h0m17 29h0m0 30h0m551-30h0m17 0h0m26 15h0m-78 75h0m-232-15h0m-241 0h0m-17-30h0m-34 0h0m292 90h0" stroke="#14620a" stroke-width="23.5" stroke-linecap="round" fill="none"/><path transform="scale(.1)" d="M598 3801h0m-52 0h0m-17 59h0m26-14h0m34-30h0m-68 59h0m-43 15h0m-164 75h0m9-15h0m8-15h0m9 15h0m34 0h0m0 30h0m215-15h0m9 15h0m9-15h0m25-15h0m26 15h0m35 30h0m-43 14h0m-9-14h0m-9 44h0m-17 0h0m-223 0h0m-9-15h0m-77-15h0m301 45h0m0 30h0m51 0h0m35-30h0m8 104h0m-8-44h0m-9 44h0m-507-44h0m25 104h0m9-15h0m17 0h0m35 0h0m8-15h0m353 15h0m34-30h0m26 45h0m26-15h0m26 15h0m-551 60h0m-17 0h0m-26 14h0m9 15h0m69 0h0m8 15h0m9 15h0m318-15h0m-52 60h0m-8 15h0m-155-30h0m-52 30h0m-25-45h0m-18 0h0m-25 104h0m60-15h0m26 15h0m249-44h0m301 14h0m-525 75h0m-43 15h0m-25-15h0m-35-30h0m336 104h0" stroke="#17700c" stroke-width="23.5" stroke-linecap="round" fill="none"/><path transform="scale(.1)" d="M546 3860h0m18-29h0m8-15h0m155 30h0m-215 44h0m-9 15h0m-17 0h0m-17 0h0m-120 30h0m292 30h0m9 15h0m25 44h0m-25 15h0m-52 0h0m-9-44h0m-240 29h0m-9-15h0m-26 75h0m9 15h0m17 0h0m34-30h0m207 0h0m0 30h0m17-30h0m43-15h0m9 15h0m25-15h0m0 30h0m18 59h0m-18-29h0m0 29h0m-17-29h0m-8 15h0m-9 14h0m-26 15h0m-26-15h0m-249-14h0m-120 29h0m-78 45h0m43 15h0m9-45h0m26 15h0m0 30h0m17 0h0m8-45h0m52 0h0m301 15h0m26-15h0m8 15h0m9 15h0m26 15h0m26-15h0m-129 45h0m-9 15h0m-404 15h0m43 14h0m34 0h0m9 15h0m17 0h0m26 15h0m8 15h0m258 0h0m9-45h0m-34 90h0m-9 15h0m-26-15h0m-8 15h0m-129-45h0m-35 0h0m-26 15h0m-86 89h0m9-15h0m52 0h0m25 15h0m577-44h0m17 29h0m-336 75h0m-8-15h0m-181 15h0m-34-30h0m-9-15h0m-8 45h0m-26-15h0m34 30h0m9 15h0m215-15h0m0 30h0m8-15h0m0 29h0" stroke="#1a7e0e" stroke-width="23.5" stroke-linecap="round" fill="none"/><path transform="scale(.1)" d="M581 3801h0m-121 59h0m104 0h0m68 30h0m-154 30h0m-190 30h0m18 0h0m0 30h0m25-15h0m35-30h0m17 0h0m0 30h0m9-15h0m8-15h0m181 15h0m0 30h0m43-45h0m17 0h0m9 15h0m17 0h0m43 15h0m-9 44h0m-387 15h0m-17-29h0m0 59h0m77 45h0m9-45h0m267 45h0m17-30h0m0 30h0m17 0h0m0 30h0m-17 0h0m0 29h0m-69 0h0m-17-29h0m-207 0h0m-8 14h0m-9-14h0m-8 14h0m-147 15h0m-34-29h0m-17 59h0m0 30h0m8-15h0m35 0h0m51 0h0m9-15h0m34 0h0m18 0h0m111-15h0m172 30h0m18-30h0m0 30h0m34-30h0m9 15h0m8 15h0m9-15h0m-473 45h0m129 104h0m137 0h0m9-15h0m69 0h0m0 30h0m-9 15h0m0 30h0m-60-15h0m-9 15h0m-8-15h0m-121-30h0m0 30h0m-17 0h0m-8-15h0m-18 59h0m35 30h0m34 0h0m146-44h0m35 0h0m-198 74h0m-43 45h0m181 15h0m43-15h0m8 44h0" stroke="#1c8c0f" stroke-width="23.5" stroke-linecap="round" fill="none"/><path transform="scale(.1)" d="M632 3801h0m-68 0h0m8 45h0m9-15h0m34 0h0m17 0h0m52 89h0m-120-30h0m-35 0h0m-17 30h0m-17 0h0m-26-45h0m-9 15h0m0 30h0m-25-15h0m-147 75h0m138-30h0m26-15h0m17 0h0m52 0h0m17 0h0m77 15h0m60-15h0m18 0h0m17 0h0m8 15h0m-51 89h0m-86-30h0m-207 0h0m-86 0h0m-86 30h0m-17 30h0m103 30h0m18-30h0m266 15h0m17-30h0m69 0h0m0 89h0m-77 15h0m-43-44h0m-35 29h0m-129 15h0m-8-44h0m-26 44h0m-52 0h0m-34 0h0m-52-29h0m-25 14h0m-9 15h0m-9-15h0m-8 15h0m17 30h0m9-15h0m8 15h0m52 0h0m26-15h0m17 30h0m17 0h0m120 0h0m18-30h0m129 45h0m17 0h0m-26 15h0m-198 15h0m-17 0h0m-103 0h0m0 30h0m-9-15h0m-17-30h0m-26 15h0m-8 15h0m-18 0h0m52 29h0m34 0h0m95 45h0m120-30h0m26 15h0m35 30h0m-61 15h0m-34 30h0m-9-15h0m-8 15h0m-35-30h0m-17 0h0m-17 30h0m-17-30h0m0 30h0m-9 44h0m26 15h0m69-30h0m8-14h0m18 0h0m43 14h0m-129 75h0m-18-30h0m-8 45h0m8 15h0m26 15h0m172 0h0" stroke="#1f9a11" stroke-width="23.5" stroke-linecap="round" fill="none"/><path transform="scale(.1)" d="M615 3801h0m-17 30h0m9-15h0m0 30h0m17 0h0m17-30h0m9 15h0m25-15h0m9 15h0m9-15h0m8 44h0m9-44h0m8 44h0m9 15h0m-26 45h0m-51-30h0m0 30h0m-52 0h0m-17 0h0m-9-45h0m-8 45h0m-9-45h0m0 30h0m-9-15h0m-94 15h0m-9 15h0m-180 45h0m8-15h0m9 15h0m17 0h0m17-30h0m129 45h0m17-30h0m69 0h0m60-15h0m9 15h0m60-15h0m26 15h0m-120 59h0m-35 0h0m-69 30h0m-68-30h0m-95 15h0m-9 15h0m-111 45h0m8 15h0m198-15h0m9-15h0m94-15h0m17 0h0m18 0h0m43 45h0m8 15h0m-8 15h0m-35 0h0m-43 14h0m-43 15h0m-26-15h0m-8 15h0m-26-44h0m-34 0h0m-35 29h0m-17 0h0m-26 15h0m-34 0h0m-43-44h0m0 29h0m-9-14h0m0 29h0m-43 15h0m26 45h0m9-15h0m77 15h0m17 0h0m17 0h0m26-45h0m0 30h0m9 15h0m8-45h0m26 15h0m26-15h0m17 0h0m9 45h0m112-45h0m8 15h0m26-15h0m34 0h0m61 45h0m25-15h0m-232 75h0m-94-45h0m-18 0h0m-43 15h0m-8-15h0m-9 15h0m-43-15h0m-8 45h0m-18 0h0m95 44h0m9 15h0m34-30h0m17 30h0m78-45h0m17 30h0m17-30h0m9 45h0m51 0h0m9-45h0m-60 75h0m-35 0h0m0 30h0m-8-15h0m-35 0h0m-17 0h0m-9 15h0m-8-45h0m0 30h0m-69-30h0m0 60h0m34 0h0m0 29h0m9-15h0m60-14h0m69 0h0m17 0h0m35 0h0m25 14h0m0 30h0m0 30h0m-17 30h0m-172-30h0m9 75h0m103 0h0m17 0h0m9-15h0m8-15h0m9 15h0m9 15h0" stroke="#22a812" stroke-width="23.5" stroke-linecap="round" fill="none"/><path transform="scale(.1)" d="M684 3801h0m-86 59h0m34 0h0m43-14h0m18 0h0m8-15h0m9 15h0m8-15h0m-51 89h0m-9-15h0m-17 0h0m-17 0h0m-9-15h0m0 30h0m-34-30h0m-9 15h0m-26 15h0m-25-15h0m-95 15h0m-17 0h0m-172 60h0m8-15h0m9 15h0m138 0h0m25-45h0m26 15h0m43-15h0m17 0h0m35 30h0m8-15h0m9-15h0m0 30h0m9-15h0m8-15h0m0 30h0m35-30h0m94 15h0m-163 74h0m-17 0h0m-69-29h0m-52 29h0m-17-29h0m-103 0h0m0 29h0m-17-29h0m-43 14h0m-26 15h0m-9 15h0m9 15h0m0 30h0m8 15h0m52 0h0m9-15h0m34 0h0m9 15h0m86 0h0m17-30h0m0 30h0m8-15h0m129 15h0m26 44h0m-8 15h0m-18-29h0m-17 29h0m-34 0h0m-60-15h0m-9 15h0m-17-29h0m-17 0h0m-9 14h0m-26 15h0m-34 0h0m-17 0h0m-172 60h0m25-45h0m164 15h0m8 15h0m35-30h0m69 30h0m17 0h0m86 0h0m8 15h0m9-15h0m9-15h0m8 15h0m-26 75h0m-129-45h0m-8 15h0m-43 15h0m-9 15h0m-26-15h0m-8-15h0m-9-15h0m0 30h0m-8-15h0m-26 15h0m-9 15h0m-8-45h0m-9 45h0m-9-15h0m-25-15h0m-9 15h0m-17 0h0m-17-30h0m-35 0h0m146 74h0m190 0h0m25 15h0m18 0h0m25-15h0m-34 60h0m-9-15h0m-8 15h0m-26-15h0m-77 45h0m-43-15h0m-43 15h0m-9 44h0m17-29h0m9 14h0m60-14h0m43 14h0m17 0h0m9-14h0m43 14h0m43 15h0m0 30h0m-172 30h0m-26 15h0m0 30h0m9-15h0m17 0h0m86 0h0m8 15h0m18 29h0m17 0h0m8-14h0" stroke="#25b614" stroke-width="23.5" stroke-linecap="round" fill="none"/><path transform="scale(.1)" d="M667 3801h0m-17 0h0m-69 59h0m8-14h0m26 14h0m9-44h0m34 0h0m9 44h0m17 0h0m34 30h0m-8-15h0m-26 15h0m-9 15h0m-43 15h0m-34-30h0m-378 90h0m34-30h0m155 0h0m26-15h0m0 30h0m17 0h0m26-15h0m17 30h0m17-30h0m9 15h0m43 15h0m17 59h0m-9-15h0m-8 15h0m-9-44h0m-43 44h0m-26-44h0m-51 0h0m-164 14h0m-17 0h0m-17 30h0m-9-44h0m-17 29h0m-9-15h0m0 60h0m18 30h0m43-45h0m8 45h0m9-15h0m120-30h0m17 0h0m9 15h0m0 30h0m17-30h0m52 0h0m17 30h0m26-45h0m17 60h0m0 29h0m-17 0h0m-26-14h0m0 29h0m-9-44h0m-25 44h0m-9-15h0m-17 0h0m-26-14h0m-26-15h0m0 29h0m-8 15h0m-86 60h0m34-30h0m0 30h0m52-30h0m17 0h0m17 0h0m17 0h0m9-15h0m51 0h0m18 30h0m25 45h0m-86 0h0m-17 0h0m-8 15h0m-9 15h0m-17 0h0m-9-15h0m-26-15h0m-25 15h0m-9 15h0m-17 0h0m-17 0h0m-9-45h0m0 30h0m-9 15h0m-25-15h0m-9-15h0m-9-15h0m-43 15h0m-34 0h0m-9-15h0m-17 30h0m138 29h0m17 0h0m26 15h0m8-15h0m0 30h0m18-30h0m17 30h0m8-15h0m52 30h0m17-30h0m9-15h0m43 45h0m-9 15h0m-60 15h0m-120 59h0m43-14h0m0 29h0m17 0h0m26-15h0m25 15h0m95-15h0m9 75h0m-61 15h0m-86 0h0m-25-45h0m25 75h0m18 0h0m51 0h0m9 15h0m8 14h0" stroke="#28c415" stroke-width="23.5" stroke-linecap="round" fill="none"/><path transform="scale(.1)" d="M641 3846h0m9 14h0m17-29h0m51 89h0m-17-30h0m-8 15h0m-26-15h0m-26-15h0m-17 0h0m-35 30h0m-51 0h0m-267 75h0m129-15h0m17 0h0m9 15h0m43-15h0m17 0h0m9-15h0m34 30h0m43 15h0m-17 29h0m-9-15h0m0 30h0m-17 0h0m-34 0h0m-26-15h0m-34 0h0m-26 15h0m-9-44h0m-163 14h0m-9 15h0m17 60h0m35-30h0m8 15h0m112 15h0m35-30h0m0 30h0m17-30h0m17 0h0m9 15h0m8 15h0m17 0h0m26 15h0m26-45h0m9 15h0m8-15h0m-26 104h0m-25-44h0m0 29h0m-61 15h0m-43-44h0m-68 59h0m25 15h0m52 30h0m17 0h0m17 0h0m52-30h0m17 30h0m52-30h0m-43 45h0m-9 15h0m-43-15h0m-51 0h0m-18 30h0m-17-30h0m-8 45h0m-9-15h0m-232-15h0m155 59h0m8 15h0m35 0h0m8-15h0m17 30h0m9-45h0m0 30h0m9 15h0m8-45h0m17 0h0m18 30h0m94-15h0m-120 60h0m-52 30h0m0 29h0m17 0h0m52 30h0m17 0h0m9-15h0m8-15h0m69 0h0m0 30h0m-8 15h0m-78 45h0m-69-30h0m9 75h0m26-15h0m8 15h0m9-15h0m9-15h0m0 30h0m8 14h0m26-44h0m17 0h0" stroke="#2bd217" stroke-width="23.5" stroke-linecap="round" fill="none"/><path transform="scale(.1)" d="M658 3846h0m35 29h0m-35 0h0m-51 30h0m-78 15h0m-120 60h0m51 0h0m43-15h0m35 30h0m-17 0h0m-9 14h0m-9-14h0m-17 29h0m-26-15h0m-17 0h0m-26-14h0m-8 14h0m-189 30h0m-9-44h0m0 89h0m43-15h0m17 0h0m181 15h0m8 15h0m9-15h0m9 15h0m17 0h0m17-30h0m9 15h0m25-15h0m-60 45h0m-26 15h0m-17 0h0m-8-15h0m-86 89h0m34 0h0m86-30h0m9 45h0m60-45h0m8 15h0m26-15h0m-34 90h0m-43-15h0m-17 0h0m-9-15h0m-17 0h0m-26 15h0m-34 0h0m-18 30h0m-8-45h0m-52 59h0m78 15h0m8 15h0m43 15h0m60-45h0m9 45h0m-60 15h0m-35 0h0m-34 0h0m-17 60h0m8 44h0m95-15h0m9 15h0m8-15h0m9 15h0m8-15h0m0 60h0m-8 15h0m-17-30h0m0 30h0m-9-15h0m-17-30h0m-69 30h0m0 30h0m17 0h0m0 30h0m112 14h0" stroke="#2ee018" stroke-width="23.5" stroke-linecap="round" fill="none"/><path transform="scale(.1)" d="M710 3905h0m-103-30h0m-18 0h0m-86 149h0m-51 0h0m-9 15h0m-189 0h0m-9-15h0m-34 30h0m26 15h0m301 15h0m17 0h0m-60 45h0m-103 89h0m68-30h0m26-15h0m0 30h0m43 75h0m-8-15h0m-9-15h0m-9-15h0m-120 0h0m-17 59h0m43 15h0m8 15h0m78-15h0m17 0h0m-77 45h0m-35 0h0m-8 15h0m-9 74h0m52 0h0m77 15h0m9-15h0m8 45h0m-17 30h0m-17-30h0m-9-15h0m-34 30h0m-9-15h0m-8 15h0m-18-30h0m-25 45h0m-26-45h0m51 60h0" stroke="#31ee1a" stroke-width="23.5" stroke-linecap="round" fill="none"/><path transform="scale(.1)" d="M675 3875h0m-197 105h0m34 0h0m34 0h0m-51 29h0m-17 0h0m0 30h0m-9-44h0m-43 14h0m0 30h0m-9-15h0m-146 15h0m-8-15h0m-18-29h0m-25 74h0m8-15h0m0 30h0m17-30h0m198 45h0m17-30h0m69 0h0m-51 60h0m-9-15h0m-17 0h0m-95 104h0m9-15h0m8 15h0m26-15h0m69 0h0m9-15h0m17 0h0m0 30h0m8-15h0m9 15h0m9 15h0m-9 45h0m-9-15h0m-8 15h0m-9-15h0m-8 15h0m-9-15h0m-9 15h0m-8-15h0m-43 74h0m17-30h0m60-15h0m35 0h0m-129 164h0m8-15h0m9 15h0m51 0h0m52 30h0m-9-15h0m-17 30h0m-17-30h0m-9 15h0m-25-15h0m-9 15h0m0 30h0m-9-15h0m-8-15h0m0 30h0m-9-45h0m0 30h0m-8-15h0m-9-15h0" stroke="#34fc1c" stroke-width="23.5" stroke-linecap="round" fill="none"/></g><g id="mA"><path transform="scale(.1)" d="M684 3801h0m-52 0h0m-86 0h0m-86 59h0m26-14h0m9-15h0m0 29h0m8-44h0m0 30h0m9-15h0m17 0h0m0 29h0m9-44h0m8 44h0m9-44h0m17 30h0m9-15h0m8-15h0m0 30h0m18 0h0m8-15h0m9-15h0m0 30h0m17 0h0m9 14h0m8-14h0m9 14h0m8-44h0m9 44h0m9-14h0m17 29h0m-26 15h0m-9-15h0m-8 15h0m-9-15h0m-8 15h0m-9 15h0m-9-15h0m-17 0h0m-8-15h0m-9 15h0m-26-15h0m-17 0h0m0 30h0m-9 15h0m-17 0h0m-8-45h0m-9 45h0m-9-45h0m0 30h0m-8-15h0m0 30h0m-26-45h0m-9 15h0m-8 15h0m-9 15h0m-8-15h0m-9 15h0m-17 0h0m-138 30h0m17 0h0m0 30h0m18-30h0m0 30h0m8-15h0m9-15h0m0 30h0m8-45h0m0 30h0m18-30h0m0 30h0m17 0h0m17 0h0m9 15h0m34-30h0m0 30h0m9-45h0m0 30h0m8-15h0m26-15h0m0 30h0m9-15h0m17 0h0m8 15h0m18-30h0m17 0h0m0 30h0m-78 44h0m-8-14h0m-26 14h0m0 30h0m-26-44h0m0 29h0m-26-15h0m0 30h0m-8-44h0m0 29h0m-9-15h0m0 30h0m-8-44h0m0 29h0m-9-15h0m0 30h0m-17-30h0m-9-14h0m0 29h0m-8-15h0m-26-14h0m-103 89h0m137-30h0m0 30h0m35-30h0m8 15h0m9-15h0m8 15h0m0 30h0m9-45h0m0 30h0m9 15h0m8-45h0m0 30h0m9-15h0m0 30h0m26-45h0m0 30h0m25 15h0m258 59h0m-17-29h0m0 29h0m-8-15h0m-9-14h0m-189 0h0m-9-15h0m-8 15h0m0 29h0m-18-29h0m-8-15h0m-9 15h0m-8-15h0m0 29h0m-18-29h0m0 29h0m-8 15h0m-9-44h0m-8 44h0m-9-15h0m-9 15h0m-8-15h0m-17-29h0m0 59h0m17 30h0m8-15h0m9-15h0m0 30h0m17 0h0m17-30h0m9 15h0m9 15h0m51-30h0m121 30h0m8-15h0m-352 253h0m43 45h0m-9 15h0m-9-15h0m-34 0h0m43 45h0" stroke="#000000" stroke-width="23.5" stroke-linecap="round" fill="none"/><path transform="scale(.1)" d="M667 3801h0m-17 0h0m-35 0h0m-86 0h0m-51 59h0m43-44h0m17 30h0m8-15h0m18 0h0m0 29h0m8-44h0m26 15h0m0 29h0m9-44h0m8 44h0m17-29h0m0 29h0m18-29h0m8-15h0m9 15h0m8 15h0m18-30h0m8 15h0m0 29h0m9-44h0m0 30h0m17 29h0m-9 15h0m0 30h0m-17 0h0m-8-15h0m-18 0h0m-34-30h0m-34 30h0m-61-15h0m-8 15h0m-9-15h0m-17 0h0m-26-15h0m0 30h0m-8-15h0m0 30h0m-9-15h0m-9 15h0m-206 30h0m9 15h0m8 15h0m26-15h0m17-30h0m26 15h0m0 30h0m17-30h0m0 30h0m9-45h0m8 15h0m9-15h0m9 15h0m8-15h0m0 30h0m9 15h0m8-45h0m26 45h0m17-30h0m0 30h0m18 0h0m8-45h0m0 30h0m9 15h0m8-45h0m43 15h0m9 15h0m9-15h0m146-15h0m-181 74h0m-17 0h0m-26-14h0m-8 44h0m-9-44h0m-9 44h0m-17-30h0m0 30h0m-8-44h0m0 29h0m-18-29h0m0 29h0m-8-15h0m-17 0h0m0 30h0m-9-44h0m-52 29h0m-8 15h0m-17 0h0m-9-44h0m0 29h0m-9-15h0m-17 0h0m-8-14h0m-78 104h0m121-30h0m17 30h0m8-45h0m9 15h0m0 30h0m9-15h0m8 15h0m9-15h0m26-15h0m25-15h0m0 30h0m9 15h0m17-30h0m0 30h0m9-15h0m17-30h0m17 30h0m43 15h0m181 44h0m-129 15h0m-17 0h0m-9-44h0m-9 44h0m-8-44h0m-9 15h0m-17 29h0m-9-15h0m-8 15h0m-26-44h0m0 29h0m-17 0h0m-26 15h0m-17-29h0m-9 14h0m-8-14h0m-9-15h0m-9 15h0m-17 0h0m-163 14h0m-17-29h0m154 59h0m9 15h0m9 15h0m8-15h0m35 0h0m0 30h0m8-45h0m9 15h0m26-15h0m8 15h0m9-15h0m0 30h0m17-30h0m9 15h0m0 30h0m17-30h0m43-15h0m17 0h0m9 15h0m8-15h0m9 15h0m17 0h0m103 0h0m9-15h0m8 15h0m-94 45h0m-9 15h0m-26-15h0m-283 45h0m-9-15h0m-52 0h0m-8-15h0m232 44h0m344 90h0m-559 44h0m17 30h0m9-15h0m8-15h0m0 30h0m43 15h0m-17 0h0m-34 0h0m-9 15h0m-8 15h0m-18-30h0m-17 0h0m95 75h0" stroke="#030d02" stroke-width="23.5" stroke-linecap="round" fill="none"/><path transform="scale(.1)" d="M598 3801h0m-17 0h0m-17 0h0m-52 59h0m43-14h0m26 14h0m60-44h0m43 15h0m34 29h0m-8 45h0m-9-15h0m-17 30h0m-60-45h0m-35 30h0m-8-15h0m-9 15h0m-8-15h0m0 30h0m-26-45h0m-17 30h0m-301 75h0m60-15h0m94 15h0m43-15h0m35-30h0m0 30h0m60-15h0m0 30h0m43-45h0m9 45h0m8-45h0m0 30h0m17-30h0m95 45h0m9-45h0m17 60h0m-155 0h0m-34 29h0m-9 15h0m-9-44h0m0 29h0m-34 0h0m-17 0h0m-43 15h0m-26-15h0m-52-29h0m-43 44h0m-8-15h0m-9 15h0m-69-30h0m0 30h0m-8-15h0m0 30h0m0 30h0m8-15h0m0 30h0m9-15h0m9-15h0m34 0h0m26-15h0m8 15h0m18 30h0m17-30h0m8 15h0m121-30h0m26 15h0m0 30h0m17 0h0m17 0h0m9-45h0m0 30h0m34-30h0m0 30h0m9-15h0m8 15h0m9 15h0m34-30h0m0 30h0m43-15h0m9-15h0m17 30h0m75 36h0m-84 8h0m-8 15h0m-78-15h0m-17 0h0m-17 0h0m-17 0h0m-9 15h0m-8-44h0m0 29h0m-18-29h0m-17 29h0m-26 15h0m-17 0h0m-17-29h0m-77 14h0m-9-14h0m0 29h0m-103 0h0m-35-29h0m0 29h0m-8-44h0m-9 15h0m-8 14h0m-70 74h0m104-44h0m9 45h0m17 0h0m34 0h0m35 0h0m8-45h0m26 45h0m26-45h0m8 45h0m43-15h0m26 15h0m17 0h0m26-15h0m9 15h0m8-45h0m0 30h0m9-15h0m0 30h0m9-45h0m17 30h0m8-15h0m9 15h0m9 15h0m17 0h0m8-45h0m0 30h0m9 15h0m43-45h0m0 30h0m26 15h0m17-30h0m9 15h0m17 0h0m17 0h0m49-7h0m14 16h0m-46 21h0m-8 15h0m-9 15h0m-9 15h0m-25-15h0m-18 0h0m-8-15h0m-9-15h0m0 30h0m-17-30h0m-34 0h0m-9 15h0m-9 15h0m-51-30h0m-35 0h0m-17 0h0m0 30h0m-17 0h0m-17-30h0m-9 15h0m0 30h0m-94-15h0m-18 0h0m-8 15h0m-26-45h0m-9 45h0m-25-45h0m-35 0h0m-8 15h0m34 59h0m9-15h0m8 15h0m9-15h0m17 0h0m34 0h0m112 15h0m17 0h0m0 30h0m18 0h0m17-30h0m0 30h0m361 60h0m-17-30h0m0 30h0m-17-30h0m0 30h0m-9-45h0m-9 15h0m-8-15h0m0 30h0m-26-15h0m-17 0h0m-241 0h0m-9-15h0m-25 15h0m-9-15h0m-77 45h0m-26-15h0m-9-15h0m-17 30h0m-17 0h0m-35 0h0m-77 15h0m9 14h0m17 0h0m0 30h0m17 0h0m9-44h0m8 14h0m26-14h0m0 29h0m9 15h0m17-30h0m0 30h0m8-15h0m9-15h0m0 30h0m9-15h0m146 15h0m26-15h0m292-29h0m59 4h0m24 46h0m-12 38h0m-372-14h0m-9-15h0m-163 45h0m-17-30h0m0 30h0m-17 0h0m-9-45h0m-9 45h0m-8-15h0m-17-30h0m51 60h0" stroke="#061b04" stroke-width="23.5" stroke-linecap="round" fill="none"/><path transform="scale(.1)" d="M521 3846h0m197-15h0m9 15h0m-34 29h0m-26 45h0m-35 0h0m-8-15h0m-26 15h0m-9-45h0m-352 105h0m172-30h0m120 0h0m17 30h0m35 0h0m8-15h0m18-30h0m8 15h0m9-15h0m0 30h0m17-30h0m34 30h0m26-15h0m0 30h0m9-15h0m-9 44h0m-17 30h0m-26-44h0m-86 0h0m0 29h0m-8-15h0m-18 0h0m-8-14h0m-9 44h0m-8-44h0m-26 44h0m-17-30h0m-224 30h0m-9-44h0m-8 14h0m0 30h0m-9-44h0m-17 29h0m-26 45h0m26-15h0m9 45h0m8-45h0m0 30h0m35 0h0m34 0h0m129-15h0m43 15h0m26-15h0m8 15h0m35-30h0m0 30h0m8-15h0m35 0h0m8-15h0m18 30h0m34 0h0m9-15h0m0 30h0m8-45h0m9 45h0m17-30h0m9 45h0m-9 44h0m-9-44h0m-17 29h0m-17 0h0m-9 15h0m-8-44h0m0 29h0m-9-14h0m-8-15h0m0 29h0m-9-14h0m-9-15h0m-8 15h0m-35 0h0m-34 0h0m-146-15h0m-9 44h0m-51 0h0m-9-15h0m-43 15h0m-69 0h0m26 45h0m9-15h0m17 0h0m8-15h0m0 30h0m9 15h0m34 0h0m172-30h0m9 15h0m52 0h0m51 0h0m35-30h0m8 45h0m9-15h0m8-15h0m18 0h0m8-15h0m9 15h0m26-15h0m8 45h0m17 0h0m18 0h0m-18 30h0m-8 15h0m-9 15h0m-17-30h0m0 30h0m-34 0h0m-18 0h0m-8-15h0m-52-30h0m-8 15h0m-18 0h0m-8 15h0m-17-30h0m-9 45h0m-34 0h0m-9-45h0m-9 15h0m0 30h0m-25-15h0m-9-15h0m-77-15h0m-9 15h0m-9-15h0m-25 15h0m-18 0h0m-17 0h0m-43 15h0m-17-30h0m0 30h0m-34 0h0m-26 44h0m43 15h0m43-15h0m8 15h0m9 15h0m9-15h0m25-15h0m0 30h0m9-15h0m17-30h0m9 15h0m8 15h0m18 0h0m17-30h0m0 30h0m8-15h0m0 30h0m9-45h0m9 15h0m17 0h0m34 30h0m9-45h0m0 30h0m17 0h0m9-15h0m25-15h0m9 15h0m9 15h0m8 15h0m112-15h0m69-30h0m60 45h0m60 15h0m-26 45h0m-17-30h0m-8 15h0m-18-30h0m-25 15h0m-26 15h0m-146 15h0m-18 0h0m-25-15h0m-35-30h0m-77 45h0m-17-30h0m-18 0h0m-17 30h0m-43-15h0m-17 0h0m-26 15h0m-8-15h0m-9-15h0m-9-15h0m-43 45h0m-25 15h0m17 0h0m0 29h0m17 0h0m17 0h0m17-29h0m35 0h0m34 0h0m17 0h0m26 14h0m17 0h0m18 0h0m0 30h0m34-30h0m34 30h0m9-15h0m9 15h0m17-30h0m60-14h0m258 29h0m17-29h0m17 0h0m-163 104h0m-9-45h0m-8 45h0m-9-45h0m-8 15h0m-9-15h0m0 30h0m-103-30h0m-17 0h0m-18 30h0m-25-15h0m-9 15h0m-9 15h0m-8-45h0m-78 45h0m-8-15h0m-17-30h0m0 30h0m-35 0h0m17 30h0m26 15h0m9-15h0m0 30h0m34-30h0m35 0h0m8 15h0m9-15h0m17 0h0m146 44h0m35-29h0m25 15h0m-17 29h0m-69 0h0m-17 0h0" stroke="#0a2906" stroke-width="23.5" stroke-linecap="round" fill="none"/><path transform="scale(.1)" d="M469 3846h0m181 74h0m-35 0h0m-361 60h0m361 0h0m17-30h0m0 30h0m18-30h0m8-15h0m0 30h0m9-15h0m8-15h0m9 15h0m34 0h0m-68 59h0m-9-14h0m-17 29h0m-43 15h0m-17 0h0m-9-15h0m-9 15h0m-326-30h0m0 30h0m-35 0h0m52 30h0m8-15h0m0 30h0m9 15h0m9-45h0m8 45h0m26-45h0m189 0h0m43 15h0m17 30h0m18 0h0m34-30h0m0 30h0m9-45h0m25 15h0m43-15h0m26 15h0m-43 45h0m-8 15h0m-9-15h0m-69 0h0m-249 44h0m-9-15h0m-26 15h0m-129-15h0m43 45h0m26-15h0m52 0h0m8 15h0m9 15h0m34 0h0m78 15h0m120-30h0m0 30h0m17 0h0m86 0h0m18 0h0m34 0h0m60 45h0m-34-30h0m-17 0h0m-26 45h0m-26-15h0m-43 15h0m-43-15h0m-9 15h0m-43-15h0m-25-15h0m-26 15h0m-35-30h0m-17 0h0m-8 15h0m-9-15h0m-17 0h0m-9 15h0m-43 15h0m-34-30h0m0 30h0m-26 15h0m-9-45h0m-25 45h0m-18 0h0m-8-15h0m-26-15h0m-9 15h0m-8-15h0m0 30h0m17 29h0m0 30h0m9-45h0m0 30h0m8 15h0m9-45h0m8 15h0m0 30h0m18-30h0m8 15h0m9 15h0m34 0h0m52 0h0m34-30h0m0 30h0m43-15h0m26 15h0m9-45h0m0 30h0m51-30h0m0 30h0m17 0h0m26-15h0m43-15h0m0 30h0m17 0h0m52-30h0m26 15h0m17 0h0m43-15h0m34 0h0m0 30h0m18 0h0m17 0h0m51 60h0m-68-30h0m-18 30h0m-17 0h0m-8 15h0m-9-15h0m-9-15h0m-17 0h0m-8 15h0m-9 15h0m-9-45h0m-8 45h0m-9-45h0m-43 15h0m-17 30h0m-9-45h0m-8 15h0m0 30h0m-9-15h0m-8-15h0m-18 0h0m-25-15h0m-26 45h0m-9-15h0m-8 15h0m-9-15h0m-9 15h0m-34-30h0m0 30h0m-9-15h0m-34-30h0m-43 15h0m-9-15h0m-34 0h0m-17 0h0m-95 45h0m-26-45h0m26 74h0m17 0h0m0 30h0m18 0h0m129-44h0m8 44h0m9-15h0m8 15h0m9-44h0m17 29h0m17-29h0m0 29h0m18 0h0m8-15h0m9-14h0m0 29h0m26-15h0m8-14h0m0 29h0m17 0h0m9-15h0m9-14h0m25 44h0m9-15h0m9 15h0m8-44h0m0 29h0m26 15h0m9-44h0m0 29h0m17-29h0m43 44h0m26-15h0m8-15h0m0 30h0m9-44h0m86 0h0m26 44h0m17-30h0m0 30h0m43 15h0m-26 15h0m-17 0h0m-17 0h0m-35 30h0m-17 0h0m-52 0h0m-8-15h0m-9 15h0m-34-30h0m-9 15h0m-8 15h0m-43-45h0m-26 45h0m-9-45h0m-8 15h0m-9 15h0m-26-15h0m0 30h0m-34-30h0m0 30h0m-35-30h0m-8 15h0m-17 0h0m-9-15h0m-17 30h0m-9-45h0m-8 45h0m-9-45h0m-9 15h0m-129 15h0m95 45h0m34 0h0m9-15h0m9 15h0m8 15h0m17-30h0m0 30h0m9-15h0m17 29h0m86 0h0m9-44h0m17 0h0m0 30h0m17-30h0m0 30h0m9-15h0m0 29h0m8-44h0m0 30h0m9 14h0m17-29h0m26-15h0m17 0h0m9 44h0m17-29h0m0 29h0m9-44h0m8 15h0m0 29h0m26-44h0m9 15h0m-95 44h0m-34 0h0" stroke="#0d3708" stroke-width="23.5" stroke-linecap="round" fill="none"/><path transform="scale(.1)" d="M581 3950h0m26 15h0m77 44h0m-9 15h0m-8-15h0m0 30h0m-9-15h0m-8 15h0m-26-44h0m-9 14h0m-8-14h0m-9 44h0m-9-15h0m-17 30h0m52 0h0m17 0h0m26 75h0m-516 29h0m43 15h0m69 0h0m8 15h0m26-15h0m60 45h0m370 15h0m-120 30h0m-35 0h0m-8 15h0m-9-45h0m-26 15h0m-8 15h0m-26-15h0m-95 15h0m-17 0h0m-9 15h0m-137 0h0m-35-30h0m-8-15h0m-17 0h0m-35 30h0m78 74h0m86-30h0m0 30h0m77-15h0m9 15h0m8-45h0m17 0h0m121 30h0m8-15h0m9-15h0m0 30h0m9-15h0m0 30h0m17-30h0m8-15h0m26 15h0m9-15h0m0 30h0m26 15h0m8-15h0m9 15h0m8-45h0m9 45h0m52-30h0m8 15h0m9 15h0m34 60h0m-43-45h0m-34 0h0m-9 45h0m-8-45h0m-18 30h0m-25 15h0m-9-45h0m-17 0h0m0 30h0m-35 0h0m-17-30h0m-17 0h0m-17 0h0m0 30h0m-35 0h0m-43-15h0m-17 30h0m-8-15h0m-26-15h0m-9 15h0m-26 15h0m-8-45h0m-78 15h0m-17 0h0m-17 30h0m-9-15h0m-17-30h0m0 30h0m-8 15h0m-9-45h0m0 30h0m-17-30h0m-26 15h0m0 30h0m146 44h0m52-29h0m17 29h0m60 15h0m17-30h0m43-14h0m26 44h0m9-15h0m51-29h0m26 44h0m17 0h0m9-44h0m9 44h0m8-44h0m0 29h0m17 0h0m9-15h0m9-14h0m17 29h0m17 0h0m60 15h0m17 0h0m61-15h0m8-15h0m0 30h0m-60 15h0m-9 45h0m-51 0h0m-43-45h0m-9 15h0m-17 0h0m-9 15h0m-43 15h0m-34 0h0m-9-15h0m-25 15h0m-18-30h0m-8 15h0m-17 0h0m-35 0h0m-43-15h0m-8-15h0m-9 45h0m-9-45h0m0 30h0m-25-15h0m-35 30h0m-8 15h0m34 30h0m86 0h0m17 0h0m9 14h0m43-14h0m8-15h0m52 0h0m9-15h0m0 30h0m25-15h0m0 29h0m18 0h0m8-14h0m9-15h0m26 15h0m17 0h0m43-15h0m-129 44h0" stroke="#10450b" stroke-width="23.5" stroke-linecap="round" fill="none"/><path transform="scale(.1)" d="M598 3950h0m0 30h0m69 0h0m26 44h0m-78 15h0m-8-15h0m-121 0h0m-206 60h0m8 15h0m276 30h0m-413 89h0m8-45h0m9 15h0m17 0h0m0 30h0m17 0h0m52-30h0m9 15h0m395 0h0m17-30h0m0 60h0m-249 45h0m-9-15h0m-77 15h0m-181 44h0m26-15h0m26 15h0m301 15h0m95-45h0m0 30h0m86 0h0m8 15h0m26-15h0m43-15h0m-17 90h0m-138 0h0m-8-45h0m-78 45h0m-77-15h0m-17-30h0m-52 30h0m-52 0h0m-154-30h0m0 30h0m129 44h0m283 15h0m52 0h0m9-15h0m25-14h0m9 44h0m60-44h0m17 29h0m9-15h0m0 30h0m60-15h0m26 15h0m-26 45h0m-17 0h0m-34 0h0m-18 0h0m-17-30h0m-8 45h0m-43-45h0m-61 15h0m-25 15h0m-18-30h0m-77 45h0m-43-45h0m-26 45h0m-43-15h0m60 74h0m18-29h0m25 15h0m9-15h0m9-15h0m8 15h0m17 29h0m18-29h0m60-15h0m51 0h0m86 0h0" stroke="#14530d" stroke-width="23.5" stroke-linecap="round" fill="none"/><path transform="scale(.1)" d="M658 3905h0m-413 60h0m284 15h0m112-15h0m52 0h0m-43 193h0m-379 0h0m-103-29h0m0 29h0m-34 60h0m25-15h0m18-30h0m17 30h0m34 0h0m78-15h0m8 15h0m439 75h0m-121-30h0m-464 30h0m-9-45h0m-17 59h0m103 0h0m35 30h0m60-15h0m241 30h0m69-30h0m8-15h0m60 15h0m112 75h0m-146-15h0m-52 30h0m-25-15h0m-9-15h0m-103 0h0m-78-15h0m-68 30h0m-69 0h0m-95-15h0m224 59h0m26-14h0m77 44h0m52-30h0m189 30h0m26-44h0m0 29h0m25-15h0m52 0h0m26 15h0m-95 45h0m-163-15h0m-129 75h0m69 29h0m146-44h0m8 15h0m26-15h0" stroke="#17610f" stroke-width="23.5" stroke-linecap="round" fill="none"/><path transform="scale(.1)" d="M641 4024h0m-396 0h0m370 134h0m-17 0h0m-456 45h0m473 75h0m-206-30h0m0 30h0m-155-30h0m-43 44h0m327 0h0m8 45h0m86 0h0m78-15h0m77 15h0m-17 60h0m-542 15h0m396 29h0m8-15h0m86 30h0m78-15h0m-35 30h0m-146 15h0m-137 30h0m-95-15h0m-146-15h0" stroke="#1a6f11" stroke-width="23.5" stroke-linecap="round" fill="none"/><path transform="scale(.1)" d="M693 3995h0m-112 14h0m-78 45h0m121 30h0m-404 74h0m-78 15h0m293 60h0m-112 15h0m94 74h0m276-30h0m25 45h0m9 15h0m-215 45h0m-60-45h0m-52 0h0m-163 45h0m-35-30h0m43 74h0m181 15h0m43-44h0m69 0h0m77 14h0m250-14h0m-121 89h0m-335-15h0m-43-15h0m86 90h0m34-30h0m35 30h0" stroke="#1e7d14" stroke-width="23.5" stroke-linecap="round" fill="none"/><path transform="scale(.1)" d="M581 3920h0m-327 89h0m17 60h0m-103 149h0m155-30h0m0 30h0m51 30h0m-60-15h0m-43 45h0m78 14h0m249 15h0m77 15h0m61 15h0m17-30h0m-198 75h0m-112-15h0m-43 45h0m129 14h0m267 75h0m-26-15h0m-43 15h0m-103 0h0m-26-15h0m-327 30h0m370 45h0" stroke="#218a16" stroke-width="23.5" stroke-linecap="round" fill="none"/><path transform="scale(.1)" d="M521 3965h0m17 59h0m-275 0h0m326 60h0m43 45h0m-455 74h0m498 0h0m-94 45h0m0 30h0m-172 59h0m112-45h0m223 0h0m43 15h0m17 30h0m-146 45h0m-26-15h0m-412 0h0m361 89h0m137-30h0m43-14h0m86 59h0m-17 0h0m-77 15h0m-207 30h0m-60-45h0m-129 15h0m-26 15h0m147 74h0m25-44h0" stroke="#249818" stroke-width="23.5" stroke-linecap="round" fill="none"/><path transform="scale(.1)" d="M650 3980h0m51 59h0m-69-30h0m-34 0h0m-370 15h0m284 45h0m120 30h0m43-15h0m61 194h0m-241 0h0m137 29h0m69 0h0m17 90h0m-51-30h0m-17 0h0m-327 0h0m-9-15h0m430 89h0m9-15h0m34 0h0m35 0h0m-86 60h0m-9-15h0m-9 15h0m-103 30h0m-43-15h0m-17-30h0m-215 15h0m69 60h0m51 0h0m319-15h0" stroke="#28a61a" stroke-width="23.5" stroke-linecap="round" fill="none"/><path transform="scale(.1)" d="M675 3995h0m-86 0h0m-378 0h0m490 104h0m-550 89h0m275 30h0m224 30h0m-121 30h0m-163-15h0m-9 15h0m-198 14h0m69 0h0m387 45h0m-86 30h0m-266-15h0m146 104h0m137-30h0m52 0h0m249 15h0m-43 45h0m-25-15h0m-86 30h0m-112-15h0" stroke="#2bb41c" stroke-width="23.5" stroke-linecap="round" fill="none"/><path transform="scale(.1)" d="M632 4039h0m-137-30h0m198 75h0m-413 119h0m421 45h0m-189 0h0m-120 30h0m-207-30h0m0 30h0m-43-45h0m9 104h0m163-15h0m26 15h0m301 45h0m-292-30h0m-43 15h0m-112 15h0m387 44h0m86 0h0m60-14h0m9 44h0m129 15h0m-241 90h0m103 0h0" stroke="#2ec21f" stroke-width="23.5" stroke-linecap="round" fill="none"/><path transform="scale(.1)" d="M460 4069h0m233-15h0m-69 119h0m-361 90h0m163 44h0m172 30h0m-292 60h0m-69-30h0m499 59h0m60 45h0m-361 90h0m77 14h0" stroke="#32d021" stroke-width="23.5" stroke-linecap="round" fill="none"/></g><g id="mGV"><path transform="scale(.1)" d="M495 3860h0m17 0h0m215 403h0m9 74h0m-508 45h0m-26 44h0" stroke="#000500" stroke-width="23.5" stroke-linecap="round" fill="none"/><path transform="scale(.1)" d="M495 3831h0m8 15h0" stroke="#000a00" stroke-width="23.5" stroke-linecap="round" fill="none"/><path transform="scale(.1)" d="M521 3875h0" stroke="#003403" stroke-width="23.5" stroke-linecap="round" fill="none"/><path transform="scale(.1)" d="M383 4054h0m86 268h0" stroke="#007b08" stroke-width="23.5" stroke-linecap="round" fill="none"/><path transform="scale(.1)" d="M383 3995h0m9 74h0m94 253h0" stroke="#00c60e" stroke-width="23.5" stroke-linecap="round" fill="none"/><path transform="scale(.1)" d="M443 4099h0m35 30h0m0 89h0m17 0h0m-60 15h0m0 119h0" stroke="#00ff14" stroke-width="23.5" stroke-linecap="round" fill="none"/><path transform="scale(.1)" d="M555 4024h0m-155 30h0m-94 104h0m154 90h0m-8 44h0" stroke="#0cfd14" stroke-width="23.5" stroke-linecap="round" fill="none"/><path transform="scale(.1)" d="M469 4114h0m-9 15h0m-8-15h0m-95 104h0m129 15h0m-86 0h0m103 59h0" stroke="#0cff15" stroke-width="23.5" stroke-linecap="round" fill="none"/><path transform="scale(.1)" d="M280 4233h0m172 89h0m8-15h0m43 15h0" stroke="#10c710" stroke-width="23.5" stroke-linecap="round" fill="none"/><path transform="scale(.1)" d="M374 4069h0m-8 74h0m94 194h0" stroke="#147e0b" stroke-width="23.5" stroke-linecap="round" fill="none"/><path transform="scale(.1)" d="M529 3860h0m-17 30h0m-163 134h0m-26 15h0" stroke="#183b06" stroke-width="23.5" stroke-linecap="round" fill="none"/><path transform="scale(.1)" d="M417 3995h0m-8 44h0m26 15h0m25 45h0m0 119h0m35 30h0m-17 0h0m0 30h0m-9-45h0m-26 104h0m52-30h0m17 0h0m-60 45h0m-17 149h0" stroke="#18ff16" stroke-width="23.5" stroke-linecap="round" fill="none"/><path transform="scale(.1)" d="M452 3965h0m103 30h0m-163 104h0m25-45h0m104 60h0m-69 29h0m-26-14h0m17 89h0m-8 45h0m-9 15h0m-17 0h0m-129-15h0m43 44h0" stroke="#19fd16" stroke-width="23.5" stroke-linecap="round" fill="none"/><path transform="scale(.1)" d="M512 3831h0m247 304h0m-652 82h0m669-21h0m14 16h0m-605 155h0m-8 15h0m695 34h0m24 46h0m-12 38h0" stroke="#1b0a03" stroke-width="23.5" stroke-linecap="round" fill="none"/><path transform="scale(.1)" d="M521 3846h0m-155 149h0m-121 446h0" stroke="#1b0d03" stroke-width="23.5" stroke-linecap="round" fill="none"/><path transform="scale(.1)" d="M486 3846h0m52 0h0m-181 163h0m-17 30h0m404 224h0" stroke="#1b1203" stroke-width="23.5" stroke-linecap="round" fill="none"/><path transform="scale(.1)" d="M607 3816h0m-224 268h0m155 30h0m-9 15h0m-94 14h0m-18 0h0m-129 75h0m78-45h0m103 119h0m9 15h0" stroke="#20c812" stroke-width="23.5" stroke-linecap="round" fill="none"/><path transform="scale(.1)" d="M641 3875h0m-112 45h0m-77 104h0m-17 0h0m-9-15h0m0 30h0m-9-15h0m-8-15h0m43 75h0m26 15h0m43 44h0m-35-29h0m-43 15h0m-8-15h0m60 74h0m17 90h0m-9-15h0m-34 0h0m-9 15h0m-8-45h0m0 30h0m-60-15h0m94 44h0m26 45h0m-103 149h0m0 30h0m-43-45h0m34 60h0" stroke="#24ff18" stroke-width="23.5" stroke-linecap="round" fill="none"/><path transform="scale(.1)" d="M598 3860h0m34 0h0m-111 45h0m-86 90h0m-35 89h0m9-15h0m17 0h0m86 60h0m-9-15h0m-103 0h0m-17 29h0m-43 75h0m112-15h0m-9 45h0m-120 0h0m-78 15h0m35 29h0m163 15h0m52 60h0m-69 0h0m-34 30h0" stroke="#26fd17" stroke-width="23.5" stroke-linecap="round" fill="none"/><path transform="scale(.1)" d="M546 3860h0m-60 45h0m-112 104h0m-34 0h0m-138 149h0m138 90h0m-77 193h0" stroke="#29820d" stroke-width="23.5" stroke-linecap="round" fill="none"/><path transform="scale(.1)" d="M615 3831h0m9 15h0m17-30h0m9 15h0m0 59h0m0 30h0m-78-45h0m-17 30h0m-9-15h0m-86 0h0m61 45h0m-129 74h0m154 120h0m-60 14h0m-103-29h0m-43 44h0m-86 0h0m-69 0h0m52 30h0m86 30h0m-9 15h0m-26 15h0m147 44h0m94 45h0m-26 15h0m-43 15h0m-25 15h0m17 30h0m43 14h0" stroke="#30c914" stroke-width="23.5" stroke-linecap="round" fill="none"/><path transform="scale(.1)" d="M667 3831h0m-43 44h0m-17 0h0m0 30h0m-18-30h0m0 30h0m-180 75h0m34 29h0m-8 75h0m60 15h0m0 30h0m-78-15h0m-51 89h0m8 15h0m52 0h0m43-15h0m9-15h0m8 15h0m35 60h0m-9-15h0m-9-15h0m-8 45h0m-9-15h0m-60-15h0m-43-15h0m-9 45h0m-17 29h0m60 45h0m18 89h0m-35 30h0" stroke="#30ff19" stroke-width="23.5" stroke-linecap="round" fill="none"/><path transform="scale(.1)" d="M598 3801h0m-60 74h0m-35 0h0m-111 164h0m-9-15h0m-34 60h0m137 298h0m-241-30h0m-17 119h0" stroke="#314109" stroke-width="23.5" stroke-linecap="round" fill="none"/><path transform="scale(.1)" d="M581 3860h0m43-44h0m17 30h0m9 14h0m8 45h0m-77-15h0m-43 15h0m-103 60h0m-35 30h0m0 29h0m-206 60h0m223 0h0m9 15h0m52-30h0m77 74h0m-17 0h0m-69 0h0m-69 0h0m-43 15h0m-51 60h0m43-45h0m25 15h0m43 45h0m0 30h0m-8-15h0m-26 15h0m-9-15h0m-77 15h0m-34-30h0m0 30h0m-18-30h0m181 104h0m69 0h0m26-15h0m-215 104h0m111 15h0" stroke="#33fd19" stroke-width="23.5" stroke-linecap="round" fill="none"/><path transform="scale(.1)" d="M202 4397h0" stroke="#361006" stroke-width="23.5" stroke-linecap="round" fill="none"/><path transform="scale(.1)" d="M701 4278h0m-86 0h0m78 44h0m146 45h0m-155 30h0m-516-30h0m77 45h0" stroke="#361306" stroke-width="23.5" stroke-linecap="round" fill="none"/><path transform="scale(.1)" d="M503 3816h0m18 0h0m-172 238h0m17 0h0m352 283h0m86 60h0m-584-30h0m-35 30h0m645 104h0" stroke="#361506" stroke-width="23.5" stroke-linecap="round" fill="none"/><path transform="scale(.1)" d="M529 3801h0m-155 238h0m-8-15h0m-9 15h0m-17 30h0m-163 253h0m584-30h0m-60 75h0m-404 15h0m-77 44h0" stroke="#361a06" stroke-width="23.5" stroke-linecap="round" fill="none"/><path transform="scale(.1)" d="M529 3890h0m-155 209h0m0 30h0m0 29h0m-154 30h0m68 149h0m224 60h0m-43-15h0m-43 15h0m-9-15h0m-215 74h0m9-15h0m224-29h0m103 0h0" stroke="#3d8510" stroke-width="23.5" stroke-linecap="round" fill="none"/><path transform="scale(.1)" d="M658 3875h0m-258 90h0m26 15h0m17 59h0m-189 0h0m-9 15h0m215 15h0m9 15h0m34 0h0m18 0h0m8 15h0m-69 59h0m-111 45h0m34 0h0m17 0h0m60-15h0m9-15h0m-77 105h0m-26-45h0m-60 74h0m8-15h0m0 30h0m112-15h0m95-15h0m-112 75h0m-35 59h0m18 30h0m17 0h0m26 15h0m-9 15h0m-9-15h0m0 30h0m-17 60h0" stroke="#3dff1b" stroke-width="23.5" stroke-linecap="round" fill="none"/><path transform="scale(.1)" d="M632 3801h0m-17 0h0m-51 0h0m8 45h0m35 0h0m25-15h0m78-15h0m17 59h0m-103 30h0m-69-30h0m-60 45h0m-26-45h0m-77 105h0m172 149h0m-61 14h0m-94-14h0m0 29h0m-43-44h0m-17 0h0m-112 44h0m-60 45h0m137 0h0m9-15h0m8 15h0m26-15h0m52 30h0m34 60h0m-77-15h0m-17-30h0m-18 0h0m-17 30h0m-60 15h0m-52 0h0m-25-45h0m111 74h0m9 15h0m9 15h0m51 0h0m121 0h0m43 15h0m-9 15h0m-34 0h0m-35 30h0m-137 0h0m-9-45h0m129 74h0m43-14h0m9 14h0m8-14h0m35 0h0" stroke="#40cb16" stroke-width="23.5" stroke-linecap="round" fill="none"/><path transform="scale(.1)" d="M589 3846h0m26 14h0m52 60h0m-52-30h0m-17 0h0m-26 15h0m-155 60h0m86-30h0m9 15h0m26 74h0m-86-29h0m-250 14h0m0 60h0m18 30h0m43-45h0m8 45h0m181-45h0m43 15h0m17 30h0m43 15h0m-43 44h0m-86 0h0m-34-29h0m34 59h0m26-15h0m51 0h0m-103 90h0m-51 0h0m-9 15h0m-34-30h0m0 30h0m-9-45h0m-9 45h0m-129-45h0m-8 15h0m-9 15h0m155 29h0m69 30h0m17-30h0m52 30h0m34 30h0m-77 74h0m-18 120h0m18 0h0" stroke="#40fd1a" stroke-width="23.5" stroke-linecap="round" fill="none"/><path transform="scale(.1)" d="M546 3801h0m9 45h0m-69 29h0m-8 15h0m-267 313h0m9 15h0m25-45h0m-60 105h0m69 29h0m9-15h0m481 0h0m-249 105h0m-17 0h0m-190 0h0m-68 59h0m51 0h0" stroke="#49470c" stroke-width="23.5" stroke-linecap="round" fill="none"/><path transform="scale(.1)" d="M495 3950h0m77 45h0m-26 14h0m-25-14h0m-310 89h0m9-15h0m8-15h0m0 30h0m9-15h0m275 0h0m52 0h0m-172 149h0m94-45h0m52 0h0m8 15h0m-17 60h0m-8-15h0m-155 59h0m8 45h0m9-15h0m17 0h0m9-15h0m0 30h0m8-45h0m0 30h0m112-15h0m-129 45h0m-8 15h0m-18 89h0m9-15h0m17 0h0m26 15h0m26-15h0m43 75h0m-26-15h0m-43 15h0m-26-15h0m-17-30h0m0 90h0m34 0h0" stroke="#49ff1c" stroke-width="23.5" stroke-linecap="round" fill="none"/><path transform="scale(.1)" d="M667 3801h0m-17 0h0m8 15h0m60 104h0m-86 0h0m-86 0h0m-120 0h0m-17 30h0m198-15h0m-35 89h0m-335 15h0m-17-30h0m-26 15h0m86 60h0m163-15h0m43 15h0m9 74h0m-17 0h0m-86 0h0m-52 30h0m52 0h0m17 0h0m120 30h0m17 30h0m-223 30h0m-69-30h0m-52 0h0m-34 0h0m163 74h0m18-30h0m51 0h0m86 60h0m-103 60h0m60 44h0m17-30h0m52 0h0m-77 105h0" stroke="#4dfd1c" stroke-width="23.5" stroke-linecap="round" fill="none"/><path transform="scale(.1)" d="M641 3905h0m-77-15h0m0 30h0m-104 0h0m-17 0h0m121 89h0m-35 0h0m-120 90h0m137 0h0m26 15h0m-43 44h0m-258 0h0m-137 60h0m34 0h0m17-30h0m69 30h0m26-15h0m17 0h0m34-30h0m52 0h0m206 0h0m-318 75h0m0 30h0m-94-15h0m-35-30h0m396 59h0m-95 75h0m-43 15h0m-26 15h0m-77 15h0m0 29h0m17 0h0m86-29h0m-43 134h0" stroke="#50cc18" stroke-width="23.5" stroke-linecap="round" fill="none"/><path transform="scale(.1)" d="M701 4307h0m-77 134h0" stroke="#511809" stroke-width="23.5" stroke-linecap="round" fill="none"/><path transform="scale(.1)" d="M529 3831h0m181 461h0m-516 60h0m0 30h0m-17-30h0m8 74h0m422 15h0" stroke="#511b09" stroke-width="23.5" stroke-linecap="round" fill="none"/><path transform="scale(.1)" d="M331 3995h0m-8 74h0m34 0h0m361 209h0m-567 59h0m43-15h0m533 0h0m-490 75h0m-43 44h0m34-29h0m9 14h0m17 0h0m353 45h0" stroke="#511e09" stroke-width="23.5" stroke-linecap="round" fill="none"/><path transform="scale(.1)" d="M469 3846h0m9 14h0m77-44h0m-232 193h0m43 75h0m-138 89h0m447 0h0m26 164h0m60-15h0m-481 30h0m-17 30h0m-9 15h0m-43-45h0m17 89h0m26 15h0m17-30h0" stroke="#512309" stroke-width="23.5" stroke-linecap="round" fill="none"/><path transform="scale(.1)" d="M581 3801h0m-17 59h0m-52 60h0m-43-15h0m-34 0h0m-69 30h0m327 0h0m-379 89h0m43 105h0m-189 29h0m-17 30h0m86 30h0m17-30h0m43-15h0m-86 119h0m17 0h0m17 0h0m293 30h0m-9 45h0m0 30h0m-223-30h0m-18 0h0m121 59h0m8-14h0m86 0h0" stroke="#528912" stroke-width="23.5" stroke-linecap="round" fill="none"/><path transform="scale(.1)" d="M658 3846h0m-198 134h0m43-15h0m35 30h0m-26 14h0m-17 0h0m-224 30h0m-8-15h0m-18-29h0m0 29h0m-17 0h0m-8 15h0m-9-44h0m34 89h0m9-15h0m301-15h0m-52 149h0m9-15h0m60-15h0m9 15h0m-43 75h0m-9 15h0m-137 59h0m-9 15h0m-17 60h0m155 29h0m8 45h0m-8-15h0m-9 45h0m-43-45h0m-9 15h0m-8-15h0m-9 15h0m-51 0h0m-18 0h0m9 45h0m26 15h0m17 0h0" stroke="#55ff1e" stroke-width="23.5" stroke-linecap="round" fill="none"/><path transform="scale(.1)" d="M667 3860h0m17 30h0m-9 15h0m-8-15h0m-52 30h0m-344 60h0m164-45h0m43 15h0m8-15h0m69 0h0m9 45h0m137-30h0m-120 89h0m-35 0h0m-292-30h0m-43 15h0m-26 15h0m9 15h0m112 45h0m258 59h0m-121 30h0m112 15h0m9-15h0m-26 45h0m-344 30h0m155 59h0m25-15h0m-25 134h0m17 0h0m163-15h0m-69 90h0m-111 15h0m94 15h0m0 29h0m17 0h0" stroke="#5afe1d" stroke-width="23.5" stroke-linecap="round" fill="none"/><path transform="scale(.1)" d="M598 3831h0m77 15h0m-223 59h0m-43 15h0m-172 60h0m206-30h0m17 0h0m69 0h0m129-15h0m17 0h0m43 15h0m-154 149h0m-121 59h0m-129-15h0m-26 15h0m-94-15h0m-17 0h0m-18 0h0m18 30h0m94 45h0m43-45h0m121 30h0m94-15h0m35 30h0m8-15h0m-215 45h0m0 30h0m-26-15h0m-94-15h0m-9-15h0m112 74h0m43 75h0m-17 0h0m-43 44h0m120 0h0m103 0h0" stroke="#60cd1a" stroke-width="23.5" stroke-linecap="round" fill="none"/><path transform="scale(.1)" d="M693 3875h0m-18 0h0m-163 105h0m-9 15h0m-25 44h0m-9-44h0m-9 14h0m-223 0h0m-26 45h0m69 0h0m189 0h0m60 15h0m17 0h0m9 15h0m17-30h0m-60 164h0m-120 89h0m68 149h0m9-15h0m17 0h0m9 15h0m8-15h0m9 15h0m-9 45h0m-8-15h0m-9 15h0m-8-15h0m0 30h0m-26-15h0m-60 15h0m-9-15h0m34 30h0" stroke="#61ff1f" stroke-width="23.5" stroke-linecap="round" fill="none"/><path transform="scale(.1)" d="M564 3831h0m25-15h0m-258 208h0m327 60h0m-438 74h0m-78 45h0m86 0h0m516 30h0m-593 74h0m8-15h0m78 45h0m507 15h0m-241 30h0m-163-15h0m-60 74h0m266 75h0" stroke="#624d0f" stroke-width="23.5" stroke-linecap="round" fill="none"/><path transform="scale(.1)" d="M581 3831h0m51 59h0m-129 15h0m-163 194h0m241 30h0m-232 14h0m-198 15h0m0 60h0m8-15h0m9-15h0m26 15h0m51 0h0m43-15h0m18 0h0m111 15h0m164 15h0m-344 60h0m-78-15h0m-8 15h0m43 14h0m86 30h0m258 30h0m-17 30h0m-61 15h0m-51 0h0m-95-15h0m-26 44h0m35 120h0" stroke="#668c15" stroke-width="23.5" stroke-linecap="round" fill="none"/><path transform="scale(.1)" d="M684 3860h0m26 15h0m-17 30h0m-224 60h0m17 0h0m35 0h0m17 0h0m17 0h0m-26 74h0m-17 0h0m-43-15h0m-267 75h0m52 0h0m34-30h0m250-15h0m8 104h0m-25 45h0m-190 89h0m18 120h0m180 44h0m9 15h0m-17 30h0m-78 15h0m-69 0h0m78 15h0" stroke="#67fe1f" stroke-width="23.5" stroke-linecap="round" fill="none"/><path transform="scale(.1)" d="M693 4382h0m-491-15h0" stroke="#6c200d" stroke-width="23.5" stroke-linecap="round" fill="none"/><path transform="scale(.1)" d="M185 4337h0m17 0h0m508-15h0m17-30h0m-17 90h0m-490 15h0m-52 0h0m86 89h0" stroke="#6c230d" stroke-width="23.5" stroke-linecap="round" fill="none"/><path transform="scale(.1)" d="M538 3816h0m-189 179h0m-18 59h0m-77 283h0m482-30h0m17 30h0m17-30h0m52 90h0m-61-45h0m-94 15h0m-422 15h0m-8-15h0m-9-15h0m-51 60h0m34 0h0m602 0h0m0 29h0m60-15h0m-77 45h0m-508 15h0m-43-15h0" stroke="#6c260d" stroke-width="23.5" stroke-linecap="round" fill="none"/><path transform="scale(.1)" d="M495 3890h0m-155 90h0m-26 15h0m17 89h0m26 15h0m396 179h0m-17 0h0m-52 59h0m43 15h0m-181 15h0m0 30h0m-8-15h0m-258 0h0m-86 30h0m43 44h0m26-44h0m17 0h0m-43 74h0" stroke="#6c2b0d" stroke-width="23.5" stroke-linecap="round" fill="none"/><path transform="scale(.1)" d="M710 3905h0m-232 75h0m68 0h0m-43 44h0m-8 15h0m-9-15h0m-8-15h0m-207 60h0m267 15h0m-181 342h0m121 30h0m34 30h0m-9-15h0m-17 0h0m0 60h0m26 44h0" stroke="#6eff21" stroke-width="23.5" stroke-linecap="round" fill="none"/><path transform="scale(.1)" d="M684 3831h0m9-15h0m25 44h0m-34 60h0m-103 0h0m-284 45h0m17-30h0m103 0h0m26 45h0m103-30h0m138 0h0m-103 59h0m-60 15h0m-61 15h0m43 15h0m86 0h0m-17 89h0m-249 15h0m-26-15h0m-155 30h0m17 0h0m276 0h0m86 0h0m17 30h0m8 15h0m9 15h0m-335 15h0m0 30h0m-9-15h0m163 104h0m-8-15h0m-26 45h0m-26 15h0m17 29h0m9 105h0" stroke="#70ce1c" stroke-width="23.5" stroke-linecap="round" fill="none"/><path transform="scale(.1)" d="M693 3846h0m25 44h0m-17 0h0m-481 90h0m34-30h0m241 30h0m34 0h0m43-45h0m-8 104h0m-78-44h0m-206 0h0m-9 14h0m-43-14h0m35 89h0m94 313h0m-8 74h0m86 90h0m17 0h0m17-30h0" stroke="#74fe21" stroke-width="23.5" stroke-linecap="round" fill="none"/><path transform="scale(.1)" d="M546 3831h0m26-15h0m-258 149h0m35-30h0m25 45h0m284-15h0m-335 134h0m284-15h0m86-30h0m-499 119h0m8 15h0m0 30h0m61-15h0m17-30h0m-112 105h0m-26 14h0m43 15h0m35 0h0m8 15h0m9-15h0m34 0h0m422 45h0m-430 0h0m25 104h0m-25 15h0m0 30h0" stroke="#7b5312" stroke-width="23.5" stroke-linecap="round" fill="none"/><path transform="scale(.1)" d="M460 3860h0m18 60h0m-172 60h0m77-15h0m17-30h0m52 0h0m172 0h0m17 0h0m69 30h0m-396 119h0m353 15h0m-327 30h0m-155 89h0m78-45h0m326 30h0m18-30h0m-379 90h0m-17-30h0m-17 0h0m129 104h0m129 45h0m-129 15h0m-9-45h0m43 104h0m-26 75h0m198 44h0" stroke="#7b8f17" stroke-width="23.5" stroke-linecap="round" fill="none"/><path transform="scale(.1)" d="M684 3801h0m-9 15h0m26 15h0m0 29h0m17-29h0m-17 89h0m-103 0h0m-327 30h0m9 15h0m258-30h0m34 30h0m26-15h0m112-15h0m-413 89h0m-9 75h0m9-15h0m224-30h0m137 89h0m-473-14h0m370 44h0m95 45h0m25-15h0m-129 75h0m-206 59h0m206-30h0m-215 105h0m207 29h0m8 15h0m0 30h0m-180 45h0m0 30h0m94-15h0" stroke="#81d01e" stroke-width="23.5" stroke-linecap="round" fill="none"/><path transform="scale(.1)" d="M366 3965h0m266 134h0m-34 30h0m-430 178h0m34 0h0m18 30h0m25-15h0m18 0h0m8 15h0m404-15h0m69 0h0m9-15h0m-17 60h0m-26-15h0m-439 15h0m585 119h0m-267 45h0" stroke="#873310" stroke-width="23.5" stroke-linecap="round" fill="none"/><path transform="scale(.1)" d="M718 4397h0m-68 0h0m-26-15h0m-17 0h0m-448-30h0m448 60h0m103 0h0m-86 59h0" stroke="#882810" stroke-width="23.5" stroke-linecap="round" fill="none"/><path transform="scale(.1)" d="M736 4248h0m-568 89h0m516-30h0m112 15h0m-52 60h0m-43 15h0m-43-15h0m-8-15h0m-18 0h0m0 30h0m-8-45h0m-60 15h0m-353 15h0m404 74h0m17 0h0m18-30h0m8-14h0m0 29h0m17-29h0m95 44h0m69 0h0m-60 15h0" stroke="#882b10" stroke-width="23.5" stroke-linecap="round" fill="none"/><path transform="scale(.1)" d="M357 3980h0m258 119h0m9-15h0m-17 59h0m-9 75h0m112 45h0m-69 0h0m-482 59h0m18-30h0m516 0h0m25 15h0m61 15h0m34 60h0m-26 15h0m-51 0h0m-18-30h0m-34 0h0m-9 15h0m-8 15h0m-9-45h0m17 89h0m104-29h0m17 0h0m8 14h0m18 30h0m-577 45h0" stroke="#882e10" stroke-width="23.5" stroke-linecap="round" fill="none"/><path transform="scale(.1)" d="M288 3950h0m0 30h0m43-15h0m95-15h0m43-15h0m146 15h0m35 0h0m0 30h0m17-30h0m0 89h0m-86 30h0m69 30h0m34 0h0m0 30h0m-17 29h0m-78-15h0m-8 15h0m-379-29h0m405 74h0m-52 60h0m-370-15h0m146 134h0m9 74h0m0 30h0m-9-15h0m-34 60h0" stroke="#8f931a" stroke-width="23.5" stroke-linecap="round" fill="none"/><path transform="scale(.1)" d="M710 3846h0m-465 119h0m9 15h0m9-15h0m301-15h0m25-15h0m-301 104h0m-8-15h0m-17-29h0m-86 89h0m8-15h0m0 30h0m301-45h0m86 30h0m-378 30h0m206 59h0m-51 209h0m-9 44h0m189 90h0m-163-15h0m-9-15h0m-8 15h0m-9 15h0m129 45h0m9 14h0m8-14h0m9-15h0m0 29h0m8-44h0m0 30h0m9-15h0m9 15h0" stroke="#91d120" stroke-width="23.5" stroke-linecap="round" fill="none"/><path transform="scale(.1)" d="M331 3935h0m301 15h0m35 59h0m-86 90h0m129 44h0m-17-29h0m-78 44h0m-404 15h0m60 15h0m327 0h0m-52 149h0m310 89h0m9-14h0m-310 89h0m-17 60h0" stroke="#935915" stroke-width="23.5" stroke-linecap="round" fill="none"/><path transform="scale(.1)" d="M693 3965h0m-52 59h0m-335 15h0m8 15h0m284 45h0m43-15h0m77 74h0m-86 0h0m-8-44h0m86 59h0m17 30h0m-60 45h0m-60-15h0m-26 15h0m-370 74h0m456 15h0m120 30h0m-8-15h0m0 30h0m-224-30h0m206 60h0m61 14h0m25 45h0m-17 0h0m-180 15h0m-344 0h0m-9-15h0m-26 15h0m336 104h0" stroke="#a23b13" stroke-width="23.5" stroke-linecap="round" fill="none"/><path transform="scale(.1)" d="M589 4292h0m198 15h0m-146 45h0m0 30h0m-26-15h0m-8-15h0m-9 15h0m-26 15h0m17 59h0m35-29h0m17 0h0m0 29h0m60-15h0m-103 60h0" stroke="#a33013" stroke-width="23.5" stroke-linecap="round" fill="none"/><path transform="scale(.1)" d="M650 4278h0m-69 89h0m-310 30h0m379 59h0m17-30h0m26-14h0m51 0h0m-103 59h0m-43 75h0m17 29h0m-26 15h0" stroke="#a33313" stroke-width="23.5" stroke-linecap="round" fill="none"/><path transform="scale(.1)" d="M615 3980h0m17 149h0m-17 0h0m103 119h0m-8-15h0m-9 15h0m-17 30h0m-9-45h0m0 30h0m-17 0h0m-26 15h0m-60-15h0m35 29h0m8 15h0m155 30h0m60 45h0m-60-15h0m-9 15h0m-8-15h0m-164 15h0m0 30h0m112 44h0m52-30h0m34 30h0m9-15h0m8 15h0m26-15h0m26 15h0m-17 30h0m-241 30h0m-318-45h0m284 75h0m17 0h0m8 15h0" stroke="#a33613" stroke-width="23.5" stroke-linecap="round" fill="none"/><path transform="scale(.1)" d="M306 3950h0m77-15h0m9 15h0m189 0h0m0 30h0m-284 15h0m-95 44h0m448 30h0m17 0h0m26 74h0m-18-29h0m0 29h0m-25-14h0m-52 29h0m-181 15h0m224 0h0m0 30h0m9-15h0m17 0h0m0 30h0m26-15h0m-336 164h0m-8-15h0m-26 15h0m0 89h0m215 45h0m-215 15h0" stroke="#a4961c" stroke-width="23.5" stroke-linecap="round" fill="none"/><path transform="scale(.1)" d="M727 3846h0m-404 104h0m17 0h0m258 30h0m9-15h0m34 0h0m26 15h0m8-15h0m18 30h0m-35 29h0m-17-29h0m-52 0h0m-283 14h0m292 60h0m95 15h0m8 74h0m-17 0h0m-26-44h0m-17 29h0m-26 45h0m9-15h0m34 0h0m26 15h0m17 0h0m9 15h0m26 15h0m-172 30h0m-258 208h0m0 60h0m-18 0h0m-8-15h0m266 74h0m18 0h0" stroke="#ac5f18" stroke-width="23.5" stroke-linecap="round" fill="none"/><path transform="scale(.1)" d="M701 4009h0m-51 30h0m-362-30h0m9 45h0m9 15h0m352-15h0m9 75h0m-499 0h0m490 74h0m-103 89h0m-224 60h0m-8 134h0m-9 45h0m164 15h0m43-15h0m8 15h0" stroke="#b89a1f" stroke-width="23.5" stroke-linecap="round" fill="none"/><path transform="scale(.1)" d="M323 3980h0m34-30h0m267 15h0m8 15h0m43 15h0m-43 14h0m-8-14h0m-26 14h0m-9 15h0m26 45h0m86 0h0m0 30h0m-94 15h0m-18 0h0m104 59h0m25 15h0m0 30h0m-68 30h0m-9-15h0m-69 0h0m9 104h0m60-45h0m34 0h0m0 60h0m9 104h0m34 0h0m129-44h0m18 29h0m0 30h0m-52 0h0m-9 45h0m-17 0h0m-516 0h0m284 15h0m69 59h0" stroke="#bd4316" stroke-width="23.5" stroke-linecap="round" fill="none"/><path transform="scale(.1)" d="M607 4322h0m197 15h0m-232 15h0m26 74h0m129-14h0m0 29h0m-103 60h0m51 60h0m35 0h0" stroke="#be3916" stroke-width="23.5" stroke-linecap="round" fill="none"/><path transform="scale(.1)" d="M615 4009h0m78 254h0m-9-15h0m-86 30h0m-9-15h0m26 74h0m9-15h0m163 15h0m-34 60h0m-155 0h0m86 29h0m34 0h0m18 0h0m43 15h0m-95 75h0m-52-30h0m-43 15h0m-8-15h0m0 30h0m-9 45h0m9 14h0m17 0h0m86 0h0m9-14h0m8-15h0m-43 44h0" stroke="#be3b16" stroke-width="23.5" stroke-linecap="round" fill="none"/><path transform="scale(.1)" d="M349 3965h0m335 15h0m-77 44h0m17 119h0m103 90h0m-103 0h0m-17 30h0m17 29h0m26 45h0m17-30h0m180 75h0m-8 15h0m-9-45h0m-26 15h0m-8 15h0m-69 0h0m-112 15h0m-34 0h0m-26-15h0m-301-15h0m344 89h0m112-15h0m51 0h0m9-15h0m17 0h0m43-14h0m17 29h0m35 30h0m-78 15h0m-17 0h0m-8 15h0m-9-15h0m0 30h0m-17 0h0m-26-45h0m-26 45h0m-8-45h0m-121 30h0m0 30h0m69 0h0m120 0h0" stroke="#be3e16" stroke-width="23.5" stroke-linecap="round" fill="none"/><path transform="scale(.1)" d="M374 3950h0m301 74h0m-25-15h0m-52 30h0m9 15h0m-430 60h0m447 89h0m-69 119h0m-198 194h0m-26-15h0m-17-30h0m224 60h0m8 15h0" stroke="#c5661b" stroke-width="23.5" stroke-linecap="round" fill="none"/><path transform="scale(.1)" d="M701 3980h0m9 15h0m-9 44h0m-94-44h0m25 74h0m52 0h0m17 60h0m-69 89h0m69 0h0m-69 30h0m-51 30h0m60 44h0m215 75h0m-17 29h0m34 30h0m-51 30h0m-61 15h0m-197 15h0m-9-45h0m0 90h0m224-30h0m-207 59h0" stroke="#d84b1a" stroke-width="23.5" stroke-linecap="round" fill="none"/><path transform="scale(.1)" d="M572 4441h0m60-15h0m18 149h0m17-29h0m0 29h0" stroke="#d9411a" stroke-width="23.5" stroke-linecap="round" fill="none"/><path transform="scale(.1)" d="M693 4233h0m-69 30h0m-26 74h0m34-30h0m-51 119h0m155 30h0m25 15h0m-8 15h0m-43 15h0m-9-15h0m-17 0h0m-9 15h0m-8 15h0m-17 0h0m-9-15h0m-26-15h0m0 30h0m-8-15h0m-18-30h0m-17 0h0m35 90h0m25 14h0m95-14h0m17-30h0" stroke="#d9441a" stroke-width="23.5" stroke-linecap="round" fill="none"/><path transform="scale(.1)" d="M641 4114h0m26 164h0m-52-30h0m-17 0h0m-34 30h0m25 44h0m9-15h0m34 30h0m26-15h0m112 75h0m-206 29h0m129 15h0m120 60h0m-17 0h0m-52 0h0m-17 0h0m-9 15h0m-111 15h0m8 15h0m9-15h0m0 30h0m17 0h0m17-30h0m35 0h0m8 44h0m52-29h0" stroke="#d9461a" stroke-width="23.5" stroke-linecap="round" fill="none"/><path transform="scale(.1)" d="M589 3965h0m43 74h0m-17 0h0m26 15h0m34 0h0m0 30h0m-43 104h0m52 30h0m-129 194h0m327 29h0" stroke="#dd6c1e" stroke-width="23.5" stroke-linecap="round" fill="none"/><path transform="scale(.1)" d="M693 4024h0m-9-15h0m0 30h0m-26-44h0m-34 29h0m-35 60h0m35-30h0m26 104h0m8 75h0m-94 104h0m-9 104h0m9 15h0m180 15h0m-34 0h0m-52 30h0m-344 0h0m-17 0h0m344 89h0" stroke="#f3531d" stroke-width="23.5" stroke-linecap="round" fill="none"/><path transform="scale(.1)" d="M615 4426h0" stroke="#f5491d" stroke-width="23.5" stroke-linecap="round" fill="none"/><path transform="scale(.1)" d="M650 4307h0m172 60h0m-9-15h0m-232 104h0m155 30h0m-43 15h0m-43 45h0m8 15h0m26-15h0m26-15h0m26 15h0" stroke="#f54c1d" stroke-width="23.5" stroke-linecap="round" fill="none"/><path transform="scale(.1)" d="M615 4218h0m-26 15h0m-25 74h0m8-15h0m0 30h0m9-15h0m77-15h0m138 60h0m-207 0h0m-25 45h0m8 15h0m95 44h0m77-15h0m9 15h0m-17 60h0m-18-30h0m-43-15h0m-8 15h0m-9-15h0m-26 45h0m-68-30h0m68 60h0m43-15h0m43 15h0m9-15h0" stroke="#f54f1d" stroke-width="23.5" stroke-linecap="round" fill="none"/></g><g id="mHA"><path transform="scale(.1)" d="M495 3831h0m0 29h0m8-14h0m18 29h0m-138 179h0m95 75h0" stroke="#000000" stroke-width="23.5" stroke-linecap="round" fill="none"/><path transform="scale(.1)" d="M512 3860h0m-129 135h0m9 74h0m51 30h0m35 119h0m17 0h0m232 45h0m-258 59h0" stroke="#001700" stroke-width="23.5" stroke-linecap="round" fill="none"/><path transform="scale(.1)" d="M486 4322h0m-258 60h0m-26 44h0" stroke="#002f00" stroke-width="23.5" stroke-linecap="round" fill="none"/><path transform="scale(.1)" d="M435 4352h0" stroke="#004700" stroke-width="23.5" stroke-linecap="round" fill="none"/><path transform="scale(.1)" d="M435 4233h0m301 104h0" stroke="#007700" stroke-width="23.5" stroke-linecap="round" fill="none"/><path transform="scale(.1)" d="M486 3846h0m26-15h0m17 29h0m-17 30h0m-146 105h0m-9 14h0m-8 15h0m-9 15h0m-17 0h0m51 30h0m26-15h0m60 75h0m-8-15h0m-86 29h0" stroke="#180301" stroke-width="23.5" stroke-linecap="round" fill="none"/><path transform="scale(.1)" d="M521 3846h0m17 0h0m221 289h0m-290-21h0m-362 103h0m669-21h0m14 16h0m-304 21h0m-34 89h0m8-15h0m0 30h0m412 79h0m24 46h0m-12 38h0" stroke="#181b01" stroke-width="23.5" stroke-linecap="round" fill="none"/><path transform="scale(.1)" d="M555 4024h0m-249 134h0m51 60h0m387 45h0m-284-15h0m-60-15h0m-120 0h0m172 59h0m51 0h0m0 30h0" stroke="#183301" stroke-width="23.5" stroke-linecap="round" fill="none"/><path transform="scale(.1)" d="M177 4382h0" stroke="#184b01" stroke-width="23.5" stroke-linecap="round" fill="none"/><path transform="scale(.1)" d="M185 4367h0m60 74h0" stroke="#186201" stroke-width="23.5" stroke-linecap="round" fill="none"/><path transform="scale(.1)" d="M529 3801h0m-26 15h0m43 44h0m61-44h0m-104 59h0m-86 120h0m-25 44h0m-18-30h0m0 30h0m-8-15h0m-9 15h0m-17-30h0m0 60h0m9-15h0m0 30h0m17-30h0m17 30h0m9 15h0m43-45h0m25 45h0m-25 44h0m-18 0h0m-154 298h0" stroke="#300603" stroke-width="23.5" stroke-linecap="round" fill="none"/><path transform="scale(.1)" d="M598 3801h0m-77 15h0m17 59h0m-52 30h0m-34 60h0m103 30h0m-146 44h0m-26-15h0m34 30h0m121 60h0m-9 15h0m-8-15h0m-69 29h0m-26-14h0m-224 29h0m86 60h0m78-45h0m77 45h0m17 0h0m241 60h0m-361-30h0m-17 59h0m146-15h0m26 15h0m17 0h0m327 60h0m-35 30h0m-507-15h0m-52-30h0m-25 74h0m8 45h0" stroke="#301e03" stroke-width="23.5" stroke-linecap="round" fill="none"/><path transform="scale(.1)" d="M478 4248h0m0 30h0m-9-45h0m-34 30h0m-155 0h0m-103 59h0m266 15h0m35-30h0m283-15h0m-60 75h0m-17 30h0m-198-15h0m-284 15h0m-17 0h0m-17-30h0m77 45h0m190 89h0" stroke="#303603" stroke-width="23.5" stroke-linecap="round" fill="none"/><path transform="scale(.1)" d="M495 4248h0m-69 30h0m267 44h0m137 179h0" stroke="#304e03" stroke-width="23.5" stroke-linecap="round" fill="none"/><path transform="scale(.1)" d="M615 4278h0m-206 0h0m309 59h0m-266 15h0" stroke="#306603" stroke-width="23.5" stroke-linecap="round" fill="none"/><path transform="scale(.1)" d="M220 4367h0" stroke="#309603" stroke-width="23.5" stroke-linecap="round" fill="none"/><path transform="scale(.1)" d="M546 3801h0m-68 59h0m51-29h0m26-15h0m43 44h0m17-29h0m9 15h0m8 14h0m18-29h0m0 59h0m-78-15h0m-17 30h0m-9-15h0m-17 30h0m-43-45h0m-26 15h0m61 45h0m-86 60h0m0 29h0m-9-15h0m0 30h0m-9-15h0m-94-15h0m34 60h0m9 15h0m8 15h0m26-15h0m9-15h0m43 15h0m34 30h0m-43 15h0m-8-15h0m-35 0h0m-17 29h0m-9 15h0m78 45h0m43-15h0m-224 268h0" stroke="#480a05" stroke-width="23.5" stroke-linecap="round" fill="none"/><path transform="scale(.1)" d="M555 3846h0m86-30h0m0 59h0m-112 15h0m-8 15h0m-43-15h0m-26 134h0m-43-15h0m-17 0h0m-61-14h0m-8 74h0m103 0h0m52 30h0m68 30h0m-25 14h0m-18-29h0m-17 29h0m-103-29h0m-9 15h0m-34 29h0m-155 0h0m35 30h0m0 30h0m17-30h0m103 30h0m378 60h0m-249-15h0m-9 15h0m-8-45h0m-9 15h0m-155 0h0m-43 15h0m-51 59h0m60-15h0m9-15h0m17 0h0m8 45h0m155-30h0m86 30h0m-26 15h0m-111 45h0m-104 0h0m-94 44h0m17 0h0m17 0h0m9-15h0m17 0h0m0 30h0m17-30h0" stroke="#482105" stroke-width="23.5" stroke-linecap="round" fill="none"/><path transform="scale(.1)" d="M469 3846h0m181 74h0m-138 209h0m-258 29h0m-43 45h0m17-30h0m17 0h0m267 105h0m-9-15h0m-51 0h0m-60-15h0m43 44h0m51 0h0m224 0h0m51 30h0m-266 75h0m-17 0h0m-9-15h0m-9-15h0m-34 0h0m0 30h0m-9-15h0m-137-30h0m-17 30h0m-52-30h0m-26 74h0m17 30h0m18 0h0m232-44h0m43 14h0m112 15h0m0 30h0m-198 45h0m-9 15h0" stroke="#483905" stroke-width="23.5" stroke-linecap="round" fill="none"/><path transform="scale(.1)" d="M675 4173h0m-163 164h0m189 0h0m26-15h0m-232 45h0m-60 15h0m-181 15h0m-60-45h0m-17 0h0m258 60h0" stroke="#485105" stroke-width="23.5" stroke-linecap="round" fill="none"/><path transform="scale(.1)" d="M323 4248h0m-95 164h0m396 29h0m-215 45h0m-43-15h0" stroke="#486905" stroke-width="23.5" stroke-linecap="round" fill="none"/><path transform="scale(.1)" d="M323 4218h0m-9 15h0m430 59h0m-232 105h0m-275 0h0m301 15h0" stroke="#488105" stroke-width="23.5" stroke-linecap="round" fill="none"/><path transform="scale(.1)" d="M701 4307h0" stroke="#489905" stroke-width="23.5" stroke-linecap="round" fill="none"/><path transform="scale(.1)" d="M185 4278h0m-34 59h0m43 45h0" stroke="#48b105" stroke-width="23.5" stroke-linecap="round" fill="none"/><path transform="scale(.1)" d="M632 3801h0m-17 0h0m-77 15h0m26 44h0m8-14h0m17-30h0m18 30h0m17-30h0m8 15h0m9 15h0m9 14h0m77 15h0m-120 0h0m0 30h0m-52-30h0m-17 30h0m-26 15h0m-17-30h0m0 30h0m-26-45h0m0 30h0m-34 0h0m-95 75h0m52 0h0m43-15h0m8 44h0m-43-14h0m0 29h0m-51-29h0m-18 29h0m-17-29h0m0 29h0m17 30h0m26 45h0m60-15h0m9 15h0m9-15h0m60 45h0m-26 14h0m-52-29h0m-8 15h0m0 29h0m-52-29h0m-8-15h0m0 59h0m8 15h0m9 15h0m8-15h0m104 0h0m-198 253h0m8 45h0m-34 0h0m-9-15h0" stroke="#600d07" stroke-width="23.5" stroke-linecap="round" fill="none"/><path transform="scale(.1)" d="M581 3801h0m-17 0h0m0 30h0m17 29h0m86-29h0m43-15h0m-86 59h0m0 30h0m-35-30h0m0 30h0m-8-15h0m-215 45h0m43 45h0m284-45h0m-499 149h0m137 0h0m147-15h0m17 30h0m163-15h0m-103 59h0m-17 0h0m-35 0h0m-103 0h0m-34-29h0m-129 44h0m0 60h0m69 0h0m68 0h0m95-15h0m17 0h0m258 30h0m-241 0h0m-17 30h0m-43 15h0m-17-30h0m-129 15h0m-34-30h0m25 74h0m190 30h0m17 0h0m26-15h0m301 75h0m-310-30h0m-34 0h0m-284 45h0m17 0h0m26 44h0m26-44h0m550 0h0" stroke="#602507" stroke-width="23.5" stroke-linecap="round" fill="none"/><path transform="scale(.1)" d="M357 4158h0m-26 45h0m78 15h0m112 45h0m-104-30h0m-34 0h0m0 30h0m-9 15h0m-25-45h0m-18 0h0m-17 30h0m-60 15h0m-9-45h0m-43 45h0m-51 29h0m34 30h0m17 0h0m35 0h0m17 0h0m43-15h0m9 15h0m51-30h0m0 30h0m69 0h0m112-15h0m189-30h0m9 15h0m25 45h0m-17 0h0m-34 30h0m-17 0h0m-147-15h0m0 30h0m-25-45h0m-18 30h0m-60 15h0m-103-30h0m-43-15h0m-52 30h0m-25 15h0m-43 15h0m103 0h0m137 0h0m0 29h0m9-15h0m9 15h0m43-15h0m8-14h0m17 0h0m18 0h0m292 29h0m-413 30h0" stroke="#603d07" stroke-width="23.5" stroke-linecap="round" fill="none"/><path transform="scale(.1)" d="M564 4129h0m-396 29h0m60 45h0m26-15h0m43-15h0m17 30h0m103 60h0m-240-30h0m68 59h0m439 45h0m69 0h0m17-30h0m-232 75h0m-9 15h0m-241-30h0m-60-15h0m-60 45h0m138 29h0m567 0h0" stroke="#605507" stroke-width="23.5" stroke-linecap="round" fill="none"/><path transform="scale(.1)" d="M658 3905h0m-438 253h0m-78 45h0m611 75h0m-344-30h0m-198 44h0m499 30h0m17 30h0m-310 0h0m-137 30h0m-78-15h0m207 59h0m60-14h0m-232 74h0" stroke="#606c07" stroke-width="23.5" stroke-linecap="round" fill="none"/><path transform="scale(.1)" d="M177 4203h0m146-15h0m51 60h0" stroke="#608407" stroke-width="23.5" stroke-linecap="round" fill="none"/><path transform="scale(.1)" d="M151 4188h0m275 30h0m310 60h0m-241 0h0m-336 14h0m508 75h0m-121 149h0" stroke="#609c07" stroke-width="23.5" stroke-linecap="round" fill="none"/><path transform="scale(.1)" d="M512 4248h0m-146 15h0m-138 29h0m301 75h0m-223 0h0m-69 0h0" stroke="#60b407" stroke-width="23.5" stroke-linecap="round" fill="none"/><path transform="scale(.1)" d="M263 4263h0m43 134h0m490 74h0" stroke="#60cc07" stroke-width="23.5" stroke-linecap="round" fill="none"/><path transform="scale(.1)" d="M581 3831h0m8 15h0m69 29h0m-17 30h0m-9-15h0m-17 0h0m-17 0h0m-95 15h0m-60 15h0m-129 45h0m35-30h0m17 30h0m34 0h0m26 15h0m77-45h0m-51 60h0m-112 104h0m69 0h0m120 0h0m-103 59h0m-34-29h0m-43 74h0m34-30h0m0 30h0m17 0h0m26-15h0m26-15h0" stroke="#781009" stroke-width="23.5" stroke-linecap="round" fill="none"/><path transform="scale(.1)" d="M546 3831h0m26-15h0m43 44h0m52 60h0m-95-15h0m-8-15h0m0 30h0m-104 0h0m-103 60h0m17 0h0m43-15h0m95-15h0m52 59h0m-35 0h0m-86 30h0m-241-30h0m0 60h0m18 30h0m103 0h0m129-45h0m17 30h0m43 15h0m9-15h0m86 0h0m8 15h0m-60 15h0m-26 44h0m-17 0h0m-52 0h0m-111-15h0m-104 60h0m86-30h0m86 30h0m52-30h0m34 0h0m78 45h0m8-45h0m9 45h0m138 30h0m-26 15h0m-361 0h0m-43-15h0m0 30h0m-9-45h0m-9 45h0m-17 29h0m26-15h0m69 30h0m447 60h0m-77-15h0m-215 15h0m-52-30h0m-155 30h0m-26 44h0m0 30h0m9-44h0m0 29h0m77-15h0m-111 45h0m0 30h0m60 45h0" stroke="#782809" stroke-width="23.5" stroke-linecap="round" fill="none"/><path transform="scale(.1)" d="M658 3965h0m-404 74h0m-9 15h0m18 0h0m8 45h0m224-30h0m8 15h0m43 15h0m61 44h0m-9-14h0m-17 0h0m-9-15h0m-370 74h0m52 30h0m26-45h0m8 15h0m9 15h0m163-15h0m181 75h0m-241 0h0m-34-30h0m-95 15h0m-94 15h0m-18 0h0m-8-15h0m0 30h0m-9-15h0m26 44h0m0 30h0m9-45h0m17 0h0m8 15h0m18 0h0m8 15h0m9-15h0m8 15h0m18 0h0m8 15h0m43-45h0m69 0h0m52 30h0m249-15h0m95 15h0m17 0h0m-9 75h0m-43-15h0m-8 15h0m-18-30h0m-17 30h0m-26-15h0m-8 15h0m-9-45h0m-34 0h0m0 30h0m-60-15h0m-104 30h0m-51 0h0m-9-15h0m-26 15h0m-103-30h0m-60 15h0m-52-30h0m155 89h0m78-15h0m0 30h0m215-44h0m8 44h0m43-15h0m17 0h0m35-29h0m86 0h0m26 44h0m17 0h0m17 30h0m-430 0h0m-9-15h0m0 30h0m-172 0h0m112 45h0m17 0h0m18 0h0m8 15h0m189-30h0" stroke="#784009" stroke-width="23.5" stroke-linecap="round" fill="none"/><path transform="scale(.1)" d="M271 4158h0m-120 0h0m-17 60h0m17 0h0m8-15h0m9-15h0m17 0h0m9-15h0m0 30h0m8 15h0m61-15h0m43-15h0m34 90h0m-103 0h0m-78-45h0m-17 59h0m17 30h0m26-15h0m35 30h0m60-15h0m26-15h0m438 15h0m-34 30h0m-17 0h0m-9 15h0m-34 30h0m-43-15h0m-69-30h0m-129 15h0m223 89h0m18-30h0m8-14h0m17 0h0m95 44h0m-335 15h0" stroke="#785809" stroke-width="23.5" stroke-linecap="round" fill="none"/><path transform="scale(.1)" d="M624 4084h0m-456 194h0m370 14h0m180 15h0m-86 90h0m147 15h0m25 14h0m-180 45h0" stroke="#787009" stroke-width="23.5" stroke-linecap="round" fill="none"/><path transform="scale(.1)" d="M538 4024h0m-370 194h0m103 60h0m404 44h0m18-30h0m60 15h0m-95 75h0m-26-15h0m-189 0h0m-43 45h0" stroke="#788809" stroke-width="23.5" stroke-linecap="round" fill="none"/><path transform="scale(.1)" d="M632 4099h0m-111 193h0m197 105h0m-68-30h0m-387-15h0m146 104h0m370 15h0" stroke="#78a009" stroke-width="23.5" stroke-linecap="round" fill="none"/><path transform="scale(.1)" d="M693 4054h0m-413 149h0m112 75h0m-250-45h0m172 89h0" stroke="#78b809" stroke-width="23.5" stroke-linecap="round" fill="none"/><path transform="scale(.1)" d="M460 4069h0m-34 238h0" stroke="#78cf09" stroke-width="23.5" stroke-linecap="round" fill="none"/><path transform="scale(.1)" d="M667 3801h0m-207 59h0m138-29h0m60-15h0m17 30h0m-129 74h0m-68 0h0m-26-15h0m-26 15h0m-17 0h0m-103 60h0m25-45h0m52 30h0m17-30h0m43 15h0m17 0h0m35 0h0m-181 104h0m0 30h0m404 74h0m-8-15h0m-215 15h0m-17 0h0m-86 0h0m-52 30h0m95 15h0m51-30h0m224 0h0m-404 313h0m-35 0h0" stroke="#90140b" stroke-width="23.5" stroke-linecap="round" fill="none"/><path transform="scale(.1)" d="M650 3801h0m68 119h0m-86 0h0m-223 30h0m43-15h0m77 15h0m112-15h0m69 30h0m-138 59h0m-26-15h0m-240 30h0m-112-15h0m17 60h0m9-15h0m8 15h0m215-15h0m43 15h0m78-15h0m17 30h0m86 0h0m26 15h0m-250 44h0m-103-29h0m-146 14h0m-17 0h0m34 30h0m60 45h0m43-45h0m78 15h0m0 30h0m17-30h0m129-15h0m8 15h0m18 30h0m8-15h0m17 0h0m9-15h0m9-15h0m120 30h0m-9 45h0m-34 30h0m-9-15h0m-8-15h0m-9 15h0m-26 15h0m-25-45h0m-61 15h0m-25-15h0m-190 30h0m-8 15h0m-86-30h0m-9-15h0m0 30h0m-17-30h0m120 89h0m43 15h0m396 0h0m17 30h0m-8 15h0m-9-15h0m-17 0h0m-267-15h0m-120 30h0m-43 15h0m-52 0h0m52 29h0m146 75h0m-172-30h0m-17 0h0m51 60h0m258 59h0" stroke="#902c0b" stroke-width="23.5" stroke-linecap="round" fill="none"/><path transform="scale(.1)" d="M237 3980h0m370-45h0m8 45h0m9-45h0m8 15h0m26-15h0m17 0h0m43 15h0m-51 59h0m-95-14h0m-51 0h0m-284 44h0m-17-30h0m8 45h0m9 15h0m327 30h0m34 0h0m43-15h0m-9 74h0m-8-44h0m-9 15h0m-301 14h0m-26 15h0m-129-15h0m104 30h0m266 15h0m0 30h0m181 15h0m-60 45h0m-78-15h0m-43-15h0m-172 0h0m-155 0h0m-34 0h0m155 89h0m43-45h0m34 30h0m9-15h0m8-15h0m112 15h0m60-15h0m190 60h0m-18 30h0m-120-30h0m-26 15h0m-34 0h0m-9 15h0m-17-30h0m-163 15h0m-35 89h0m17 0h0m9-44h0m0 29h0m17 0h0m43-15h0m9 15h0m60-15h0m77-14h0m35 0h0m26 44h0m43-44h0m8 14h0m0 30h0m103 0h0m35 30h0m-189 0h0m-9-15h0m-43 45h0m-43-15h0m-60 15h0m-69 0h0m-43-45h0m0 90h0m34 0h0m18-30h0m94 44h0m52-29h0m8 15h0m26 14h0m-8 15h0" stroke="#90430b" stroke-width="23.5" stroke-linecap="round" fill="none"/><path transform="scale(.1)" d="M693 3965h0m-413 119h0m-95 134h0m86-30h0m404 45h0m-481 0h0m17 89h0m129-15h0m43 15h0m17-30h0m207 0h0m8 15h0m52 30h0m-60 15h0m-9 15h0m-9 15h0m-137 0h0m-69 0h0m60 74h0m17-30h0m129 15h0m52-29h0m0 29h0m103-29h0m43 44h0m43-15h0m26 15h0m-456 45h0m138 60h0m26-15h0m34 0h0" stroke="#905b0b" stroke-width="23.5" stroke-linecap="round" fill="none"/><path transform="scale(.1)" d="M641 4024h0m-26 134h0m-438 15h0m77 75h0m163 74h0m129 15h0m284 45h0m-430-30h0m26 104h0m370-15h0m60-15h0" stroke="#90730b" stroke-width="23.5" stroke-linecap="round" fill="none"/><path transform="scale(.1)" d="M349 4292h0m60 45h0m456 75h0m-18 59h0m-17 0h0m-232 15h0" stroke="#908b0b" stroke-width="23.5" stroke-linecap="round" fill="none"/><path transform="scale(.1)" d="M512 4069h0m120 60h0m-51 119h0m-224 30h0m430 29h0m-473 45h0m232 74h0m207 0h0m8-14h0m61 14h0" stroke="#90a30b" stroke-width="23.5" stroke-linecap="round" fill="none"/><path transform="scale(.1)" d="M701 4248h0m-60 134h0m26 44h0" stroke="#90bb0b" stroke-width="23.5" stroke-linecap="round" fill="none"/><path transform="scale(.1)" d="M658 3846h0m9 14h0m26-44h0m-9 74h0m-9 15h0m-8-15h0m-396 90h0m17-30h0m0 30h0m9-15h0m17-30h0m9 15h0m0 30h0m8-15h0m9-15h0m9 15h0m77-15h0m9-15h0m8 45h0m26-45h0m9 15h0m25 15h0m-43 74h0m-154-30h0m395 149h0m-17-29h0m-103 29h0m-17 0h0m-129 15h0m8 15h0m129-15h0m9 15h0m26 15h0m8-15h0m-318 343h0" stroke="#a8170d" stroke-width="23.5" stroke-linecap="round" fill="none"/><path transform="scale(.1)" d="M684 3831h0m34 29h0m9-14h0m-43 74h0m-327 30h0m60-15h0m43 45h0m26-45h0m60 15h0m9-15h0m9 45h0m51-30h0m60 15h0m9 15h0m-146 15h0m-17 29h0m-9-15h0m-241 30h0m-60-15h0m-17 30h0m60 15h0m52 30h0m249-45h0m26 15h0m34 0h0m69 30h0m0 59h0m-17 0h0m-78-15h0m-17 0h0m-275 0h0m-95-14h0m301 74h0m9-15h0m9-15h0m17 30h0m17 0h0m9-15h0m120 0h0m17 0h0m9 15h0m8-15h0m18 30h0m-43 45h0m-52-30h0m-17 0h0m-35 30h0m-51-30h0m-318 15h0m129 74h0m490 75h0m-35-30h0m-8 15h0m-456 15h0m-86-30h0m52 89h0m8-44h0m17 29h0m9 15h0m9-15h0m172 0h0m0 30h0m-190 0h0m-25 45h0m-18 0h0m-8-15h0m378 89h0" stroke="#a82f0d" stroke-width="23.5" stroke-linecap="round" fill="none"/><path transform="scale(.1)" d="M615 3920h0m-8 45h0m17 0h0m8 15h0m18-30h0m17 0h0m17 0h0m17 0h0m-43 74h0m-17-29h0m-26 14h0m-26 15h0m-8 15h0m-35 0h0m-301-44h0m-25 44h0m-35 0h0m60 45h0m344-30h0m9 15h0m52 30h0m51-30h0m-43 45h0m-17 29h0m-17 0h0m-17-29h0m-18 0h0m-266 44h0m223 60h0m112-45h0m35 0h0m25 45h0m-34 30h0m-77 15h0m-9 15h0m-26-45h0m-8 15h0m-9 15h0m-17 0h0m-318 15h0m-9-15h0m-17 0h0m180 44h0m18 30h0m232-45h0m17 0h0m26 15h0m8-15h0m172 90h0m-17-30h0m-103 30h0m-52-30h0m-77 45h0m-17 0h0m-9-45h0m-189 0h0m-9 15h0m-8-15h0m0 60h0m0 29h0m232 15h0m112-15h0m120-29h0m17 0h0m18 29h0m17 30h0m-69 0h0m-26 45h0m-17 0h0m-17 0h0m-52 0h0m-17 0h0m-95-15h0m-8 15h0m-52-30h0m-69 0h0m0 30h0m-8-45h0m-9 15h0m-69 0h0m-34 60h0m43-15h0m43 15h0m17 0h0m0 29h0m112-44h0m17 0h0m0 30h0m9 14h0m17 0h0m43-44h0m34 30h0m9 14h0m9-14h0m8-15h0m9 15h0m-86 29h0" stroke="#a8470d" stroke-width="23.5" stroke-linecap="round" fill="none"/><path transform="scale(.1)" d="M598 3980h0m69 0h0m0 59h0m-43-44h0m-17 29h0m-448 149h0m568 60h0m-172 0h0m26 104h0m26-15h0m17 0h0m26 15h0m103 60h0m-138 0h0m-284-15h0m353 44h0m0 30h0m43-15h0m34 0h0m9-15h0m9 15h0m25 75h0m-17-30h0m-8 15h0m-86-30h0m-61 15h0m-120 30h0m-43-45h0m-77 15h0m-43 45h0m111 44h0m86 0h0m215-44h0" stroke="#a85f0d" stroke-width="23.5" stroke-linecap="round" fill="none"/><path transform="scale(.1)" d="M641 3965h0m-60 44h0m-336 15h0m-103 149h0m645 164h0m-69 119h0m-154 119h0" stroke="#a8770d" stroke-width="23.5" stroke-linecap="round" fill="none"/><path transform="scale(.1)" d="M581 3920h0m112 75h0m-430 29h0m-9-15h0m249 45h0m52 328h0m-26 44h0m189 0h0m52 60h0m-146 15h0m-353 15h0" stroke="#a88e0d" stroke-width="23.5" stroke-linecap="round" fill="none"/><path transform="scale(.1)" d="M650 3980h0m25 15h0m-43 14h0m-34 0h0m-370 15h0m473 75h0m-51 149h0m154 89h0m-17 89h0m60 15h0m-43 45h0m-77-15h0m-155 30h0m-232-15h0m69 60h0" stroke="#a8a60d" stroke-width="23.5" stroke-linecap="round" fill="none"/><path transform="scale(.1)" d="M589 3995h0m-94 14h0m-284-14h0m482 89h0m-164 194h0m-344-30h0m430 89h0m-17 89h0m129-14h0m138 59h0m-284 15h0" stroke="#a8be0d" stroke-width="23.5" stroke-linecap="round" fill="none"/><path transform="scale(.1)" d="M624 4173h0m112 253h0" stroke="#a8d60d" stroke-width="23.5" stroke-linecap="round" fill="none"/><path transform="scale(.1)" d="M684 3801h0m-9 15h0m9 44h0m26 15h0m-35 0h0m-404 75h0m35 0h0m68 0h0m9-15h0m86 30h0m17 0h0m52-30h0m0 30h0m17 0h0m-95 44h0m-163-14h0m404 134h0m-8 14h0m-276 30h0m138 0h0m-241 298h0" stroke="#c01a0f" stroke-width="23.5" stroke-linecap="round" fill="none"/><path transform="scale(.1)" d="M701 3831h0m0 29h0m17-29h0m-17 89h0m-8-45h0m0 30h0m-95 15h0m-318 45h0m112-15h0m120 30h0m60-15h0m138-30h0m0 60h0m-198 44h0m-9-44h0m-25 44h0m-9-44h0m0 29h0m-172 0h0m-95 15h0m0 60h0m9-45h0m69 0h0m8 15h0m181-15h0m52 0h0m17 0h0m8 15h0m9 15h0m95-15h0m17 0h0m17 0h0m-9 74h0m-17 0h0m-112 15h0m-361-29h0m-8-15h0m335 104h0m9-15h0m120-30h0m0 30h0m9-15h0m17 0h0m0 30h0m26-15h0m-69 60h0m-9-15h0m-17 0h0m-267 44h0m310 30h0m215 75h0m-499-30h0m-34 89h0m8-44h0m129 44h0m9-15h0m26 15h0m-172 60h0m129 15h0m120 59h0" stroke="#c0320f" stroke-width="23.5" stroke-linecap="round" fill="none"/><path transform="scale(.1)" d="M581 3950h0m0 30h0m120 0h0m-26 44h0m-25-15h0m-52 30h0m-69 0h0m-292-30h0m17 90h0m43-15h0m232-15h0m43-15h0m35 0h0m25 15h0m43 45h0m-25 15h0m-9-15h0m-17 89h0m8 15h0m18 0h0m51 0h0m-8 15h0m-26 45h0m-121 0h0m-154 29h0m154 0h0m9 15h0m34 0h0m69 0h0m-309 90h0m137 29h0m17 0h0m26 15h0m9-15h0m8 15h0m26-15h0m121 0h0m146-15h0m34 30h0m-51 30h0m-104 30h0m-8-15h0m-35 0h0m-8 15h0m-17 0h0m-9-15h0m-69-30h0m-26 15h0m-8-15h0m-17 30h0m-18 0h0m-8-15h0m-17 0h0m-26 15h0m-60 15h0m-18 0h0m-17 0h0m9 15h0m0 30h0m51-30h0m121 0h0m8 15h0m9 15h0m60-15h0m17 29h0m18 0h0m8-44h0m9 15h0m0 29h0m26-44h0m8 44h0" stroke="#c04a0f" stroke-width="23.5" stroke-linecap="round" fill="none"/><path transform="scale(.1)" d="M598 3950h0m9 45h0m-319 104h0m276 179h0m0 148h0m249 75h0m-52 0h0m-60-15h0m-17 0h0m-77 15h0m-18-30h0m-25 45h0m-26-15h0m-52 0h0m-43 15h0m164 15h0m0 30h0m17-30h0m129 15h0" stroke="#c0620f" stroke-width="23.5" stroke-linecap="round" fill="none"/><path transform="scale(.1)" d="M598 4158h0m34 90h0m0 89h0m138 60h0m-258 59h0m120-30h0m129 45h0m-146 15h0m-137 30h0m-95-15h0m361 30h0" stroke="#c07a0f" stroke-width="23.5" stroke-linecap="round" fill="none"/><path transform="scale(.1)" d="M598 4307h0m198 194h0m-43-15h0m-9 15h0m-17 0h0m-86 60h0" stroke="#c0920f" stroke-width="23.5" stroke-linecap="round" fill="none"/><path transform="scale(.1)" d="M521 3965h0m180 74h0m-26 164h0m-94 75h0m51 29h0m-309 60h0m292 149h0m-60-45h0m-224 30h0m129 45h0m319-15h0" stroke="#c0aa0f" stroke-width="23.5" stroke-linecap="round" fill="none"/><path transform="scale(.1)" d="M340 4337h0m258 0h0m-249 15h0m232 74h0m155 30h0m-112 105h0m103 0h0" stroke="#c0c20f" stroke-width="23.5" stroke-linecap="round" fill="none"/><path transform="scale(.1)" d="M693 3846h0m17 0h0m8 44h0m-223 90h0m-215 15h0m-9 14h0m-94 75h0m8 15h0m121-30h0m-9 432h0" stroke="#d81e11" stroke-width="23.5" stroke-linecap="round" fill="none"/><path transform="scale(.1)" d="M710 3905h0m-9-15h0m-481 90h0m34-30h0m9 15h0m215 15h0m68 0h0m18-30h0m8-15h0m17 0h0m95 104h0m-26-44h0m-155 29h0m-8 15h0m-9-44h0m-8 14h0m-190 0h0m0 30h0m-8-15h0m-17-29h0m309 89h0m-378 30h0m206 59h0m232 15h0m26 45h0m-69 0h0m233 134h0m-9-15h0m-17 0h0m-439 45h0m-17 29h0m17 0h0m155 60h0m-9-15h0m-154 30h0m-9 15h0m-17-30h0m-9 15h0m0 30h0m155 0h0" stroke="#d83611" stroke-width="23.5" stroke-linecap="round" fill="none"/><path transform="scale(.1)" d="M254 3980h0m335-15h0m112 44h0m-17 0h0m-34 30h0m-26-15h0m-60 15h0m-336-44h0m-43 74h0m78 15h0m34-30h0m189 0h0m52 30h0m120-30h0m17 0h0m-60 164h0m69 0h0m-112 74h0m0 30h0m17 30h0m-25 45h0m-233-45h0m147 104h0m77-44h0m0 29h0m9 15h0m8-44h0m95 44h0m43 15h0m-35 0h0m-8 15h0m-9-15h0m0 30h0m-94-15h0m-35 30h0m-163-15h0m-17-30h0m120 90h0m163-15h0m18 0h0m8 15h0m26-15h0m43-15h0m9 15h0m-95 44h0" stroke="#d84e11" stroke-width="23.5" stroke-linecap="round" fill="none"/><path transform="scale(.1)" d="M245 3965h0m448 59h0m-78 15h0m-129-15h0m138 30h0m17 0h0m26 75h0m-17 29h0m8 45h0m-103 89h0m9 15h0m0 30h0m17-30h0m301 134h0m-138 30h0m-8 45h0m-104 0h0m-154 30h0m8 15h0m9-15h0m0 29h0m8-14h0m9-15h0m9-15h0m8 15h0m146-15h0m35 0h0" stroke="#d86511" stroke-width="23.5" stroke-linecap="round" fill="none"/><path transform="scale(.1)" d="M529 3980h0m-361 149h0m482 178h0m8-15h0m-309 90h0m404 74h0m-267 75h0m35 30h0m197-15h0" stroke="#d87d11" stroke-width="23.5" stroke-linecap="round" fill="none"/><path transform="scale(.1)" d="M271 4069h0m318 15h0m26 342h0m-163 135h0" stroke="#d89511" stroke-width="23.5" stroke-linecap="round" fill="none"/><path transform="scale(.1)" d="M675 4084h0m-94 372h0m163-15h0m-8 45h0m-18 0h0m-25 15h0m-207-30h0m-129 15h0m121 89h0m25-44h0" stroke="#d8ad11" stroke-width="23.5" stroke-linecap="round" fill="none"/><path transform="scale(.1)" d="M632 4039h0m-197 522h0m77 14h0" stroke="#d8c511" stroke-width="23.5" stroke-linecap="round" fill="none"/></g><linearGradient id="lgx"><stop offset="0" stop-color="#000"/><stop offset="1" stop-color="#ff2a0a"/></linearGradient><linearGradient id="lgy" x1="0" y1="1" x2="0" y2="0"><stop offset="0" stop-color="#000"/><stop offset="1" stop-color="#38ff1c"/></linearGradient></defs>
<use href="#mH" transform="translate(0 0)"/>
<use href="#mV" transform="translate(90 0)"/>
<use href="#mGV" transform="translate(180 0)"/>
<use href="#mH" transform="translate(343.3 5)"/>
<use href="#mA" transform="translate(432.8 5)"/>
<use href="#mHA" transform="translate(522.3 5)"/>
<text x="52.3" y="371.1" text-anchor="middle" font-style="italic">HNRNPH1</text>
<text x="141" y="371.1" text-anchor="middle" font-style="italic">VEGFA</text>
<text x="224.4" y="371.1" text-anchor="middle">Merge</text>
<text x="399.7" y="371.1" text-anchor="middle" font-style="italic">HNRNPH1</text>
<text x="488.6" y="371.1" text-anchor="middle" font-style="italic">AURKB</text>
<text x="572.1" y="371.1" text-anchor="middle">Merge</text>
<g style="isolation:isolate"><rect x="289.8" y="393.3" width="48.8" height="48.1" fill="url(#lgx)"/><rect x="289.8" y="393.3" width="48.8" height="48.1" fill="url(#lgy)" style="mix-blend-mode:screen"/></g>
<text x="288.2" y="407.7" text-anchor="end">3</text>
<text x="288.2" y="422" text-anchor="end">2</text>
<text x="288.2" y="435.5" text-anchor="end">1</text>
<text x="277.6" y="421" text-anchor="middle" font-style="italic" transform="rotate(-90 277.6 421)">VEGFA</text>
<text x="293.3" y="446.6" text-anchor="end" transform="rotate(-45 293.3 446.6)">0.0</text>
<text x="304.7" y="446.6" text-anchor="end" transform="rotate(-45 304.7 446.6)">0.5</text>
<text x="316.1" y="446.6" text-anchor="end" transform="rotate(-45 316.1 446.6)">1.0</text>
<text x="327.5" y="446.6" text-anchor="end" transform="rotate(-45 327.5 446.6)">1.5</text>
<text x="338.9" y="446.6" text-anchor="end" transform="rotate(-45 338.9 446.6)">2.0</text>
<text x="311.8" y="465" text-anchor="middle" font-style="italic">HNRNPH1</text>
<g style="isolation:isolate"><rect x="635.2" y="393.3" width="48.8" height="48.1" fill="url(#lgx)"/><rect x="635.2" y="393.3" width="48.8" height="48.1" fill="url(#lgy)" style="mix-blend-mode:screen"/></g>
<text x="633.6" y="401.7" text-anchor="end">0.5</text>
<text x="633.6" y="419.2" text-anchor="end">0.3</text>
<text x="633.6" y="436" text-anchor="end">0.1</text>
<text x="618.9" y="421" text-anchor="middle" font-style="italic" transform="rotate(-90 618.9 421)">AURKB</text>
<text x="638.7" y="446.6" text-anchor="end" transform="rotate(-45 638.7 446.6)">0.0</text>
<text x="650.1" y="446.6" text-anchor="end" transform="rotate(-45 650.1 446.6)">0.5</text>
<text x="661.5" y="446.6" text-anchor="end" transform="rotate(-45 661.5 446.6)">1.0</text>
<text x="672.9" y="446.6" text-anchor="end" transform="rotate(-45 672.9 446.6)">1.5</text>
<text x="684.3" y="446.6" text-anchor="end" transform="rotate(-45 684.3 446.6)">2.0</text>
<text x="657.2" y="465" text-anchor="middle" font-style="italic">HNRNPH1</text>
</svg>
</body></html>
